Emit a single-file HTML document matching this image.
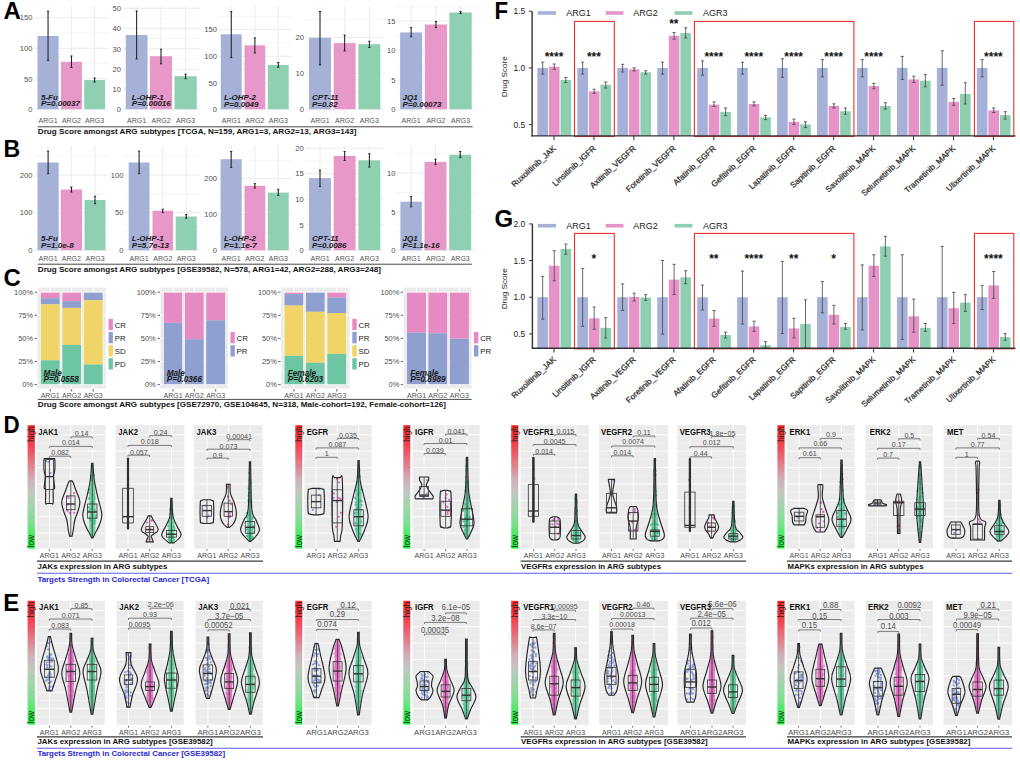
<!DOCTYPE html>
<html><head><meta charset="utf-8"><style>
html,body{margin:0;padding:0;background:#fff;}
svg{display:block;font-family:"Liberation Sans", sans-serif;}
</style></head><body>
<svg width="1020" height="762" viewBox="0 0 1020 762">
<rect width="1020" height="762" fill="#fff"/>
<line x1="34.2" y1="94" x2="108.2" y2="94" stroke="#f3f3f3" stroke-width="0.8" />
<line x1="34.2" y1="63.5" x2="108.2" y2="63.5" stroke="#f3f3f3" stroke-width="0.8" />
<line x1="34.2" y1="33" x2="108.2" y2="33" stroke="#f3f3f3" stroke-width="0.8" />
<line x1="34.2" y1="109.2" x2="108.2" y2="109.2" stroke="#e6e6e6" stroke-width="0.8" />
<text x="32.5" y="111.9" font-size="7.6" fill="#4d4d4d" text-anchor="end" >0</text>
<line x1="34.2" y1="78.8" x2="108.2" y2="78.8" stroke="#e6e6e6" stroke-width="0.8" />
<text x="32.5" y="81.5" font-size="7.6" fill="#4d4d4d" text-anchor="end" >50</text>
<line x1="34.2" y1="48.3" x2="108.2" y2="48.3" stroke="#e6e6e6" stroke-width="0.8" />
<text x="32.5" y="51" font-size="7.6" fill="#4d4d4d" text-anchor="end" >100</text>
<line x1="34.2" y1="17.7" x2="108.2" y2="17.7" stroke="#e6e6e6" stroke-width="0.8" />
<text x="32.5" y="20.4" font-size="7.6" fill="#4d4d4d" text-anchor="end" >150</text>
<line x1="48.05" y1="6.4" x2="48.05" y2="113" stroke="#e6e6e6" stroke-width="0.8" />
<line x1="71.45" y1="6.4" x2="71.45" y2="113" stroke="#e6e6e6" stroke-width="0.8" />
<line x1="94.6" y1="6.4" x2="94.6" y2="113" stroke="#e6e6e6" stroke-width="0.8" />
<rect x="37.5" y="36" width="21.1" height="73.2" fill="#a6b1d7" />
<rect x="61" y="61.8" width="20.9" height="47.4" fill="#e897c9" />
<rect x="84.2" y="80" width="20.8" height="29.2" fill="#8fcfb2" />
<line x1="48.05" y1="11.3" x2="48.05" y2="60.3" stroke="#1a1a1a" stroke-width="1" />
<line x1="46.95" y1="11.3" x2="49.15" y2="11.3" stroke="#1a1a1a" stroke-width="0.9" />
<line x1="46.95" y1="60.3" x2="49.15" y2="60.3" stroke="#1a1a1a" stroke-width="0.9" />
<text x="48.05" y="123.2" font-size="7" fill="#555" text-anchor="middle" >ARG1</text>
<line x1="71.45" y1="56" x2="71.45" y2="67.5" stroke="#1a1a1a" stroke-width="1" />
<line x1="70.35" y1="56" x2="72.55" y2="56" stroke="#1a1a1a" stroke-width="0.9" />
<line x1="70.35" y1="67.5" x2="72.55" y2="67.5" stroke="#1a1a1a" stroke-width="0.9" />
<text x="71.45" y="123.2" font-size="7" fill="#555" text-anchor="middle" >ARG2</text>
<line x1="94.6" y1="78" x2="94.6" y2="82" stroke="#1a1a1a" stroke-width="1" />
<line x1="93.5" y1="78" x2="95.7" y2="78" stroke="#1a1a1a" stroke-width="0.9" />
<line x1="93.5" y1="82" x2="95.7" y2="82" stroke="#1a1a1a" stroke-width="0.9" />
<text x="94.6" y="123.2" font-size="7" fill="#555" text-anchor="middle" >ARG3</text>
<text x="41" y="100" font-size="8" fill="#1a1a1a" font-weight="bold" font-style="italic" >5-Fu</text>
<text x="41" y="106.4" font-size="8" fill="#1a1a1a" font-weight="bold" font-style="italic" >P=0.00037</text>
<line x1="122.5" y1="99.2" x2="200" y2="99.2" stroke="#f3f3f3" stroke-width="0.8" />
<line x1="122.5" y1="79.2" x2="200" y2="79.2" stroke="#f3f3f3" stroke-width="0.8" />
<line x1="122.5" y1="59" x2="200" y2="59" stroke="#f3f3f3" stroke-width="0.8" />
<line x1="122.5" y1="38.5" x2="200" y2="38.5" stroke="#f3f3f3" stroke-width="0.8" />
<line x1="122.5" y1="18.3" x2="200" y2="18.3" stroke="#f3f3f3" stroke-width="0.8" />
<line x1="122.5" y1="109.2" x2="200" y2="109.2" stroke="#e6e6e6" stroke-width="0.8" />
<text x="121" y="111.9" font-size="7.6" fill="#4d4d4d" text-anchor="end" >0</text>
<line x1="122.5" y1="89.2" x2="200" y2="89.2" stroke="#e6e6e6" stroke-width="0.8" />
<text x="121" y="91.9" font-size="7.6" fill="#4d4d4d" text-anchor="end" >10</text>
<line x1="122.5" y1="69.2" x2="200" y2="69.2" stroke="#e6e6e6" stroke-width="0.8" />
<text x="121" y="71.9" font-size="7.6" fill="#4d4d4d" text-anchor="end" >20</text>
<line x1="122.5" y1="48.8" x2="200" y2="48.8" stroke="#e6e6e6" stroke-width="0.8" />
<text x="121" y="51.5" font-size="7.6" fill="#4d4d4d" text-anchor="end" >30</text>
<line x1="122.5" y1="28.3" x2="200" y2="28.3" stroke="#e6e6e6" stroke-width="0.8" />
<text x="121" y="31" font-size="7.6" fill="#4d4d4d" text-anchor="end" >40</text>
<line x1="122.5" y1="8.3" x2="200" y2="8.3" stroke="#e6e6e6" stroke-width="0.8" />
<text x="121" y="11" font-size="7.6" fill="#4d4d4d" text-anchor="end" >50</text>
<line x1="136.65" y1="6.4" x2="136.65" y2="113" stroke="#e6e6e6" stroke-width="0.8" />
<line x1="161" y1="6.4" x2="161" y2="113" stroke="#e6e6e6" stroke-width="0.8" />
<line x1="185.6" y1="6.4" x2="185.6" y2="113" stroke="#e6e6e6" stroke-width="0.8" />
<rect x="125.8" y="35" width="21.7" height="74.2" fill="#a6b1d7" />
<rect x="150" y="56.2" width="22" height="53" fill="#e897c9" />
<rect x="174.5" y="76.2" width="22.2" height="33" fill="#8fcfb2" />
<line x1="136.65" y1="11" x2="136.65" y2="59" stroke="#1a1a1a" stroke-width="1" />
<line x1="135.55" y1="11" x2="137.75" y2="11" stroke="#1a1a1a" stroke-width="0.9" />
<line x1="135.55" y1="59" x2="137.75" y2="59" stroke="#1a1a1a" stroke-width="0.9" />
<text x="136.65" y="123.2" font-size="7" fill="#555" text-anchor="middle" >ARG1</text>
<line x1="161" y1="49.2" x2="161" y2="63.8" stroke="#1a1a1a" stroke-width="1" />
<line x1="159.9" y1="49.2" x2="162.1" y2="49.2" stroke="#1a1a1a" stroke-width="0.9" />
<line x1="159.9" y1="63.8" x2="162.1" y2="63.8" stroke="#1a1a1a" stroke-width="0.9" />
<text x="161" y="123.2" font-size="7" fill="#555" text-anchor="middle" >ARG2</text>
<line x1="185.6" y1="74.2" x2="185.6" y2="78.7" stroke="#1a1a1a" stroke-width="1" />
<line x1="184.5" y1="74.2" x2="186.7" y2="74.2" stroke="#1a1a1a" stroke-width="0.9" />
<line x1="184.5" y1="78.7" x2="186.7" y2="78.7" stroke="#1a1a1a" stroke-width="0.9" />
<text x="185.6" y="123.2" font-size="7" fill="#555" text-anchor="middle" >ARG3</text>
<text x="131.8" y="100" font-size="8" fill="#1a1a1a" font-weight="bold" font-style="italic" >L-OHP-1</text>
<text x="131.8" y="106.4" font-size="8" fill="#1a1a1a" font-weight="bold" font-style="italic" >P=0.00016</text>
<line x1="218.5" y1="96.1" x2="292" y2="96.1" stroke="#f3f3f3" stroke-width="0.8" />
<line x1="218.5" y1="69.6" x2="292" y2="69.6" stroke="#f3f3f3" stroke-width="0.8" />
<line x1="218.5" y1="43" x2="292" y2="43" stroke="#f3f3f3" stroke-width="0.8" />
<line x1="218.5" y1="16.3" x2="292" y2="16.3" stroke="#f3f3f3" stroke-width="0.8" />
<line x1="218.5" y1="109.3" x2="292" y2="109.3" stroke="#e6e6e6" stroke-width="0.8" />
<text x="217" y="112" font-size="7.6" fill="#4d4d4d" text-anchor="end" >0</text>
<line x1="218.5" y1="83" x2="292" y2="83" stroke="#e6e6e6" stroke-width="0.8" />
<text x="217" y="85.7" font-size="7.6" fill="#4d4d4d" text-anchor="end" >50</text>
<line x1="218.5" y1="56.3" x2="292" y2="56.3" stroke="#e6e6e6" stroke-width="0.8" />
<text x="217" y="59" font-size="7.6" fill="#4d4d4d" text-anchor="end" >100</text>
<line x1="218.5" y1="29.6" x2="292" y2="29.6" stroke="#e6e6e6" stroke-width="0.8" />
<text x="217" y="32.3" font-size="7.6" fill="#4d4d4d" text-anchor="end" >150</text>
<line x1="231.25" y1="6.4" x2="231.25" y2="113" stroke="#e6e6e6" stroke-width="0.8" />
<line x1="254.9" y1="6.4" x2="254.9" y2="113" stroke="#e6e6e6" stroke-width="0.8" />
<line x1="278.25" y1="6.4" x2="278.25" y2="113" stroke="#e6e6e6" stroke-width="0.8" />
<rect x="220.8" y="34.3" width="20.9" height="74.9" fill="#a6b1d7" />
<rect x="244.5" y="45.3" width="20.8" height="63.9" fill="#e897c9" />
<rect x="267.8" y="65" width="20.9" height="44.2" fill="#8fcfb2" />
<line x1="231.25" y1="11.5" x2="231.25" y2="57.6" stroke="#1a1a1a" stroke-width="1" />
<line x1="230.15" y1="11.5" x2="232.35" y2="11.5" stroke="#1a1a1a" stroke-width="0.9" />
<line x1="230.15" y1="57.6" x2="232.35" y2="57.6" stroke="#1a1a1a" stroke-width="0.9" />
<text x="231.25" y="123.2" font-size="7" fill="#555" text-anchor="middle" >ARG1</text>
<line x1="254.9" y1="37.9" x2="254.9" y2="53" stroke="#1a1a1a" stroke-width="1" />
<line x1="253.8" y1="37.9" x2="256" y2="37.9" stroke="#1a1a1a" stroke-width="0.9" />
<line x1="253.8" y1="53" x2="256" y2="53" stroke="#1a1a1a" stroke-width="0.9" />
<text x="254.9" y="123.2" font-size="7" fill="#555" text-anchor="middle" >ARG2</text>
<line x1="278.25" y1="62.6" x2="278.25" y2="67.2" stroke="#1a1a1a" stroke-width="1" />
<line x1="277.15" y1="62.6" x2="279.35" y2="62.6" stroke="#1a1a1a" stroke-width="0.9" />
<line x1="277.15" y1="67.2" x2="279.35" y2="67.2" stroke="#1a1a1a" stroke-width="0.9" />
<text x="278.25" y="123.2" font-size="7" fill="#555" text-anchor="middle" >ARG3</text>
<text x="224" y="99.6" font-size="8" fill="#1a1a1a" font-weight="bold" font-style="italic" >L-OHP-2</text>
<text x="224" y="106.5" font-size="8" fill="#1a1a1a" font-weight="bold" font-style="italic" >P=0.0049</text>
<line x1="305.5" y1="91.3" x2="383.5" y2="91.3" stroke="#f3f3f3" stroke-width="0.8" />
<line x1="305.5" y1="55.4" x2="383.5" y2="55.4" stroke="#f3f3f3" stroke-width="0.8" />
<line x1="305.5" y1="19.7" x2="383.5" y2="19.7" stroke="#f3f3f3" stroke-width="0.8" />
<line x1="305.5" y1="109.3" x2="383.5" y2="109.3" stroke="#e6e6e6" stroke-width="0.8" />
<text x="304" y="112" font-size="7.6" fill="#4d4d4d" text-anchor="end" >0</text>
<line x1="305.5" y1="73.3" x2="383.5" y2="73.3" stroke="#e6e6e6" stroke-width="0.8" />
<text x="304" y="76" font-size="7.6" fill="#4d4d4d" text-anchor="end" >10</text>
<line x1="305.5" y1="37.6" x2="383.5" y2="37.6" stroke="#e6e6e6" stroke-width="0.8" />
<text x="304" y="40.3" font-size="7.6" fill="#4d4d4d" text-anchor="end" >20</text>
<line x1="320" y1="6.4" x2="320" y2="113" stroke="#e6e6e6" stroke-width="0.8" />
<line x1="344.65" y1="6.4" x2="344.65" y2="113" stroke="#e6e6e6" stroke-width="0.8" />
<line x1="369.35" y1="6.4" x2="369.35" y2="113" stroke="#e6e6e6" stroke-width="0.8" />
<rect x="309" y="37.9" width="22" height="71.3" fill="#a6b1d7" />
<rect x="333.7" y="43.1" width="21.9" height="66.1" fill="#e897c9" />
<rect x="358.4" y="44.2" width="21.9" height="65" fill="#8fcfb2" />
<line x1="320" y1="11.5" x2="320" y2="64.8" stroke="#1a1a1a" stroke-width="1" />
<line x1="318.9" y1="11.5" x2="321.1" y2="11.5" stroke="#1a1a1a" stroke-width="0.9" />
<line x1="318.9" y1="64.8" x2="321.1" y2="64.8" stroke="#1a1a1a" stroke-width="0.9" />
<text x="320" y="123.2" font-size="7" fill="#555" text-anchor="middle" >ARG1</text>
<line x1="344.65" y1="35.1" x2="344.65" y2="51" stroke="#1a1a1a" stroke-width="1" />
<line x1="343.55" y1="35.1" x2="345.75" y2="35.1" stroke="#1a1a1a" stroke-width="0.9" />
<line x1="343.55" y1="51" x2="345.75" y2="51" stroke="#1a1a1a" stroke-width="0.9" />
<text x="344.65" y="123.2" font-size="7" fill="#555" text-anchor="middle" >ARG2</text>
<line x1="369.35" y1="41.2" x2="369.35" y2="47.5" stroke="#1a1a1a" stroke-width="1" />
<line x1="368.25" y1="41.2" x2="370.45" y2="41.2" stroke="#1a1a1a" stroke-width="0.9" />
<line x1="368.25" y1="47.5" x2="370.45" y2="47.5" stroke="#1a1a1a" stroke-width="0.9" />
<text x="369.35" y="123.2" font-size="7" fill="#555" text-anchor="middle" >ARG3</text>
<text x="312" y="99.6" font-size="8" fill="#1a1a1a" font-weight="bold" font-style="italic" >CPT-11</text>
<text x="312" y="106.5" font-size="8" fill="#1a1a1a" font-weight="bold" font-style="italic" >P=0.82</text>
<line x1="396.7" y1="94.7" x2="475.1" y2="94.7" stroke="#f3f3f3" stroke-width="0.8" />
<line x1="396.7" y1="65.3" x2="475.1" y2="65.3" stroke="#f3f3f3" stroke-width="0.8" />
<line x1="396.7" y1="35.8" x2="475.1" y2="35.8" stroke="#f3f3f3" stroke-width="0.8" />
<line x1="396.7" y1="6.7" x2="475.1" y2="6.7" stroke="#f3f3f3" stroke-width="0.8" />
<line x1="396.7" y1="109.3" x2="475.1" y2="109.3" stroke="#e6e6e6" stroke-width="0.8" />
<text x="395.5" y="112" font-size="7.6" fill="#4d4d4d" text-anchor="end" >0</text>
<line x1="396.7" y1="80.2" x2="475.1" y2="80.2" stroke="#e6e6e6" stroke-width="0.8" />
<text x="395.5" y="82.9" font-size="7.6" fill="#4d4d4d" text-anchor="end" >5</text>
<line x1="396.7" y1="50.5" x2="475.1" y2="50.5" stroke="#e6e6e6" stroke-width="0.8" />
<text x="395.5" y="53.2" font-size="7.6" fill="#4d4d4d" text-anchor="end" >10</text>
<line x1="396.7" y1="21.1" x2="475.1" y2="21.1" stroke="#e6e6e6" stroke-width="0.8" />
<text x="395.5" y="23.8" font-size="7.6" fill="#4d4d4d" text-anchor="end" >15</text>
<line x1="411.15" y1="6.4" x2="411.15" y2="113" stroke="#e6e6e6" stroke-width="0.8" />
<line x1="435.95" y1="6.4" x2="435.95" y2="113" stroke="#e6e6e6" stroke-width="0.8" />
<line x1="460.55" y1="6.4" x2="460.55" y2="113" stroke="#e6e6e6" stroke-width="0.8" />
<rect x="400.1" y="32.4" width="22.1" height="76.8" fill="#a6b1d7" />
<rect x="424.9" y="24.5" width="22.1" height="84.7" fill="#e897c9" />
<rect x="449.4" y="12.5" width="22.3" height="96.7" fill="#8fcfb2" />
<line x1="411.15" y1="27.6" x2="411.15" y2="36.8" stroke="#1a1a1a" stroke-width="1" />
<line x1="410.05" y1="27.6" x2="412.25" y2="27.6" stroke="#1a1a1a" stroke-width="0.9" />
<line x1="410.05" y1="36.8" x2="412.25" y2="36.8" stroke="#1a1a1a" stroke-width="0.9" />
<text x="411.15" y="123.2" font-size="7" fill="#555" text-anchor="middle" >ARG1</text>
<line x1="435.95" y1="21.4" x2="435.95" y2="27.6" stroke="#1a1a1a" stroke-width="1" />
<line x1="434.85" y1="21.4" x2="437.05" y2="21.4" stroke="#1a1a1a" stroke-width="0.9" />
<line x1="434.85" y1="27.6" x2="437.05" y2="27.6" stroke="#1a1a1a" stroke-width="0.9" />
<text x="435.95" y="123.2" font-size="7" fill="#555" text-anchor="middle" >ARG2</text>
<line x1="460.55" y1="11.6" x2="460.55" y2="13.5" stroke="#1a1a1a" stroke-width="1" />
<line x1="459.45" y1="11.6" x2="461.65" y2="11.6" stroke="#1a1a1a" stroke-width="0.9" />
<line x1="459.45" y1="13.5" x2="461.65" y2="13.5" stroke="#1a1a1a" stroke-width="0.9" />
<text x="460.55" y="123.2" font-size="7" fill="#555" text-anchor="middle" >ARG3</text>
<text x="402.5" y="99.6" font-size="8" fill="#1a1a1a" font-weight="bold" font-style="italic" >JQ1</text>
<text x="402.5" y="106.5" font-size="8" fill="#1a1a1a" font-weight="bold" font-style="italic" >P=0.00073</text>
<line x1="37.8" y1="126.8" x2="472.6" y2="126.8" stroke="#333" stroke-width="0.9" />
<text x="37.8" y="134" font-size="8.1" fill="#111" font-weight="bold" textLength="318.7" lengthAdjust="spacingAndGlyphs" >Drug Score amongst ARG subtypes [TCGA, N=159, ARG1=3, ARG2=13, ARG3=143]</text>
<text x="3.4" y="19.4" font-size="24" fill="#000" font-weight="bold" >A</text>
<line x1="34.2" y1="231.4" x2="108.2" y2="231.4" stroke="#f3f3f3" stroke-width="0.8" />
<line x1="34.2" y1="193.8" x2="108.2" y2="193.8" stroke="#f3f3f3" stroke-width="0.8" />
<line x1="34.2" y1="156.2" x2="108.2" y2="156.2" stroke="#f3f3f3" stroke-width="0.8" />
<line x1="34.2" y1="250.2" x2="108.2" y2="250.2" stroke="#e6e6e6" stroke-width="0.8" />
<text x="32.5" y="252.9" font-size="7.6" fill="#4d4d4d" text-anchor="end" >0</text>
<line x1="34.2" y1="212.6" x2="108.2" y2="212.6" stroke="#e6e6e6" stroke-width="0.8" />
<text x="32.5" y="215.3" font-size="7.6" fill="#4d4d4d" text-anchor="end" >100</text>
<line x1="34.2" y1="175" x2="108.2" y2="175" stroke="#e6e6e6" stroke-width="0.8" />
<text x="32.5" y="177.7" font-size="7.6" fill="#4d4d4d" text-anchor="end" >200</text>
<line x1="48.1" y1="146" x2="48.1" y2="254" stroke="#e6e6e6" stroke-width="0.8" />
<line x1="71.4" y1="146" x2="71.4" y2="254" stroke="#e6e6e6" stroke-width="0.8" />
<line x1="95" y1="146" x2="95" y2="254" stroke="#e6e6e6" stroke-width="0.8" />
<rect x="37.5" y="162.5" width="21.2" height="87.7" fill="#a6b1d7" />
<rect x="60.8" y="189.5" width="21.2" height="60.7" fill="#e897c9" />
<rect x="84.5" y="200" width="21" height="50.2" fill="#8fcfb2" />
<line x1="48.1" y1="151.2" x2="48.1" y2="173.7" stroke="#1a1a1a" stroke-width="1" />
<line x1="47" y1="151.2" x2="49.2" y2="151.2" stroke="#1a1a1a" stroke-width="0.9" />
<line x1="47" y1="173.7" x2="49.2" y2="173.7" stroke="#1a1a1a" stroke-width="0.9" />
<text x="48.1" y="261.4" font-size="7" fill="#555" text-anchor="middle" >ARG1</text>
<line x1="71.4" y1="187" x2="71.4" y2="192" stroke="#1a1a1a" stroke-width="1" />
<line x1="70.3" y1="187" x2="72.5" y2="187" stroke="#1a1a1a" stroke-width="0.9" />
<line x1="70.3" y1="192" x2="72.5" y2="192" stroke="#1a1a1a" stroke-width="0.9" />
<text x="71.4" y="261.4" font-size="7" fill="#555" text-anchor="middle" >ARG2</text>
<line x1="95" y1="196.2" x2="95" y2="203.7" stroke="#1a1a1a" stroke-width="1" />
<line x1="93.9" y1="196.2" x2="96.1" y2="196.2" stroke="#1a1a1a" stroke-width="0.9" />
<line x1="93.9" y1="203.7" x2="96.1" y2="203.7" stroke="#1a1a1a" stroke-width="0.9" />
<text x="95" y="261.4" font-size="7" fill="#555" text-anchor="middle" >ARG3</text>
<text x="41" y="241" font-size="8" fill="#1a1a1a" font-weight="bold" font-style="italic" >5-Fu</text>
<text x="41" y="248" font-size="8" fill="#1a1a1a" font-weight="bold" font-style="italic" >P=1.0e-8</text>
<line x1="125" y1="231.4" x2="200" y2="231.4" stroke="#f3f3f3" stroke-width="0.8" />
<line x1="125" y1="193.8" x2="200" y2="193.8" stroke="#f3f3f3" stroke-width="0.8" />
<line x1="125" y1="156.2" x2="200" y2="156.2" stroke="#f3f3f3" stroke-width="0.8" />
<line x1="125" y1="250.2" x2="200" y2="250.2" stroke="#e6e6e6" stroke-width="0.8" />
<text x="123.5" y="252.9" font-size="7.6" fill="#4d4d4d" text-anchor="end" >0</text>
<line x1="125" y1="212.6" x2="200" y2="212.6" stroke="#e6e6e6" stroke-width="0.8" />
<text x="123.5" y="215.3" font-size="7.6" fill="#4d4d4d" text-anchor="end" >50</text>
<line x1="125" y1="175" x2="200" y2="175" stroke="#e6e6e6" stroke-width="0.8" />
<text x="123.5" y="177.7" font-size="7.6" fill="#4d4d4d" text-anchor="end" >100</text>
<line x1="139.1" y1="146" x2="139.1" y2="254" stroke="#e6e6e6" stroke-width="0.8" />
<line x1="162.75" y1="146" x2="162.75" y2="254" stroke="#e6e6e6" stroke-width="0.8" />
<line x1="186.2" y1="146" x2="186.2" y2="254" stroke="#e6e6e6" stroke-width="0.8" />
<rect x="128.7" y="162.5" width="20.8" height="87.7" fill="#a6b1d7" />
<rect x="152.5" y="210.7" width="20.5" height="39.5" fill="#e897c9" />
<rect x="175.7" y="216.5" width="21" height="33.7" fill="#8fcfb2" />
<line x1="139.1" y1="151.2" x2="139.1" y2="173.7" stroke="#1a1a1a" stroke-width="1" />
<line x1="138" y1="151.2" x2="140.2" y2="151.2" stroke="#1a1a1a" stroke-width="0.9" />
<line x1="138" y1="173.7" x2="140.2" y2="173.7" stroke="#1a1a1a" stroke-width="0.9" />
<text x="139.1" y="261.4" font-size="7" fill="#555" text-anchor="middle" >ARG1</text>
<line x1="162.75" y1="209.2" x2="162.75" y2="212.5" stroke="#1a1a1a" stroke-width="1" />
<line x1="161.65" y1="209.2" x2="163.85" y2="209.2" stroke="#1a1a1a" stroke-width="0.9" />
<line x1="161.65" y1="212.5" x2="163.85" y2="212.5" stroke="#1a1a1a" stroke-width="0.9" />
<text x="162.75" y="261.4" font-size="7" fill="#555" text-anchor="middle" >ARG2</text>
<line x1="186.2" y1="214.5" x2="186.2" y2="218.2" stroke="#1a1a1a" stroke-width="1" />
<line x1="185.1" y1="214.5" x2="187.3" y2="214.5" stroke="#1a1a1a" stroke-width="0.9" />
<line x1="185.1" y1="218.2" x2="187.3" y2="218.2" stroke="#1a1a1a" stroke-width="0.9" />
<text x="186.2" y="261.4" font-size="7" fill="#555" text-anchor="middle" >ARG3</text>
<text x="131.8" y="241" font-size="8" fill="#1a1a1a" font-weight="bold" font-style="italic" >L-OHP-1</text>
<text x="131.8" y="248" font-size="8" fill="#1a1a1a" font-weight="bold" font-style="italic" >P=5.7e-13</text>
<line x1="218.5" y1="232.5" x2="292" y2="232.5" stroke="#f3f3f3" stroke-width="0.8" />
<line x1="218.5" y1="196.5" x2="292" y2="196.5" stroke="#f3f3f3" stroke-width="0.8" />
<line x1="218.5" y1="160.3" x2="292" y2="160.3" stroke="#f3f3f3" stroke-width="0.8" />
<line x1="218.5" y1="250.3" x2="292" y2="250.3" stroke="#e6e6e6" stroke-width="0.8" />
<text x="217" y="253" font-size="7.6" fill="#4d4d4d" text-anchor="end" >0</text>
<line x1="218.5" y1="214.6" x2="292" y2="214.6" stroke="#e6e6e6" stroke-width="0.8" />
<text x="217" y="217.3" font-size="7.6" fill="#4d4d4d" text-anchor="end" >100</text>
<line x1="218.5" y1="178.4" x2="292" y2="178.4" stroke="#e6e6e6" stroke-width="0.8" />
<text x="217" y="181.1" font-size="7.6" fill="#4d4d4d" text-anchor="end" >200</text>
<line x1="231.15" y1="146" x2="231.15" y2="254" stroke="#e6e6e6" stroke-width="0.8" />
<line x1="254.9" y1="146" x2="254.9" y2="254" stroke="#e6e6e6" stroke-width="0.8" />
<line x1="278.25" y1="146" x2="278.25" y2="254" stroke="#e6e6e6" stroke-width="0.8" />
<rect x="220.6" y="159.2" width="21.1" height="91" fill="#a6b1d7" />
<rect x="244.5" y="185.8" width="20.8" height="64.4" fill="#e897c9" />
<rect x="267.8" y="192.6" width="20.9" height="57.6" fill="#8fcfb2" />
<line x1="231.15" y1="151.5" x2="231.15" y2="167.4" stroke="#1a1a1a" stroke-width="1" />
<line x1="230.05" y1="151.5" x2="232.25" y2="151.5" stroke="#1a1a1a" stroke-width="0.9" />
<line x1="230.05" y1="167.4" x2="232.25" y2="167.4" stroke="#1a1a1a" stroke-width="0.9" />
<text x="231.15" y="261.4" font-size="7" fill="#555" text-anchor="middle" >ARG1</text>
<line x1="254.9" y1="183.6" x2="254.9" y2="188" stroke="#1a1a1a" stroke-width="1" />
<line x1="253.8" y1="183.6" x2="256" y2="183.6" stroke="#1a1a1a" stroke-width="0.9" />
<line x1="253.8" y1="188" x2="256" y2="188" stroke="#1a1a1a" stroke-width="0.9" />
<text x="254.9" y="261.4" font-size="7" fill="#555" text-anchor="middle" >ARG2</text>
<line x1="278.25" y1="189.3" x2="278.25" y2="195.4" stroke="#1a1a1a" stroke-width="1" />
<line x1="277.15" y1="189.3" x2="279.35" y2="189.3" stroke="#1a1a1a" stroke-width="0.9" />
<line x1="277.15" y1="195.4" x2="279.35" y2="195.4" stroke="#1a1a1a" stroke-width="0.9" />
<text x="278.25" y="261.4" font-size="7" fill="#555" text-anchor="middle" >ARG3</text>
<text x="224" y="241" font-size="8" fill="#1a1a1a" font-weight="bold" font-style="italic" >L-OHP-2</text>
<text x="224" y="248" font-size="8" fill="#1a1a1a" font-weight="bold" font-style="italic" >P=1.1e-7</text>
<line x1="305.5" y1="237.5" x2="383.5" y2="237.5" stroke="#f3f3f3" stroke-width="0.8" />
<line x1="305.5" y1="211.9" x2="383.5" y2="211.9" stroke="#f3f3f3" stroke-width="0.8" />
<line x1="305.5" y1="186.2" x2="383.5" y2="186.2" stroke="#f3f3f3" stroke-width="0.8" />
<line x1="305.5" y1="160.8" x2="383.5" y2="160.8" stroke="#f3f3f3" stroke-width="0.8" />
<line x1="305.5" y1="250.3" x2="383.5" y2="250.3" stroke="#e6e6e6" stroke-width="0.8" />
<text x="303.8" y="253" font-size="7.6" fill="#4d4d4d" text-anchor="end" >0</text>
<line x1="305.5" y1="224.8" x2="383.5" y2="224.8" stroke="#e6e6e6" stroke-width="0.8" />
<text x="303.8" y="227.5" font-size="7.6" fill="#4d4d4d" text-anchor="end" >5</text>
<line x1="305.5" y1="199" x2="383.5" y2="199" stroke="#e6e6e6" stroke-width="0.8" />
<text x="303.8" y="201.7" font-size="7.6" fill="#4d4d4d" text-anchor="end" >10</text>
<line x1="305.5" y1="173.4" x2="383.5" y2="173.4" stroke="#e6e6e6" stroke-width="0.8" />
<text x="303.8" y="176.1" font-size="7.6" fill="#4d4d4d" text-anchor="end" >15</text>
<line x1="305.5" y1="148.2" x2="383.5" y2="148.2" stroke="#e6e6e6" stroke-width="0.8" />
<text x="303.8" y="150.9" font-size="7.6" fill="#4d4d4d" text-anchor="end" >20</text>
<line x1="320" y1="146" x2="320" y2="254" stroke="#e6e6e6" stroke-width="0.8" />
<line x1="344.65" y1="146" x2="344.65" y2="254" stroke="#e6e6e6" stroke-width="0.8" />
<line x1="369.35" y1="146" x2="369.35" y2="254" stroke="#e6e6e6" stroke-width="0.8" />
<rect x="309" y="178.1" width="22" height="72.1" fill="#a6b1d7" />
<rect x="333.7" y="155.9" width="21.9" height="94.3" fill="#e897c9" />
<rect x="358.4" y="160.3" width="21.9" height="89.9" fill="#8fcfb2" />
<line x1="320" y1="170.1" x2="320" y2="186.6" stroke="#1a1a1a" stroke-width="1" />
<line x1="318.9" y1="170.1" x2="321.1" y2="170.1" stroke="#1a1a1a" stroke-width="0.9" />
<line x1="318.9" y1="186.6" x2="321.1" y2="186.6" stroke="#1a1a1a" stroke-width="0.9" />
<text x="320" y="261.4" font-size="7" fill="#555" text-anchor="middle" >ARG1</text>
<line x1="344.65" y1="151.5" x2="344.65" y2="160.5" stroke="#1a1a1a" stroke-width="1" />
<line x1="343.55" y1="151.5" x2="345.75" y2="151.5" stroke="#1a1a1a" stroke-width="0.9" />
<line x1="343.55" y1="160.5" x2="345.75" y2="160.5" stroke="#1a1a1a" stroke-width="0.9" />
<text x="344.65" y="261.4" font-size="7" fill="#555" text-anchor="middle" >ARG2</text>
<line x1="369.35" y1="153.7" x2="369.35" y2="167.1" stroke="#1a1a1a" stroke-width="1" />
<line x1="368.25" y1="153.7" x2="370.45" y2="153.7" stroke="#1a1a1a" stroke-width="0.9" />
<line x1="368.25" y1="167.1" x2="370.45" y2="167.1" stroke="#1a1a1a" stroke-width="0.9" />
<text x="369.35" y="261.4" font-size="7" fill="#555" text-anchor="middle" >ARG3</text>
<text x="312" y="241" font-size="8" fill="#1a1a1a" font-weight="bold" font-style="italic" >CPT-11</text>
<text x="312" y="248" font-size="8" fill="#1a1a1a" font-weight="bold" font-style="italic" >P=0.0086</text>
<line x1="396.7" y1="231.1" x2="475.1" y2="231.1" stroke="#f3f3f3" stroke-width="0.8" />
<line x1="396.7" y1="192.4" x2="475.1" y2="192.4" stroke="#f3f3f3" stroke-width="0.8" />
<line x1="396.7" y1="153.6" x2="475.1" y2="153.6" stroke="#f3f3f3" stroke-width="0.8" />
<line x1="396.7" y1="250.3" x2="475.1" y2="250.3" stroke="#e6e6e6" stroke-width="0.8" />
<text x="395.4" y="253" font-size="7.6" fill="#4d4d4d" text-anchor="end" >0</text>
<line x1="396.7" y1="211.9" x2="475.1" y2="211.9" stroke="#e6e6e6" stroke-width="0.8" />
<text x="395.4" y="214.6" font-size="7.6" fill="#4d4d4d" text-anchor="end" >5</text>
<line x1="396.7" y1="172.9" x2="475.1" y2="172.9" stroke="#e6e6e6" stroke-width="0.8" />
<text x="395.4" y="175.6" font-size="7.6" fill="#4d4d4d" text-anchor="end" >10</text>
<line x1="411.1" y1="146" x2="411.1" y2="254" stroke="#e6e6e6" stroke-width="0.8" />
<line x1="435.5" y1="146" x2="435.5" y2="254" stroke="#e6e6e6" stroke-width="0.8" />
<line x1="460.2" y1="146" x2="460.2" y2="254" stroke="#e6e6e6" stroke-width="0.8" />
<rect x="400.4" y="201.7" width="21.4" height="48.5" fill="#a6b1d7" />
<rect x="424.5" y="161.9" width="22" height="88.3" fill="#e897c9" />
<rect x="449.2" y="154.8" width="22" height="95.4" fill="#8fcfb2" />
<line x1="411.1" y1="196.5" x2="411.1" y2="206.9" stroke="#1a1a1a" stroke-width="1" />
<line x1="410" y1="196.5" x2="412.2" y2="196.5" stroke="#1a1a1a" stroke-width="0.9" />
<line x1="410" y1="206.9" x2="412.2" y2="206.9" stroke="#1a1a1a" stroke-width="0.9" />
<text x="411.1" y="261.4" font-size="7" fill="#555" text-anchor="middle" >ARG1</text>
<line x1="435.5" y1="159.2" x2="435.5" y2="164.6" stroke="#1a1a1a" stroke-width="1" />
<line x1="434.4" y1="159.2" x2="436.6" y2="159.2" stroke="#1a1a1a" stroke-width="0.9" />
<line x1="434.4" y1="164.6" x2="436.6" y2="164.6" stroke="#1a1a1a" stroke-width="0.9" />
<text x="435.5" y="261.4" font-size="7" fill="#555" text-anchor="middle" >ARG2</text>
<line x1="460.2" y1="151.5" x2="460.2" y2="157.5" stroke="#1a1a1a" stroke-width="1" />
<line x1="459.1" y1="151.5" x2="461.3" y2="151.5" stroke="#1a1a1a" stroke-width="0.9" />
<line x1="459.1" y1="157.5" x2="461.3" y2="157.5" stroke="#1a1a1a" stroke-width="0.9" />
<text x="460.2" y="261.4" font-size="7" fill="#555" text-anchor="middle" >ARG3</text>
<text x="402.5" y="241" font-size="8" fill="#1a1a1a" font-weight="bold" font-style="italic" >JQ1</text>
<text x="402.5" y="248" font-size="8" fill="#1a1a1a" font-weight="bold" font-style="italic" >P=1.1e-16</text>
<line x1="37.8" y1="264.2" x2="471.8" y2="264.2" stroke="#333" stroke-width="0.9" />
<text x="37.8" y="271.8" font-size="8.1" fill="#111" font-weight="bold" textLength="343.2" lengthAdjust="spacingAndGlyphs" >Drug Score amongst ARG subtypes [GSE39582, N=578, ARG1=42, ARG2=288, ARG3=248]</text>
<text x="3.6" y="156.9" font-size="24" fill="#000" font-weight="bold" textLength="16.7" lengthAdjust="spacingAndGlyphs" >B</text>
<rect x="37.5" y="287.6" width="68.4" height="100.9" fill="#ebebeb" />
<line x1="37.5" y1="384.6" x2="105.9" y2="384.6" stroke="#fff" stroke-width="0.9" />
<line x1="37.5" y1="361.5" x2="105.9" y2="361.5" stroke="#fff" stroke-width="0.9" />
<line x1="37.5" y1="338.4" x2="105.9" y2="338.4" stroke="#fff" stroke-width="0.9" />
<line x1="37.5" y1="315.3" x2="105.9" y2="315.3" stroke="#fff" stroke-width="0.9" />
<line x1="37.5" y1="292.2" x2="105.9" y2="292.2" stroke="#fff" stroke-width="0.9" />
<line x1="37.5" y1="373.05" x2="105.9" y2="373.05" stroke="#f6f6f6" stroke-width="0.5" />
<line x1="37.5" y1="349.95" x2="105.9" y2="349.95" stroke="#f6f6f6" stroke-width="0.5" />
<line x1="37.5" y1="326.85" x2="105.9" y2="326.85" stroke="#f6f6f6" stroke-width="0.5" />
<line x1="37.5" y1="303.75" x2="105.9" y2="303.75" stroke="#f6f6f6" stroke-width="0.5" />
<line x1="50.2" y1="287.6" x2="50.2" y2="388.5" stroke="#fff" stroke-width="0.9" />
<line x1="71.65" y1="287.6" x2="71.65" y2="388.5" stroke="#fff" stroke-width="0.9" />
<line x1="93.2" y1="287.6" x2="93.2" y2="388.5" stroke="#fff" stroke-width="0.9" />
<rect x="40.4" y="292.2" width="19.6" height="6" fill="#e68ac4" />
<rect x="40.4" y="298.2" width="19.6" height="6.2" fill="#8f9fd0" />
<rect x="40.4" y="304.4" width="19.6" height="55.9" fill="#f1d467" />
<rect x="40.4" y="360.3" width="19.6" height="24.3" fill="#6cc5a3" />
<rect x="40.4" y="292.2" width="19.6" height="92.4" fill="none" stroke="#fff" stroke-width="0.6"/>
<line x1="50.2" y1="389" x2="50.2" y2="391.5" stroke="#444" stroke-width="0.8" />
<text x="50.2" y="397.6" font-size="7" fill="#555" text-anchor="middle" >ARG1</text>
<rect x="62" y="292.2" width="19.3" height="9" fill="#e68ac4" />
<rect x="62" y="301.2" width="19.3" height="6.7" fill="#8f9fd0" />
<rect x="62" y="307.9" width="19.3" height="37" fill="#f1d467" />
<rect x="62" y="344.9" width="19.3" height="39.7" fill="#6cc5a3" />
<rect x="62" y="292.2" width="19.3" height="92.4" fill="none" stroke="#fff" stroke-width="0.6"/>
<line x1="71.65" y1="389" x2="71.65" y2="391.5" stroke="#444" stroke-width="0.8" />
<text x="71.65" y="397.6" font-size="7" fill="#555" text-anchor="middle" >ARG2</text>
<rect x="83.4" y="292.2" width="19.6" height="8" fill="#8f9fd0" />
<rect x="83.4" y="300.2" width="19.6" height="64.3" fill="#f1d467" />
<rect x="83.4" y="364.5" width="19.6" height="20.1" fill="#6cc5a3" />
<rect x="83.4" y="292.2" width="19.6" height="92.4" fill="none" stroke="#fff" stroke-width="0.6"/>
<line x1="93.2" y1="389" x2="93.2" y2="391.5" stroke="#444" stroke-width="0.8" />
<text x="93.2" y="397.6" font-size="7" fill="#555" text-anchor="middle" >ARG3</text>
<line x1="34.5" y1="384.6" x2="37" y2="384.6" stroke="#444" stroke-width="0.8" />
<text x="33" y="387.3" font-size="7.4" fill="#4d4d4d" text-anchor="end" >0%</text>
<line x1="34.5" y1="361.5" x2="37" y2="361.5" stroke="#444" stroke-width="0.8" />
<text x="33" y="364.2" font-size="7.4" fill="#4d4d4d" text-anchor="end" >25%</text>
<line x1="34.5" y1="338.4" x2="37" y2="338.4" stroke="#444" stroke-width="0.8" />
<text x="33" y="341.1" font-size="7.4" fill="#4d4d4d" text-anchor="end" >50%</text>
<line x1="34.5" y1="315.3" x2="37" y2="315.3" stroke="#444" stroke-width="0.8" />
<text x="33" y="318" font-size="7.4" fill="#4d4d4d" text-anchor="end" >75%</text>
<line x1="34.5" y1="292.2" x2="37" y2="292.2" stroke="#444" stroke-width="0.8" />
<text x="33" y="294.9" font-size="7.4" fill="#4d4d4d" text-anchor="end" >100%</text>
<text x="43.6" y="375.5" font-size="8.2" fill="#1a1a1a" font-weight="bold" font-style="italic" >Male</text>
<text x="43.6" y="381.9" font-size="8.2" fill="#1a1a1a" font-weight="bold" font-style="italic" >P=0.0558</text>
<rect x="108.5" y="318.8" width="4.4" height="11.3" fill="#e68ac4" />
<text x="114.7" y="327.5" font-size="7.8" fill="#222" >CR</text>
<rect x="108.5" y="332" width="4.4" height="11.3" fill="#8f9fd0" />
<text x="114.7" y="340.7" font-size="7.8" fill="#222" >PR</text>
<rect x="108.5" y="345.2" width="4.4" height="11.3" fill="#f1d467" />
<text x="114.7" y="353.9" font-size="7.8" fill="#222" >SD</text>
<rect x="108.5" y="358.2" width="4.4" height="11.3" fill="#6cc5a3" />
<text x="114.7" y="366.9" font-size="7.8" fill="#222" >PD</text>
<rect x="160.5" y="287.6" width="67.5" height="100.9" fill="#ebebeb" />
<line x1="160.5" y1="384.6" x2="228" y2="384.6" stroke="#fff" stroke-width="0.9" />
<line x1="160.5" y1="361.5" x2="228" y2="361.5" stroke="#fff" stroke-width="0.9" />
<line x1="160.5" y1="338.4" x2="228" y2="338.4" stroke="#fff" stroke-width="0.9" />
<line x1="160.5" y1="315.3" x2="228" y2="315.3" stroke="#fff" stroke-width="0.9" />
<line x1="160.5" y1="292.2" x2="228" y2="292.2" stroke="#fff" stroke-width="0.9" />
<line x1="160.5" y1="373.05" x2="228" y2="373.05" stroke="#f6f6f6" stroke-width="0.5" />
<line x1="160.5" y1="349.95" x2="228" y2="349.95" stroke="#f6f6f6" stroke-width="0.5" />
<line x1="160.5" y1="326.85" x2="228" y2="326.85" stroke="#f6f6f6" stroke-width="0.5" />
<line x1="160.5" y1="303.75" x2="228" y2="303.75" stroke="#f6f6f6" stroke-width="0.5" />
<line x1="173.05" y1="287.6" x2="173.05" y2="388.5" stroke="#fff" stroke-width="0.9" />
<line x1="194.3" y1="287.6" x2="194.3" y2="388.5" stroke="#fff" stroke-width="0.9" />
<line x1="215.7" y1="287.6" x2="215.7" y2="388.5" stroke="#fff" stroke-width="0.9" />
<rect x="163.5" y="292.2" width="19.1" height="30.6" fill="#e68ac4" />
<rect x="163.5" y="322.8" width="19.1" height="61.8" fill="#8f9fd0" />
<rect x="163.5" y="292.2" width="19.1" height="92.4" fill="none" stroke="#fff" stroke-width="0.6"/>
<line x1="173.05" y1="389" x2="173.05" y2="391.5" stroke="#444" stroke-width="0.8" />
<text x="173.05" y="397.6" font-size="7" fill="#555" text-anchor="middle" >ARG1</text>
<rect x="184.6" y="292.2" width="19.4" height="47" fill="#e68ac4" />
<rect x="184.6" y="339.2" width="19.4" height="45.4" fill="#8f9fd0" />
<rect x="184.6" y="292.2" width="19.4" height="92.4" fill="none" stroke="#fff" stroke-width="0.6"/>
<line x1="194.3" y1="389" x2="194.3" y2="391.5" stroke="#444" stroke-width="0.8" />
<text x="194.3" y="397.6" font-size="7" fill="#555" text-anchor="middle" >ARG2</text>
<rect x="205.9" y="292.2" width="19.6" height="28.1" fill="#e68ac4" />
<rect x="205.9" y="320.3" width="19.6" height="64.3" fill="#8f9fd0" />
<rect x="205.9" y="292.2" width="19.6" height="92.4" fill="none" stroke="#fff" stroke-width="0.6"/>
<line x1="215.7" y1="389" x2="215.7" y2="391.5" stroke="#444" stroke-width="0.8" />
<text x="215.7" y="397.6" font-size="7" fill="#555" text-anchor="middle" >ARG3</text>
<line x1="157.5" y1="384.6" x2="160" y2="384.6" stroke="#444" stroke-width="0.8" />
<text x="155.6" y="387.3" font-size="7.4" fill="#4d4d4d" text-anchor="end" >0%</text>
<line x1="157.5" y1="361.5" x2="160" y2="361.5" stroke="#444" stroke-width="0.8" />
<text x="155.6" y="364.2" font-size="7.4" fill="#4d4d4d" text-anchor="end" >25%</text>
<line x1="157.5" y1="338.4" x2="160" y2="338.4" stroke="#444" stroke-width="0.8" />
<text x="155.6" y="341.1" font-size="7.4" fill="#4d4d4d" text-anchor="end" >50%</text>
<line x1="157.5" y1="315.3" x2="160" y2="315.3" stroke="#444" stroke-width="0.8" />
<text x="155.6" y="318" font-size="7.4" fill="#4d4d4d" text-anchor="end" >75%</text>
<line x1="157.5" y1="292.2" x2="160" y2="292.2" stroke="#444" stroke-width="0.8" />
<text x="155.6" y="294.9" font-size="7.4" fill="#4d4d4d" text-anchor="end" >100%</text>
<text x="166.7" y="375.5" font-size="8.2" fill="#1a1a1a" font-weight="bold" font-style="italic" >Male</text>
<text x="166.7" y="381.9" font-size="8.2" fill="#1a1a1a" font-weight="bold" font-style="italic" >P=0.0366</text>
<rect x="230.4" y="332" width="4.4" height="11.3" fill="#e68ac4" />
<text x="236.6" y="340.7" font-size="7.8" fill="#222" >CR</text>
<rect x="230.4" y="345.2" width="4.4" height="11.3" fill="#8f9fd0" />
<text x="236.6" y="353.9" font-size="7.8" fill="#222" >PR</text>
<rect x="281.2" y="287.6" width="68.4" height="100.9" fill="#ebebeb" />
<line x1="281.2" y1="384.6" x2="349.6" y2="384.6" stroke="#fff" stroke-width="0.9" />
<line x1="281.2" y1="361.5" x2="349.6" y2="361.5" stroke="#fff" stroke-width="0.9" />
<line x1="281.2" y1="338.4" x2="349.6" y2="338.4" stroke="#fff" stroke-width="0.9" />
<line x1="281.2" y1="315.3" x2="349.6" y2="315.3" stroke="#fff" stroke-width="0.9" />
<line x1="281.2" y1="292.2" x2="349.6" y2="292.2" stroke="#fff" stroke-width="0.9" />
<line x1="281.2" y1="373.05" x2="349.6" y2="373.05" stroke="#f6f6f6" stroke-width="0.5" />
<line x1="281.2" y1="349.95" x2="349.6" y2="349.95" stroke="#f6f6f6" stroke-width="0.5" />
<line x1="281.2" y1="326.85" x2="349.6" y2="326.85" stroke="#f6f6f6" stroke-width="0.5" />
<line x1="281.2" y1="303.75" x2="349.6" y2="303.75" stroke="#f6f6f6" stroke-width="0.5" />
<line x1="293.9" y1="287.6" x2="293.9" y2="388.5" stroke="#fff" stroke-width="0.9" />
<line x1="315.35" y1="287.6" x2="315.35" y2="388.5" stroke="#fff" stroke-width="0.9" />
<line x1="336.8" y1="287.6" x2="336.8" y2="388.5" stroke="#fff" stroke-width="0.9" />
<rect x="284.1" y="292.2" width="19.6" height="1.9" fill="#e68ac4" />
<rect x="284.1" y="294.1" width="19.6" height="11.5" fill="#8f9fd0" />
<rect x="284.1" y="305.6" width="19.6" height="50.3" fill="#f1d467" />
<rect x="284.1" y="355.9" width="19.6" height="28.7" fill="#6cc5a3" />
<rect x="284.1" y="292.2" width="19.6" height="92.4" fill="none" stroke="#fff" stroke-width="0.6"/>
<line x1="293.9" y1="389" x2="293.9" y2="391.5" stroke="#444" stroke-width="0.8" />
<text x="293.9" y="397.6" font-size="7" fill="#555" text-anchor="middle" >ARG1</text>
<rect x="305.7" y="292.2" width="19.3" height="19.6" fill="#8f9fd0" />
<rect x="305.7" y="311.8" width="19.3" height="50.9" fill="#f1d467" />
<rect x="305.7" y="362.7" width="19.3" height="21.9" fill="#6cc5a3" />
<rect x="305.7" y="292.2" width="19.3" height="92.4" fill="none" stroke="#fff" stroke-width="0.6"/>
<line x1="315.35" y1="389" x2="315.35" y2="391.5" stroke="#444" stroke-width="0.8" />
<text x="315.35" y="397.6" font-size="7" fill="#555" text-anchor="middle" >ARG2</text>
<rect x="327" y="292.2" width="19.6" height="5.3" fill="#e68ac4" />
<rect x="327" y="297.5" width="19.6" height="15.5" fill="#8f9fd0" />
<rect x="327" y="313" width="19.6" height="40.9" fill="#f1d467" />
<rect x="327" y="353.9" width="19.6" height="30.7" fill="#6cc5a3" />
<rect x="327" y="292.2" width="19.6" height="92.4" fill="none" stroke="#fff" stroke-width="0.6"/>
<line x1="336.8" y1="389" x2="336.8" y2="391.5" stroke="#444" stroke-width="0.8" />
<text x="336.8" y="397.6" font-size="7" fill="#555" text-anchor="middle" >ARG3</text>
<line x1="278.2" y1="384.6" x2="280.7" y2="384.6" stroke="#444" stroke-width="0.8" />
<text x="276.8" y="387.3" font-size="7.4" fill="#4d4d4d" text-anchor="end" >0%</text>
<line x1="278.2" y1="361.5" x2="280.7" y2="361.5" stroke="#444" stroke-width="0.8" />
<text x="276.8" y="364.2" font-size="7.4" fill="#4d4d4d" text-anchor="end" >25%</text>
<line x1="278.2" y1="338.4" x2="280.7" y2="338.4" stroke="#444" stroke-width="0.8" />
<text x="276.8" y="341.1" font-size="7.4" fill="#4d4d4d" text-anchor="end" >50%</text>
<line x1="278.2" y1="315.3" x2="280.7" y2="315.3" stroke="#444" stroke-width="0.8" />
<text x="276.8" y="318" font-size="7.4" fill="#4d4d4d" text-anchor="end" >75%</text>
<line x1="278.2" y1="292.2" x2="280.7" y2="292.2" stroke="#444" stroke-width="0.8" />
<text x="276.8" y="294.9" font-size="7.4" fill="#4d4d4d" text-anchor="end" >100%</text>
<text x="287.8" y="375.5" font-size="8.2" fill="#1a1a1a" font-weight="bold" font-style="italic" >Female</text>
<text x="287.8" y="381.9" font-size="8.2" fill="#1a1a1a" font-weight="bold" font-style="italic" >P=0.6203</text>
<rect x="352.3" y="318.8" width="4.4" height="11.3" fill="#e68ac4" />
<text x="358.5" y="327.5" font-size="7.8" fill="#222" >CR</text>
<rect x="352.3" y="332" width="4.4" height="11.3" fill="#8f9fd0" />
<text x="358.5" y="340.7" font-size="7.8" fill="#222" >PR</text>
<rect x="352.3" y="345.2" width="4.4" height="11.3" fill="#f1d467" />
<text x="358.5" y="353.9" font-size="7.8" fill="#222" >SD</text>
<rect x="352.3" y="358.2" width="4.4" height="11.3" fill="#6cc5a3" />
<text x="358.5" y="366.9" font-size="7.8" fill="#222" >PD</text>
<rect x="403.7" y="287.6" width="67.9" height="100.9" fill="#ebebeb" />
<line x1="403.7" y1="384.6" x2="471.6" y2="384.6" stroke="#fff" stroke-width="0.9" />
<line x1="403.7" y1="361.5" x2="471.6" y2="361.5" stroke="#fff" stroke-width="0.9" />
<line x1="403.7" y1="338.4" x2="471.6" y2="338.4" stroke="#fff" stroke-width="0.9" />
<line x1="403.7" y1="315.3" x2="471.6" y2="315.3" stroke="#fff" stroke-width="0.9" />
<line x1="403.7" y1="292.2" x2="471.6" y2="292.2" stroke="#fff" stroke-width="0.9" />
<line x1="403.7" y1="373.05" x2="471.6" y2="373.05" stroke="#f6f6f6" stroke-width="0.5" />
<line x1="403.7" y1="349.95" x2="471.6" y2="349.95" stroke="#f6f6f6" stroke-width="0.5" />
<line x1="403.7" y1="326.85" x2="471.6" y2="326.85" stroke="#f6f6f6" stroke-width="0.5" />
<line x1="403.7" y1="303.75" x2="471.6" y2="303.75" stroke="#f6f6f6" stroke-width="0.5" />
<line x1="416.5" y1="287.6" x2="416.5" y2="388.5" stroke="#fff" stroke-width="0.9" />
<line x1="437.8" y1="287.6" x2="437.8" y2="388.5" stroke="#fff" stroke-width="0.9" />
<line x1="459.4" y1="287.6" x2="459.4" y2="388.5" stroke="#fff" stroke-width="0.9" />
<rect x="406.7" y="292.2" width="19.6" height="40.4" fill="#e68ac4" />
<rect x="406.7" y="332.6" width="19.6" height="52" fill="#8f9fd0" />
<rect x="406.7" y="292.2" width="19.6" height="92.4" fill="none" stroke="#fff" stroke-width="0.6"/>
<line x1="416.5" y1="389" x2="416.5" y2="391.5" stroke="#444" stroke-width="0.8" />
<text x="416.5" y="397.6" font-size="7" fill="#555" text-anchor="middle" >ARG1</text>
<rect x="428" y="292.2" width="19.6" height="41.1" fill="#e68ac4" />
<rect x="428" y="333.3" width="19.6" height="51.3" fill="#8f9fd0" />
<rect x="428" y="292.2" width="19.6" height="92.4" fill="none" stroke="#fff" stroke-width="0.6"/>
<line x1="437.8" y1="389" x2="437.8" y2="391.5" stroke="#444" stroke-width="0.8" />
<text x="437.8" y="397.6" font-size="7" fill="#555" text-anchor="middle" >ARG2</text>
<rect x="449.6" y="292.2" width="19.6" height="46.5" fill="#e68ac4" />
<rect x="449.6" y="338.7" width="19.6" height="45.9" fill="#8f9fd0" />
<rect x="449.6" y="292.2" width="19.6" height="92.4" fill="none" stroke="#fff" stroke-width="0.6"/>
<line x1="459.4" y1="389" x2="459.4" y2="391.5" stroke="#444" stroke-width="0.8" />
<text x="459.4" y="397.6" font-size="7" fill="#555" text-anchor="middle" >ARG3</text>
<line x1="400.7" y1="384.6" x2="403.2" y2="384.6" stroke="#444" stroke-width="0.8" />
<text x="399.3" y="387.3" font-size="7.4" fill="#4d4d4d" text-anchor="end" >0%</text>
<line x1="400.7" y1="361.5" x2="403.2" y2="361.5" stroke="#444" stroke-width="0.8" />
<text x="399.3" y="364.2" font-size="7.4" fill="#4d4d4d" text-anchor="end" >25%</text>
<line x1="400.7" y1="338.4" x2="403.2" y2="338.4" stroke="#444" stroke-width="0.8" />
<text x="399.3" y="341.1" font-size="7.4" fill="#4d4d4d" text-anchor="end" >50%</text>
<line x1="400.7" y1="315.3" x2="403.2" y2="315.3" stroke="#444" stroke-width="0.8" />
<text x="399.3" y="318" font-size="7.4" fill="#4d4d4d" text-anchor="end" >75%</text>
<line x1="400.7" y1="292.2" x2="403.2" y2="292.2" stroke="#444" stroke-width="0.8" />
<text x="399.3" y="294.9" font-size="7.4" fill="#4d4d4d" text-anchor="end" >100%</text>
<text x="410.3" y="375.5" font-size="8.2" fill="#1a1a1a" font-weight="bold" font-style="italic" >Female</text>
<text x="410.3" y="381.9" font-size="8.2" fill="#1a1a1a" font-weight="bold" font-style="italic" >P=0.8989</text>
<rect x="474" y="332" width="4.4" height="11.3" fill="#e68ac4" />
<text x="480.2" y="340.7" font-size="7.8" fill="#222" >CR</text>
<rect x="474" y="345.2" width="4.4" height="11.3" fill="#8f9fd0" />
<text x="480.2" y="353.9" font-size="7.8" fill="#222" >PR</text>
<line x1="37.8" y1="399.4" x2="471.6" y2="399.4" stroke="#333" stroke-width="0.9" />
<text x="37.8" y="407" font-size="8.1" fill="#111" font-weight="bold" textLength="408.1" lengthAdjust="spacingAndGlyphs" >Drug Score amongst ARG subtypes [GSE72970, GSE104645, N=318, Male-cohort=192, Female-cohort=126]</text>
<text x="3.4" y="285.7" font-size="24" fill="#000" font-weight="bold" >C</text>
<rect x="574.5" y="21.4" width="39.8" height="115.1" fill="none" stroke="#e8322f" stroke-width="1.1"/>
<rect x="694.4" y="21.4" width="159.5" height="115.1" fill="none" stroke="#e8322f" stroke-width="1.1"/>
<rect x="974.4" y="21.4" width="39.4" height="115.1" fill="none" stroke="#e8322f" stroke-width="1.1"/>
<rect x="537.4" y="67.9" width="10.6" height="68" fill="#a5b1d8" />
<rect x="548.95" y="66.7" width="10.6" height="69.2" fill="#e694c8" />
<rect x="560.5" y="80" width="10.6" height="55.9" fill="#8fcfb1" />
<line x1="542.7" y1="62.2" x2="542.7" y2="74.1" stroke="#444" stroke-width="0.8" />
<line x1="541.1" y1="62.2" x2="544.3" y2="62.2" stroke="#444" stroke-width="0.8" />
<line x1="541.1" y1="74.1" x2="544.3" y2="74.1" stroke="#444" stroke-width="0.8" />
<line x1="554.25" y1="64" x2="554.25" y2="69.3" stroke="#444" stroke-width="0.8" />
<line x1="552.65" y1="64" x2="555.85" y2="64" stroke="#444" stroke-width="0.8" />
<line x1="552.65" y1="69.3" x2="555.85" y2="69.3" stroke="#444" stroke-width="0.8" />
<line x1="565.8" y1="77.5" x2="565.8" y2="82.6" stroke="#444" stroke-width="0.8" />
<line x1="564.2" y1="77.5" x2="567.4" y2="77.5" stroke="#444" stroke-width="0.8" />
<line x1="564.2" y1="82.6" x2="567.4" y2="82.6" stroke="#444" stroke-width="0.8" />
<text x="554" y="61.3" font-size="12" fill="#111" font-weight="bold" text-anchor="middle" >****</text>
<line x1="554" y1="135.9" x2="554" y2="140.2" stroke="#333" stroke-width="1" />
<text transform="translate(556.5,149.1) rotate(-42.5)" font-size="8.15" fill="#222" stroke="#222" stroke-width="0.2" text-anchor="end">Ruxolitinib_JAK</text>
<rect x="577.35" y="67.9" width="10.6" height="68" fill="#a5b1d8" />
<rect x="588.9" y="91.3" width="10.6" height="44.6" fill="#e694c8" />
<rect x="600.45" y="84.7" width="10.6" height="51.2" fill="#8fcfb1" />
<line x1="582.65" y1="62.2" x2="582.65" y2="74.1" stroke="#444" stroke-width="0.8" />
<line x1="581.05" y1="62.2" x2="584.25" y2="62.2" stroke="#444" stroke-width="0.8" />
<line x1="581.05" y1="74.1" x2="584.25" y2="74.1" stroke="#444" stroke-width="0.8" />
<line x1="594.2" y1="89.2" x2="594.2" y2="93.4" stroke="#444" stroke-width="0.8" />
<line x1="592.6" y1="89.2" x2="595.8" y2="89.2" stroke="#444" stroke-width="0.8" />
<line x1="592.6" y1="93.4" x2="595.8" y2="93.4" stroke="#444" stroke-width="0.8" />
<line x1="605.75" y1="82" x2="605.75" y2="88.1" stroke="#444" stroke-width="0.8" />
<line x1="604.15" y1="82" x2="607.35" y2="82" stroke="#444" stroke-width="0.8" />
<line x1="604.15" y1="88.1" x2="607.35" y2="88.1" stroke="#444" stroke-width="0.8" />
<text x="593.95" y="61.3" font-size="12" fill="#111" font-weight="bold" text-anchor="middle" >***</text>
<line x1="593.95" y1="135.9" x2="593.95" y2="140.2" stroke="#333" stroke-width="1" />
<text transform="translate(596.45,149.1) rotate(-42.5)" font-size="8.15" fill="#222" stroke="#222" stroke-width="0.2" text-anchor="end">Linsitinib_IGFR</text>
<rect x="617.3" y="67.9" width="10.6" height="68" fill="#a5b1d8" />
<rect x="628.85" y="69.3" width="10.6" height="66.6" fill="#e694c8" />
<rect x="640.4" y="72.3" width="10.6" height="63.6" fill="#8fcfb1" />
<line x1="622.6" y1="64.3" x2="622.6" y2="72" stroke="#444" stroke-width="0.8" />
<line x1="621" y1="64.3" x2="624.2" y2="64.3" stroke="#444" stroke-width="0.8" />
<line x1="621" y1="72" x2="624.2" y2="72" stroke="#444" stroke-width="0.8" />
<line x1="634.15" y1="67.8" x2="634.15" y2="70.9" stroke="#444" stroke-width="0.8" />
<line x1="632.55" y1="67.8" x2="635.75" y2="67.8" stroke="#444" stroke-width="0.8" />
<line x1="632.55" y1="70.9" x2="635.75" y2="70.9" stroke="#444" stroke-width="0.8" />
<line x1="645.7" y1="70.7" x2="645.7" y2="74.1" stroke="#444" stroke-width="0.8" />
<line x1="644.1" y1="70.7" x2="647.3" y2="70.7" stroke="#444" stroke-width="0.8" />
<line x1="644.1" y1="74.1" x2="647.3" y2="74.1" stroke="#444" stroke-width="0.8" />
<line x1="633.9" y1="135.9" x2="633.9" y2="140.2" stroke="#333" stroke-width="1" />
<text transform="translate(636.4,149.1) rotate(-42.5)" font-size="8.15" fill="#222" stroke="#222" stroke-width="0.2" text-anchor="end">Axitinib_VEGFR</text>
<rect x="657.25" y="67.9" width="10.6" height="68" fill="#a5b1d8" />
<rect x="668.8" y="35.7" width="10.6" height="100.2" fill="#e694c8" />
<rect x="680.35" y="33.1" width="10.6" height="102.8" fill="#8fcfb1" />
<line x1="662.55" y1="62.2" x2="662.55" y2="74.1" stroke="#444" stroke-width="0.8" />
<line x1="660.95" y1="62.2" x2="664.15" y2="62.2" stroke="#444" stroke-width="0.8" />
<line x1="660.95" y1="74.1" x2="664.15" y2="74.1" stroke="#444" stroke-width="0.8" />
<line x1="674.1" y1="32.6" x2="674.1" y2="39.2" stroke="#444" stroke-width="0.8" />
<line x1="672.5" y1="32.6" x2="675.7" y2="32.6" stroke="#444" stroke-width="0.8" />
<line x1="672.5" y1="39.2" x2="675.7" y2="39.2" stroke="#444" stroke-width="0.8" />
<line x1="685.65" y1="27.8" x2="685.65" y2="37.9" stroke="#444" stroke-width="0.8" />
<line x1="684.05" y1="27.8" x2="687.25" y2="27.8" stroke="#444" stroke-width="0.8" />
<line x1="684.05" y1="37.9" x2="687.25" y2="37.9" stroke="#444" stroke-width="0.8" />
<text x="673.85" y="27.5" font-size="12" fill="#111" font-weight="bold" text-anchor="middle" >**</text>
<line x1="673.85" y1="135.9" x2="673.85" y2="140.2" stroke="#333" stroke-width="1" />
<text transform="translate(676.35,149.1) rotate(-42.5)" font-size="8.15" fill="#222" stroke="#222" stroke-width="0.2" text-anchor="end">Foretinib_VEGFR</text>
<rect x="697.2" y="67.9" width="10.6" height="68" fill="#a5b1d8" />
<rect x="708.75" y="104.6" width="10.6" height="31.3" fill="#e694c8" />
<rect x="720.3" y="112" width="10.6" height="23.9" fill="#8fcfb1" />
<line x1="702.5" y1="60.9" x2="702.5" y2="75.2" stroke="#444" stroke-width="0.8" />
<line x1="700.9" y1="60.9" x2="704.1" y2="60.9" stroke="#444" stroke-width="0.8" />
<line x1="700.9" y1="75.2" x2="704.1" y2="75.2" stroke="#444" stroke-width="0.8" />
<line x1="714.05" y1="101.9" x2="714.05" y2="106.4" stroke="#444" stroke-width="0.8" />
<line x1="712.45" y1="101.9" x2="715.65" y2="101.9" stroke="#444" stroke-width="0.8" />
<line x1="712.45" y1="106.4" x2="715.65" y2="106.4" stroke="#444" stroke-width="0.8" />
<line x1="725.6" y1="108" x2="725.6" y2="115.7" stroke="#444" stroke-width="0.8" />
<line x1="724" y1="108" x2="727.2" y2="108" stroke="#444" stroke-width="0.8" />
<line x1="724" y1="115.7" x2="727.2" y2="115.7" stroke="#444" stroke-width="0.8" />
<text x="713.8" y="61.3" font-size="12" fill="#111" font-weight="bold" text-anchor="middle" >****</text>
<line x1="713.8" y1="135.9" x2="713.8" y2="140.2" stroke="#333" stroke-width="1" />
<text transform="translate(716.3,149.1) rotate(-42.5)" font-size="8.15" fill="#222" stroke="#222" stroke-width="0.2" text-anchor="end">Afatinib_EGFR</text>
<rect x="737.15" y="67.9" width="10.6" height="68" fill="#a5b1d8" />
<rect x="748.7" y="104" width="10.6" height="31.9" fill="#e694c8" />
<rect x="760.25" y="117.3" width="10.6" height="18.6" fill="#8fcfb1" />
<line x1="742.45" y1="62.2" x2="742.45" y2="74.1" stroke="#444" stroke-width="0.8" />
<line x1="740.85" y1="62.2" x2="744.05" y2="62.2" stroke="#444" stroke-width="0.8" />
<line x1="740.85" y1="74.1" x2="744.05" y2="74.1" stroke="#444" stroke-width="0.8" />
<line x1="754" y1="101.9" x2="754" y2="105.9" stroke="#444" stroke-width="0.8" />
<line x1="752.4" y1="101.9" x2="755.6" y2="101.9" stroke="#444" stroke-width="0.8" />
<line x1="752.4" y1="105.9" x2="755.6" y2="105.9" stroke="#444" stroke-width="0.8" />
<line x1="765.55" y1="115.4" x2="765.55" y2="119.6" stroke="#444" stroke-width="0.8" />
<line x1="763.95" y1="115.4" x2="767.15" y2="115.4" stroke="#444" stroke-width="0.8" />
<line x1="763.95" y1="119.6" x2="767.15" y2="119.6" stroke="#444" stroke-width="0.8" />
<text x="753.75" y="61.3" font-size="12" fill="#111" font-weight="bold" text-anchor="middle" >****</text>
<line x1="753.75" y1="135.9" x2="753.75" y2="140.2" stroke="#333" stroke-width="1" />
<text transform="translate(756.25,149.1) rotate(-42.5)" font-size="8.15" fill="#222" stroke="#222" stroke-width="0.2" text-anchor="end">Gefitinib_EGFR</text>
<rect x="777.1" y="67.9" width="10.6" height="68" fill="#a5b1d8" />
<rect x="788.65" y="121.8" width="10.6" height="14.1" fill="#e694c8" />
<rect x="800.2" y="124.4" width="10.6" height="11.5" fill="#8fcfb1" />
<line x1="782.4" y1="58.8" x2="782.4" y2="77.3" stroke="#444" stroke-width="0.8" />
<line x1="780.8" y1="58.8" x2="784" y2="58.8" stroke="#444" stroke-width="0.8" />
<line x1="780.8" y1="77.3" x2="784" y2="77.3" stroke="#444" stroke-width="0.8" />
<line x1="793.95" y1="119.1" x2="793.95" y2="124.4" stroke="#444" stroke-width="0.8" />
<line x1="792.35" y1="119.1" x2="795.55" y2="119.1" stroke="#444" stroke-width="0.8" />
<line x1="792.35" y1="124.4" x2="795.55" y2="124.4" stroke="#444" stroke-width="0.8" />
<line x1="805.5" y1="121.8" x2="805.5" y2="127.6" stroke="#444" stroke-width="0.8" />
<line x1="803.9" y1="121.8" x2="807.1" y2="121.8" stroke="#444" stroke-width="0.8" />
<line x1="803.9" y1="127.6" x2="807.1" y2="127.6" stroke="#444" stroke-width="0.8" />
<text x="793.7" y="61.3" font-size="12" fill="#111" font-weight="bold" text-anchor="middle" >****</text>
<line x1="793.7" y1="135.9" x2="793.7" y2="140.2" stroke="#333" stroke-width="1" />
<text transform="translate(796.2,149.1) rotate(-42.5)" font-size="8.15" fill="#222" stroke="#222" stroke-width="0.2" text-anchor="end">Lapatinib_EGFR</text>
<rect x="817.05" y="67.9" width="10.6" height="68" fill="#a5b1d8" />
<rect x="828.6" y="105.9" width="10.6" height="30" fill="#e694c8" />
<rect x="840.15" y="111.2" width="10.6" height="24.7" fill="#8fcfb1" />
<line x1="822.35" y1="59.6" x2="822.35" y2="76.8" stroke="#444" stroke-width="0.8" />
<line x1="820.75" y1="59.6" x2="823.95" y2="59.6" stroke="#444" stroke-width="0.8" />
<line x1="820.75" y1="76.8" x2="823.95" y2="76.8" stroke="#444" stroke-width="0.8" />
<line x1="833.9" y1="103.8" x2="833.9" y2="108" stroke="#444" stroke-width="0.8" />
<line x1="832.3" y1="103.8" x2="835.5" y2="103.8" stroke="#444" stroke-width="0.8" />
<line x1="832.3" y1="108" x2="835.5" y2="108" stroke="#444" stroke-width="0.8" />
<line x1="845.45" y1="108" x2="845.45" y2="114.3" stroke="#444" stroke-width="0.8" />
<line x1="843.85" y1="108" x2="847.05" y2="108" stroke="#444" stroke-width="0.8" />
<line x1="843.85" y1="114.3" x2="847.05" y2="114.3" stroke="#444" stroke-width="0.8" />
<text x="833.65" y="61.3" font-size="12" fill="#111" font-weight="bold" text-anchor="middle" >****</text>
<line x1="833.65" y1="135.9" x2="833.65" y2="140.2" stroke="#333" stroke-width="1" />
<text transform="translate(836.15,149.1) rotate(-42.5)" font-size="8.15" fill="#222" stroke="#222" stroke-width="0.2" text-anchor="end">Sapitinib_EGFR</text>
<rect x="857" y="67.9" width="10.6" height="68" fill="#a5b1d8" />
<rect x="868.55" y="86" width="10.6" height="49.9" fill="#e694c8" />
<rect x="880.1" y="105.9" width="10.6" height="30" fill="#8fcfb1" />
<line x1="862.3" y1="59.6" x2="862.3" y2="76.8" stroke="#444" stroke-width="0.8" />
<line x1="860.7" y1="59.6" x2="863.9" y2="59.6" stroke="#444" stroke-width="0.8" />
<line x1="860.7" y1="76.8" x2="863.9" y2="76.8" stroke="#444" stroke-width="0.8" />
<line x1="873.85" y1="83.4" x2="873.85" y2="88.7" stroke="#444" stroke-width="0.8" />
<line x1="872.25" y1="83.4" x2="875.45" y2="83.4" stroke="#444" stroke-width="0.8" />
<line x1="872.25" y1="88.7" x2="875.45" y2="88.7" stroke="#444" stroke-width="0.8" />
<line x1="885.4" y1="102.7" x2="885.4" y2="109.1" stroke="#444" stroke-width="0.8" />
<line x1="883.8" y1="102.7" x2="887" y2="102.7" stroke="#444" stroke-width="0.8" />
<line x1="883.8" y1="109.1" x2="887" y2="109.1" stroke="#444" stroke-width="0.8" />
<text x="873.6" y="61.3" font-size="12" fill="#111" font-weight="bold" text-anchor="middle" >****</text>
<line x1="873.6" y1="135.9" x2="873.6" y2="140.2" stroke="#333" stroke-width="1" />
<text transform="translate(876.1,149.1) rotate(-42.5)" font-size="8.15" fill="#222" stroke="#222" stroke-width="0.2" text-anchor="end">Savolitinib_MAPK</text>
<rect x="896.95" y="67.9" width="10.6" height="68" fill="#a5b1d8" />
<rect x="908.5" y="79.4" width="10.6" height="56.5" fill="#e694c8" />
<rect x="920.05" y="80.7" width="10.6" height="55.2" fill="#8fcfb1" />
<line x1="902.25" y1="56.4" x2="902.25" y2="79.4" stroke="#444" stroke-width="0.8" />
<line x1="900.65" y1="56.4" x2="903.85" y2="56.4" stroke="#444" stroke-width="0.8" />
<line x1="900.65" y1="79.4" x2="903.85" y2="79.4" stroke="#444" stroke-width="0.8" />
<line x1="913.8" y1="76.2" x2="913.8" y2="82.6" stroke="#444" stroke-width="0.8" />
<line x1="912.2" y1="76.2" x2="915.4" y2="76.2" stroke="#444" stroke-width="0.8" />
<line x1="912.2" y1="82.6" x2="915.4" y2="82.6" stroke="#444" stroke-width="0.8" />
<line x1="925.35" y1="74.6" x2="925.35" y2="86.8" stroke="#444" stroke-width="0.8" />
<line x1="923.75" y1="74.6" x2="926.95" y2="74.6" stroke="#444" stroke-width="0.8" />
<line x1="923.75" y1="86.8" x2="926.95" y2="86.8" stroke="#444" stroke-width="0.8" />
<line x1="913.55" y1="135.9" x2="913.55" y2="140.2" stroke="#333" stroke-width="1" />
<text transform="translate(916.05,149.1) rotate(-42.5)" font-size="8.15" fill="#222" stroke="#222" stroke-width="0.2" text-anchor="end">Selumetinib_MAPK</text>
<rect x="936.9" y="67.9" width="10.6" height="68" fill="#a5b1d8" />
<rect x="948.45" y="101.9" width="10.6" height="34" fill="#e694c8" />
<rect x="960" y="94" width="10.6" height="41.9" fill="#8fcfb1" />
<line x1="942.2" y1="50.8" x2="942.2" y2="85.2" stroke="#444" stroke-width="0.8" />
<line x1="940.6" y1="50.8" x2="943.8" y2="50.8" stroke="#444" stroke-width="0.8" />
<line x1="940.6" y1="85.2" x2="943.8" y2="85.2" stroke="#444" stroke-width="0.8" />
<line x1="953.75" y1="98.5" x2="953.75" y2="105.3" stroke="#444" stroke-width="0.8" />
<line x1="952.15" y1="98.5" x2="955.35" y2="98.5" stroke="#444" stroke-width="0.8" />
<line x1="952.15" y1="105.3" x2="955.35" y2="105.3" stroke="#444" stroke-width="0.8" />
<line x1="965.3" y1="82.8" x2="965.3" y2="104" stroke="#444" stroke-width="0.8" />
<line x1="963.7" y1="82.8" x2="966.9" y2="82.8" stroke="#444" stroke-width="0.8" />
<line x1="963.7" y1="104" x2="966.9" y2="104" stroke="#444" stroke-width="0.8" />
<line x1="953.5" y1="135.9" x2="953.5" y2="140.2" stroke="#333" stroke-width="1" />
<text transform="translate(956,149.1) rotate(-42.5)" font-size="8.15" fill="#222" stroke="#222" stroke-width="0.2" text-anchor="end">Trametinib_MAPK</text>
<rect x="976.85" y="67.9" width="10.6" height="68" fill="#a5b1d8" />
<rect x="988.4" y="110.4" width="10.6" height="25.5" fill="#e694c8" />
<rect x="999.95" y="115.1" width="10.6" height="20.8" fill="#8fcfb1" />
<line x1="982.15" y1="59.6" x2="982.15" y2="76.8" stroke="#444" stroke-width="0.8" />
<line x1="980.55" y1="59.6" x2="983.75" y2="59.6" stroke="#444" stroke-width="0.8" />
<line x1="980.55" y1="76.8" x2="983.75" y2="76.8" stroke="#444" stroke-width="0.8" />
<line x1="993.7" y1="108" x2="993.7" y2="112.5" stroke="#444" stroke-width="0.8" />
<line x1="992.1" y1="108" x2="995.3" y2="108" stroke="#444" stroke-width="0.8" />
<line x1="992.1" y1="112.5" x2="995.3" y2="112.5" stroke="#444" stroke-width="0.8" />
<line x1="1005.25" y1="111.7" x2="1005.25" y2="119.1" stroke="#444" stroke-width="0.8" />
<line x1="1003.65" y1="111.7" x2="1006.85" y2="111.7" stroke="#444" stroke-width="0.8" />
<line x1="1003.65" y1="119.1" x2="1006.85" y2="119.1" stroke="#444" stroke-width="0.8" />
<text x="993.45" y="61.3" font-size="12" fill="#111" font-weight="bold" text-anchor="middle" >****</text>
<line x1="993.45" y1="135.9" x2="993.45" y2="140.2" stroke="#333" stroke-width="1" />
<text transform="translate(995.95,149.1) rotate(-42.5)" font-size="8.15" fill="#222" stroke="#222" stroke-width="0.2" text-anchor="end">Ulixertinib_MAPK</text>
<line x1="532.1" y1="11.2" x2="532.1" y2="136.5" stroke="#333" stroke-width="1.4" />
<line x1="531.5" y1="135.9" x2="1015.5" y2="135.9" stroke="#333" stroke-width="1.4" />
<line x1="528.8" y1="124.6" x2="532.1" y2="124.6" stroke="#333" stroke-width="1" />
<text x="525.2" y="127.6" font-size="8.4" fill="#222" text-anchor="end" >0.5</text>
<line x1="528.8" y1="67.9" x2="532.1" y2="67.9" stroke="#333" stroke-width="1" />
<text x="525.2" y="70.9" font-size="8.4" fill="#222" text-anchor="end" >1.0</text>
<line x1="528.8" y1="11.2" x2="532.1" y2="11.2" stroke="#333" stroke-width="1" />
<text x="525.2" y="14.2" font-size="8.4" fill="#222" text-anchor="end" >1.5</text>
<text transform="translate(507.2,76.8) rotate(-90)" font-size="8.1" fill="#222" text-anchor="middle">Drug Score</text>
<rect x="537.8" y="11.2" width="18.2" height="3.6" fill="#a5b1d8" />
<text x="566.2" y="16.2" font-size="9" fill="#222" >ARG1</text>
<rect x="605.7" y="11.2" width="17.8" height="3.6" fill="#e694c8" />
<text x="633.2" y="16.2" font-size="9" fill="#222" >ARG2</text>
<rect x="674.5" y="11.2" width="18" height="3.6" fill="#8fcfb1" />
<text x="703" y="16.2" font-size="9" fill="#222" >AGR3</text>
<text x="494.4" y="19.3" font-size="24" fill="#000" font-weight="bold" textLength="13.6" lengthAdjust="spacingAndGlyphs" >F</text>
<rect x="574.5" y="233.4" width="39.8" height="115.4" fill="none" stroke="#e8322f" stroke-width="1.1"/>
<rect x="694.4" y="233.4" width="159.5" height="115.4" fill="none" stroke="#e8322f" stroke-width="1.1"/>
<rect x="974.4" y="233.4" width="39.4" height="115.4" fill="none" stroke="#e8322f" stroke-width="1.1"/>
<rect x="537.4" y="297.2" width="10.6" height="51" fill="#a5b1d8" />
<rect x="548.95" y="265.7" width="10.6" height="82.5" fill="#e694c8" />
<rect x="560.5" y="249" width="10.6" height="99.2" fill="#8fcfb1" />
<line x1="542.7" y1="276.4" x2="542.7" y2="319.2" stroke="#444" stroke-width="0.8" />
<line x1="541.1" y1="276.4" x2="544.3" y2="276.4" stroke="#444" stroke-width="0.8" />
<line x1="541.1" y1="319.2" x2="544.3" y2="319.2" stroke="#444" stroke-width="0.8" />
<line x1="554.25" y1="250.7" x2="554.25" y2="280.8" stroke="#444" stroke-width="0.8" />
<line x1="552.65" y1="250.7" x2="555.85" y2="250.7" stroke="#444" stroke-width="0.8" />
<line x1="552.65" y1="280.8" x2="555.85" y2="280.8" stroke="#444" stroke-width="0.8" />
<line x1="565.8" y1="244.1" x2="565.8" y2="254.2" stroke="#444" stroke-width="0.8" />
<line x1="564.2" y1="244.1" x2="567.4" y2="244.1" stroke="#444" stroke-width="0.8" />
<line x1="564.2" y1="254.2" x2="567.4" y2="254.2" stroke="#444" stroke-width="0.8" />
<line x1="554" y1="348.2" x2="554" y2="352.5" stroke="#333" stroke-width="1" />
<text transform="translate(556.5,360.2) rotate(-42.5)" font-size="8.15" fill="#222" stroke="#222" stroke-width="0.2" text-anchor="end">Ruxolitinib_JAK</text>
<rect x="577.35" y="297.2" width="10.6" height="51" fill="#a5b1d8" />
<rect x="588.9" y="318.3" width="10.6" height="29.9" fill="#e694c8" />
<rect x="600.45" y="327.8" width="10.6" height="20.4" fill="#8fcfb1" />
<line x1="582.65" y1="268.6" x2="582.65" y2="326.4" stroke="#444" stroke-width="0.8" />
<line x1="581.05" y1="268.6" x2="584.25" y2="268.6" stroke="#444" stroke-width="0.8" />
<line x1="581.05" y1="326.4" x2="584.25" y2="326.4" stroke="#444" stroke-width="0.8" />
<line x1="594.2" y1="307" x2="594.2" y2="329.3" stroke="#444" stroke-width="0.8" />
<line x1="592.6" y1="307" x2="595.8" y2="307" stroke="#444" stroke-width="0.8" />
<line x1="592.6" y1="329.3" x2="595.8" y2="329.3" stroke="#444" stroke-width="0.8" />
<line x1="605.75" y1="317.7" x2="605.75" y2="338" stroke="#444" stroke-width="0.8" />
<line x1="604.15" y1="317.7" x2="607.35" y2="317.7" stroke="#444" stroke-width="0.8" />
<line x1="604.15" y1="338" x2="607.35" y2="338" stroke="#444" stroke-width="0.8" />
<text x="593.95" y="263.2" font-size="12" fill="#111" font-weight="bold" text-anchor="middle" >*</text>
<line x1="593.95" y1="348.2" x2="593.95" y2="352.5" stroke="#333" stroke-width="1" />
<text transform="translate(596.45,360.2) rotate(-42.5)" font-size="8.15" fill="#222" stroke="#222" stroke-width="0.2" text-anchor="end">Linsitinib_IGFR</text>
<rect x="617.3" y="297.2" width="10.6" height="51" fill="#a5b1d8" />
<rect x="628.85" y="296.9" width="10.6" height="51.3" fill="#e694c8" />
<rect x="640.4" y="297.5" width="10.6" height="50.7" fill="#8fcfb1" />
<line x1="622.6" y1="283.9" x2="622.6" y2="310.5" stroke="#444" stroke-width="0.8" />
<line x1="621" y1="283.9" x2="624.2" y2="283.9" stroke="#444" stroke-width="0.8" />
<line x1="621" y1="310.5" x2="624.2" y2="310.5" stroke="#444" stroke-width="0.8" />
<line x1="634.15" y1="293.2" x2="634.15" y2="301" stroke="#444" stroke-width="0.8" />
<line x1="632.55" y1="293.2" x2="635.75" y2="293.2" stroke="#444" stroke-width="0.8" />
<line x1="632.55" y1="301" x2="635.75" y2="301" stroke="#444" stroke-width="0.8" />
<line x1="645.7" y1="294.6" x2="645.7" y2="300.4" stroke="#444" stroke-width="0.8" />
<line x1="644.1" y1="294.6" x2="647.3" y2="294.6" stroke="#444" stroke-width="0.8" />
<line x1="644.1" y1="300.4" x2="647.3" y2="300.4" stroke="#444" stroke-width="0.8" />
<line x1="633.9" y1="348.2" x2="633.9" y2="352.5" stroke="#333" stroke-width="1" />
<text transform="translate(636.4,360.2) rotate(-42.5)" font-size="8.15" fill="#222" stroke="#222" stroke-width="0.2" text-anchor="end">Axitinib_VEGFR</text>
<rect x="657.25" y="297.2" width="10.6" height="51" fill="#a5b1d8" />
<rect x="668.8" y="279.6" width="10.6" height="68.6" fill="#e694c8" />
<rect x="680.35" y="277.3" width="10.6" height="70.9" fill="#8fcfb1" />
<line x1="662.55" y1="260.5" x2="662.55" y2="334.2" stroke="#444" stroke-width="0.8" />
<line x1="660.95" y1="260.5" x2="664.15" y2="260.5" stroke="#444" stroke-width="0.8" />
<line x1="660.95" y1="334.2" x2="664.15" y2="334.2" stroke="#444" stroke-width="0.8" />
<line x1="674.1" y1="264.3" x2="674.1" y2="294.6" stroke="#444" stroke-width="0.8" />
<line x1="672.5" y1="264.3" x2="675.7" y2="264.3" stroke="#444" stroke-width="0.8" />
<line x1="672.5" y1="294.6" x2="675.7" y2="294.6" stroke="#444" stroke-width="0.8" />
<line x1="685.65" y1="270.7" x2="685.65" y2="283.7" stroke="#444" stroke-width="0.8" />
<line x1="684.05" y1="270.7" x2="687.25" y2="270.7" stroke="#444" stroke-width="0.8" />
<line x1="684.05" y1="283.7" x2="687.25" y2="283.7" stroke="#444" stroke-width="0.8" />
<line x1="673.85" y1="348.2" x2="673.85" y2="352.5" stroke="#333" stroke-width="1" />
<text transform="translate(676.35,360.2) rotate(-42.5)" font-size="8.15" fill="#222" stroke="#222" stroke-width="0.2" text-anchor="end">Foretinib_VEGFR</text>
<rect x="697.2" y="297.2" width="10.6" height="51" fill="#a5b1d8" />
<rect x="708.75" y="318.6" width="10.6" height="29.6" fill="#e694c8" />
<rect x="720.3" y="335" width="10.6" height="13.2" fill="#8fcfb1" />
<line x1="702.5" y1="285.1" x2="702.5" y2="309.9" stroke="#444" stroke-width="0.8" />
<line x1="700.9" y1="285.1" x2="704.1" y2="285.1" stroke="#444" stroke-width="0.8" />
<line x1="700.9" y1="309.9" x2="704.1" y2="309.9" stroke="#444" stroke-width="0.8" />
<line x1="714.05" y1="310.5" x2="714.05" y2="326.4" stroke="#444" stroke-width="0.8" />
<line x1="712.45" y1="310.5" x2="715.65" y2="310.5" stroke="#444" stroke-width="0.8" />
<line x1="712.45" y1="326.4" x2="715.65" y2="326.4" stroke="#444" stroke-width="0.8" />
<line x1="725.6" y1="332.2" x2="725.6" y2="338" stroke="#444" stroke-width="0.8" />
<line x1="724" y1="332.2" x2="727.2" y2="332.2" stroke="#444" stroke-width="0.8" />
<line x1="724" y1="338" x2="727.2" y2="338" stroke="#444" stroke-width="0.8" />
<text x="713.8" y="263.2" font-size="12" fill="#111" font-weight="bold" text-anchor="middle" >**</text>
<line x1="713.8" y1="348.2" x2="713.8" y2="352.5" stroke="#333" stroke-width="1" />
<text transform="translate(716.3,360.2) rotate(-42.5)" font-size="8.15" fill="#222" stroke="#222" stroke-width="0.2" text-anchor="end">Afatinib_EGFR</text>
<rect x="737.15" y="297.2" width="10.6" height="51" fill="#a5b1d8" />
<rect x="748.7" y="326.4" width="10.6" height="21.8" fill="#e694c8" />
<rect x="760.25" y="345.2" width="10.6" height="3" fill="#8fcfb1" />
<line x1="742.45" y1="271" x2="742.45" y2="324.1" stroke="#444" stroke-width="0.8" />
<line x1="740.85" y1="271" x2="744.05" y2="271" stroke="#444" stroke-width="0.8" />
<line x1="740.85" y1="324.1" x2="744.05" y2="324.1" stroke="#444" stroke-width="0.8" />
<line x1="754" y1="321.2" x2="754" y2="331.3" stroke="#444" stroke-width="0.8" />
<line x1="752.4" y1="321.2" x2="755.6" y2="321.2" stroke="#444" stroke-width="0.8" />
<line x1="752.4" y1="331.3" x2="755.6" y2="331.3" stroke="#444" stroke-width="0.8" />
<line x1="765.55" y1="341.7" x2="765.55" y2="348" stroke="#444" stroke-width="0.8" />
<line x1="763.95" y1="341.7" x2="767.15" y2="341.7" stroke="#444" stroke-width="0.8" />
<line x1="763.95" y1="348" x2="767.15" y2="348" stroke="#444" stroke-width="0.8" />
<text x="753.75" y="263.2" font-size="12" fill="#111" font-weight="bold" text-anchor="middle" >****</text>
<line x1="753.75" y1="348.2" x2="753.75" y2="352.5" stroke="#333" stroke-width="1" />
<text transform="translate(756.25,360.2) rotate(-42.5)" font-size="8.15" fill="#222" stroke="#222" stroke-width="0.2" text-anchor="end">Gefitinib_EGFR</text>
<rect x="777.1" y="297.2" width="10.6" height="51" fill="#a5b1d8" />
<rect x="788.65" y="328.4" width="10.6" height="19.8" fill="#e694c8" />
<rect x="800.2" y="324.1" width="10.6" height="24.1" fill="#8fcfb1" />
<line x1="782.4" y1="261.4" x2="782.4" y2="333.6" stroke="#444" stroke-width="0.8" />
<line x1="780.8" y1="261.4" x2="784" y2="261.4" stroke="#444" stroke-width="0.8" />
<line x1="780.8" y1="333.6" x2="784" y2="333.6" stroke="#444" stroke-width="0.8" />
<line x1="793.95" y1="318.3" x2="793.95" y2="338" stroke="#444" stroke-width="0.8" />
<line x1="792.35" y1="318.3" x2="795.55" y2="318.3" stroke="#444" stroke-width="0.8" />
<line x1="792.35" y1="338" x2="795.55" y2="338" stroke="#444" stroke-width="0.8" />
<line x1="805.5" y1="299.8" x2="805.5" y2="348" stroke="#444" stroke-width="0.8" />
<line x1="803.9" y1="299.8" x2="807.1" y2="299.8" stroke="#444" stroke-width="0.8" />
<line x1="803.9" y1="348" x2="807.1" y2="348" stroke="#444" stroke-width="0.8" />
<text x="793.7" y="263.2" font-size="12" fill="#111" font-weight="bold" text-anchor="middle" >**</text>
<line x1="793.7" y1="348.2" x2="793.7" y2="352.5" stroke="#333" stroke-width="1" />
<text transform="translate(796.2,360.2) rotate(-42.5)" font-size="8.15" fill="#222" stroke="#222" stroke-width="0.2" text-anchor="end">Lapatinib_EGFR</text>
<rect x="817.05" y="297.2" width="10.6" height="51" fill="#a5b1d8" />
<rect x="828.6" y="314.8" width="10.6" height="33.4" fill="#e694c8" />
<rect x="840.15" y="327" width="10.6" height="21.2" fill="#8fcfb1" />
<line x1="822.35" y1="281.6" x2="822.35" y2="312.8" stroke="#444" stroke-width="0.8" />
<line x1="820.75" y1="281.6" x2="823.95" y2="281.6" stroke="#444" stroke-width="0.8" />
<line x1="820.75" y1="312.8" x2="823.95" y2="312.8" stroke="#444" stroke-width="0.8" />
<line x1="833.9" y1="305.3" x2="833.9" y2="324.1" stroke="#444" stroke-width="0.8" />
<line x1="832.3" y1="305.3" x2="835.5" y2="305.3" stroke="#444" stroke-width="0.8" />
<line x1="832.3" y1="324.1" x2="835.5" y2="324.1" stroke="#444" stroke-width="0.8" />
<line x1="845.45" y1="323.5" x2="845.45" y2="329.3" stroke="#444" stroke-width="0.8" />
<line x1="843.85" y1="323.5" x2="847.05" y2="323.5" stroke="#444" stroke-width="0.8" />
<line x1="843.85" y1="329.3" x2="847.05" y2="329.3" stroke="#444" stroke-width="0.8" />
<text x="833.65" y="263.2" font-size="12" fill="#111" font-weight="bold" text-anchor="middle" >*</text>
<line x1="833.65" y1="348.2" x2="833.65" y2="352.5" stroke="#333" stroke-width="1" />
<text transform="translate(836.15,360.2) rotate(-42.5)" font-size="8.15" fill="#222" stroke="#222" stroke-width="0.2" text-anchor="end">Sapitinib_EGFR</text>
<rect x="857" y="297.2" width="10.6" height="51" fill="#a5b1d8" />
<rect x="868.55" y="265.7" width="10.6" height="82.5" fill="#e694c8" />
<rect x="880.1" y="246.4" width="10.6" height="101.8" fill="#8fcfb1" />
<line x1="862.3" y1="264.9" x2="862.3" y2="329.9" stroke="#444" stroke-width="0.8" />
<line x1="860.7" y1="264.9" x2="863.9" y2="264.9" stroke="#444" stroke-width="0.8" />
<line x1="860.7" y1="329.9" x2="863.9" y2="329.9" stroke="#444" stroke-width="0.8" />
<line x1="873.85" y1="254.8" x2="873.85" y2="276.4" stroke="#444" stroke-width="0.8" />
<line x1="872.25" y1="254.8" x2="875.45" y2="254.8" stroke="#444" stroke-width="0.8" />
<line x1="872.25" y1="276.4" x2="875.45" y2="276.4" stroke="#444" stroke-width="0.8" />
<line x1="885.4" y1="236.3" x2="885.4" y2="256.2" stroke="#444" stroke-width="0.8" />
<line x1="883.8" y1="236.3" x2="887" y2="236.3" stroke="#444" stroke-width="0.8" />
<line x1="883.8" y1="256.2" x2="887" y2="256.2" stroke="#444" stroke-width="0.8" />
<line x1="873.6" y1="348.2" x2="873.6" y2="352.5" stroke="#333" stroke-width="1" />
<text transform="translate(876.1,360.2) rotate(-42.5)" font-size="8.15" fill="#222" stroke="#222" stroke-width="0.2" text-anchor="end">Savolitinib_MAPK</text>
<rect x="896.95" y="297.2" width="10.6" height="51" fill="#a5b1d8" />
<rect x="908.5" y="316.3" width="10.6" height="31.9" fill="#e694c8" />
<rect x="920.05" y="327.8" width="10.6" height="20.4" fill="#8fcfb1" />
<line x1="902.25" y1="254.8" x2="902.25" y2="339.4" stroke="#444" stroke-width="0.8" />
<line x1="900.65" y1="254.8" x2="903.85" y2="254.8" stroke="#444" stroke-width="0.8" />
<line x1="900.65" y1="339.4" x2="903.85" y2="339.4" stroke="#444" stroke-width="0.8" />
<line x1="913.8" y1="299" x2="913.8" y2="332.2" stroke="#444" stroke-width="0.8" />
<line x1="912.2" y1="299" x2="915.4" y2="299" stroke="#444" stroke-width="0.8" />
<line x1="912.2" y1="332.2" x2="915.4" y2="332.2" stroke="#444" stroke-width="0.8" />
<line x1="925.35" y1="323.5" x2="925.35" y2="331.3" stroke="#444" stroke-width="0.8" />
<line x1="923.75" y1="323.5" x2="926.95" y2="323.5" stroke="#444" stroke-width="0.8" />
<line x1="923.75" y1="331.3" x2="926.95" y2="331.3" stroke="#444" stroke-width="0.8" />
<line x1="913.55" y1="348.2" x2="913.55" y2="352.5" stroke="#333" stroke-width="1" />
<text transform="translate(916.05,360.2) rotate(-42.5)" font-size="8.15" fill="#222" stroke="#222" stroke-width="0.2" text-anchor="end">Selumetinib_MAPK</text>
<rect x="936.9" y="297.2" width="10.6" height="51" fill="#a5b1d8" />
<rect x="948.45" y="308.2" width="10.6" height="40" fill="#e694c8" />
<rect x="960" y="302.7" width="10.6" height="45.5" fill="#8fcfb1" />
<line x1="942.2" y1="246.4" x2="942.2" y2="348" stroke="#444" stroke-width="0.8" />
<line x1="940.6" y1="246.4" x2="943.8" y2="246.4" stroke="#444" stroke-width="0.8" />
<line x1="940.6" y1="348" x2="943.8" y2="348" stroke="#444" stroke-width="0.8" />
<line x1="953.75" y1="292.3" x2="953.75" y2="323.5" stroke="#444" stroke-width="0.8" />
<line x1="952.15" y1="292.3" x2="955.35" y2="292.3" stroke="#444" stroke-width="0.8" />
<line x1="952.15" y1="323.5" x2="955.35" y2="323.5" stroke="#444" stroke-width="0.8" />
<line x1="965.3" y1="294.6" x2="965.3" y2="311.4" stroke="#444" stroke-width="0.8" />
<line x1="963.7" y1="294.6" x2="966.9" y2="294.6" stroke="#444" stroke-width="0.8" />
<line x1="963.7" y1="311.4" x2="966.9" y2="311.4" stroke="#444" stroke-width="0.8" />
<line x1="953.5" y1="348.2" x2="953.5" y2="352.5" stroke="#333" stroke-width="1" />
<text transform="translate(956,360.2) rotate(-42.5)" font-size="8.15" fill="#222" stroke="#222" stroke-width="0.2" text-anchor="end">Trametinib_MAPK</text>
<rect x="976.85" y="297.2" width="10.6" height="51" fill="#a5b1d8" />
<rect x="988.4" y="285.4" width="10.6" height="62.8" fill="#e694c8" />
<rect x="999.95" y="337.1" width="10.6" height="11.1" fill="#8fcfb1" />
<line x1="982.15" y1="285.4" x2="982.15" y2="309.6" stroke="#444" stroke-width="0.8" />
<line x1="980.55" y1="285.4" x2="983.75" y2="285.4" stroke="#444" stroke-width="0.8" />
<line x1="980.55" y1="309.6" x2="983.75" y2="309.6" stroke="#444" stroke-width="0.8" />
<line x1="993.7" y1="271.5" x2="993.7" y2="298.4" stroke="#444" stroke-width="0.8" />
<line x1="992.1" y1="271.5" x2="995.3" y2="271.5" stroke="#444" stroke-width="0.8" />
<line x1="992.1" y1="298.4" x2="995.3" y2="298.4" stroke="#444" stroke-width="0.8" />
<line x1="1005.25" y1="333.6" x2="1005.25" y2="340.3" stroke="#444" stroke-width="0.8" />
<line x1="1003.65" y1="333.6" x2="1006.85" y2="333.6" stroke="#444" stroke-width="0.8" />
<line x1="1003.65" y1="340.3" x2="1006.85" y2="340.3" stroke="#444" stroke-width="0.8" />
<text x="993.45" y="263.2" font-size="12" fill="#111" font-weight="bold" text-anchor="middle" >****</text>
<line x1="993.45" y1="348.2" x2="993.45" y2="352.5" stroke="#333" stroke-width="1" />
<text transform="translate(995.95,360.2) rotate(-42.5)" font-size="8.15" fill="#222" stroke="#222" stroke-width="0.2" text-anchor="end">Ulixertinib_MAPK</text>
<line x1="532.4" y1="223.9" x2="532.4" y2="348.8" stroke="#333" stroke-width="1.4" />
<line x1="531.8" y1="348.2" x2="1015.5" y2="348.2" stroke="#333" stroke-width="1.4" />
<line x1="529.1" y1="333.9" x2="532.4" y2="333.9" stroke="#333" stroke-width="1" />
<text x="525.2" y="336.9" font-size="8.4" fill="#222" text-anchor="end" >0.5</text>
<line x1="529.1" y1="297.2" x2="532.4" y2="297.2" stroke="#333" stroke-width="1" />
<text x="525.2" y="300.2" font-size="8.4" fill="#222" text-anchor="end" >1.0</text>
<line x1="529.1" y1="260.5" x2="532.4" y2="260.5" stroke="#333" stroke-width="1" />
<text x="525.2" y="263.5" font-size="8.4" fill="#222" text-anchor="end" >1.5</text>
<line x1="529.1" y1="223.9" x2="532.4" y2="223.9" stroke="#333" stroke-width="1" />
<text x="525.2" y="226.9" font-size="8.4" fill="#222" text-anchor="end" >2.0</text>
<text transform="translate(507.2,288.8) rotate(-90)" font-size="8.1" fill="#222" text-anchor="middle">Drug Score</text>
<rect x="537.8" y="223.9" width="18.2" height="3.6" fill="#a5b1d8" />
<text x="566.2" y="228.9" font-size="9" fill="#222" >ARG1</text>
<rect x="605.7" y="223.9" width="17.8" height="3.6" fill="#e694c8" />
<text x="633.2" y="228.9" font-size="9" fill="#222" >ARG2</text>
<rect x="674.5" y="223.9" width="18" height="3.6" fill="#8fcfb1" />
<text x="703" y="228.9" font-size="9" fill="#222" >AGR3</text>
<text x="494.4" y="227.4" font-size="24" fill="#000" font-weight="bold" >G</text>
<rect x="36.8" y="425.2" width="68.6" height="123.4" fill="#ebebeb" />
<line x1="36.8" y1="434.7" x2="105.4" y2="434.7" stroke="#fff" stroke-width="0.9" />
<line x1="36.8" y1="442.9" x2="105.4" y2="442.9" stroke="#f7f7f7" stroke-width="0.5" />
<line x1="36.8" y1="451.1" x2="105.4" y2="451.1" stroke="#fff" stroke-width="0.9" />
<line x1="36.8" y1="459.3" x2="105.4" y2="459.3" stroke="#f7f7f7" stroke-width="0.5" />
<line x1="36.8" y1="467.5" x2="105.4" y2="467.5" stroke="#fff" stroke-width="0.9" />
<line x1="36.8" y1="475.7" x2="105.4" y2="475.7" stroke="#f7f7f7" stroke-width="0.5" />
<line x1="36.8" y1="483.9" x2="105.4" y2="483.9" stroke="#fff" stroke-width="0.9" />
<line x1="36.8" y1="492.1" x2="105.4" y2="492.1" stroke="#f7f7f7" stroke-width="0.5" />
<line x1="36.8" y1="500.3" x2="105.4" y2="500.3" stroke="#fff" stroke-width="0.9" />
<line x1="36.8" y1="508.5" x2="105.4" y2="508.5" stroke="#f7f7f7" stroke-width="0.5" />
<line x1="36.8" y1="516.7" x2="105.4" y2="516.7" stroke="#fff" stroke-width="0.9" />
<line x1="36.8" y1="524.9" x2="105.4" y2="524.9" stroke="#f7f7f7" stroke-width="0.5" />
<line x1="36.8" y1="533.1" x2="105.4" y2="533.1" stroke="#fff" stroke-width="0.9" />
<line x1="36.8" y1="541.3" x2="105.4" y2="541.3" stroke="#f7f7f7" stroke-width="0.5" />
<line x1="49.4" y1="425.2" x2="49.4" y2="548.6" stroke="#fff" stroke-width="0.9" />
<line x1="49.4" y1="549" x2="49.4" y2="550.8" stroke="#444" stroke-width="0.8" />
<line x1="70.8" y1="425.2" x2="70.8" y2="548.6" stroke="#fff" stroke-width="0.9" />
<line x1="70.8" y1="549" x2="70.8" y2="550.8" stroke="#444" stroke-width="0.8" />
<line x1="92.3" y1="425.2" x2="92.3" y2="548.6" stroke="#fff" stroke-width="0.9" />
<line x1="92.3" y1="549" x2="92.3" y2="550.8" stroke="#444" stroke-width="0.8" />
<path d="M50.5 473.1h0M48.4 461.9h0M46.1 461.2h0" stroke="#7b90d8" stroke-width="2.3" stroke-linecap="round" stroke-opacity="0.85"/>
<path d="M53.9,458.6 C54.05,458.77 54.65,457.7 54.8,459.6 C54.95,461.5 55,467.17 54.8,470 C54.6,472.83 53.63,473.6 53.6,476.6 C53.57,479.6 54.67,485.85 54.6,488 C54.53,490.15 53.43,487 53.2,489.5 C52.97,492 53.42,500.67 53.2,503 C52.98,505.33 52.12,503.42 51.9,503.5 L46.9,503.5 C46.68,503.42 45.82,505.33 45.6,503 C45.38,500.67 45.83,492 45.6,489.5 C45.37,487 44.27,490.15 44.2,488 C44.13,485.85 45.23,479.6 45.2,476.6 C45.17,473.6 44.2,472.83 44,470 C43.8,467.17 43.85,461.5 44,459.6 C44.15,457.7 44.75,458.77 44.9,458.6 Z" fill="none" stroke="#262626" stroke-width="1.15"/>
<line x1="49.4" y1="458.6" x2="49.4" y2="503.5" stroke="#333" stroke-width="0.8" />
<rect x="45.4" y="459.6" width="8" height="29.9" fill="none" stroke="#333" stroke-width="0.8"/>
<line x1="45.4" y1="476.6" x2="53.4" y2="476.6" stroke="#333" stroke-width="1.4" />
<path d="M67.9 504.8h0M68.1 504.3h0M74.0 493.2h0M74.2 512.8h0M68.0 496.8h0M68.5 497.9h0M69.9 513.0h0M67.6 511.1h0" stroke="#e056bd" stroke-width="2.3" stroke-linecap="round" stroke-opacity="0.85"/>
<path d="M72,480.8 C72.22,481.17 72.67,481.47 73.3,483 C73.93,484.53 74.72,486.97 75.8,490 C76.88,493.03 79.38,497.87 79.8,501.2 C80.22,504.53 79.13,506.87 78.3,510 C77.47,513.13 75.63,516.67 74.8,520 C73.97,523.33 73.77,527.3 73.3,530 C72.83,532.7 72.22,535.17 72,536.2 L69.6,536.2 C69.38,535.17 68.77,532.7 68.3,530 C67.83,527.3 67.63,523.33 66.8,520 C65.97,516.67 64.13,513.13 63.3,510 C62.47,506.87 61.38,504.53 61.8,501.2 C62.22,497.87 64.72,493.03 65.8,490 C66.88,486.97 67.67,484.53 68.3,483 C68.93,481.47 69.38,481.17 69.6,480.8 Z" fill="none" stroke="#262626" stroke-width="1.15"/>
<line x1="70.8" y1="480.8" x2="70.8" y2="536.2" stroke="#333" stroke-width="0.8" />
<rect x="66.55" y="495.9" width="8.5" height="13.8" fill="none" stroke="#333" stroke-width="0.8"/>
<line x1="66.55" y1="504" x2="75.05" y2="504" stroke="#333" stroke-width="1.4" />
<path d="M92.9,463.4 C92.9,463.92 92.87,465.47 92.9,466.51 C92.93,467.54 93.03,468.58 93.09,469.62 C93.15,470.65 93.21,471.69 93.27,472.72 C93.33,473.76 93.39,474.8 93.45,475.83 C93.52,476.87 93.55,477.91 93.64,478.94 C93.73,479.98 93.86,481.01 93.99,482.05 C94.12,483.09 94.28,484.12 94.42,485.16 C94.57,486.19 94.71,487.23 94.86,488.27 C95,489.3 95.22,490.34 95.29,491.38 C95.37,492.41 95.3,493.45 95.3,494.48 C95.3,495.52 95.3,496.56 95.3,497.59 C95.3,498.63 95.3,499.66 95.3,500.7 C95.3,501.74 95.3,502.77 95.3,503.81 C95.3,504.84 95.3,505.88 95.3,506.92 C95.3,507.95 95.3,508.99 95.3,510.02 C95.3,511.06 95.3,512.1 95.3,513.13 C95.3,514.17 95.3,515.21 95.3,516.24 C95.3,517.28 95.3,518.31 95.3,519.35 C95.3,520.39 95.3,521.42 95.3,522.46 C95.3,523.49 95.3,524.53 95.3,525.57 C95.3,526.6 95.38,527.64 95.3,528.67 C95.22,529.71 95.08,530.75 94.83,531.78 C94.57,532.82 94.09,533.86 93.76,534.89 C93.44,535.93 93.04,537.48 92.9,538 L91.7,538 C91.56,537.48 91.16,535.93 90.84,534.89 C90.51,533.86 90.03,532.82 89.77,531.78 C89.52,530.75 89.38,529.71 89.3,528.67 C89.22,527.64 89.3,526.6 89.3,525.57 C89.3,524.53 89.3,523.49 89.3,522.46 C89.3,521.42 89.3,520.39 89.3,519.35 C89.3,518.31 89.3,517.28 89.3,516.24 C89.3,515.21 89.3,514.17 89.3,513.13 C89.3,512.1 89.3,511.06 89.3,510.02 C89.3,508.99 89.3,507.95 89.3,506.92 C89.3,505.88 89.3,504.84 89.3,503.81 C89.3,502.77 89.3,501.74 89.3,500.7 C89.3,499.66 89.3,498.63 89.3,497.59 C89.3,496.56 89.3,495.52 89.3,494.48 C89.3,493.45 89.23,492.41 89.31,491.38 C89.38,490.34 89.6,489.3 89.74,488.27 C89.89,487.23 90.03,486.19 90.18,485.16 C90.32,484.12 90.48,483.09 90.61,482.05 C90.74,481.01 90.87,479.98 90.96,478.94 C91.05,477.91 91.08,476.87 91.15,475.83 C91.21,474.8 91.27,473.76 91.33,472.72 C91.39,471.69 91.45,470.65 91.51,469.62 C91.57,468.58 91.67,467.54 91.7,466.51 C91.73,465.47 91.7,463.92 91.7,463.4 Z" fill="#5cc79a" fill-opacity="0.8"/>
<path d="M92.9 495.3h0M94.4 497.2h0M92.8 515.5h0M95.8 517.8h0M92.2 519.9h0M95.0 520.4h0M92.0 507.7h0M89.1 498.8h0M95.9 515.7h0M91.5 524.7h0M92.0 513.3h0M90.8 475.9h0M90.5 520.7h0M94.6 504.4h0M91.7 527.9h0M90.9 534.8h0M92.2 480.7h0M88.7 507.3h0M92.8 494.7h0M93.6 501.9h0M94.4 521.6h0M89.4 492.7h0M89.2 510.7h0M91.7 479.0h0M91.7 467.3h0M90.5 509.2h0M89.6 489.3h0M89.3 498.2h0M93.8 475.4h0M92.6 502.8h0M91.3 515.3h0M91.1 503.1h0M94.0 523.5h0M88.9 489.9h0M93.4 484.2h0M91.1 534.6h0M91.1 480.3h0M94.8 510.0h0M94.5 499.2h0M90.0 519.4h0M94.5 522.3h0M89.6 517.5h0M94.7 523.6h0M89.6 489.5h0M95.4 511.9h0" stroke="#3fc08c" stroke-width="2.3" stroke-linecap="round" stroke-opacity="0.85"/>
<path d="M92.9,463.4 C93.13,466.17 93.57,474.73 94.3,480 C95.03,485.27 96.05,489.27 97.3,495 C98.55,500.73 101.47,509.4 101.8,514.4 C102.13,519.4 100.38,521.9 99.3,525 C98.22,528.1 96.37,530.83 95.3,533 C94.23,535.17 93.3,537.17 92.9,538 L91.7,538 C91.3,537.17 90.37,535.17 89.3,533 C88.23,530.83 86.38,528.1 85.3,525 C84.22,521.9 82.47,519.4 82.8,514.4 C83.13,509.4 86.05,500.73 87.3,495 C88.55,489.27 89.57,485.27 90.3,480 C91.03,474.73 91.47,466.17 91.7,463.4 Z" fill="none" stroke="#262626" stroke-width="1.15"/>
<line x1="92.3" y1="463.4" x2="92.3" y2="538" stroke="#333" stroke-width="0.8" />
<rect x="87.6" y="504" width="9.4" height="14.2" fill="none" stroke="#333" stroke-width="0.8"/>
<line x1="87.6" y1="512" x2="97" y2="512" stroke="#333" stroke-width="1.4" />
<path d="M49.4,458 V456.2 H70.8 V458" fill="none" stroke="#555" stroke-width="0.75"/>
<text transform="translate(60.1,455.2) scale(1,1.1)" font-size="7.1" fill="#4d4d4d" text-anchor="middle" >0.082</text>
<path d="M49.4,448.2 V446.4 H92.3 V448.2" fill="none" stroke="#555" stroke-width="0.75"/>
<text transform="translate(70.85,445.4) scale(1,1.1)" font-size="7.1" fill="#4d4d4d" text-anchor="middle" >0.014</text>
<path d="M70.8,438.7 V436.9 H92.3 V438.7" fill="none" stroke="#555" stroke-width="0.75"/>
<text transform="translate(81.55,436.3) scale(1,1.1)" font-size="7.1" fill="#4d4d4d" text-anchor="middle" >0.14</text>
<text transform="translate(38.3,434.7) scale(1,1.12)" font-size="7.75" fill="#111" font-weight="bold" >JAK1</text>
<text x="49.4" y="557.7" font-size="7" fill="#4a4a4a" text-anchor="middle" >ARG1</text>
<text x="70.8" y="557.7" font-size="7" fill="#4a4a4a" text-anchor="middle" >ARG2</text>
<text x="92.3" y="557.7" font-size="7" fill="#4a4a4a" text-anchor="middle" >ARG3</text>
<rect x="115.5" y="425.2" width="68.9" height="123.4" fill="#ebebeb" />
<line x1="115.5" y1="434.7" x2="184.4" y2="434.7" stroke="#fff" stroke-width="0.9" />
<line x1="115.5" y1="442.9" x2="184.4" y2="442.9" stroke="#f7f7f7" stroke-width="0.5" />
<line x1="115.5" y1="451.1" x2="184.4" y2="451.1" stroke="#fff" stroke-width="0.9" />
<line x1="115.5" y1="459.3" x2="184.4" y2="459.3" stroke="#f7f7f7" stroke-width="0.5" />
<line x1="115.5" y1="467.5" x2="184.4" y2="467.5" stroke="#fff" stroke-width="0.9" />
<line x1="115.5" y1="475.7" x2="184.4" y2="475.7" stroke="#f7f7f7" stroke-width="0.5" />
<line x1="115.5" y1="483.9" x2="184.4" y2="483.9" stroke="#fff" stroke-width="0.9" />
<line x1="115.5" y1="492.1" x2="184.4" y2="492.1" stroke="#f7f7f7" stroke-width="0.5" />
<line x1="115.5" y1="500.3" x2="184.4" y2="500.3" stroke="#fff" stroke-width="0.9" />
<line x1="115.5" y1="508.5" x2="184.4" y2="508.5" stroke="#f7f7f7" stroke-width="0.5" />
<line x1="115.5" y1="516.7" x2="184.4" y2="516.7" stroke="#fff" stroke-width="0.9" />
<line x1="115.5" y1="524.9" x2="184.4" y2="524.9" stroke="#f7f7f7" stroke-width="0.5" />
<line x1="115.5" y1="533.1" x2="184.4" y2="533.1" stroke="#fff" stroke-width="0.9" />
<line x1="115.5" y1="541.3" x2="184.4" y2="541.3" stroke="#f7f7f7" stroke-width="0.5" />
<line x1="128" y1="425.2" x2="128" y2="548.6" stroke="#fff" stroke-width="0.9" />
<line x1="128" y1="549" x2="128" y2="550.8" stroke="#444" stroke-width="0.8" />
<line x1="149.7" y1="425.2" x2="149.7" y2="548.6" stroke="#fff" stroke-width="0.9" />
<line x1="149.7" y1="549" x2="149.7" y2="550.8" stroke="#444" stroke-width="0.8" />
<line x1="171.4" y1="425.2" x2="171.4" y2="548.6" stroke="#fff" stroke-width="0.9" />
<line x1="171.4" y1="549" x2="171.4" y2="550.8" stroke="#444" stroke-width="0.8" />
<path d="M127.4 516.4h0M128.2 479.1h0" stroke="#7b90d8" stroke-width="2.3" stroke-linecap="round" stroke-opacity="0.85"/>
<line x1="128" y1="458.6" x2="128" y2="528.6" stroke="#2f2f2f" stroke-width="2.16" stroke-linecap="round"/>
<rect x="122.65" y="488.3" width="10.7" height="34.7" fill="none" stroke="#333" stroke-width="0.8"/>
<line x1="122.65" y1="516.7" x2="133.35" y2="516.7" stroke="#333" stroke-width="1.4" />
<path d="M147.0 522.6h0M149.5 539.5h0M149.9 528.9h0M151.9 520.6h0M151.3 520.4h0M149.8 530.3h0" stroke="#e056bd" stroke-width="2.3" stroke-linecap="round" stroke-opacity="0.85"/>
<path d="M151.2,515.9 C151.45,516.42 151.53,516.72 152.7,519 C153.87,521.28 158.03,527.1 158.2,529.6 C158.37,532.1 154.87,532.9 153.7,534 C152.53,535.1 151.45,535.37 151.2,536.2 C150.95,537.03 151.87,538.07 152.2,539 C152.53,539.93 153.03,541.33 153.2,541.8 L146.2,541.8 C146.37,541.33 146.87,539.93 147.2,539 C147.53,538.07 148.45,537.03 148.2,536.2 C147.95,535.37 146.87,535.1 145.7,534 C144.53,532.9 141.03,532.1 141.2,529.6 C141.37,527.1 145.53,521.28 146.7,519 C147.87,516.72 147.95,516.42 148.2,515.9 Z" fill="none" stroke="#262626" stroke-width="1.15"/>
<line x1="149.7" y1="515.9" x2="149.7" y2="541.8" stroke="#333" stroke-width="0.8" />
<rect x="145.7" y="526.7" width="8" height="5.7" fill="none" stroke="#333" stroke-width="0.8"/>
<line x1="145.7" y1="529.6" x2="153.7" y2="529.6" stroke="#333" stroke-width="1.4" />
<path d="M172,498.4 C172,498.71 172,499.63 172,500.25 C172,500.87 172,501.48 172,502.1 C172,502.72 172,503.33 172.02,503.95 C172.03,504.57 172.06,505.18 172.08,505.8 C172.11,506.42 172.13,507.03 172.15,507.65 C172.17,508.27 172.2,508.88 172.22,509.5 C172.24,510.12 172.26,510.73 172.28,511.35 C172.31,511.97 172.33,512.58 172.35,513.2 C172.37,513.82 172.36,514.43 172.42,515.05 C172.47,515.67 172.56,516.28 172.69,516.9 C172.83,517.52 173.03,518.13 173.2,518.75 C173.37,519.37 173.53,519.98 173.7,520.6 C173.87,521.22 174.09,521.83 174.21,522.45 C174.32,523.07 174.37,523.68 174.4,524.3 C174.43,524.92 174.4,525.53 174.4,526.15 C174.4,526.77 174.4,527.38 174.4,528 C174.4,528.62 174.4,529.23 174.4,529.85 C174.4,530.47 174.4,531.08 174.4,531.7 C174.4,532.32 174.4,532.93 174.4,533.55 C174.4,534.17 174.4,534.78 174.4,535.4 C174.4,536.02 174.4,536.63 174.4,537.25 C174.4,537.87 174.4,538.48 174.4,539.1 C174.4,539.72 174.61,540.33 174.4,540.95 C174.19,541.57 173.36,542.49 173.15,542.8 L169.65,542.8 C169.44,542.49 168.61,541.57 168.4,540.95 C168.19,540.33 168.4,539.72 168.4,539.1 C168.4,538.48 168.4,537.87 168.4,537.25 C168.4,536.63 168.4,536.02 168.4,535.4 C168.4,534.78 168.4,534.17 168.4,533.55 C168.4,532.93 168.4,532.32 168.4,531.7 C168.4,531.08 168.4,530.47 168.4,529.85 C168.4,529.23 168.4,528.62 168.4,528 C168.4,527.38 168.4,526.77 168.4,526.15 C168.4,525.53 168.37,524.92 168.4,524.3 C168.43,523.68 168.48,523.07 168.59,522.45 C168.71,521.83 168.93,521.22 169.1,520.6 C169.27,519.98 169.43,519.37 169.6,518.75 C169.77,518.13 169.97,517.52 170.11,516.9 C170.24,516.28 170.33,515.67 170.38,515.05 C170.44,514.43 170.43,513.82 170.45,513.2 C170.47,512.58 170.49,511.97 170.52,511.35 C170.54,510.73 170.56,510.12 170.58,509.5 C170.6,508.88 170.63,508.27 170.65,507.65 C170.67,507.03 170.69,506.42 170.72,505.8 C170.74,505.18 170.77,504.57 170.78,503.95 C170.8,503.33 170.8,502.72 170.8,502.1 C170.8,501.48 170.8,500.87 170.8,500.25 C170.8,499.63 170.8,498.71 170.8,498.4 Z" fill="#5cc79a" fill-opacity="0.8"/>
<path d="M172.0 509.4h0M171.0 532.1h0M171.5 525.6h0M171.6 529.2h0M174.6 529.4h0M171.3 504.5h0M168.9 533.2h0M168.8 530.2h0M169.4 537.6h0M171.3 540.7h0M169.2 521.3h0M170.6 518.0h0M168.3 526.1h0M169.7 541.5h0M171.2 510.4h0M169.7 538.9h0M171.7 502.4h0M173.2 517.3h0M171.7 518.5h0M168.7 539.5h0M168.6 521.8h0M170.8 505.6h0M171.4 532.1h0M171.2 522.9h0M173.7 539.9h0M171.4 535.5h0M170.7 529.8h0M170.4 513.8h0M170.4 509.7h0M172.6 535.8h0M170.9 510.9h0M171.1 518.8h0M169.6 541.6h0M170.4 541.3h0M171.1 500.3h0M174.1 527.6h0M172.9 542.1h0M173.8 527.0h0M173.1 538.0h0M171.6 534.5h0M172.0 534.1h0M172.8 538.0h0M170.6 508.6h0M172.4 514.4h0M171.3 526.2h0" stroke="#3fc08c" stroke-width="2.3" stroke-linecap="round" stroke-opacity="0.85"/>
<path d="M172,498.4 C172.15,501.33 172.17,511.57 172.9,516 C173.63,520.43 175.03,521.95 176.4,525 C177.77,528.05 180.77,531.97 181.1,534.3 C181.43,536.63 179.6,537.58 178.4,539 C177.2,540.42 174.65,542.17 173.9,542.8 L168.9,542.8 C168.15,542.17 165.6,540.42 164.4,539 C163.2,537.58 161.37,536.63 161.7,534.3 C162.03,531.97 165.03,528.05 166.4,525 C167.77,521.95 169.17,520.43 169.9,516 C170.63,511.57 170.65,501.33 170.8,498.4 Z" fill="none" stroke="#262626" stroke-width="1.15"/>
<line x1="171.4" y1="498.4" x2="171.4" y2="542.8" stroke="#333" stroke-width="0.8" />
<rect x="166.4" y="530.5" width="10" height="6.6" fill="none" stroke="#333" stroke-width="0.8"/>
<line x1="166.4" y1="534.3" x2="176.4" y2="534.3" stroke="#333" stroke-width="1.4" />
<path d="M128,457 V455.2 H149.7 V457" fill="none" stroke="#555" stroke-width="0.75"/>
<text transform="translate(138.85,454.5) scale(1,1.1)" font-size="7.1" fill="#4d4d4d" text-anchor="middle" >0.057</text>
<path d="M128,447.2 V445.4 H171.4 V447.2" fill="none" stroke="#555" stroke-width="0.75"/>
<text transform="translate(149.7,444.4) scale(1,1.1)" font-size="7.1" fill="#4d4d4d" text-anchor="middle" >0.018</text>
<path d="M149.7,437.4 V435.6 H171.4 V437.4" fill="none" stroke="#555" stroke-width="0.75"/>
<text transform="translate(160.55,434.6) scale(1,1.1)" font-size="7.1" fill="#4d4d4d" text-anchor="middle" >0.24</text>
<text transform="translate(118.3,434.7) scale(1,1.12)" font-size="7.75" fill="#111" font-weight="bold" >JAK2</text>
<text x="128" y="557.7" font-size="7" fill="#4a4a4a" text-anchor="middle" >ARG1</text>
<text x="149.7" y="557.7" font-size="7" fill="#4a4a4a" text-anchor="middle" >ARG2</text>
<text x="171.4" y="557.7" font-size="7" fill="#4a4a4a" text-anchor="middle" >ARG3</text>
<rect x="194" y="425.2" width="68.7" height="123.4" fill="#ebebeb" />
<line x1="194" y1="434.7" x2="262.7" y2="434.7" stroke="#fff" stroke-width="0.9" />
<line x1="194" y1="442.9" x2="262.7" y2="442.9" stroke="#f7f7f7" stroke-width="0.5" />
<line x1="194" y1="451.1" x2="262.7" y2="451.1" stroke="#fff" stroke-width="0.9" />
<line x1="194" y1="459.3" x2="262.7" y2="459.3" stroke="#f7f7f7" stroke-width="0.5" />
<line x1="194" y1="467.5" x2="262.7" y2="467.5" stroke="#fff" stroke-width="0.9" />
<line x1="194" y1="475.7" x2="262.7" y2="475.7" stroke="#f7f7f7" stroke-width="0.5" />
<line x1="194" y1="483.9" x2="262.7" y2="483.9" stroke="#fff" stroke-width="0.9" />
<line x1="194" y1="492.1" x2="262.7" y2="492.1" stroke="#f7f7f7" stroke-width="0.5" />
<line x1="194" y1="500.3" x2="262.7" y2="500.3" stroke="#fff" stroke-width="0.9" />
<line x1="194" y1="508.5" x2="262.7" y2="508.5" stroke="#f7f7f7" stroke-width="0.5" />
<line x1="194" y1="516.7" x2="262.7" y2="516.7" stroke="#fff" stroke-width="0.9" />
<line x1="194" y1="524.9" x2="262.7" y2="524.9" stroke="#f7f7f7" stroke-width="0.5" />
<line x1="194" y1="533.1" x2="262.7" y2="533.1" stroke="#fff" stroke-width="0.9" />
<line x1="194" y1="541.3" x2="262.7" y2="541.3" stroke="#f7f7f7" stroke-width="0.5" />
<line x1="206.9" y1="425.2" x2="206.9" y2="548.6" stroke="#fff" stroke-width="0.9" />
<line x1="206.9" y1="549" x2="206.9" y2="550.8" stroke="#444" stroke-width="0.8" />
<line x1="228.3" y1="425.2" x2="228.3" y2="548.6" stroke="#fff" stroke-width="0.9" />
<line x1="228.3" y1="549" x2="228.3" y2="550.8" stroke="#444" stroke-width="0.8" />
<line x1="250" y1="425.2" x2="250" y2="548.6" stroke="#fff" stroke-width="0.9" />
<line x1="250" y1="549" x2="250" y2="550.8" stroke="#444" stroke-width="0.8" />
<path d="M207.2 517.5h0M208.6 515.4h0M205.2 505.7h0" stroke="#7b90d8" stroke-width="2.3" stroke-linecap="round" stroke-opacity="0.85"/>
<path d="M209.9,499.7 C210.32,499.85 211.8,500.13 212.4,500.6 C213,501.07 213.32,499.1 213.5,502.5 C213.68,505.9 213.68,517.62 213.5,521 C213.32,524.38 213,522.38 212.4,522.8 C211.8,523.22 210.32,523.38 209.9,523.5 L203.9,523.5 C203.48,523.38 202,523.22 201.4,522.8 C200.8,522.38 200.48,524.38 200.3,521 C200.12,517.62 200.12,505.9 200.3,502.5 C200.48,499.1 200.8,501.07 201.4,500.6 C202,500.13 203.48,499.85 203.9,499.7 Z" fill="none" stroke="#262626" stroke-width="1.15"/>
<line x1="206.9" y1="499.7" x2="206.9" y2="523.5" stroke="#333" stroke-width="0.8" />
<rect x="202.2" y="505.4" width="9.4" height="10.9" fill="none" stroke="#333" stroke-width="0.8"/>
<line x1="202.2" y1="510.6" x2="211.6" y2="510.6" stroke="#333" stroke-width="1.4" />
<path d="M230.0 515.6h0M229.6 500.7h0M229.3 517.3h0M227.3 487.5h0M228.8 516.2h0M227.5 484.7h0M229.6 513.2h0M228.1 496.7h0M231.1 504.3h0M228.0 524.6h0" stroke="#e056bd" stroke-width="2.3" stroke-linecap="round" stroke-opacity="0.85"/>
<path d="M230.1,484.2 C230.17,485.77 229.8,490.47 230.5,493.6 C231.2,496.73 233.33,499.85 234.3,503 C235.27,506.15 236.13,509.67 236.3,512.5 C236.47,515.33 235.97,517.92 235.3,520 C234.63,522.08 233.3,523.78 232.3,525 C231.3,526.22 229.8,526.92 229.3,527.3 L227.3,527.3 C226.8,526.92 225.3,526.22 224.3,525 C223.3,523.78 221.97,522.08 221.3,520 C220.63,517.92 220.13,515.33 220.3,512.5 C220.47,509.67 221.33,506.15 222.3,503 C223.27,499.85 225.4,496.73 226.1,493.6 C226.8,490.47 226.43,485.77 226.5,484.2 Z" fill="none" stroke="#262626" stroke-width="1.15"/>
<line x1="228.3" y1="484.2" x2="228.3" y2="527.3" stroke="#333" stroke-width="0.8" />
<rect x="224.05" y="503.1" width="8.5" height="13.2" fill="none" stroke="#333" stroke-width="0.8"/>
<line x1="224.05" y1="511.6" x2="232.55" y2="511.6" stroke="#333" stroke-width="1.4" />
<path d="M250.6,461.9 C250.6,462.45 250.6,464.11 250.6,465.21 C250.6,466.31 250.6,467.41 250.6,468.52 C250.6,469.62 250.59,470.72 250.6,471.82 C250.61,472.93 250.64,474.03 250.66,475.13 C250.68,476.24 250.7,477.34 250.72,478.44 C250.74,479.54 250.76,480.65 250.78,481.75 C250.8,482.85 250.82,483.96 250.83,485.06 C250.85,486.16 250.87,487.26 250.89,488.37 C250.91,489.47 250.93,490.57 250.95,491.67 C250.97,492.78 250.99,493.88 251.01,494.98 C251.03,496.09 251.05,497.19 251.07,498.29 C251.09,499.39 251.11,500.5 251.13,501.6 C251.15,502.7 251.17,503.81 251.19,504.91 C251.21,506.01 251.12,507.11 251.25,508.22 C251.38,509.32 251.71,510.42 251.98,511.52 C252.24,512.63 252.67,513.73 252.84,514.83 C253.01,515.94 252.97,517.04 253,518.14 C253.03,519.24 253,520.35 253,521.45 C253,522.55 253,523.66 253,524.76 C253,525.86 253,526.96 253,528.07 C253,529.17 253,530.27 253,531.38 C253,532.48 253.03,533.58 253,534.68 C252.97,535.79 253.23,536.89 252.83,537.99 C252.43,539.09 250.97,540.75 250.6,541.3 L249.4,541.3 C249.03,540.75 247.57,539.09 247.17,537.99 C246.77,536.89 247.03,535.79 247,534.68 C246.97,533.58 247,532.48 247,531.38 C247,530.27 247,529.17 247,528.07 C247,526.96 247,525.86 247,524.76 C247,523.66 247,522.55 247,521.45 C247,520.35 246.97,519.24 247,518.14 C247.03,517.04 246.99,515.94 247.16,514.83 C247.33,513.73 247.76,512.63 248.02,511.52 C248.29,510.42 248.62,509.32 248.75,508.22 C248.88,507.11 248.79,506.01 248.81,504.91 C248.83,503.81 248.85,502.7 248.87,501.6 C248.89,500.5 248.91,499.39 248.93,498.29 C248.95,497.19 248.97,496.09 248.99,494.98 C249.01,493.88 249.03,492.78 249.05,491.67 C249.07,490.57 249.09,489.47 249.11,488.37 C249.13,487.26 249.15,486.16 249.17,485.06 C249.18,483.96 249.2,482.85 249.22,481.75 C249.24,480.65 249.26,479.54 249.28,478.44 C249.3,477.34 249.32,476.24 249.34,475.13 C249.36,474.03 249.39,472.93 249.4,471.82 C249.41,470.72 249.4,469.62 249.4,468.52 C249.4,467.41 249.4,466.31 249.4,465.21 C249.4,464.11 249.4,462.45 249.4,461.9 Z" fill="#5cc79a" fill-opacity="0.8"/>
<path d="M249.6 527.0h0M251.0 483.2h0M252.3 537.5h0M252.9 517.7h0M248.4 500.5h0M249.6 485.9h0M253.1 528.5h0M248.7 495.9h0M250.0 481.7h0M253.0 526.4h0M251.6 536.6h0M246.9 513.1h0M249.8 535.5h0M249.1 493.2h0M251.3 501.4h0M249.3 473.0h0M249.3 489.1h0M249.4 532.3h0M250.0 538.7h0M246.6 529.3h0M250.6 533.0h0M248.2 529.8h0M250.0 470.6h0M251.9 519.2h0M247.4 513.2h0M246.9 517.4h0M250.3 492.7h0M249.2 499.6h0M250.0 486.3h0M248.3 515.5h0M249.7 479.9h0M247.9 520.6h0M252.0 538.9h0M250.6 480.2h0M249.1 501.3h0M249.2 537.2h0M249.2 473.2h0M253.6 532.1h0M247.7 535.9h0M246.6 536.2h0M249.1 514.7h0M248.7 488.2h0M253.3 537.8h0M249.5 527.1h0M249.4 533.1h0" stroke="#3fc08c" stroke-width="2.3" stroke-linecap="round" stroke-opacity="0.85"/>
<path d="M250.6,461.9 C250.8,469.72 250.9,499.12 251.8,508.8 C252.7,518.48 254.72,516.53 256,520 C257.28,523.47 259.5,526.93 259.5,529.6 C259.5,532.27 257.45,534.05 256,536 C254.55,537.95 251.67,540.42 250.8,541.3 L249.2,541.3 C248.33,540.42 245.45,537.95 244,536 C242.55,534.05 240.5,532.27 240.5,529.6 C240.5,526.93 242.72,523.47 244,520 C245.28,516.53 247.3,518.48 248.2,508.8 C249.1,499.12 249.2,469.72 249.4,461.9 Z" fill="none" stroke="#262626" stroke-width="1.15"/>
<line x1="250" y1="461.9" x2="250" y2="541.3" stroke="#333" stroke-width="0.8" />
<rect x="245.3" y="521.6" width="9.4" height="11.7" fill="none" stroke="#333" stroke-width="0.8"/>
<line x1="245.3" y1="527.3" x2="254.7" y2="527.3" stroke="#333" stroke-width="1.4" />
<path d="M206.9,459.9 V458.1 H228.3 V459.9" fill="none" stroke="#555" stroke-width="0.75"/>
<text transform="translate(217.6,457.7) scale(1,1.1)" font-size="7.1" fill="#4d4d4d" text-anchor="middle" >0.9</text>
<path d="M206.9,451 V449.2 H250 V451" fill="none" stroke="#555" stroke-width="0.75"/>
<text transform="translate(228.45,448.8) scale(1,1.1)" font-size="7.1" fill="#4d4d4d" text-anchor="middle" >0.073</text>
<path d="M228.3,441.5 V439.7 H250 V441.5" fill="none" stroke="#555" stroke-width="0.75"/>
<text transform="translate(239.15,439.3) scale(1,1.1)" font-size="7.1" fill="#4d4d4d" text-anchor="middle" >0.00041</text>
<text transform="translate(196.5,434.7) scale(1,1.12)" font-size="7.75" fill="#111" font-weight="bold" >JAK3</text>
<text x="206.9" y="557.7" font-size="7" fill="#4a4a4a" text-anchor="middle" >ARG1</text>
<text x="228.3" y="557.7" font-size="7" fill="#4a4a4a" text-anchor="middle" >ARG2</text>
<text x="250" y="557.7" font-size="7" fill="#4a4a4a" text-anchor="middle" >ARG3</text>
<rect x="304.2" y="425.2" width="67.5" height="123.4" fill="#ebebeb" />
<line x1="304.2" y1="434.7" x2="371.7" y2="434.7" stroke="#fff" stroke-width="0.9" />
<line x1="304.2" y1="442.9" x2="371.7" y2="442.9" stroke="#f7f7f7" stroke-width="0.5" />
<line x1="304.2" y1="451.1" x2="371.7" y2="451.1" stroke="#fff" stroke-width="0.9" />
<line x1="304.2" y1="459.3" x2="371.7" y2="459.3" stroke="#f7f7f7" stroke-width="0.5" />
<line x1="304.2" y1="467.5" x2="371.7" y2="467.5" stroke="#fff" stroke-width="0.9" />
<line x1="304.2" y1="475.7" x2="371.7" y2="475.7" stroke="#f7f7f7" stroke-width="0.5" />
<line x1="304.2" y1="483.9" x2="371.7" y2="483.9" stroke="#fff" stroke-width="0.9" />
<line x1="304.2" y1="492.1" x2="371.7" y2="492.1" stroke="#f7f7f7" stroke-width="0.5" />
<line x1="304.2" y1="500.3" x2="371.7" y2="500.3" stroke="#fff" stroke-width="0.9" />
<line x1="304.2" y1="508.5" x2="371.7" y2="508.5" stroke="#f7f7f7" stroke-width="0.5" />
<line x1="304.2" y1="516.7" x2="371.7" y2="516.7" stroke="#fff" stroke-width="0.9" />
<line x1="304.2" y1="524.9" x2="371.7" y2="524.9" stroke="#f7f7f7" stroke-width="0.5" />
<line x1="304.2" y1="533.1" x2="371.7" y2="533.1" stroke="#fff" stroke-width="0.9" />
<line x1="304.2" y1="541.3" x2="371.7" y2="541.3" stroke="#f7f7f7" stroke-width="0.5" />
<line x1="316.1" y1="425.2" x2="316.1" y2="548.6" stroke="#fff" stroke-width="0.9" />
<line x1="316.1" y1="549" x2="316.1" y2="550.8" stroke="#444" stroke-width="0.8" />
<line x1="337.3" y1="425.2" x2="337.3" y2="548.6" stroke="#fff" stroke-width="0.9" />
<line x1="337.3" y1="549" x2="337.3" y2="550.8" stroke="#444" stroke-width="0.8" />
<line x1="358.6" y1="425.2" x2="358.6" y2="548.6" stroke="#fff" stroke-width="0.9" />
<line x1="358.6" y1="549" x2="358.6" y2="550.8" stroke="#444" stroke-width="0.8" />
<path d="M312.8 509.8h0M319.1 489.2h0M319.0 495.1h0" stroke="#7b90d8" stroke-width="2.3" stroke-linecap="round" stroke-opacity="0.85"/>
<path d="M319.1,488.3 C319.68,488.45 321.77,488.67 322.6,489.2 C323.43,489.73 323.85,487.78 324.1,491.5 C324.35,495.22 324.35,507.77 324.1,511.5 C323.85,515.23 323.43,513.35 322.6,513.9 C321.77,514.45 319.68,514.65 319.1,514.8 L313.1,514.8 C312.52,514.65 310.43,514.45 309.6,513.9 C308.77,513.35 308.35,515.23 308.1,511.5 C307.85,507.77 307.85,495.22 308.1,491.5 C308.35,487.78 308.77,489.73 309.6,489.2 C310.43,488.67 312.52,488.45 313.1,488.3 Z" fill="none" stroke="#262626" stroke-width="1.15"/>
<line x1="316.1" y1="488.3" x2="316.1" y2="514.8" stroke="#333" stroke-width="0.8" />
<rect x="311.35" y="495.1" width="9.5" height="12.7" fill="none" stroke="#333" stroke-width="0.8"/>
<line x1="311.35" y1="501.6" x2="320.85" y2="501.6" stroke="#333" stroke-width="1.4" />
<path d="M340.6 499.2h0M338.9 516.9h0M333.7 497.8h0M337.1 479.1h0M336.8 502.2h0M336.1 526.8h0M339.3 498.0h0M339.1 482.6h0M333.9 493.4h0M340.8 512.8h0" stroke="#e056bd" stroke-width="2.3" stroke-linecap="round" stroke-opacity="0.85"/>
<path d="M340.3,477.6 C340.63,477.92 341.97,471.6 342.3,479.5 C342.63,487.4 342.55,515.75 342.3,525 C342.05,534.25 341.17,532.28 340.8,535 C340.43,537.72 340.22,540.25 340.1,541.3 L334.5,541.3 C334.38,540.25 334.17,537.72 333.8,535 C333.43,532.28 332.55,534.25 332.3,525 C332.05,515.75 331.97,487.4 332.3,479.5 C332.63,471.6 333.97,477.92 334.3,477.6 Z" fill="none" stroke="#262626" stroke-width="1.15"/>
<line x1="337.3" y1="477.6" x2="337.3" y2="541.3" stroke="#333" stroke-width="0.8" />
<rect x="332.3" y="489.8" width="10" height="33.1" fill="none" stroke="#333" stroke-width="0.8"/>
<line x1="332.3" y1="500.6" x2="342.3" y2="500.6" stroke="#333" stroke-width="1.4" />
<path d="M359.2,460.5 C359.2,461.06 359.19,462.74 359.2,463.87 C359.21,464.99 359.21,466.11 359.23,467.23 C359.26,468.36 359.3,469.48 359.34,470.6 C359.38,471.72 359.41,472.84 359.45,473.97 C359.48,475.09 359.51,476.21 359.55,477.33 C359.6,478.46 359.58,479.58 359.7,480.7 C359.82,481.82 360.08,482.94 360.27,484.07 C360.45,485.19 360.64,486.31 360.83,487.43 C361.02,488.56 361.27,489.68 361.4,490.8 C361.52,491.92 361.57,493.04 361.6,494.17 C361.63,495.29 361.6,496.41 361.6,497.53 C361.6,498.66 361.6,499.78 361.6,500.9 C361.6,502.02 361.6,503.14 361.6,504.27 C361.6,505.39 361.6,506.51 361.6,507.63 C361.6,508.76 361.6,509.88 361.6,511 C361.6,512.12 361.6,513.24 361.6,514.37 C361.6,515.49 361.6,516.61 361.6,517.73 C361.6,518.86 361.6,519.98 361.6,521.1 C361.6,522.22 361.6,523.34 361.6,524.47 C361.6,525.59 361.6,526.71 361.6,527.83 C361.6,528.96 361.65,530.08 361.6,531.2 C361.55,532.32 361.55,533.44 361.33,534.57 C361.1,535.69 360.6,536.81 360.24,537.93 C359.89,539.06 359.37,540.74 359.2,541.3 L358,541.3 C357.83,540.74 357.31,539.06 356.96,537.93 C356.6,536.81 356.1,535.69 355.87,534.57 C355.65,533.44 355.65,532.32 355.6,531.2 C355.55,530.08 355.6,528.96 355.6,527.83 C355.6,526.71 355.6,525.59 355.6,524.47 C355.6,523.34 355.6,522.22 355.6,521.1 C355.6,519.98 355.6,518.86 355.6,517.73 C355.6,516.61 355.6,515.49 355.6,514.37 C355.6,513.24 355.6,512.12 355.6,511 C355.6,509.88 355.6,508.76 355.6,507.63 C355.6,506.51 355.6,505.39 355.6,504.27 C355.6,503.14 355.6,502.02 355.6,500.9 C355.6,499.78 355.6,498.66 355.6,497.53 C355.6,496.41 355.57,495.29 355.6,494.17 C355.63,493.04 355.68,491.92 355.8,490.8 C355.93,489.68 356.18,488.56 356.37,487.43 C356.56,486.31 356.75,485.19 356.93,484.07 C357.12,482.94 357.38,481.82 357.5,480.7 C357.62,479.58 357.6,478.46 357.65,477.33 C357.69,476.21 357.72,475.09 357.75,473.97 C357.79,472.84 357.82,471.72 357.86,470.6 C357.9,469.48 357.94,468.36 357.97,467.23 C357.99,466.11 357.99,464.99 358,463.87 C358.01,462.74 358,461.06 358,460.5 Z" fill="#5cc79a" fill-opacity="0.8"/>
<path d="M357.1 481.9h0M358.2 500.8h0M360.4 510.6h0M355.9 528.9h0M359.1 528.4h0M357.9 476.6h0M357.9 507.2h0M355.7 513.3h0M359.6 470.1h0M357.7 507.6h0M356.9 530.5h0M355.8 523.3h0M356.6 508.7h0M356.5 490.3h0M355.1 513.2h0M355.7 504.8h0M359.6 492.4h0M359.0 467.9h0M357.2 493.6h0M358.9 537.5h0M361.2 489.4h0M359.7 477.0h0M355.1 497.7h0M361.6 505.1h0M356.1 490.5h0M358.5 535.3h0M359.8 476.4h0M356.2 510.6h0M357.9 524.0h0M358.3 475.3h0M355.9 502.3h0M359.0 533.0h0M361.0 521.7h0M357.2 504.9h0M358.1 494.4h0M358.2 513.7h0M360.5 500.1h0M356.3 523.5h0M355.9 498.7h0M358.2 495.3h0M359.6 501.7h0M355.4 523.3h0M361.8 501.2h0M362.1 526.4h0M360.7 534.5h0" stroke="#3fc08c" stroke-width="2.3" stroke-linecap="round" stroke-opacity="0.85"/>
<path d="M359.2,460.5 C359.35,463.82 359.37,474.65 360.1,480.4 C360.83,486.15 362.27,489.02 363.6,495 C364.93,500.98 367.93,510.47 368.1,516.3 C368.27,522.13 366.05,525.83 364.6,530 C363.15,534.17 360.27,539.42 359.4,541.3 L357.8,541.3 C356.93,539.42 354.05,534.17 352.6,530 C351.15,525.83 348.93,522.13 349.1,516.3 C349.27,510.47 352.27,500.98 353.6,495 C354.93,489.02 356.37,486.15 357.1,480.4 C357.83,474.65 357.85,463.82 358,460.5 Z" fill="none" stroke="#262626" stroke-width="1.15"/>
<line x1="358.6" y1="460.5" x2="358.6" y2="541.3" stroke="#333" stroke-width="0.8" />
<rect x="353.85" y="509.7" width="9.5" height="16.1" fill="none" stroke="#333" stroke-width="0.8"/>
<line x1="353.85" y1="516.7" x2="363.35" y2="516.7" stroke="#333" stroke-width="1.4" />
<path d="M316.1,459.1 V457.3 H337.3 V459.1" fill="none" stroke="#555" stroke-width="0.75"/>
<text transform="translate(326.7,456.3) scale(1,1.1)" font-size="7.1" fill="#4d4d4d" text-anchor="middle" >1</text>
<path d="M316.1,449.7 V447.9 H358.6 V449.7" fill="none" stroke="#555" stroke-width="0.75"/>
<text transform="translate(337.35,446.9) scale(1,1.1)" font-size="7.1" fill="#4d4d4d" text-anchor="middle" >0.087</text>
<path d="M337.3,440.2 V438.4 H358.6 V440.2" fill="none" stroke="#555" stroke-width="0.75"/>
<text transform="translate(347.95,437.8) scale(1,1.1)" font-size="7.1" fill="#4d4d4d" text-anchor="middle" >0.035</text>
<text transform="translate(306.7,434.7) scale(1,1.12)" font-size="7.75" fill="#111" font-weight="bold" >EGFR</text>
<text x="316.1" y="557.7" font-size="7" fill="#4a4a4a" text-anchor="middle" >ARG1</text>
<text x="337.3" y="557.7" font-size="7" fill="#4a4a4a" text-anchor="middle" >ARG2</text>
<text x="358.6" y="557.7" font-size="7" fill="#4a4a4a" text-anchor="middle" >ARG3</text>
<rect x="412.5" y="425.2" width="67.2" height="123.4" fill="#ebebeb" />
<line x1="412.5" y1="434.7" x2="479.7" y2="434.7" stroke="#fff" stroke-width="0.9" />
<line x1="412.5" y1="442.9" x2="479.7" y2="442.9" stroke="#f7f7f7" stroke-width="0.5" />
<line x1="412.5" y1="451.1" x2="479.7" y2="451.1" stroke="#fff" stroke-width="0.9" />
<line x1="412.5" y1="459.3" x2="479.7" y2="459.3" stroke="#f7f7f7" stroke-width="0.5" />
<line x1="412.5" y1="467.5" x2="479.7" y2="467.5" stroke="#fff" stroke-width="0.9" />
<line x1="412.5" y1="475.7" x2="479.7" y2="475.7" stroke="#f7f7f7" stroke-width="0.5" />
<line x1="412.5" y1="483.9" x2="479.7" y2="483.9" stroke="#fff" stroke-width="0.9" />
<line x1="412.5" y1="492.1" x2="479.7" y2="492.1" stroke="#f7f7f7" stroke-width="0.5" />
<line x1="412.5" y1="500.3" x2="479.7" y2="500.3" stroke="#fff" stroke-width="0.9" />
<line x1="412.5" y1="508.5" x2="479.7" y2="508.5" stroke="#f7f7f7" stroke-width="0.5" />
<line x1="412.5" y1="516.7" x2="479.7" y2="516.7" stroke="#fff" stroke-width="0.9" />
<line x1="412.5" y1="524.9" x2="479.7" y2="524.9" stroke="#f7f7f7" stroke-width="0.5" />
<line x1="412.5" y1="533.1" x2="479.7" y2="533.1" stroke="#fff" stroke-width="0.9" />
<line x1="412.5" y1="541.3" x2="479.7" y2="541.3" stroke="#f7f7f7" stroke-width="0.5" />
<line x1="424.1" y1="425.2" x2="424.1" y2="548.6" stroke="#fff" stroke-width="0.9" />
<line x1="424.1" y1="549" x2="424.1" y2="550.8" stroke="#444" stroke-width="0.8" />
<line x1="445.6" y1="425.2" x2="445.6" y2="548.6" stroke="#fff" stroke-width="0.9" />
<line x1="445.6" y1="549" x2="445.6" y2="550.8" stroke="#444" stroke-width="0.8" />
<line x1="467" y1="425.2" x2="467" y2="548.6" stroke="#fff" stroke-width="0.9" />
<line x1="467" y1="549" x2="467" y2="550.8" stroke="#444" stroke-width="0.8" />
<path d="M423.0 497.4h0M427.0 493.6h0M427.1 480.1h0" stroke="#7b90d8" stroke-width="2.3" stroke-linecap="round" stroke-opacity="0.85"/>
<path d="M428.6,477 C428.6,477.5 428.98,478.65 428.6,480 C428.22,481.35 426.3,483.43 426.3,485.1 C426.3,486.77 427.47,488.18 428.6,490 C429.73,491.82 432.43,494.52 433.1,496 C433.77,497.48 432.68,498.42 432.6,498.9 L415.6,498.9 C415.52,498.42 414.43,497.48 415.1,496 C415.77,494.52 418.47,491.82 419.6,490 C420.73,488.18 421.9,486.77 421.9,485.1 C421.9,483.43 419.98,481.35 419.6,480 C419.22,478.65 419.6,477.5 419.6,477 Z" fill="none" stroke="#262626" stroke-width="1.15"/>
<line x1="424.1" y1="477" x2="424.1" y2="498.9" stroke="#333" stroke-width="0.8" />
<rect x="419.65" y="486.4" width="8.9" height="10.1" fill="none" stroke="#333" stroke-width="0.8"/>
<line x1="419.65" y1="495.1" x2="428.55" y2="495.1" stroke="#333" stroke-width="1.4" />
<path d="M445.6 498.1h0M443.3 502.3h0M446.6 494.5h0M448.4 511.2h0M447.7 514.0h0M447.5 512.0h0M447.4 506.9h0M449.1 499.8h0" stroke="#e056bd" stroke-width="2.3" stroke-linecap="round" stroke-opacity="0.85"/>
<path d="M447.1,490.2 C447.48,490.37 448.75,490.57 449.4,491.2 C450.05,491.83 450.73,488.53 451,494 C451.27,499.47 451.27,518.5 451,524 C450.73,529.5 450.05,526.33 449.4,527 C448.75,527.67 447.48,527.83 447.1,528 L444.1,528 C443.72,527.83 442.45,527.67 441.8,527 C441.15,526.33 440.47,529.5 440.2,524 C439.93,518.5 439.93,499.47 440.2,494 C440.47,488.53 441.15,491.83 441.8,491.2 C442.45,490.57 443.72,490.37 444.1,490.2 Z" fill="none" stroke="#262626" stroke-width="1.15"/>
<line x1="445.6" y1="490.2" x2="445.6" y2="528" stroke="#333" stroke-width="0.8" />
<rect x="440.85" y="501.2" width="9.5" height="15.1" fill="none" stroke="#333" stroke-width="0.8"/>
<line x1="440.85" y1="510.1" x2="450.35" y2="510.1" stroke="#333" stroke-width="1.4" />
<path d="M467.6,457.3 C467.6,457.87 467.6,459.57 467.6,460.7 C467.6,461.84 467.6,462.97 467.6,464.11 C467.6,465.24 467.6,466.38 467.62,467.51 C467.63,468.65 467.66,469.78 467.68,470.92 C467.71,472.05 467.73,473.19 467.75,474.32 C467.77,475.46 467.79,476.59 467.82,477.73 C467.84,478.86 467.86,479.99 467.88,481.13 C467.9,482.26 467.93,483.4 467.95,484.53 C467.97,485.67 467.97,486.8 468.01,487.94 C468.06,489.07 468.13,490.21 468.23,491.34 C468.33,492.48 468.49,493.61 468.62,494.75 C468.75,495.88 468.88,497.02 469.01,498.15 C469.14,499.28 469.27,500.42 469.4,501.55 C469.53,502.69 469.7,503.82 469.8,504.96 C469.89,506.09 469.97,507.23 470,508.36 C470.03,509.5 470,510.63 470,511.77 C470,512.9 470,514.04 470,515.17 C470,516.31 470,517.44 470,518.58 C470,519.71 470,520.84 470,521.98 C470,523.11 470,524.25 470,525.38 C470,526.52 470.04,527.65 470,528.79 C469.96,529.92 469.97,531.06 469.73,532.19 C469.5,533.33 468.93,534.46 468.58,535.6 C468.22,536.73 467.76,538.43 467.6,539 L466.4,539 C466.24,538.43 465.78,536.73 465.42,535.6 C465.07,534.46 464.5,533.33 464.27,532.19 C464.03,531.06 464.04,529.92 464,528.79 C463.96,527.65 464,526.52 464,525.38 C464,524.25 464,523.11 464,521.98 C464,520.84 464,519.71 464,518.58 C464,517.44 464,516.31 464,515.17 C464,514.04 464,512.9 464,511.77 C464,510.63 463.97,509.5 464,508.36 C464.03,507.23 464.11,506.09 464.2,504.96 C464.3,503.82 464.47,502.69 464.6,501.55 C464.73,500.42 464.86,499.28 464.99,498.15 C465.12,497.02 465.25,495.88 465.38,494.75 C465.51,493.61 465.67,492.48 465.77,491.34 C465.87,490.21 465.94,489.07 465.99,487.94 C466.03,486.8 466.03,485.67 466.05,484.53 C466.07,483.4 466.1,482.26 466.12,481.13 C466.14,479.99 466.16,478.86 466.18,477.73 C466.21,476.59 466.23,475.46 466.25,474.32 C466.27,473.19 466.29,472.05 466.32,470.92 C466.34,469.78 466.37,468.65 466.38,467.51 C466.4,466.38 466.4,465.24 466.4,464.11 C466.4,462.97 466.4,461.84 466.4,460.7 C466.4,459.57 466.4,457.87 466.4,457.3 Z" fill="#5cc79a" fill-opacity="0.8"/>
<path d="M465.8 482.8h0M465.0 530.5h0M463.4 510.7h0M466.6 486.3h0M467.9 505.4h0M469.2 496.1h0M466.1 477.2h0M465.3 521.2h0M468.0 503.2h0M469.9 517.2h0M465.6 490.5h0M467.4 520.9h0M465.2 534.2h0M468.0 507.0h0M465.6 523.8h0M468.0 481.8h0M463.4 521.3h0M466.7 526.3h0M465.0 517.9h0M466.2 465.9h0M467.4 515.4h0M467.9 500.0h0M468.5 536.2h0M468.1 484.1h0M464.9 503.9h0M470.0 508.2h0M466.3 469.1h0M464.6 533.2h0M467.3 459.6h0M467.7 517.5h0M466.3 466.1h0M469.3 523.6h0M464.1 508.9h0M466.1 491.9h0M463.6 526.9h0M468.5 520.5h0M469.5 501.2h0M466.4 471.2h0M467.5 480.5h0M467.8 498.0h0M466.3 508.6h0M466.7 459.4h0M466.1 530.9h0M466.7 529.5h0M465.9 518.8h0" stroke="#3fc08c" stroke-width="2.3" stroke-linecap="round" stroke-opacity="0.85"/>
<path d="M467.6,457.3 C467.75,462.72 467.93,481.85 468.5,489.8 C469.07,497.75 470.08,499.48 471,505 C471.92,510.52 474,518.4 474,522.9 C474,527.4 472.07,529.32 471,532 C469.93,534.68 468.17,537.83 467.6,539 L466.4,539 C465.83,537.83 464.07,534.68 463,532 C461.93,529.32 460,527.4 460,522.9 C460,518.4 462.08,510.52 463,505 C463.92,499.48 464.93,497.75 465.5,489.8 C466.07,481.85 466.25,462.72 466.4,457.3 Z" fill="none" stroke="#262626" stroke-width="1.15"/>
<line x1="467" y1="457.3" x2="467" y2="539" stroke="#333" stroke-width="0.8" />
<rect x="461.3" y="508.8" width="11.4" height="17" fill="none" stroke="#333" stroke-width="0.8"/>
<line x1="461.3" y1="519.2" x2="472.7" y2="519.2" stroke="#333" stroke-width="1.4" />
<path d="M424.1,455.3 V453.5 H445.6 V455.3" fill="none" stroke="#555" stroke-width="0.75"/>
<text transform="translate(434.85,452.6) scale(1,1.1)" font-size="7.1" fill="#4d4d4d" text-anchor="middle" >0.039</text>
<path d="M424.1,445.3 V443.5 H467 V445.3" fill="none" stroke="#555" stroke-width="0.75"/>
<text transform="translate(445.55,443.1) scale(1,1.1)" font-size="7.1" fill="#4d4d4d" text-anchor="middle" >0.01</text>
<path d="M445.6,435.9 V434.1 H467 V435.9" fill="none" stroke="#555" stroke-width="0.75"/>
<text transform="translate(456.3,433.5) scale(1,1.1)" font-size="7.1" fill="#4d4d4d" text-anchor="middle" >0.041</text>
<text transform="translate(415,434.7) scale(1,1.12)" font-size="7.75" fill="#111" font-weight="bold" >IGFR</text>
<text x="424.1" y="557.7" font-size="7" fill="#4a4a4a" text-anchor="middle" >ARG1</text>
<text x="445.6" y="557.7" font-size="7" fill="#4a4a4a" text-anchor="middle" >ARG2</text>
<text x="467" y="557.7" font-size="7" fill="#4a4a4a" text-anchor="middle" >ARG3</text>
<rect x="520.6" y="425.2" width="68.2" height="123.4" fill="#ebebeb" />
<line x1="520.6" y1="434.7" x2="588.8" y2="434.7" stroke="#fff" stroke-width="0.9" />
<line x1="520.6" y1="442.9" x2="588.8" y2="442.9" stroke="#f7f7f7" stroke-width="0.5" />
<line x1="520.6" y1="451.1" x2="588.8" y2="451.1" stroke="#fff" stroke-width="0.9" />
<line x1="520.6" y1="459.3" x2="588.8" y2="459.3" stroke="#f7f7f7" stroke-width="0.5" />
<line x1="520.6" y1="467.5" x2="588.8" y2="467.5" stroke="#fff" stroke-width="0.9" />
<line x1="520.6" y1="475.7" x2="588.8" y2="475.7" stroke="#f7f7f7" stroke-width="0.5" />
<line x1="520.6" y1="483.9" x2="588.8" y2="483.9" stroke="#fff" stroke-width="0.9" />
<line x1="520.6" y1="492.1" x2="588.8" y2="492.1" stroke="#f7f7f7" stroke-width="0.5" />
<line x1="520.6" y1="500.3" x2="588.8" y2="500.3" stroke="#fff" stroke-width="0.9" />
<line x1="520.6" y1="508.5" x2="588.8" y2="508.5" stroke="#f7f7f7" stroke-width="0.5" />
<line x1="520.6" y1="516.7" x2="588.8" y2="516.7" stroke="#fff" stroke-width="0.9" />
<line x1="520.6" y1="524.9" x2="588.8" y2="524.9" stroke="#f7f7f7" stroke-width="0.5" />
<line x1="520.6" y1="533.1" x2="588.8" y2="533.1" stroke="#fff" stroke-width="0.9" />
<line x1="520.6" y1="541.3" x2="588.8" y2="541.3" stroke="#f7f7f7" stroke-width="0.5" />
<line x1="533.4" y1="425.2" x2="533.4" y2="548.6" stroke="#fff" stroke-width="0.9" />
<line x1="533.4" y1="549" x2="533.4" y2="550.8" stroke="#444" stroke-width="0.8" />
<line x1="554.8" y1="425.2" x2="554.8" y2="548.6" stroke="#fff" stroke-width="0.9" />
<line x1="554.8" y1="549" x2="554.8" y2="550.8" stroke="#444" stroke-width="0.8" />
<line x1="576" y1="425.2" x2="576" y2="548.6" stroke="#fff" stroke-width="0.9" />
<line x1="576" y1="549" x2="576" y2="550.8" stroke="#444" stroke-width="0.8" />
<path d="M534.4 478.8h0M532.5 514.3h0" stroke="#7b90d8" stroke-width="2.3" stroke-linecap="round" stroke-opacity="0.85"/>
<line x1="533.4" y1="458.1" x2="533.4" y2="521.6" stroke="#2f2f2f" stroke-width="2.55" stroke-linecap="round"/>
<rect x="528.3" y="484.6" width="10.2" height="31.7" fill="none" stroke="#333" stroke-width="0.8"/>
<line x1="528.3" y1="511" x2="538.5" y2="511" stroke="#333" stroke-width="1.4" />
<path d="M557.3 523.7h0M553.0 520.3h0M552.4 524.3h0M558.2 524.3h0M558.1 533.7h0M558.3 519.1h0M555.8 526.8h0M554.0 519.2h0" stroke="#e056bd" stroke-width="2.3" stroke-linecap="round" stroke-opacity="0.85"/>
<path d="M556.3,516.7 C556.68,516.87 557.95,517.07 558.6,517.7 C559.25,518.33 559.93,517.45 560.2,520.5 C560.47,523.55 560.47,532.92 560.2,536 C559.93,539.08 559.25,538.33 558.6,539 C557.95,539.67 556.68,539.83 556.3,540 L553.3,540 C552.92,539.83 551.65,539.67 551,539 C550.35,538.33 549.67,539.08 549.4,536 C549.13,532.92 549.13,523.55 549.4,520.5 C549.67,517.45 550.35,518.33 551,517.7 C551.65,517.07 552.92,516.87 553.3,516.7 Z" fill="none" stroke="#262626" stroke-width="1.15"/>
<line x1="554.8" y1="516.7" x2="554.8" y2="540" stroke="#333" stroke-width="0.8" />
<rect x="549.9" y="521" width="9.8" height="12.7" fill="none" stroke="#333" stroke-width="0.8"/>
<line x1="549.9" y1="527.3" x2="559.7" y2="527.3" stroke="#333" stroke-width="1.4" />
<path d="M576.6,494 C576.6,494.34 576.6,495.37 576.6,496.05 C576.6,496.73 576.6,497.42 576.6,498.1 C576.6,498.78 576.6,499.47 576.6,500.15 C576.6,500.83 576.6,501.52 576.6,502.2 C576.61,502.88 576.64,503.57 576.65,504.25 C576.67,504.93 576.68,505.62 576.7,506.3 C576.71,506.98 576.73,507.67 576.74,508.35 C576.76,509.03 576.77,509.72 576.79,510.4 C576.8,511.08 576.82,511.77 576.84,512.45 C576.85,513.13 576.87,513.82 576.88,514.5 C576.9,515.18 576.91,515.87 576.93,516.55 C576.94,517.23 576.96,517.92 576.97,518.6 C576.99,519.28 576.97,519.97 577.02,520.65 C577.07,521.33 577.12,522.02 577.26,522.7 C577.41,523.38 577.68,524.07 577.89,524.75 C578.1,525.43 578.34,526.12 578.52,526.8 C578.7,527.48 578.92,528.17 579,528.85 C579.08,529.53 579,530.22 579,530.9 C579,531.58 579,532.27 579,532.95 C579,533.63 579,534.32 579,535 C579,535.68 579,536.37 579,537.05 C579,537.73 579,538.42 579,539.1 C579,539.78 579.15,540.47 579,541.15 C578.85,541.83 578.25,542.86 578.1,543.2 L573.9,543.2 C573.75,542.86 573.15,541.83 573,541.15 C572.85,540.47 573,539.78 573,539.1 C573,538.42 573,537.73 573,537.05 C573,536.37 573,535.68 573,535 C573,534.32 573,533.63 573,532.95 C573,532.27 573,531.58 573,530.9 C573,530.22 572.92,529.53 573,528.85 C573.08,528.17 573.3,527.48 573.48,526.8 C573.66,526.12 573.9,525.43 574.11,524.75 C574.32,524.07 574.59,523.38 574.74,522.7 C574.88,522.02 574.93,521.33 574.98,520.65 C575.03,519.97 575.01,519.28 575.03,518.6 C575.04,517.92 575.06,517.23 575.07,516.55 C575.09,515.87 575.1,515.18 575.12,514.5 C575.13,513.82 575.15,513.13 575.16,512.45 C575.18,511.77 575.2,511.08 575.21,510.4 C575.23,509.72 575.24,509.03 575.26,508.35 C575.27,507.67 575.29,506.98 575.3,506.3 C575.32,505.62 575.33,504.93 575.35,504.25 C575.36,503.57 575.39,502.88 575.4,502.2 C575.4,501.52 575.4,500.83 575.4,500.15 C575.4,499.47 575.4,498.78 575.4,498.1 C575.4,497.42 575.4,496.73 575.4,496.05 C575.4,495.37 575.4,494.34 575.4,494 Z" fill="#5cc79a" fill-opacity="0.8"/>
<path d="M576.0 532.9h0M576.5 538.7h0M574.0 530.9h0M578.5 532.1h0M575.6 524.9h0M576.9 532.5h0M577.1 539.8h0M575.9 532.3h0M576.3 542.0h0M573.1 540.3h0M577.0 529.3h0M575.4 534.8h0M577.3 540.6h0M575.5 511.5h0M575.8 513.7h0M575.4 511.3h0M576.9 519.9h0M575.1 513.3h0M577.0 532.2h0M575.8 534.3h0M576.4 503.1h0M575.6 507.8h0M578.4 536.0h0M573.4 538.6h0M572.5 534.9h0M573.3 526.3h0M576.5 501.0h0M576.9 511.0h0M578.8 533.0h0M573.8 532.8h0M577.7 528.1h0M575.2 521.3h0M578.5 536.5h0M577.0 541.3h0M576.6 525.3h0M577.6 538.2h0M578.0 524.8h0M578.4 534.7h0M578.1 542.0h0M572.8 537.6h0M575.3 508.8h0M577.1 539.3h0M575.3 499.0h0M578.2 526.3h0M574.3 532.7h0" stroke="#3fc08c" stroke-width="2.3" stroke-linecap="round" stroke-opacity="0.85"/>
<path d="M576.6,494 C576.75,498.67 576.77,516 577.5,522 C578.23,528 579.75,527.63 581,530 C582.25,532.37 584.5,534.53 585,536.2 C585.5,537.87 585,538.83 584,540 C583,541.17 579.83,542.67 579,543.2 L573,543.2 C572.17,542.67 569,541.17 568,540 C567,538.83 566.5,537.87 567,536.2 C567.5,534.53 569.75,532.37 571,530 C572.25,527.63 573.77,528 574.5,522 C575.23,516 575.25,498.67 575.4,494 Z" fill="none" stroke="#262626" stroke-width="1.15"/>
<line x1="576" y1="494" x2="576" y2="543.2" stroke="#333" stroke-width="0.8" />
<rect x="571.25" y="530.5" width="9.5" height="8.5" fill="none" stroke="#333" stroke-width="0.8"/>
<line x1="571.25" y1="535.6" x2="580.75" y2="535.6" stroke="#333" stroke-width="1.4" />
<path d="M533.4,456.1 V454.3 H554.8 V456.1" fill="none" stroke="#555" stroke-width="0.75"/>
<text transform="translate(544.1,453.9) scale(1,1.1)" font-size="7.1" fill="#4d4d4d" text-anchor="middle" >0.014</text>
<path d="M533.4,446.3 V444.5 H576 V446.3" fill="none" stroke="#555" stroke-width="0.75"/>
<text transform="translate(554.7,443.9) scale(1,1.1)" font-size="7.1" fill="#4d4d4d" text-anchor="middle" >0.0045</text>
<path d="M554.8,436.4 V434.6 H576 V436.4" fill="none" stroke="#555" stroke-width="0.75"/>
<text transform="translate(565.4,433.7) scale(1,1.1)" font-size="7.1" fill="#4d4d4d" text-anchor="middle" >0.015</text>
<text transform="translate(522.9,434.7) scale(1,1.12)" font-size="7.75" fill="#111" font-weight="bold" >VEGFR1</text>
<text x="533.4" y="557.7" font-size="7" fill="#4a4a4a" text-anchor="middle" >ARG1</text>
<text x="554.8" y="557.7" font-size="7" fill="#4a4a4a" text-anchor="middle" >ARG2</text>
<text x="576" y="557.7" font-size="7" fill="#4a4a4a" text-anchor="middle" >ARG3</text>
<rect x="599.1" y="425.2" width="68.9" height="123.4" fill="#ebebeb" />
<line x1="599.1" y1="434.7" x2="668" y2="434.7" stroke="#fff" stroke-width="0.9" />
<line x1="599.1" y1="442.9" x2="668" y2="442.9" stroke="#f7f7f7" stroke-width="0.5" />
<line x1="599.1" y1="451.1" x2="668" y2="451.1" stroke="#fff" stroke-width="0.9" />
<line x1="599.1" y1="459.3" x2="668" y2="459.3" stroke="#f7f7f7" stroke-width="0.5" />
<line x1="599.1" y1="467.5" x2="668" y2="467.5" stroke="#fff" stroke-width="0.9" />
<line x1="599.1" y1="475.7" x2="668" y2="475.7" stroke="#f7f7f7" stroke-width="0.5" />
<line x1="599.1" y1="483.9" x2="668" y2="483.9" stroke="#fff" stroke-width="0.9" />
<line x1="599.1" y1="492.1" x2="668" y2="492.1" stroke="#f7f7f7" stroke-width="0.5" />
<line x1="599.1" y1="500.3" x2="668" y2="500.3" stroke="#fff" stroke-width="0.9" />
<line x1="599.1" y1="508.5" x2="668" y2="508.5" stroke="#f7f7f7" stroke-width="0.5" />
<line x1="599.1" y1="516.7" x2="668" y2="516.7" stroke="#fff" stroke-width="0.9" />
<line x1="599.1" y1="524.9" x2="668" y2="524.9" stroke="#f7f7f7" stroke-width="0.5" />
<line x1="599.1" y1="533.1" x2="668" y2="533.1" stroke="#fff" stroke-width="0.9" />
<line x1="599.1" y1="541.3" x2="668" y2="541.3" stroke="#f7f7f7" stroke-width="0.5" />
<line x1="611.5" y1="425.2" x2="611.5" y2="548.6" stroke="#fff" stroke-width="0.9" />
<line x1="611.5" y1="549" x2="611.5" y2="550.8" stroke="#444" stroke-width="0.8" />
<line x1="633.2" y1="425.2" x2="633.2" y2="548.6" stroke="#fff" stroke-width="0.9" />
<line x1="633.2" y1="549" x2="633.2" y2="550.8" stroke="#444" stroke-width="0.8" />
<line x1="654.8" y1="425.2" x2="654.8" y2="548.6" stroke="#fff" stroke-width="0.9" />
<line x1="654.8" y1="549" x2="654.8" y2="550.8" stroke="#444" stroke-width="0.8" />
<path d="M613.4 480.7h0M611.2 494.4h0M610.9 512.3h0" stroke="#7b90d8" stroke-width="2.3" stroke-linecap="round" stroke-opacity="0.85"/>
<path d="M614.5,479.4 C614.5,479.67 614.8,478.63 614.5,481 C614.2,483.37 612.37,489.28 612.7,493.6 C613.03,497.92 615.87,503.68 616.5,506.9 C617.13,510.12 616.5,511.9 616.5,512.9 L606.5,512.9 C606.5,511.9 605.87,510.12 606.5,506.9 C607.13,503.68 609.97,497.92 610.3,493.6 C610.63,489.28 608.8,483.37 608.5,481 C608.2,478.63 608.5,479.67 608.5,479.4 Z" fill="none" stroke="#262626" stroke-width="1.15"/>
<line x1="611.5" y1="479.4" x2="611.5" y2="512.9" stroke="#333" stroke-width="0.8" />
<rect x="606.5" y="493.3" width="10" height="18.9" fill="none" stroke="#333" stroke-width="0.8"/>
<line x1="606.5" y1="507.8" x2="616.5" y2="507.8" stroke="#333" stroke-width="1.4" />
<path d="M629.7 513.4h0M634.8 510.7h0M635.2 512.6h0M634.0 530.2h0M635.8 529.6h0M630.3 529.8h0M634.9 509.1h0M632.2 522.3h0" stroke="#e056bd" stroke-width="2.3" stroke-linecap="round" stroke-opacity="0.85"/>
<path d="M636.2,506.5 C636.45,507.08 637.33,508.05 637.7,510 C638.07,511.95 638.65,515.25 638.4,518.2 C638.15,521.15 636.57,524.23 636.2,527.7 C635.83,531.17 636.2,537.12 636.2,539 L630.2,539 C630.2,537.12 630.57,531.17 630.2,527.7 C629.83,524.23 628.25,521.15 628,518.2 C627.75,515.25 628.33,511.95 628.7,510 C629.07,508.05 629.95,507.08 630.2,506.5 Z" fill="none" stroke="#262626" stroke-width="1.15"/>
<line x1="633.2" y1="506.5" x2="633.2" y2="539" stroke="#333" stroke-width="0.8" />
<rect x="628.45" y="512.5" width="9.5" height="18.5" fill="none" stroke="#333" stroke-width="0.8"/>
<line x1="628.45" y1="521" x2="637.95" y2="521" stroke="#333" stroke-width="1.4" />
<path d="M655.4,458.6 C655.4,459.17 655.4,460.89 655.4,462.03 C655.4,463.17 655.4,464.32 655.4,465.46 C655.4,466.6 655.4,467.74 655.4,468.89 C655.4,470.03 655.4,471.17 655.41,472.32 C655.42,473.46 655.45,474.6 655.46,475.75 C655.48,476.89 655.5,478.03 655.51,479.18 C655.53,480.32 655.54,481.46 655.56,482.6 C655.58,483.75 655.59,484.89 655.61,486.03 C655.62,487.18 655.64,488.32 655.66,489.46 C655.67,490.61 655.69,491.75 655.71,492.89 C655.72,494.03 655.74,495.18 655.75,496.32 C655.77,497.46 655.78,498.61 655.8,499.75 C655.82,500.89 655.77,502.04 655.86,503.18 C655.95,504.32 656.19,505.47 656.36,506.61 C656.52,507.75 656.69,508.89 656.86,510.04 C657.02,511.18 657.2,512.32 657.35,513.47 C657.51,514.61 657.73,515.75 657.8,516.9 C657.87,518.04 657.8,519.18 657.8,520.33 C657.8,521.47 657.8,522.61 657.8,523.75 C657.8,524.9 657.8,526.04 657.8,527.18 C657.8,528.33 657.8,529.47 657.8,530.61 C657.8,531.76 657.8,532.9 657.8,534.04 C657.8,535.18 657.83,536.33 657.8,537.47 C657.77,538.61 657.63,540.33 657.6,540.9 L652,540.9 C651.97,540.33 651.83,538.61 651.8,537.47 C651.77,536.33 651.8,535.18 651.8,534.04 C651.8,532.9 651.8,531.76 651.8,530.61 C651.8,529.47 651.8,528.33 651.8,527.18 C651.8,526.04 651.8,524.9 651.8,523.75 C651.8,522.61 651.8,521.47 651.8,520.33 C651.8,519.18 651.73,518.04 651.8,516.9 C651.87,515.75 652.09,514.61 652.25,513.47 C652.4,512.32 652.58,511.18 652.74,510.04 C652.91,508.89 653.08,507.75 653.24,506.61 C653.41,505.47 653.65,504.32 653.74,503.18 C653.83,502.04 653.78,500.89 653.8,499.75 C653.82,498.61 653.83,497.46 653.85,496.32 C653.86,495.18 653.88,494.03 653.89,492.89 C653.91,491.75 653.93,490.61 653.94,489.46 C653.96,488.32 653.98,487.18 653.99,486.03 C654.01,484.89 654.02,483.75 654.04,482.6 C654.06,481.46 654.07,480.32 654.09,479.18 C654.1,478.03 654.12,476.89 654.14,475.75 C654.15,474.6 654.18,473.46 654.19,472.32 C654.2,471.17 654.2,470.03 654.2,468.89 C654.2,467.74 654.2,466.6 654.2,465.46 C654.2,464.32 654.2,463.17 654.2,462.03 C654.2,460.89 654.2,459.17 654.2,458.6 Z" fill="#5cc79a" fill-opacity="0.8"/>
<path d="M656.9 514.3h0M654.1 510.4h0M653.3 523.2h0M655.5 539.0h0M656.1 531.7h0M651.2 525.1h0M657.2 531.6h0M656.2 505.7h0M657.8 525.0h0M654.9 487.1h0M656.6 524.2h0M655.6 535.3h0M652.7 514.4h0M651.8 523.8h0M652.9 525.0h0M654.6 531.4h0M653.4 507.1h0M655.6 470.9h0M655.1 489.4h0M655.5 523.4h0M655.4 460.3h0M655.3 529.9h0M651.5 537.9h0M654.0 475.1h0M658.0 530.3h0M655.5 533.5h0M656.0 491.3h0M654.4 513.7h0M651.5 540.2h0M657.2 532.9h0M652.2 539.7h0M655.5 514.3h0M653.5 521.0h0M654.8 479.8h0M654.2 472.5h0M656.4 514.4h0M655.6 474.7h0M652.2 529.9h0M656.0 495.4h0M654.5 527.9h0M654.1 470.3h0M652.2 517.3h0M654.2 530.3h0M652.4 527.7h0M658.2 532.9h0" stroke="#3fc08c" stroke-width="2.3" stroke-linecap="round" stroke-opacity="0.85"/>
<path d="M655.4,458.6 C655.55,466.02 655.57,492.87 656.3,503.1 C657.03,513.33 658.47,514.8 659.8,520 C661.13,525.2 663.8,531.13 664.3,534.3 C664.8,537.47 663.72,537.9 662.8,539 C661.88,540.1 659.47,540.58 658.8,540.9 L650.8,540.9 C650.13,540.58 647.72,540.1 646.8,539 C645.88,537.9 644.8,537.47 645.3,534.3 C645.8,531.13 648.47,525.2 649.8,520 C651.13,514.8 652.57,513.33 653.3,503.1 C654.03,492.87 654.05,466.02 654.2,458.6 Z" fill="none" stroke="#262626" stroke-width="1.15"/>
<line x1="654.8" y1="458.6" x2="654.8" y2="540.9" stroke="#333" stroke-width="0.8" />
<rect x="650.25" y="530" width="9.1" height="6.2" fill="none" stroke="#333" stroke-width="0.8"/>
<line x1="650.25" y1="531.4" x2="659.35" y2="531.4" stroke="#333" stroke-width="1.4" />
<path d="M611.5,457.6 V455.8 H633.2 V457.6" fill="none" stroke="#555" stroke-width="0.75"/>
<text transform="translate(622.35,454.5) scale(1,1.1)" font-size="7.1" fill="#4d4d4d" text-anchor="middle" >0.014</text>
<path d="M611.5,447.8 V446 H654.8 V447.8" fill="none" stroke="#555" stroke-width="0.75"/>
<text transform="translate(633.15,444.4) scale(1,1.1)" font-size="7.1" fill="#4d4d4d" text-anchor="middle" >0.0074</text>
<path d="M633.2,437.8 V436 H654.8 V437.8" fill="none" stroke="#555" stroke-width="0.75"/>
<text transform="translate(644,435) scale(1,1.1)" font-size="7.1" fill="#4d4d4d" text-anchor="middle" >0.11</text>
<text transform="translate(601,434.7) scale(1,1.12)" font-size="7.75" fill="#111" font-weight="bold" >VEGFR2</text>
<text x="611.5" y="557.7" font-size="7" fill="#4a4a4a" text-anchor="middle" >ARG1</text>
<text x="633.2" y="557.7" font-size="7" fill="#4a4a4a" text-anchor="middle" >ARG2</text>
<text x="654.8" y="557.7" font-size="7" fill="#4a4a4a" text-anchor="middle" >ARG3</text>
<rect x="677.4" y="425.2" width="68.6" height="123.4" fill="#ebebeb" />
<line x1="677.4" y1="434.7" x2="746" y2="434.7" stroke="#fff" stroke-width="0.9" />
<line x1="677.4" y1="442.9" x2="746" y2="442.9" stroke="#f7f7f7" stroke-width="0.5" />
<line x1="677.4" y1="451.1" x2="746" y2="451.1" stroke="#fff" stroke-width="0.9" />
<line x1="677.4" y1="459.3" x2="746" y2="459.3" stroke="#f7f7f7" stroke-width="0.5" />
<line x1="677.4" y1="467.5" x2="746" y2="467.5" stroke="#fff" stroke-width="0.9" />
<line x1="677.4" y1="475.7" x2="746" y2="475.7" stroke="#f7f7f7" stroke-width="0.5" />
<line x1="677.4" y1="483.9" x2="746" y2="483.9" stroke="#fff" stroke-width="0.9" />
<line x1="677.4" y1="492.1" x2="746" y2="492.1" stroke="#f7f7f7" stroke-width="0.5" />
<line x1="677.4" y1="500.3" x2="746" y2="500.3" stroke="#fff" stroke-width="0.9" />
<line x1="677.4" y1="508.5" x2="746" y2="508.5" stroke="#f7f7f7" stroke-width="0.5" />
<line x1="677.4" y1="516.7" x2="746" y2="516.7" stroke="#fff" stroke-width="0.9" />
<line x1="677.4" y1="524.9" x2="746" y2="524.9" stroke="#f7f7f7" stroke-width="0.5" />
<line x1="677.4" y1="533.1" x2="746" y2="533.1" stroke="#fff" stroke-width="0.9" />
<line x1="677.4" y1="541.3" x2="746" y2="541.3" stroke="#f7f7f7" stroke-width="0.5" />
<line x1="689.9" y1="425.2" x2="689.9" y2="548.6" stroke="#fff" stroke-width="0.9" />
<line x1="689.9" y1="549" x2="689.9" y2="550.8" stroke="#444" stroke-width="0.8" />
<line x1="711.6" y1="425.2" x2="711.6" y2="548.6" stroke="#fff" stroke-width="0.9" />
<line x1="711.6" y1="549" x2="711.6" y2="550.8" stroke="#444" stroke-width="0.8" />
<line x1="733.3" y1="425.2" x2="733.3" y2="548.6" stroke="#fff" stroke-width="0.9" />
<line x1="733.3" y1="549" x2="733.3" y2="550.8" stroke="#444" stroke-width="0.8" />
<path d="M689.8 507.2h0M689.1 479.8h0" stroke="#7b90d8" stroke-width="2.3" stroke-linecap="round" stroke-opacity="0.85"/>
<line x1="689.9" y1="459.2" x2="689.9" y2="531.1" stroke="#2f2f2f" stroke-width="2.29" stroke-linecap="round"/>
<rect x="684.75" y="492.1" width="10.3" height="35.2" fill="none" stroke="#333" stroke-width="0.8"/>
<line x1="684.75" y1="525.4" x2="695.05" y2="525.4" stroke="#333" stroke-width="1.4" />
<path d="M713.9 517.1h0M708.0 522.7h0M714.5 519.1h0M713.2 518.0h0M708.6 531.4h0M709.5 526.3h0" stroke="#e056bd" stroke-width="2.3" stroke-linecap="round" stroke-opacity="0.85"/>
<path d="M714.1,514.8 C714.18,515.33 713.85,515.92 714.6,518 C715.35,520.08 718.6,524.63 718.6,527.3 C718.6,529.97 715.6,532.2 714.6,534 C713.6,535.8 712.93,537.42 712.6,538.1 L710.6,538.1 C710.27,537.42 709.6,535.8 708.6,534 C707.6,532.2 704.6,529.97 704.6,527.3 C704.6,524.63 707.85,520.08 708.6,518 C709.35,515.92 709.02,515.33 709.1,514.8 Z" fill="none" stroke="#262626" stroke-width="1.15"/>
<line x1="711.6" y1="514.8" x2="711.6" y2="538.1" stroke="#333" stroke-width="0.8" />
<rect x="707.6" y="523" width="8" height="8.1" fill="none" stroke="#333" stroke-width="0.8"/>
<line x1="707.6" y1="527.3" x2="715.6" y2="527.3" stroke="#333" stroke-width="1.4" />
<path d="M733.9,501.2 C733.9,501.48 733.9,502.33 733.9,502.89 C733.9,503.46 733.9,504.02 733.9,504.58 C733.9,505.15 733.89,505.71 733.9,506.27 C733.91,506.84 733.93,507.4 733.95,507.97 C733.97,508.53 733.99,509.09 734.01,509.66 C734.03,510.22 734.05,510.79 734.07,511.35 C734.09,511.91 734.11,512.48 734.12,513.04 C734.14,513.61 734.16,514.17 734.18,514.73 C734.2,515.3 734.22,515.86 734.24,516.42 C734.26,516.99 734.28,517.55 734.3,518.12 C734.32,518.68 734.34,519.24 734.36,519.81 C734.37,520.37 734.39,520.94 734.41,521.5 C734.43,522.06 734.45,522.63 734.47,523.19 C734.49,523.76 734.45,524.32 734.53,524.88 C734.6,525.45 734.73,526.01 734.93,526.57 C735.13,527.14 735.5,527.7 735.73,528.27 C735.96,528.83 736.2,529.39 736.3,529.96 C736.4,530.52 736.3,531.09 736.3,531.65 C736.3,532.21 736.3,532.78 736.3,533.34 C736.3,533.91 736.3,534.47 736.3,535.03 C736.3,535.6 736.3,536.16 736.3,536.72 C736.3,537.29 736.3,537.85 736.3,538.42 C736.3,538.98 736.45,539.54 736.3,540.11 C736.15,540.67 735.55,541.52 735.4,541.8 L731.2,541.8 C731.05,541.52 730.45,540.67 730.3,540.11 C730.15,539.54 730.3,538.98 730.3,538.42 C730.3,537.85 730.3,537.29 730.3,536.72 C730.3,536.16 730.3,535.6 730.3,535.03 C730.3,534.47 730.3,533.91 730.3,533.34 C730.3,532.78 730.3,532.21 730.3,531.65 C730.3,531.09 730.2,530.52 730.3,529.96 C730.4,529.39 730.64,528.83 730.87,528.27 C731.1,527.7 731.47,527.14 731.67,526.57 C731.87,526.01 732,525.45 732.07,524.88 C732.15,524.32 732.11,523.76 732.13,523.19 C732.15,522.63 732.17,522.06 732.19,521.5 C732.21,520.94 732.23,520.37 732.24,519.81 C732.26,519.24 732.28,518.68 732.3,518.12 C732.32,517.55 732.34,516.99 732.36,516.42 C732.38,515.86 732.4,515.3 732.42,514.73 C732.44,514.17 732.46,513.61 732.48,513.04 C732.49,512.48 732.51,511.91 732.53,511.35 C732.55,510.79 732.57,510.22 732.59,509.66 C732.61,509.09 732.63,508.53 732.65,507.97 C732.67,507.4 732.69,506.84 732.7,506.27 C732.71,505.71 732.7,505.15 732.7,504.58 C732.7,504.02 732.7,503.46 732.7,502.89 C732.7,502.33 732.7,501.48 732.7,501.2 Z" fill="#5cc79a" fill-opacity="0.8"/>
<path d="M731.2 534.2h0M729.8 536.3h0M736.0 538.2h0M734.0 512.0h0M733.0 516.1h0M733.4 525.4h0M732.0 534.4h0M735.1 530.1h0M733.4 539.9h0M732.5 510.3h0M733.6 502.4h0M733.5 509.1h0M736.0 529.7h0M730.6 530.3h0M733.1 512.6h0M733.8 536.2h0M735.6 531.5h0M732.7 539.3h0M732.5 535.3h0M732.1 539.4h0M735.6 533.9h0M733.4 535.6h0M733.5 526.9h0M732.1 521.7h0M735.5 539.2h0M729.9 537.1h0M734.3 527.2h0M731.5 538.7h0M731.9 539.8h0M733.9 527.5h0M731.6 540.0h0M732.6 507.2h0M732.3 512.9h0M734.6 527.6h0M732.6 513.8h0M732.8 525.0h0M733.7 536.2h0M734.8 521.2h0M734.0 507.6h0M733.0 519.1h0M734.0 505.6h0M732.1 531.2h0M735.0 534.5h0M732.7 540.3h0M732.5 530.6h0" stroke="#3fc08c" stroke-width="2.3" stroke-linecap="round" stroke-opacity="0.85"/>
<path d="M733.9,501.2 C734.1,505.3 734.2,520.67 735.1,525.8 C736,530.93 738.02,530.12 739.3,532 C740.58,533.88 742.63,535.77 742.8,537.1 C742.97,538.43 741.38,539.22 740.3,540 C739.22,540.78 736.97,541.5 736.3,541.8 L730.3,541.8 C729.63,541.5 727.38,540.78 726.3,540 C725.22,539.22 723.63,538.43 723.8,537.1 C723.97,535.77 726.02,533.88 727.3,532 C728.58,530.12 730.6,530.93 731.5,525.8 C732.4,520.67 732.5,505.3 732.7,501.2 Z" fill="none" stroke="#262626" stroke-width="1.15"/>
<line x1="733.3" y1="501.2" x2="733.3" y2="541.8" stroke="#333" stroke-width="0.8" />
<rect x="728.75" y="533.7" width="9.1" height="5.3" fill="none" stroke="#333" stroke-width="0.8"/>
<line x1="728.75" y1="536.2" x2="737.85" y2="536.2" stroke="#333" stroke-width="1.4" />
<path d="M689.9,458.6 V456.8 H711.6 V458.6" fill="none" stroke="#555" stroke-width="0.75"/>
<text transform="translate(700.75,455.8) scale(1,1.1)" font-size="7.1" fill="#4d4d4d" text-anchor="middle" >0.44</text>
<path d="M689.9,448.5 V446.7 H733.3 V448.5" fill="none" stroke="#555" stroke-width="0.75"/>
<text transform="translate(711.6,445.4) scale(1,1.1)" font-size="7.1" fill="#4d4d4d" text-anchor="middle" >0.012</text>
<path d="M711.6,438.3 V436.5 H733.3 V438.3" fill="none" stroke="#555" stroke-width="0.75"/>
<text transform="translate(722.45,435.5) scale(1,1.1)" font-size="7.1" fill="#4d4d4d" text-anchor="middle" >1.8e−05</text>
<text transform="translate(679.7,434.7) scale(1,1.12)" font-size="7.75" fill="#111" font-weight="bold" >VEGFR3</text>
<text x="689.9" y="557.7" font-size="7" fill="#4a4a4a" text-anchor="middle" >ARG1</text>
<text x="711.6" y="557.7" font-size="7" fill="#4a4a4a" text-anchor="middle" >ARG2</text>
<text x="733.3" y="557.7" font-size="7" fill="#4a4a4a" text-anchor="middle" >ARG3</text>
<rect x="787" y="425.2" width="67.6" height="123.4" fill="#ebebeb" />
<line x1="787" y1="434.7" x2="854.6" y2="434.7" stroke="#fff" stroke-width="0.9" />
<line x1="787" y1="442.9" x2="854.6" y2="442.9" stroke="#f7f7f7" stroke-width="0.5" />
<line x1="787" y1="451.1" x2="854.6" y2="451.1" stroke="#fff" stroke-width="0.9" />
<line x1="787" y1="459.3" x2="854.6" y2="459.3" stroke="#f7f7f7" stroke-width="0.5" />
<line x1="787" y1="467.5" x2="854.6" y2="467.5" stroke="#fff" stroke-width="0.9" />
<line x1="787" y1="475.7" x2="854.6" y2="475.7" stroke="#f7f7f7" stroke-width="0.5" />
<line x1="787" y1="483.9" x2="854.6" y2="483.9" stroke="#fff" stroke-width="0.9" />
<line x1="787" y1="492.1" x2="854.6" y2="492.1" stroke="#f7f7f7" stroke-width="0.5" />
<line x1="787" y1="500.3" x2="854.6" y2="500.3" stroke="#fff" stroke-width="0.9" />
<line x1="787" y1="508.5" x2="854.6" y2="508.5" stroke="#f7f7f7" stroke-width="0.5" />
<line x1="787" y1="516.7" x2="854.6" y2="516.7" stroke="#fff" stroke-width="0.9" />
<line x1="787" y1="524.9" x2="854.6" y2="524.9" stroke="#f7f7f7" stroke-width="0.5" />
<line x1="787" y1="533.1" x2="854.6" y2="533.1" stroke="#fff" stroke-width="0.9" />
<line x1="787" y1="541.3" x2="854.6" y2="541.3" stroke="#f7f7f7" stroke-width="0.5" />
<line x1="799.1" y1="425.2" x2="799.1" y2="548.6" stroke="#fff" stroke-width="0.9" />
<line x1="799.1" y1="549" x2="799.1" y2="550.8" stroke="#444" stroke-width="0.8" />
<line x1="820.3" y1="425.2" x2="820.3" y2="548.6" stroke="#fff" stroke-width="0.9" />
<line x1="820.3" y1="549" x2="820.3" y2="550.8" stroke="#444" stroke-width="0.8" />
<line x1="841.5" y1="425.2" x2="841.5" y2="548.6" stroke="#fff" stroke-width="0.9" />
<line x1="841.5" y1="549" x2="841.5" y2="550.8" stroke="#444" stroke-width="0.8" />
<path d="M797.8 517.5h0M796.8 516.6h0M799.6 513.4h0" stroke="#7b90d8" stroke-width="2.3" stroke-linecap="round" stroke-opacity="0.85"/>
<path d="M804.1,508.4 C804.68,508.77 807.27,509.33 807.6,510.6 C807.93,511.87 806.43,514.1 806.1,516 C805.77,517.9 805.93,520.53 805.6,522 C805.27,523.47 804.35,524.33 804.1,524.8 L794.1,524.8 C793.85,524.33 792.93,523.47 792.6,522 C792.27,520.53 792.43,517.9 792.1,516 C791.77,514.1 790.27,511.87 790.6,510.6 C790.93,509.33 793.52,508.77 794.1,508.4 Z" fill="none" stroke="#262626" stroke-width="1.15"/>
<line x1="799.1" y1="508.4" x2="799.1" y2="524.8" stroke="#333" stroke-width="0.8" />
<rect x="794.35" y="512.2" width="9.5" height="8.8" fill="none" stroke="#333" stroke-width="0.8"/>
<line x1="794.35" y1="516.3" x2="803.85" y2="516.3" stroke="#333" stroke-width="1.4" />
<path d="M823.3 512.2h0M817.0 527.8h0M823.3 511.4h0M823.9 521.3h0M821.6 509.1h0M821.0 503.1h0M817.4 516.7h0M820.7 502.3h0M819.9 530.3h0M819.0 523.3h0" stroke="#e056bd" stroke-width="2.3" stroke-linecap="round" stroke-opacity="0.85"/>
<path d="M821.8,484.6 C821.97,484.83 822.72,483.87 822.8,486 C822.88,488.13 821.88,493.73 822.3,497.4 C822.72,501.07 824.22,504.37 825.3,508 C826.38,511.63 828.47,516.03 828.8,519.2 C829.13,522.37 828.05,524.87 827.3,527 C826.55,529.13 824.8,531.17 824.3,532 L816.3,532 C815.8,531.17 814.05,529.13 813.3,527 C812.55,524.87 811.47,522.37 811.8,519.2 C812.13,516.03 814.22,511.63 815.3,508 C816.38,504.37 817.88,501.07 818.3,497.4 C818.72,493.73 817.72,488.13 817.8,486 C817.88,483.87 818.63,484.83 818.8,484.6 Z" fill="none" stroke="#262626" stroke-width="1.15"/>
<line x1="820.3" y1="484.6" x2="820.3" y2="532" stroke="#333" stroke-width="0.8" />
<rect x="815.95" y="514.8" width="8.7" height="12.5" fill="none" stroke="#333" stroke-width="0.8"/>
<line x1="815.95" y1="516.7" x2="824.65" y2="516.7" stroke="#333" stroke-width="1.4" />
<path d="M842.1,460 C842.1,460.54 842.1,462.15 842.1,463.23 C842.1,464.31 842.09,465.38 842.1,466.46 C842.11,467.53 842.12,468.61 842.14,469.69 C842.16,470.76 842.19,471.84 842.21,472.92 C842.23,473.99 842.26,475.07 842.28,476.15 C842.31,477.22 842.33,478.3 842.36,479.38 C842.38,480.45 842.4,481.53 842.43,482.6 C842.45,483.68 842.48,484.76 842.5,485.83 C842.52,486.91 842.55,487.99 842.57,489.06 C842.6,490.14 842.62,491.22 842.65,492.29 C842.67,493.37 842.65,494.44 842.72,495.52 C842.78,496.6 842.88,497.67 843.05,498.75 C843.21,499.83 843.5,500.9 843.73,501.98 C843.96,503.06 844.28,504.13 844.41,505.21 C844.54,506.28 844.49,507.36 844.5,508.44 C844.51,509.51 844.5,510.59 844.5,511.67 C844.5,512.74 844.5,513.82 844.5,514.9 C844.5,515.97 844.5,517.05 844.5,518.12 C844.5,519.2 844.5,520.28 844.5,521.35 C844.5,522.43 844.5,523.51 844.5,524.58 C844.5,525.66 844.5,526.74 844.5,527.81 C844.5,528.89 844.7,529.97 844.5,531.04 C844.3,532.12 843.73,533.19 843.33,534.27 C842.93,535.35 842.3,536.96 842.1,537.5 L840.9,537.5 C840.7,536.96 840.07,535.35 839.67,534.27 C839.27,533.19 838.7,532.12 838.5,531.04 C838.3,529.97 838.5,528.89 838.5,527.81 C838.5,526.74 838.5,525.66 838.5,524.58 C838.5,523.51 838.5,522.43 838.5,521.35 C838.5,520.28 838.5,519.2 838.5,518.12 C838.5,517.05 838.5,515.97 838.5,514.9 C838.5,513.82 838.5,512.74 838.5,511.67 C838.5,510.59 838.49,509.51 838.5,508.44 C838.51,507.36 838.46,506.28 838.59,505.21 C838.72,504.13 839.04,503.06 839.27,501.98 C839.5,500.9 839.79,499.83 839.95,498.75 C840.12,497.67 840.22,496.6 840.28,495.52 C840.35,494.44 840.33,493.37 840.35,492.29 C840.38,491.22 840.4,490.14 840.43,489.06 C840.45,487.99 840.48,486.91 840.5,485.83 C840.52,484.76 840.55,483.68 840.57,482.6 C840.6,481.53 840.62,480.45 840.64,479.38 C840.67,478.3 840.69,477.22 840.72,476.15 C840.74,475.07 840.77,473.99 840.79,472.92 C840.81,471.84 840.84,470.76 840.86,469.69 C840.88,468.61 840.89,467.53 840.9,466.46 C840.91,465.38 840.9,464.31 840.9,463.23 C840.9,462.15 840.9,460.54 840.9,460 Z" fill="#5cc79a" fill-opacity="0.8"/>
<path d="M843.5 499.7h0M845.0 513.5h0M839.0 528.8h0M840.0 499.1h0M840.4 508.8h0M842.9 521.0h0M842.7 525.3h0M842.5 502.9h0M838.8 504.5h0M840.9 468.3h0M841.9 464.8h0M840.8 487.4h0M841.1 505.1h0M842.7 489.9h0M842.6 479.3h0M844.4 526.2h0M842.2 523.2h0M840.8 533.6h0M840.1 515.7h0M843.6 527.8h0M841.2 478.9h0M842.0 465.1h0M840.6 487.2h0M840.3 482.0h0M839.0 511.5h0M839.8 514.7h0M841.1 524.7h0M839.0 524.8h0M841.3 499.1h0M839.7 505.5h0M844.2 507.1h0M843.2 502.1h0M840.7 504.0h0M842.1 466.7h0M841.0 483.0h0M842.0 477.5h0M840.9 511.4h0M839.7 511.1h0M842.4 525.6h0M842.4 474.1h0M838.2 516.9h0M841.1 463.1h0M843.9 509.5h0M837.9 513.0h0M840.0 524.7h0" stroke="#3fc08c" stroke-width="2.3" stroke-linecap="round" stroke-opacity="0.85"/>
<path d="M842.1,460 C842.3,466.23 842.57,489.4 843.3,497.4 C844.03,505.4 845.22,504.37 846.5,508 C847.78,511.63 851,515.53 851,519.2 C851,522.87 847.95,526.95 846.5,530 C845.05,533.05 843,536.25 842.3,537.5 L840.7,537.5 C840,536.25 837.95,533.05 836.5,530 C835.05,526.95 832,522.87 832,519.2 C832,515.53 835.22,511.63 836.5,508 C837.78,504.37 838.97,505.4 839.7,497.4 C840.43,489.4 840.7,466.23 840.9,460 Z" fill="none" stroke="#262626" stroke-width="1.15"/>
<line x1="841.5" y1="460" x2="841.5" y2="537.5" stroke="#333" stroke-width="0.8" />
<rect x="836.75" y="510.6" width="9.5" height="16.1" fill="none" stroke="#333" stroke-width="0.8"/>
<line x1="836.75" y1="519.2" x2="846.25" y2="519.2" stroke="#333" stroke-width="1.4" />
<path d="M799.1,459.5 V457.7 H820.3 V459.5" fill="none" stroke="#555" stroke-width="0.75"/>
<text transform="translate(809.7,456.3) scale(1,1.1)" font-size="7.1" fill="#4d4d4d" text-anchor="middle" >0.61</text>
<path d="M799.1,449.7 V447.9 H841.5 V449.7" fill="none" stroke="#555" stroke-width="0.75"/>
<text transform="translate(820.3,446.3) scale(1,1.1)" font-size="7.1" fill="#4d4d4d" text-anchor="middle" >0.66</text>
<path d="M820.3,440.2 V438.4 H841.5 V440.2" fill="none" stroke="#555" stroke-width="0.75"/>
<text transform="translate(830.9,437.4) scale(1,1.1)" font-size="7.1" fill="#4d4d4d" text-anchor="middle" >0.9</text>
<text transform="translate(789.6,434.7) scale(1,1.12)" font-size="7.75" fill="#111" font-weight="bold" >ERK1</text>
<text x="799.1" y="557.7" font-size="7" fill="#4a4a4a" text-anchor="middle" >ARG1</text>
<text x="820.3" y="557.7" font-size="7" fill="#4a4a4a" text-anchor="middle" >ARG2</text>
<text x="841.5" y="557.7" font-size="7" fill="#4a4a4a" text-anchor="middle" >ARG3</text>
<rect x="865.4" y="425.2" width="67.7" height="123.4" fill="#ebebeb" />
<line x1="865.4" y1="434.7" x2="933.1" y2="434.7" stroke="#fff" stroke-width="0.9" />
<line x1="865.4" y1="442.9" x2="933.1" y2="442.9" stroke="#f7f7f7" stroke-width="0.5" />
<line x1="865.4" y1="451.1" x2="933.1" y2="451.1" stroke="#fff" stroke-width="0.9" />
<line x1="865.4" y1="459.3" x2="933.1" y2="459.3" stroke="#f7f7f7" stroke-width="0.5" />
<line x1="865.4" y1="467.5" x2="933.1" y2="467.5" stroke="#fff" stroke-width="0.9" />
<line x1="865.4" y1="475.7" x2="933.1" y2="475.7" stroke="#f7f7f7" stroke-width="0.5" />
<line x1="865.4" y1="483.9" x2="933.1" y2="483.9" stroke="#fff" stroke-width="0.9" />
<line x1="865.4" y1="492.1" x2="933.1" y2="492.1" stroke="#f7f7f7" stroke-width="0.5" />
<line x1="865.4" y1="500.3" x2="933.1" y2="500.3" stroke="#fff" stroke-width="0.9" />
<line x1="865.4" y1="508.5" x2="933.1" y2="508.5" stroke="#f7f7f7" stroke-width="0.5" />
<line x1="865.4" y1="516.7" x2="933.1" y2="516.7" stroke="#fff" stroke-width="0.9" />
<line x1="865.4" y1="524.9" x2="933.1" y2="524.9" stroke="#f7f7f7" stroke-width="0.5" />
<line x1="865.4" y1="533.1" x2="933.1" y2="533.1" stroke="#fff" stroke-width="0.9" />
<line x1="865.4" y1="541.3" x2="933.1" y2="541.3" stroke="#f7f7f7" stroke-width="0.5" />
<line x1="877.5" y1="425.2" x2="877.5" y2="548.6" stroke="#fff" stroke-width="0.9" />
<line x1="877.5" y1="549" x2="877.5" y2="550.8" stroke="#444" stroke-width="0.8" />
<line x1="898.7" y1="425.2" x2="898.7" y2="548.6" stroke="#fff" stroke-width="0.9" />
<line x1="898.7" y1="549" x2="898.7" y2="550.8" stroke="#444" stroke-width="0.8" />
<line x1="920" y1="425.2" x2="920" y2="548.6" stroke="#fff" stroke-width="0.9" />
<line x1="920" y1="549" x2="920" y2="550.8" stroke="#444" stroke-width="0.8" />
<path d="M875.7 503.5h0M878.9 504.3h0" stroke="#7b90d8" stroke-width="2.3" stroke-linecap="round" stroke-opacity="0.85"/>
<path d="M880.5,499.7 C880.67,499.92 881.17,500.45 881.5,501 C881.83,501.55 881.67,502.33 882.5,503 C883.33,503.67 886,504.52 886.5,505 C887,505.48 885.67,505.75 885.5,505.9 L869.5,505.9 C869.33,505.75 868,505.48 868.5,505 C869,504.52 871.67,503.67 872.5,503 C873.33,502.33 873.17,501.55 873.5,501 C873.83,500.45 874.33,499.92 874.5,499.7 Z" fill="none" stroke="#262626" stroke-width="1.15"/>
<line x1="877.5" y1="499.7" x2="877.5" y2="505.9" stroke="#333" stroke-width="0.8" />
<rect x="874" y="501" width="7" height="4" fill="none" stroke="#333" stroke-width="0.8"/>
<line x1="874" y1="503" x2="881" y2="503" stroke="#333" stroke-width="1.4" />
<path d="M897.6 526.6h0M899.3 530.5h0M898.8 525.7h0M897.4 515.4h0M896.5 501.9h0M898.8 503.3h0" stroke="#e056bd" stroke-width="2.3" stroke-linecap="round" stroke-opacity="0.85"/>
<path d="M900.2,494 C900.37,494.5 900.95,495.67 901.2,497 C901.45,498.33 901.87,499.83 901.7,502 C901.53,504.17 900.5,504.78 900.2,510 C899.9,515.22 899.95,529.42 899.9,533.3 L897.5,533.3 C897.45,529.42 897.5,515.22 897.2,510 C896.9,504.78 895.87,504.17 895.7,502 C895.53,499.83 895.95,498.33 896.2,497 C896.45,495.67 897.03,494.5 897.2,494 Z" fill="none" stroke="#262626" stroke-width="1.15"/>
<line x1="898.7" y1="494" x2="898.7" y2="533.3" stroke="#333" stroke-width="0.8" />
<rect x="893.5" y="501.2" width="10.4" height="14.2" fill="none" stroke="#333" stroke-width="0.8"/>
<line x1="893.5" y1="502.7" x2="903.9" y2="502.7" stroke="#333" stroke-width="1.4" />
<path d="M920.6,461.9 C920.6,462.46 920.58,464.14 920.6,465.25 C920.62,466.37 920.69,467.49 920.74,468.61 C920.79,469.73 920.84,470.84 920.9,471.96 C920.95,473.08 921,474.2 921.06,475.32 C921.11,476.43 921.16,477.55 921.21,478.67 C921.27,479.79 921.32,480.91 921.37,482.02 C921.43,483.14 921.48,484.26 921.53,485.38 C921.58,486.5 921.64,487.62 921.69,488.73 C921.74,489.85 921.78,490.97 921.83,492.09 C921.87,493.21 921.91,494.32 921.95,495.44 C921.99,496.56 922.03,497.68 922.07,498.8 C922.12,499.91 922.16,501.03 922.2,502.15 C922.24,503.27 922.28,504.39 922.32,505.5 C922.36,506.62 922.45,507.74 922.44,508.86 C922.44,509.98 922.36,511.09 922.31,512.21 C922.26,513.33 922.21,514.45 922.16,515.57 C922.11,516.68 922.06,517.8 922.02,518.92 C921.97,520.04 921.92,521.16 921.87,522.27 C921.82,523.39 921.77,524.51 921.7,525.63 C921.63,526.75 921.53,527.87 921.45,528.98 C921.36,530.1 921.27,531.22 921.19,532.34 C921.1,533.46 921.02,534.57 920.93,535.69 C920.85,536.81 920.73,537.93 920.68,539.05 C920.62,540.16 920.61,541.84 920.6,542.4 L919.4,542.4 C919.39,541.84 919.38,540.16 919.32,539.05 C919.27,537.93 919.15,536.81 919.07,535.69 C918.98,534.57 918.9,533.46 918.81,532.34 C918.73,531.22 918.64,530.1 918.55,528.98 C918.47,527.87 918.37,526.75 918.3,525.63 C918.23,524.51 918.18,523.39 918.13,522.27 C918.08,521.16 918.03,520.04 917.98,518.92 C917.94,517.8 917.89,516.68 917.84,515.57 C917.79,514.45 917.74,513.33 917.69,512.21 C917.64,511.09 917.56,509.98 917.56,508.86 C917.55,507.74 917.64,506.62 917.68,505.5 C917.72,504.39 917.76,503.27 917.8,502.15 C917.84,501.03 917.88,499.91 917.93,498.8 C917.97,497.68 918.01,496.56 918.05,495.44 C918.09,494.32 918.13,493.21 918.17,492.09 C918.22,490.97 918.26,489.85 918.31,488.73 C918.36,487.62 918.42,486.5 918.47,485.38 C918.52,484.26 918.57,483.14 918.63,482.02 C918.68,480.91 918.73,479.79 918.79,478.67 C918.84,477.55 918.89,476.43 918.94,475.32 C919,474.2 919.05,473.08 919.1,471.96 C919.16,470.84 919.21,469.73 919.26,468.61 C919.31,467.49 919.38,466.37 919.4,465.25 C919.42,464.14 919.4,462.46 919.4,461.9 Z" fill="#5cc79a" fill-opacity="0.8"/>
<path d="M921.9 490.2h0M921.8 510.1h0M919.1 528.8h0M917.8 490.9h0M920.9 484.5h0M919.0 498.0h0M918.0 499.6h0M921.0 467.7h0M921.2 522.3h0M920.2 496.9h0M918.6 482.1h0M918.7 529.5h0M920.7 536.5h0M921.5 488.2h0M920.2 487.7h0M920.3 481.2h0M918.7 502.1h0M921.3 508.7h0M919.2 540.0h0M921.3 497.3h0M920.9 496.1h0M919.0 503.3h0M919.8 475.1h0M917.9 507.3h0M920.5 510.9h0M919.0 514.0h0M919.0 533.2h0M917.5 516.5h0M920.5 515.1h0M917.4 507.4h0M922.4 506.0h0M920.1 482.3h0M920.5 506.5h0M919.4 509.3h0M921.9 520.0h0M922.5 493.5h0M919.8 466.5h0M920.7 479.1h0M920.9 532.0h0M920.6 520.0h0M922.0 526.5h0M918.1 516.3h0M916.7 508.7h0M922.0 492.6h0M920.5 464.8h0M919.9 516.6h0M918.8 511.1h0M917.7 509.3h0M919.0 508.4h0M919.8 488.8h0" stroke="#3fc08c" stroke-width="2.3" stroke-linecap="round" stroke-opacity="0.85"/>
<path d="M920.6,461.9 C920.92,466.58 922.02,482.15 922.5,490 C922.98,497.85 923.5,503.17 923.5,509 C923.5,514.83 922.98,519.43 922.5,525 C922.02,530.57 920.92,539.5 920.6,542.4 L919.4,542.4 C919.08,539.5 917.98,530.57 917.5,525 C917.02,519.43 916.5,514.83 916.5,509 C916.5,503.17 917.02,497.85 917.5,490 C917.98,482.15 919.08,466.58 919.4,461.9 Z" fill="none" stroke="#262626" stroke-width="1.15"/>
<line x1="920" y1="461.9" x2="920" y2="542.4" stroke="#333" stroke-width="0.8" />
<rect x="914.8" y="502.7" width="10.4" height="12.7" fill="none" stroke="#333" stroke-width="0.8"/>
<line x1="914.8" y1="509.1" x2="925.2" y2="509.1" stroke="#333" stroke-width="1.4" />
<path d="M877.5,459.9 V458.1 H898.7 V459.9" fill="none" stroke="#555" stroke-width="0.75"/>
<text transform="translate(888.1,456.7) scale(1,1.1)" font-size="7.1" fill="#4d4d4d" text-anchor="middle" >0.7</text>
<path d="M877.5,450.1 V448.3 H920 V450.1" fill="none" stroke="#555" stroke-width="0.75"/>
<text transform="translate(898.75,447.3) scale(1,1.1)" font-size="7.1" fill="#4d4d4d" text-anchor="middle" >0.17</text>
<path d="M898.7,440.6 V438.8 H920 V440.6" fill="none" stroke="#555" stroke-width="0.75"/>
<text transform="translate(909.35,437.8) scale(1,1.1)" font-size="7.1" fill="#4d4d4d" text-anchor="middle" >0.5</text>
<text transform="translate(869.8,434.7) scale(1,1.12)" font-size="7.75" fill="#111" font-weight="bold" >ERK2</text>
<text x="877.5" y="557.7" font-size="7" fill="#4a4a4a" text-anchor="middle" >ARG1</text>
<text x="898.7" y="557.7" font-size="7" fill="#4a4a4a" text-anchor="middle" >ARG2</text>
<text x="920" y="557.7" font-size="7" fill="#4a4a4a" text-anchor="middle" >ARG3</text>
<rect x="943.5" y="425.2" width="68.5" height="123.4" fill="#ebebeb" />
<line x1="943.5" y1="434.7" x2="1012" y2="434.7" stroke="#fff" stroke-width="0.9" />
<line x1="943.5" y1="442.9" x2="1012" y2="442.9" stroke="#f7f7f7" stroke-width="0.5" />
<line x1="943.5" y1="451.1" x2="1012" y2="451.1" stroke="#fff" stroke-width="0.9" />
<line x1="943.5" y1="459.3" x2="1012" y2="459.3" stroke="#f7f7f7" stroke-width="0.5" />
<line x1="943.5" y1="467.5" x2="1012" y2="467.5" stroke="#fff" stroke-width="0.9" />
<line x1="943.5" y1="475.7" x2="1012" y2="475.7" stroke="#f7f7f7" stroke-width="0.5" />
<line x1="943.5" y1="483.9" x2="1012" y2="483.9" stroke="#fff" stroke-width="0.9" />
<line x1="943.5" y1="492.1" x2="1012" y2="492.1" stroke="#f7f7f7" stroke-width="0.5" />
<line x1="943.5" y1="500.3" x2="1012" y2="500.3" stroke="#fff" stroke-width="0.9" />
<line x1="943.5" y1="508.5" x2="1012" y2="508.5" stroke="#f7f7f7" stroke-width="0.5" />
<line x1="943.5" y1="516.7" x2="1012" y2="516.7" stroke="#fff" stroke-width="0.9" />
<line x1="943.5" y1="524.9" x2="1012" y2="524.9" stroke="#f7f7f7" stroke-width="0.5" />
<line x1="943.5" y1="533.1" x2="1012" y2="533.1" stroke="#fff" stroke-width="0.9" />
<line x1="943.5" y1="541.3" x2="1012" y2="541.3" stroke="#f7f7f7" stroke-width="0.5" />
<line x1="955.9" y1="425.2" x2="955.9" y2="548.6" stroke="#fff" stroke-width="0.9" />
<line x1="955.9" y1="549" x2="955.9" y2="550.8" stroke="#444" stroke-width="0.8" />
<line x1="977.6" y1="425.2" x2="977.6" y2="548.6" stroke="#fff" stroke-width="0.9" />
<line x1="977.6" y1="549" x2="977.6" y2="550.8" stroke="#444" stroke-width="0.8" />
<line x1="999.4" y1="425.2" x2="999.4" y2="548.6" stroke="#fff" stroke-width="0.9" />
<line x1="999.4" y1="549" x2="999.4" y2="550.8" stroke="#444" stroke-width="0.8" />
<path d="M953.3 537.9h0M954.3 532.8h0M956.4 530.1h0" stroke="#7b90d8" stroke-width="2.3" stroke-linecap="round" stroke-opacity="0.85"/>
<path d="M960.9,522 C961.07,522.33 961.27,522.67 961.9,524 C962.53,525.33 964.37,528 964.7,530 C965.03,532 964.53,534.65 963.9,536 C963.27,537.35 961.4,537.75 960.9,538.1 L950.9,538.1 C950.4,537.75 948.53,537.35 947.9,536 C947.27,534.65 946.77,532 947.1,530 C947.43,528 949.27,525.33 949.9,524 C950.53,522.67 950.73,522.33 950.9,522 Z" fill="none" stroke="#262626" stroke-width="1.15"/>
<line x1="955.9" y1="522" x2="955.9" y2="538.1" stroke="#333" stroke-width="0.8" />
<rect x="951.55" y="524.9" width="8.7" height="9.4" fill="none" stroke="#333" stroke-width="0.8"/>
<line x1="951.55" y1="529.6" x2="960.25" y2="529.6" stroke="#333" stroke-width="1.4" />
<path d="M978.0 539.4h0M979.6 521.9h0M978.5 489.7h0M978.6 514.9h0M978.6 519.4h0M977.1 493.1h0" stroke="#e056bd" stroke-width="2.3" stroke-linecap="round" stroke-opacity="0.85"/>
<path d="M979.1,461.1 C979.22,461.42 979.8,461.52 979.8,463 C979.8,464.48 979.22,461.42 979.1,470 C978.98,478.58 978.02,505.83 979.1,514.5 C980.18,523.17 984.68,519.75 985.6,522 C986.52,524.25 984.77,525 984.6,528 C984.43,531 984.6,538 984.6,540 L970.6,540 C970.6,538 970.77,531 970.6,528 C970.43,525 968.68,524.25 969.6,522 C970.52,519.75 975.02,523.17 976.1,514.5 C977.18,505.83 976.22,478.58 976.1,470 C975.98,461.42 975.4,464.48 975.4,463 C975.4,461.52 975.98,461.42 976.1,461.1 Z" fill="none" stroke="#262626" stroke-width="1.15"/>
<line x1="977.6" y1="461.1" x2="977.6" y2="540" stroke="#333" stroke-width="0.8" />
<rect x="972.9" y="524" width="9.4" height="15.1" fill="none" stroke="#333" stroke-width="0.8"/>
<line x1="972.9" y1="524.3" x2="982.3" y2="524.3" stroke="#333" stroke-width="1.4" />
<path d="M1000,500.3 C1000,500.58 1000,501.43 1000,502 C1000,502.56 1000,503.13 1000,503.69 C1000,504.26 1000,504.82 1000.02,505.39 C1000.03,505.95 1000.06,506.52 1000.09,507.08 C1000.11,507.65 1000.13,508.21 1000.15,508.78 C1000.17,509.34 1000.2,509.91 1000.22,510.48 C1000.24,511.04 1000.26,511.61 1000.28,512.17 C1000.31,512.74 1000.33,513.3 1000.35,513.87 C1000.37,514.43 1000.35,515 1000.42,515.56 C1000.48,516.13 1000.58,516.69 1000.73,517.26 C1000.87,517.82 1001.09,518.39 1001.27,518.95 C1001.46,519.52 1001.64,520.08 1001.82,520.65 C1002,521.22 1002.27,521.78 1002.37,522.35 C1002.46,522.91 1002.39,523.48 1002.4,524.04 C1002.41,524.61 1002.4,525.17 1002.4,525.74 C1002.4,526.3 1002.4,526.87 1002.4,527.43 C1002.4,528 1002.4,528.56 1002.4,529.13 C1002.4,529.69 1002.4,530.26 1002.4,530.83 C1002.4,531.39 1002.4,531.96 1002.4,532.52 C1002.4,533.09 1002.4,533.65 1002.4,534.22 C1002.4,534.78 1002.4,535.35 1002.4,535.91 C1002.4,536.48 1002.5,537.04 1002.4,537.61 C1002.3,538.17 1002.11,538.74 1001.79,539.3 C1001.46,539.87 1000.67,540.72 1000.45,541 L998.35,541 C998.13,540.72 997.34,539.87 997.01,539.3 C996.69,538.74 996.5,538.17 996.4,537.61 C996.3,537.04 996.4,536.48 996.4,535.91 C996.4,535.35 996.4,534.78 996.4,534.22 C996.4,533.65 996.4,533.09 996.4,532.52 C996.4,531.96 996.4,531.39 996.4,530.83 C996.4,530.26 996.4,529.69 996.4,529.13 C996.4,528.56 996.4,528 996.4,527.43 C996.4,526.87 996.4,526.3 996.4,525.74 C996.4,525.17 996.39,524.61 996.4,524.04 C996.41,523.48 996.34,522.91 996.43,522.35 C996.53,521.78 996.8,521.22 996.98,520.65 C997.16,520.08 997.34,519.52 997.53,518.95 C997.71,518.39 997.93,517.82 998.07,517.26 C998.22,516.69 998.32,516.13 998.38,515.56 C998.45,515 998.43,514.43 998.45,513.87 C998.47,513.3 998.49,512.74 998.52,512.17 C998.54,511.61 998.56,511.04 998.58,510.48 C998.6,509.91 998.63,509.34 998.65,508.78 C998.67,508.21 998.69,507.65 998.71,507.08 C998.74,506.52 998.77,505.95 998.78,505.39 C998.8,504.82 998.8,504.26 998.8,503.69 C998.8,503.13 998.8,502.56 998.8,502 C998.8,501.43 998.8,500.58 998.8,500.3 Z" fill="#5cc79a" fill-opacity="0.8"/>
<path d="M997.8 519.9h0M1000.1 505.8h0M997.0 523.4h0M997.1 524.0h0M997.7 536.9h0M999.1 501.2h0M998.7 529.0h0M997.2 535.5h0M1000.1 530.2h0M996.8 535.9h0M1002.4 535.9h0M998.7 530.8h0M996.2 527.9h0M999.9 517.2h0M999.1 524.6h0M996.5 529.8h0M999.9 506.7h0M1000.5 524.3h0M1001.1 524.8h0M998.0 531.4h0M999.1 531.7h0M995.9 538.6h0M1002.9 531.8h0M998.8 504.0h0M1002.6 522.9h0M998.5 515.2h0M997.0 530.3h0M1001.6 519.0h0M998.9 509.4h0M998.1 518.0h0M997.9 531.2h0M999.6 540.8h0M1001.2 535.7h0M998.2 533.8h0M1000.0 524.6h0M1002.2 536.2h0M1002.0 535.4h0M997.7 540.8h0M999.7 504.3h0M996.1 532.5h0M998.9 520.8h0M1000.2 504.6h0M998.4 520.7h0M1000.7 514.5h0M997.8 536.2h0" stroke="#3fc08c" stroke-width="2.3" stroke-linecap="round" stroke-opacity="0.85"/>
<path d="M1000,500.3 C1000.15,502.98 1000.17,512.45 1000.9,516.4 C1001.63,520.35 1003.07,521.48 1004.4,524 C1005.73,526.52 1008.73,529.33 1008.9,531.5 C1009.07,533.67 1006.73,535.42 1005.4,537 C1004.07,538.58 1001.65,540.33 1000.9,541 L997.9,541 C997.15,540.33 994.73,538.58 993.4,537 C992.07,535.42 989.73,533.67 989.9,531.5 C990.07,529.33 993.07,526.52 994.4,524 C995.73,521.48 997.17,520.35 997.9,516.4 C998.63,512.45 998.65,502.98 998.8,500.3 Z" fill="none" stroke="#262626" stroke-width="1.15"/>
<line x1="999.4" y1="500.3" x2="999.4" y2="541" stroke="#333" stroke-width="0.8" />
<rect x="994.7" y="525.8" width="9.4" height="8.5" fill="none" stroke="#333" stroke-width="0.8"/>
<line x1="994.7" y1="531.5" x2="1004.1" y2="531.5" stroke="#333" stroke-width="1.4" />
<path d="M955.9,459.1 V457.3 H977.6 V459.1" fill="none" stroke="#555" stroke-width="0.75"/>
<text transform="translate(966.75,456.7) scale(1,1.1)" font-size="7.1" fill="#4d4d4d" text-anchor="middle" >1</text>
<path d="M955.9,449.7 V447.9 H999.4 V449.7" fill="none" stroke="#555" stroke-width="0.75"/>
<text transform="translate(977.65,446.9) scale(1,1.1)" font-size="7.1" fill="#4d4d4d" text-anchor="middle" >0.77</text>
<path d="M977.6,440.2 V438.4 H999.4 V440.2" fill="none" stroke="#555" stroke-width="0.75"/>
<text transform="translate(988.5,437.8) scale(1,1.1)" font-size="7.1" fill="#4d4d4d" text-anchor="middle" >0.54</text>
<text transform="translate(947.1,434.7) scale(1,1.12)" font-size="7.75" fill="#111" font-weight="bold" >MET</text>
<text x="955.9" y="557.7" font-size="7" fill="#4a4a4a" text-anchor="middle" >ARG1</text>
<text x="977.6" y="557.7" font-size="7" fill="#4a4a4a" text-anchor="middle" >ARG2</text>
<text x="999.4" y="557.7" font-size="7" fill="#4a4a4a" text-anchor="middle" >ARG3</text>
<rect x="37.1" y="600.8" width="67.7" height="124.6" fill="#ebebeb" />
<line x1="37.1" y1="610.3" x2="104.8" y2="610.3" stroke="#fff" stroke-width="0.9" />
<line x1="37.1" y1="618.5" x2="104.8" y2="618.5" stroke="#f7f7f7" stroke-width="0.5" />
<line x1="37.1" y1="626.7" x2="104.8" y2="626.7" stroke="#fff" stroke-width="0.9" />
<line x1="37.1" y1="634.9" x2="104.8" y2="634.9" stroke="#f7f7f7" stroke-width="0.5" />
<line x1="37.1" y1="643.1" x2="104.8" y2="643.1" stroke="#fff" stroke-width="0.9" />
<line x1="37.1" y1="651.3" x2="104.8" y2="651.3" stroke="#f7f7f7" stroke-width="0.5" />
<line x1="37.1" y1="659.5" x2="104.8" y2="659.5" stroke="#fff" stroke-width="0.9" />
<line x1="37.1" y1="667.7" x2="104.8" y2="667.7" stroke="#f7f7f7" stroke-width="0.5" />
<line x1="37.1" y1="675.9" x2="104.8" y2="675.9" stroke="#fff" stroke-width="0.9" />
<line x1="37.1" y1="684.1" x2="104.8" y2="684.1" stroke="#f7f7f7" stroke-width="0.5" />
<line x1="37.1" y1="692.3" x2="104.8" y2="692.3" stroke="#fff" stroke-width="0.9" />
<line x1="37.1" y1="700.5" x2="104.8" y2="700.5" stroke="#f7f7f7" stroke-width="0.5" />
<line x1="37.1" y1="708.7" x2="104.8" y2="708.7" stroke="#fff" stroke-width="0.9" />
<line x1="37.1" y1="716.9" x2="104.8" y2="716.9" stroke="#f7f7f7" stroke-width="0.5" />
<line x1="37.1" y1="725.1" x2="104.8" y2="725.1" stroke="#fff" stroke-width="0.9" />
<line x1="49.4" y1="600.8" x2="49.4" y2="725.4" stroke="#fff" stroke-width="0.9" />
<line x1="49.4" y1="725.8" x2="49.4" y2="727.6" stroke="#444" stroke-width="0.8" />
<line x1="70.8" y1="600.8" x2="70.8" y2="725.4" stroke="#fff" stroke-width="0.9" />
<line x1="70.8" y1="725.8" x2="70.8" y2="727.6" stroke="#444" stroke-width="0.8" />
<line x1="92" y1="600.8" x2="92" y2="725.4" stroke="#fff" stroke-width="0.9" />
<line x1="92" y1="725.8" x2="92" y2="727.6" stroke="#444" stroke-width="0.8" />
<path d="M46.6 646.1h0M48.4 658.7h0M49.8 672.0h0M48.8 658.2h0M48.7 689.3h0M53.0 658.8h0M50.2 686.8h0M47.2 657.0h0M49.8 654.1h0M50.1 682.8h0M50.1 690.5h0M50.9 676.9h0M50.2 657.9h0M50.3 673.3h0M50.2 666.0h0M49.6 662.2h0M46.8 662.4h0M49.6 686.9h0M47.5 665.1h0M51.8 661.5h0M48.1 643.2h0M50.8 642.1h0M46.4 664.8h0M49.2 674.2h0M46.9 679.8h0M49.5 673.4h0M48.2 649.4h0M47.2 657.2h0M47.1 667.5h0M48.1 675.5h0M48.8 683.1h0M48.5 679.5h0M47.9 656.4h0M51.6 658.7h0M50.0 655.6h0M52.8 686.7h0M50.6 675.2h0M51.2 654.4h0M49.4 657.1h0M51.8 661.6h0M52.2 659.0h0M49.5 660.4h0M51.1 681.3h0M50.7 658.3h0M51.3 666.6h0M47.3 642.9h0M46.4 680.9h0M46.2 677.4h0M49.3 673.5h0M53.0 659.2h0" stroke="#7b90d8" stroke-width="2.3" stroke-linecap="round" stroke-opacity="0.85"/>
<path d="M50.4,636.5 C50.73,637.92 51.07,639.8 52.4,645 C53.73,650.2 57.9,661.87 58.4,667.7 C58.9,673.53 56.48,676.15 55.4,680 C54.32,683.85 52.48,689 51.9,690.8 L46.9,690.8 C46.32,689 44.48,683.85 43.4,680 C42.32,676.15 39.9,673.53 40.4,667.7 C40.9,661.87 45.07,650.2 46.4,645 C47.73,639.8 48.07,637.92 48.4,636.5 Z" fill="none" stroke="#262626" stroke-width="1.15"/>
<line x1="49.4" y1="636.5" x2="49.4" y2="690.8" stroke="#333" stroke-width="0.8" />
<rect x="44.5" y="660.2" width="9.8" height="17" fill="none" stroke="#333" stroke-width="0.8"/>
<line x1="44.5" y1="669.3" x2="54.3" y2="669.3" stroke="#333" stroke-width="1.4" />
<path d="M71.4,633.3 C71.41,633.85 71.43,635.49 71.46,636.59 C71.48,637.68 71.52,638.78 71.56,639.88 C71.59,640.97 71.58,642.07 71.66,643.16 C71.73,644.26 71.83,645.35 71.99,646.45 C72.15,647.55 72.41,648.64 72.63,649.74 C72.84,650.83 73.08,651.93 73.26,653.02 C73.44,654.12 73.63,655.22 73.7,656.31 C73.77,657.41 73.7,658.5 73.7,659.6 C73.7,660.7 73.7,661.79 73.7,662.89 C73.7,663.98 73.7,665.08 73.7,666.17 C73.7,667.27 73.7,668.37 73.7,669.46 C73.7,670.56 73.7,671.65 73.7,672.75 C73.7,673.85 73.7,674.94 73.7,676.04 C73.7,677.13 73.7,678.23 73.7,679.33 C73.7,680.42 73.7,681.52 73.7,682.61 C73.7,683.71 73.7,684.8 73.7,685.9 C73.7,687 73.7,688.09 73.7,689.19 C73.7,690.28 73.73,691.38 73.7,692.48 C73.67,693.57 73.64,694.67 73.54,695.76 C73.44,696.86 73.25,697.95 73.1,699.05 C72.96,700.15 72.81,701.24 72.67,702.34 C72.52,703.43 72.38,704.53 72.23,705.62 C72.09,706.72 71.93,707.82 71.8,708.91 C71.66,710.01 71.47,711.65 71.4,712.2 L70.2,712.2 C70.13,711.65 69.94,710.01 69.8,708.91 C69.67,707.82 69.51,706.72 69.37,705.62 C69.22,704.53 69.08,703.43 68.93,702.34 C68.79,701.24 68.64,700.15 68.5,699.05 C68.35,697.95 68.16,696.86 68.06,695.76 C67.96,694.67 67.93,693.57 67.9,692.48 C67.87,691.38 67.9,690.28 67.9,689.19 C67.9,688.09 67.9,687 67.9,685.9 C67.9,684.8 67.9,683.71 67.9,682.61 C67.9,681.52 67.9,680.42 67.9,679.33 C67.9,678.23 67.9,677.13 67.9,676.04 C67.9,674.94 67.9,673.85 67.9,672.75 C67.9,671.65 67.9,670.56 67.9,669.46 C67.9,668.37 67.9,667.27 67.9,666.17 C67.9,665.08 67.9,663.98 67.9,662.89 C67.9,661.79 67.9,660.7 67.9,659.6 C67.9,658.5 67.83,657.41 67.9,656.31 C67.97,655.22 68.16,654.12 68.34,653.02 C68.52,651.93 68.76,650.83 68.97,649.74 C69.19,648.64 69.45,647.55 69.61,646.45 C69.77,645.35 69.87,644.26 69.94,643.16 C70.02,642.07 70.01,640.97 70.04,639.88 C70.08,638.78 70.12,637.68 70.14,636.59 C70.17,635.49 70.19,633.85 70.2,633.3 Z" fill="#e86dc6" fill-opacity="0.9"/>
<path d="M74.3 674.2h0M69.5 655.0h0M70.2 677.1h0M69.0 700.9h0M70.7 662.8h0M73.0 679.4h0M69.5 677.2h0M71.3 675.4h0M72.9 658.8h0M70.4 669.2h0M70.5 702.6h0M73.4 683.7h0M70.8 677.6h0M69.3 686.5h0M68.7 649.6h0M69.1 666.0h0M71.4 645.5h0M71.4 656.5h0M68.3 658.4h0M72.2 705.2h0M71.1 683.9h0M72.1 690.8h0M69.7 674.8h0M73.9 692.5h0M68.2 676.0h0M73.4 700.0h0M72.5 668.8h0M71.2 656.8h0M70.9 669.7h0M72.0 661.1h0M72.2 646.2h0M71.8 645.1h0M70.6 675.6h0M68.6 673.3h0M68.1 665.2h0M67.3 672.9h0M72.2 695.7h0M69.5 645.4h0M69.3 664.3h0M71.2 703.6h0M71.0 638.2h0M71.0 710.9h0M67.3 669.7h0M69.0 665.4h0M70.1 644.4h0M72.8 671.2h0M71.7 683.5h0M74.2 660.9h0M68.2 686.4h0M73.1 679.9h0M68.0 675.2h0M70.5 651.6h0M73.4 652.0h0M70.0 687.4h0M68.0 698.5h0M73.2 660.1h0M70.7 695.9h0M71.3 634.6h0M70.5 666.3h0M69.7 659.8h0" stroke="#e056bd" stroke-width="2.3" stroke-linecap="round" stroke-opacity="0.45"/>
<path d="M71.6,633.3 C71.68,635.25 71.36,640.68 72.1,645 C72.84,649.32 74.74,654.47 76.02,659.2 C77.3,663.93 79.84,668.27 79.8,673.4 C79.76,678.53 77.17,683.53 75.8,690 C74.43,696.47 72.3,708.5 71.6,712.2 L70,712.2 C69.3,708.5 67.17,696.47 65.8,690 C64.43,683.53 61.84,678.53 61.8,673.4 C61.76,668.27 64.3,663.93 65.58,659.2 C66.86,654.47 68.76,649.32 69.5,645 C70.24,640.68 69.92,635.25 70,633.3 Z" fill="none" stroke="#262626" stroke-width="1.15"/>
<line x1="70.8" y1="633.3" x2="70.8" y2="712.2" stroke="#333" stroke-width="0.8" />
<rect x="66.1" y="664.3" width="9.4" height="17.1" fill="none" stroke="#333" stroke-width="0.8"/>
<line x1="66.1" y1="671.5" x2="75.5" y2="671.5" stroke="#333" stroke-width="1.4" />
<path d="M92.6,638.4 C92.61,638.93 92.63,640.5 92.66,641.55 C92.68,642.61 92.72,643.66 92.75,644.71 C92.78,645.76 92.78,646.81 92.85,647.86 C92.92,648.91 92.98,649.97 93.17,651.02 C93.36,652.07 93.71,653.12 93.97,654.17 C94.24,655.22 94.63,656.27 94.78,657.33 C94.93,658.38 94.88,659.43 94.9,660.48 C94.92,661.53 94.9,662.58 94.9,663.63 C94.9,664.68 94.9,665.74 94.9,666.79 C94.9,667.84 94.9,668.89 94.9,669.94 C94.9,670.99 94.9,672.04 94.9,673.1 C94.9,674.15 94.9,675.2 94.9,676.25 C94.9,677.3 94.9,678.35 94.9,679.4 C94.9,680.46 94.9,681.51 94.9,682.56 C94.9,683.61 94.9,684.66 94.9,685.71 C94.9,686.76 94.9,687.82 94.9,688.87 C94.9,689.92 94.91,690.97 94.9,692.02 C94.89,693.07 94.94,694.12 94.87,695.17 C94.8,696.23 94.61,697.28 94.48,698.33 C94.36,699.38 94.23,700.43 94.1,701.48 C93.97,702.53 93.84,703.59 93.71,704.64 C93.59,705.69 93.46,706.74 93.33,707.79 C93.2,708.84 93.07,709.89 92.94,710.95 C92.82,712 92.66,713.57 92.6,714.1 L91.4,714.1 C91.34,713.57 91.18,712 91.06,710.95 C90.93,709.89 90.8,708.84 90.67,707.79 C90.54,706.74 90.41,705.69 90.29,704.64 C90.16,703.59 90.03,702.53 89.9,701.48 C89.77,700.43 89.64,699.38 89.52,698.33 C89.39,697.28 89.2,696.23 89.13,695.17 C89.06,694.12 89.11,693.07 89.1,692.02 C89.09,690.97 89.1,689.92 89.1,688.87 C89.1,687.82 89.1,686.76 89.1,685.71 C89.1,684.66 89.1,683.61 89.1,682.56 C89.1,681.51 89.1,680.46 89.1,679.4 C89.1,678.35 89.1,677.3 89.1,676.25 C89.1,675.2 89.1,674.15 89.1,673.1 C89.1,672.04 89.1,670.99 89.1,669.94 C89.1,668.89 89.1,667.84 89.1,666.79 C89.1,665.74 89.1,664.68 89.1,663.63 C89.1,662.58 89.08,661.53 89.1,660.48 C89.12,659.43 89.07,658.38 89.22,657.33 C89.37,656.27 89.76,655.22 90.03,654.17 C90.29,653.12 90.64,652.07 90.83,651.02 C91.02,649.97 91.08,648.91 91.15,647.86 C91.22,646.81 91.22,645.76 91.25,644.71 C91.28,643.66 91.32,642.61 91.34,641.55 C91.37,640.5 91.39,638.93 91.4,638.4 Z" fill="#5cc79a" fill-opacity="0.9"/>
<path d="M90.4 660.5h0M93.2 691.5h0M93.2 699.5h0M94.0 652.3h0M94.8 665.8h0M95.3 668.3h0M92.7 638.4h0M90.2 672.8h0M92.4 665.1h0M94.8 666.9h0M92.9 688.8h0M91.0 672.0h0M91.1 688.5h0M94.9 677.9h0M95.4 676.1h0M91.6 690.1h0M92.4 705.9h0M91.2 682.1h0M91.4 660.4h0M92.5 659.4h0M92.1 664.7h0M93.2 704.8h0M90.4 651.3h0M95.4 660.9h0M91.5 711.2h0M91.4 709.8h0M90.3 671.6h0M95.3 668.2h0M94.9 658.6h0M93.0 672.5h0M89.5 697.3h0M92.4 695.7h0M95.0 659.2h0M92.9 678.5h0M95.2 681.3h0M88.9 658.5h0M93.3 679.9h0M89.2 669.6h0M95.4 661.6h0M94.0 686.4h0M93.7 668.3h0M94.2 664.3h0M94.7 664.9h0M93.2 678.7h0M91.3 706.6h0M93.2 676.4h0M92.5 682.1h0M94.9 695.5h0M93.0 704.9h0M90.4 691.7h0" stroke="#3fc08c" stroke-width="2.3" stroke-linecap="round" stroke-opacity="0.45"/>
<path d="M92.8,638.4 C92.88,640.33 92.56,646.27 93.3,650 C94.04,653.73 95.94,657.17 97.22,660.75 C98.5,664.33 101.04,666.62 101,671.5 C100.96,676.38 98.37,682.9 97,690 C95.63,697.1 93.5,710.08 92.8,714.1 L91.2,714.1 C90.5,710.08 88.37,697.1 87,690 C85.63,682.9 83.04,676.38 83,671.5 C82.96,666.62 85.5,664.33 86.78,660.75 C88.06,657.17 89.96,653.73 90.7,650 C91.44,646.27 91.12,640.33 91.2,638.4 Z" fill="none" stroke="#262626" stroke-width="1.15"/>
<line x1="92" y1="638.4" x2="92" y2="714.1" stroke="#333" stroke-width="0.8" />
<rect x="87.25" y="664.3" width="9.5" height="15.7" fill="none" stroke="#333" stroke-width="0.8"/>
<line x1="87.25" y1="671.5" x2="96.75" y2="671.5" stroke="#333" stroke-width="1.4" />
<path d="M49.4,630.8 V629 H70.8 V630.8" fill="none" stroke="#555" stroke-width="0.75"/>
<text transform="translate(60.1,628) scale(1,1.1)" font-size="7.1" fill="#4d4d4d" text-anchor="middle" >0.083</text>
<path d="M49.4,620.8 V619 H92 V620.8" fill="none" stroke="#555" stroke-width="0.75"/>
<text transform="translate(70.7,618) scale(1,1.1)" font-size="7.1" fill="#4d4d4d" text-anchor="middle" >0.071</text>
<path d="M70.8,610.5 V608.7 H92 V610.5" fill="none" stroke="#555" stroke-width="0.75"/>
<text transform="translate(81.4,607.8) scale(1,1.1)" font-size="7.1" fill="#4d4d4d" text-anchor="middle" >0.85</text>
<text transform="translate(39,610) scale(1,1.12)" font-size="7.75" fill="#111" font-weight="bold" >JAK1</text>
<text x="49.4" y="734.5" font-size="7" fill="#4a4a4a" text-anchor="middle" >ARG1</text>
<text x="70.8" y="734.5" font-size="7" fill="#4a4a4a" text-anchor="middle" >ARG2</text>
<text x="92" y="734.5" font-size="7" fill="#4a4a4a" text-anchor="middle" >ARG3</text>
<rect x="116.6" y="600.8" width="67.1" height="124.6" fill="#ebebeb" />
<line x1="116.6" y1="610.3" x2="183.7" y2="610.3" stroke="#fff" stroke-width="0.9" />
<line x1="116.6" y1="618.5" x2="183.7" y2="618.5" stroke="#f7f7f7" stroke-width="0.5" />
<line x1="116.6" y1="626.7" x2="183.7" y2="626.7" stroke="#fff" stroke-width="0.9" />
<line x1="116.6" y1="634.9" x2="183.7" y2="634.9" stroke="#f7f7f7" stroke-width="0.5" />
<line x1="116.6" y1="643.1" x2="183.7" y2="643.1" stroke="#fff" stroke-width="0.9" />
<line x1="116.6" y1="651.3" x2="183.7" y2="651.3" stroke="#f7f7f7" stroke-width="0.5" />
<line x1="116.6" y1="659.5" x2="183.7" y2="659.5" stroke="#fff" stroke-width="0.9" />
<line x1="116.6" y1="667.7" x2="183.7" y2="667.7" stroke="#f7f7f7" stroke-width="0.5" />
<line x1="116.6" y1="675.9" x2="183.7" y2="675.9" stroke="#fff" stroke-width="0.9" />
<line x1="116.6" y1="684.1" x2="183.7" y2="684.1" stroke="#f7f7f7" stroke-width="0.5" />
<line x1="116.6" y1="692.3" x2="183.7" y2="692.3" stroke="#fff" stroke-width="0.9" />
<line x1="116.6" y1="700.5" x2="183.7" y2="700.5" stroke="#f7f7f7" stroke-width="0.5" />
<line x1="116.6" y1="708.7" x2="183.7" y2="708.7" stroke="#fff" stroke-width="0.9" />
<line x1="116.6" y1="716.9" x2="183.7" y2="716.9" stroke="#f7f7f7" stroke-width="0.5" />
<line x1="116.6" y1="725.1" x2="183.7" y2="725.1" stroke="#fff" stroke-width="0.9" />
<line x1="128.5" y1="600.8" x2="128.5" y2="725.4" stroke="#fff" stroke-width="0.9" />
<line x1="128.5" y1="725.8" x2="128.5" y2="727.6" stroke="#444" stroke-width="0.8" />
<line x1="150.1" y1="600.8" x2="150.1" y2="725.4" stroke="#fff" stroke-width="0.9" />
<line x1="150.1" y1="725.8" x2="150.1" y2="727.6" stroke="#444" stroke-width="0.8" />
<line x1="171.4" y1="600.8" x2="171.4" y2="725.4" stroke="#fff" stroke-width="0.9" />
<line x1="171.4" y1="725.8" x2="171.4" y2="727.6" stroke="#444" stroke-width="0.8" />
<path d="M126.5 697.5h0M129.5 664.8h0M125.4 672.2h0M125.2 698.3h0M126.9 686.9h0M125.2 682.8h0M126.6 697.7h0M127.3 686.9h0M130.6 683.6h0M125.1 696.7h0M128.5 695.0h0M129.4 675.7h0M127.8 692.1h0M126.5 680.5h0M128.2 689.8h0M127.8 671.2h0M130.2 668.0h0M126.3 680.7h0M126.8 691.0h0M131.9 683.1h0M126.4 691.8h0M126.8 691.9h0M129.5 672.0h0M127.0 706.6h0M130.5 662.1h0M125.6 696.4h0M129.9 658.4h0M131.5 678.3h0M130.8 695.9h0M128.8 659.6h0M126.7 680.3h0M130.7 692.5h0M125.3 698.5h0M130.9 673.3h0M125.2 695.4h0M129.1 656.5h0M126.7 687.5h0M126.5 702.0h0M126.3 684.8h0M129.5 677.5h0M125.4 691.1h0M128.3 692.1h0M130.0 674.4h0M125.9 690.3h0M130.9 656.0h0M130.2 665.1h0M125.6 693.0h0M127.2 654.7h0M129.3 703.3h0M126.8 702.7h0" stroke="#7b90d8" stroke-width="2.3" stroke-linecap="round" stroke-opacity="0.85"/>
<path d="M131,652.6 C131,654.5 129.92,659.58 131,664 C132.08,668.42 137.25,673.93 137.5,679.1 C137.75,684.27 133.75,690.33 132.5,695 C131.25,699.67 130.42,705.08 130,707.1 L127,707.1 C126.58,705.08 125.75,699.67 124.5,695 C123.25,690.33 119.25,684.27 119.5,679.1 C119.75,673.93 124.92,668.42 126,664 C127.08,659.58 126,654.5 126,652.6 Z" fill="none" stroke="#262626" stroke-width="1.15"/>
<line x1="128.5" y1="652.6" x2="128.5" y2="707.1" stroke="#333" stroke-width="0.8" />
<rect x="124.3" y="674.9" width="8.4" height="9.5" fill="none" stroke="#333" stroke-width="0.8"/>
<line x1="124.3" y1="680" x2="132.7" y2="680" stroke="#333" stroke-width="1.4" />
<path d="M150.7,644.1 C150.7,644.54 150.71,645.86 150.72,646.74 C150.73,647.62 150.76,648.5 150.78,649.38 C150.8,650.25 150.81,651.13 150.83,652.01 C150.85,652.89 150.87,653.77 150.89,654.65 C150.91,655.53 150.93,656.41 150.95,657.29 C150.97,658.17 150.9,659.05 151.01,659.92 C151.11,660.8 151.38,661.68 151.58,662.56 C151.77,663.44 151.97,664.32 152.16,665.2 C152.36,666.08 152.6,666.96 152.74,667.84 C152.88,668.72 152.96,669.6 153,670.48 C153.04,671.35 153,672.23 153,673.11 C153,673.99 153,674.87 153,675.75 C153,676.63 153,677.51 153,678.39 C153,679.27 153,680.15 153,681.02 C153,681.9 153,682.78 153,683.66 C153,684.54 153,685.42 153,686.3 C153,687.18 153,688.06 153,688.94 C153,689.82 153,690.7 153,691.58 C153,692.45 153,693.33 153,694.21 C153,695.09 153,695.97 153,696.85 C153,697.73 153.12,698.61 153,699.49 C152.88,700.37 152.51,701.25 152.26,702.12 C152,703 151.72,703.88 151.46,704.76 C151.2,705.64 150.83,706.96 150.7,707.4 L149.5,707.4 C149.37,706.96 149,705.64 148.74,704.76 C148.48,703.88 148.2,703 147.94,702.12 C147.69,701.25 147.32,700.37 147.2,699.49 C147.08,698.61 147.2,697.73 147.2,696.85 C147.2,695.97 147.2,695.09 147.2,694.21 C147.2,693.33 147.2,692.45 147.2,691.58 C147.2,690.7 147.2,689.82 147.2,688.94 C147.2,688.06 147.2,687.18 147.2,686.3 C147.2,685.42 147.2,684.54 147.2,683.66 C147.2,682.78 147.2,681.9 147.2,681.02 C147.2,680.15 147.2,679.27 147.2,678.39 C147.2,677.51 147.2,676.63 147.2,675.75 C147.2,674.87 147.2,673.99 147.2,673.11 C147.2,672.23 147.16,671.35 147.2,670.48 C147.24,669.6 147.32,668.72 147.46,667.84 C147.6,666.96 147.84,666.08 148.04,665.2 C148.23,664.32 148.43,663.44 148.62,662.56 C148.82,661.68 149.09,660.8 149.19,659.92 C149.3,659.05 149.23,658.17 149.25,657.29 C149.27,656.41 149.29,655.53 149.31,654.65 C149.33,653.77 149.35,652.89 149.37,652.01 C149.39,651.13 149.4,650.25 149.42,649.38 C149.44,648.5 149.47,647.62 149.48,646.74 C149.49,645.86 149.5,644.54 149.5,644.1 Z" fill="#e86dc6" fill-opacity="0.9"/>
<path d="M152.3 689.0h0M150.1 679.3h0M152.3 683.3h0M150.2 649.0h0M147.4 695.5h0M149.6 685.2h0M147.2 678.7h0M152.6 690.3h0M149.5 644.5h0M150.2 687.9h0M150.9 672.9h0M151.8 685.2h0M152.8 697.9h0M147.5 666.2h0M152.0 685.5h0M148.3 691.7h0M148.2 670.2h0M147.3 694.4h0M151.0 696.4h0M153.5 667.3h0M153.3 685.2h0M147.1 687.8h0M148.5 701.5h0M151.9 687.6h0M148.4 691.8h0M151.2 657.3h0M151.2 684.8h0M148.7 681.9h0M149.2 648.1h0M147.4 667.0h0M152.0 687.6h0M149.6 655.4h0M148.5 694.9h0M150.8 644.7h0M147.8 681.3h0M151.1 653.2h0M147.0 680.2h0M148.3 677.2h0M149.2 694.5h0M147.9 692.5h0M146.7 697.0h0M149.8 671.8h0M147.3 689.1h0M148.2 674.5h0M147.0 672.0h0M153.2 667.0h0M148.1 679.2h0M152.8 691.2h0M147.7 677.3h0M147.1 698.8h0M147.0 673.3h0M148.0 672.8h0M147.4 686.1h0M150.5 655.5h0M149.9 676.7h0M148.2 691.0h0M151.2 675.7h0M153.0 698.4h0M150.3 655.6h0M148.1 701.2h0" stroke="#e056bd" stroke-width="2.3" stroke-linecap="round" stroke-opacity="0.45"/>
<path d="M150.9,644.1 C150.98,646.75 150.66,655.28 151.4,660 C152.14,664.72 154.04,668.27 155.32,672.4 C156.6,676.53 159.3,680.2 159.1,684.8 C158.9,689.4 155.47,696.23 154.1,700 C152.73,703.77 151.43,706.17 150.9,707.4 L149.3,707.4 C148.77,706.17 147.47,703.77 146.1,700 C144.73,696.23 141.3,689.4 141.1,684.8 C140.9,680.2 143.6,676.53 144.88,672.4 C146.16,668.27 148.06,664.72 148.8,660 C149.54,655.28 149.22,646.75 149.3,644.1 Z" fill="none" stroke="#262626" stroke-width="1.15"/>
<line x1="150.1" y1="644.1" x2="150.1" y2="707.4" stroke="#333" stroke-width="0.8" />
<rect x="145.65" y="681.9" width="8.9" height="8.5" fill="none" stroke="#333" stroke-width="0.8"/>
<line x1="145.65" y1="686.6" x2="154.55" y2="686.6" stroke="#333" stroke-width="1.4" />
<path d="M172,631.4 C172,631.95 172.01,633.62 172.02,634.73 C172.04,635.83 172.06,636.94 172.09,638.05 C172.11,639.16 172.13,640.27 172.15,641.38 C172.17,642.48 172.19,643.59 172.21,644.7 C172.23,645.81 172.23,646.92 172.27,648.02 C172.32,649.13 172.38,650.24 172.49,651.35 C172.6,652.46 172.78,653.57 172.93,654.67 C173.08,655.78 173.23,656.89 173.37,658 C173.52,659.11 173.67,660.22 173.81,661.33 C173.96,662.43 174.18,663.54 174.26,664.65 C174.34,665.76 174.29,666.87 174.3,667.98 C174.31,669.08 174.3,670.19 174.3,671.3 C174.3,672.41 174.3,673.52 174.3,674.62 C174.3,675.73 174.3,676.84 174.3,677.95 C174.3,679.06 174.3,680.17 174.3,681.27 C174.3,682.38 174.3,683.49 174.3,684.6 C174.3,685.71 174.3,686.82 174.3,687.93 C174.3,689.03 174.31,690.14 174.3,691.25 C174.29,692.36 174.31,693.47 174.23,694.58 C174.14,695.68 173.93,696.79 173.78,697.9 C173.63,699.01 173.48,700.12 173.33,701.23 C173.18,702.33 173.03,703.44 172.87,704.55 C172.72,705.66 172.56,706.77 172.42,707.88 C172.27,708.98 172.07,710.65 172,711.2 L170.8,711.2 C170.73,710.65 170.53,708.98 170.38,707.88 C170.24,706.77 170.08,705.66 169.93,704.55 C169.77,703.44 169.62,702.33 169.47,701.23 C169.32,700.12 169.17,699.01 169.02,697.9 C168.87,696.79 168.66,695.68 168.57,694.58 C168.49,693.47 168.51,692.36 168.5,691.25 C168.49,690.14 168.5,689.03 168.5,687.93 C168.5,686.82 168.5,685.71 168.5,684.6 C168.5,683.49 168.5,682.38 168.5,681.27 C168.5,680.17 168.5,679.06 168.5,677.95 C168.5,676.84 168.5,675.73 168.5,674.62 C168.5,673.52 168.5,672.41 168.5,671.3 C168.5,670.19 168.49,669.08 168.5,667.98 C168.51,666.87 168.46,665.76 168.54,664.65 C168.62,663.54 168.84,662.43 168.99,661.33 C169.13,660.22 169.28,659.11 169.43,658 C169.57,656.89 169.72,655.78 169.87,654.67 C170.02,653.57 170.2,652.46 170.31,651.35 C170.42,650.24 170.48,649.13 170.53,648.02 C170.57,646.92 170.57,645.81 170.59,644.7 C170.61,643.59 170.63,642.48 170.65,641.38 C170.67,640.27 170.69,639.16 170.71,638.05 C170.74,636.94 170.76,635.83 170.78,634.73 C170.79,633.62 170.8,631.95 170.8,631.4 Z" fill="#5cc79a" fill-opacity="0.9"/>
<path d="M171.9 642.6h0M173.8 681.0h0M174.7 667.8h0M170.6 657.1h0M170.5 684.8h0M168.8 676.2h0M172.7 650.6h0M171.4 643.3h0M170.8 635.9h0M170.7 678.1h0M174.4 663.9h0M171.0 639.7h0M171.6 700.9h0M168.6 683.5h0M174.3 678.2h0M170.2 708.2h0M171.0 651.8h0M168.3 673.2h0M171.2 690.6h0M172.5 685.5h0M170.9 694.1h0M171.1 707.8h0M169.4 692.6h0M170.2 648.6h0M172.0 665.0h0M171.3 666.3h0M174.8 682.0h0M172.9 655.4h0M174.1 679.4h0M167.9 678.4h0M169.8 674.1h0M170.8 637.0h0M169.5 686.9h0M170.6 710.2h0M170.8 673.1h0M168.2 669.6h0M170.6 638.1h0M169.7 681.2h0M168.9 676.1h0M173.0 686.7h0M172.0 695.4h0M171.8 649.9h0M169.2 676.5h0M172.4 677.9h0M171.2 650.6h0M168.0 673.9h0M169.9 689.2h0M172.2 682.5h0M170.5 703.4h0M168.9 684.3h0" stroke="#3fc08c" stroke-width="2.3" stroke-linecap="round" stroke-opacity="0.45"/>
<path d="M172.2,631.4 C172.28,634.5 172.16,644.48 172.7,650 C173.24,655.52 174.51,659.7 175.46,664.55 C176.41,669.4 178.58,673.19 178.4,679.1 C178.22,685.01 175.43,694.65 174.4,700 C173.37,705.35 172.57,709.33 172.2,711.2 L170.6,711.2 C170.23,709.33 169.43,705.35 168.4,700 C167.37,694.65 164.58,685.01 164.4,679.1 C164.22,673.19 166.39,669.4 167.34,664.55 C168.29,659.7 169.56,655.52 170.1,650 C170.64,644.48 170.52,634.5 170.6,631.4 Z" fill="none" stroke="#262626" stroke-width="1.15"/>
<line x1="171.4" y1="631.4" x2="171.4" y2="711.2" stroke="#333" stroke-width="0.8" />
<rect x="166.45" y="673" width="9.9" height="15.2" fill="none" stroke="#333" stroke-width="0.8"/>
<line x1="166.45" y1="680" x2="176.35" y2="680" stroke="#333" stroke-width="1.4" />
<path d="M128.5,629.8 V628 H150.1 V629.8" fill="none" stroke="#555" stroke-width="0.75"/>
<text transform="translate(139.3,627.1) scale(1,1.1)" font-size="7.1" fill="#4d4d4d" text-anchor="middle" >0.0095</text>
<path d="M128.5,620 V618.2 H171.4 V620" fill="none" stroke="#555" stroke-width="0.75"/>
<text transform="translate(149.95,616.7) scale(1,1.1)" font-size="7.1" fill="#4d4d4d" text-anchor="middle" >0.93</text>
<path d="M150.1,610 V608.2 H171.4 V610" fill="none" stroke="#555" stroke-width="0.75"/>
<text transform="translate(160.75,607.2) scale(1,1.1)" font-size="7.1" fill="#4d4d4d" text-anchor="middle" >2.2e−06</text>
<text transform="translate(119.2,610) scale(1,1.12)" font-size="7.75" fill="#111" font-weight="bold" >JAK2</text>
<text x="128.5" y="734.5" font-size="7" fill="#4a4a4a" text-anchor="middle" >ARG1</text>
<text x="150.1" y="734.5" font-size="7" fill="#4a4a4a" text-anchor="middle" >ARG2</text>
<text x="171.4" y="734.5" font-size="7" fill="#4a4a4a" text-anchor="middle" >ARG3</text>
<rect x="195.6" y="600.8" width="67.1" height="124.6" fill="#ebebeb" />
<line x1="195.6" y1="610.3" x2="262.7" y2="610.3" stroke="#fff" stroke-width="0.9" />
<line x1="195.6" y1="618.5" x2="262.7" y2="618.5" stroke="#f7f7f7" stroke-width="0.5" />
<line x1="195.6" y1="626.7" x2="262.7" y2="626.7" stroke="#fff" stroke-width="0.9" />
<line x1="195.6" y1="634.9" x2="262.7" y2="634.9" stroke="#f7f7f7" stroke-width="0.5" />
<line x1="195.6" y1="643.1" x2="262.7" y2="643.1" stroke="#fff" stroke-width="0.9" />
<line x1="195.6" y1="651.3" x2="262.7" y2="651.3" stroke="#f7f7f7" stroke-width="0.5" />
<line x1="195.6" y1="659.5" x2="262.7" y2="659.5" stroke="#fff" stroke-width="0.9" />
<line x1="195.6" y1="667.7" x2="262.7" y2="667.7" stroke="#f7f7f7" stroke-width="0.5" />
<line x1="195.6" y1="675.9" x2="262.7" y2="675.9" stroke="#fff" stroke-width="0.9" />
<line x1="195.6" y1="684.1" x2="262.7" y2="684.1" stroke="#f7f7f7" stroke-width="0.5" />
<line x1="195.6" y1="692.3" x2="262.7" y2="692.3" stroke="#fff" stroke-width="0.9" />
<line x1="195.6" y1="700.5" x2="262.7" y2="700.5" stroke="#f7f7f7" stroke-width="0.5" />
<line x1="195.6" y1="708.7" x2="262.7" y2="708.7" stroke="#fff" stroke-width="0.9" />
<line x1="195.6" y1="716.9" x2="262.7" y2="716.9" stroke="#f7f7f7" stroke-width="0.5" />
<line x1="195.6" y1="725.1" x2="262.7" y2="725.1" stroke="#fff" stroke-width="0.9" />
<line x1="207.9" y1="600.8" x2="207.9" y2="725.4" stroke="#fff" stroke-width="0.9" />
<line x1="207.9" y1="725.8" x2="207.9" y2="727.6" stroke="#444" stroke-width="0.8" />
<line x1="229.2" y1="600.8" x2="229.2" y2="725.4" stroke="#fff" stroke-width="0.9" />
<line x1="229.2" y1="725.8" x2="229.2" y2="727.6" stroke="#444" stroke-width="0.8" />
<line x1="250.4" y1="600.8" x2="250.4" y2="725.4" stroke="#fff" stroke-width="0.9" />
<line x1="250.4" y1="725.8" x2="250.4" y2="727.6" stroke="#444" stroke-width="0.8" />
<path d="M209.5 656.1h0M207.9 642.6h0M205.7 690.9h0M209.5 669.1h0M205.1 669.5h0M209.1 666.7h0M207.8 650.7h0M207.0 680.8h0M204.6 676.1h0M204.8 675.1h0M207.1 663.9h0M205.1 684.2h0M208.0 641.4h0M205.6 688.2h0M206.7 684.0h0M209.0 644.7h0M208.4 644.3h0M207.6 674.1h0M205.2 681.0h0M206.1 657.9h0M209.7 656.8h0M207.3 658.0h0M209.8 672.3h0M211.2 674.3h0M206.9 687.3h0M207.0 660.1h0M208.8 643.9h0M210.7 662.3h0M210.9 683.4h0M210.2 681.7h0M209.0 682.7h0M206.7 670.7h0M206.8 690.4h0M207.1 652.4h0M206.2 651.0h0M207.6 682.5h0M208.5 695.6h0M210.6 691.9h0M210.6 682.1h0M208.5 672.2h0M207.8 687.9h0M206.9 677.9h0M210.9 679.8h0M207.4 663.6h0M209.7 659.0h0M210.7 686.2h0M206.8 694.1h0M205.3 667.8h0M205.6 671.5h0M207.9 649.8h0" stroke="#7b90d8" stroke-width="2.3" stroke-linecap="round" stroke-opacity="0.85"/>
<path d="M208.7,637.1 C208.78,639.08 208.51,645.22 209.2,649 C209.89,652.78 211.63,656.2 212.83,659.8 C214.03,663.4 216.56,665.57 216.4,670.6 C216.25,675.63 213.07,685.37 211.9,690 C210.73,694.63 209.82,697 209.4,698.4 L206.4,698.4 C205.98,697 205.07,694.63 203.9,690 C202.73,685.37 199.56,675.63 199.4,670.6 C199.25,665.57 201.77,663.4 202.97,659.8 C204.17,656.2 205.91,652.78 206.6,649 C207.29,645.22 207.02,639.08 207.1,637.1 Z" fill="none" stroke="#262626" stroke-width="1.15"/>
<line x1="207.9" y1="637.1" x2="207.9" y2="698.4" stroke="#333" stroke-width="0.8" />
<rect x="203.15" y="664.9" width="9.5" height="15.1" fill="none" stroke="#333" stroke-width="0.8"/>
<line x1="203.15" y1="673.4" x2="212.65" y2="673.4" stroke="#333" stroke-width="1.4" />
<path d="M229.8,633.7 C229.8,634.23 229.8,635.8 229.81,636.85 C229.83,637.9 229.85,638.95 229.87,640 C229.89,641.05 229.9,642.1 229.92,643.15 C229.94,644.2 229.96,645.25 229.98,646.3 C230,647.35 230.01,648.4 230.03,649.45 C230.05,650.5 230.02,651.55 230.09,652.6 C230.15,653.65 230.28,654.7 230.44,655.75 C230.6,656.8 230.83,657.85 231.03,658.9 C231.23,659.95 231.45,661 231.63,662.05 C231.8,663.1 232.02,664.15 232.1,665.2 C232.18,666.25 232.1,667.3 232.1,668.35 C232.1,669.4 232.1,670.45 232.1,671.5 C232.1,672.55 232.1,673.6 232.1,674.65 C232.1,675.7 232.1,676.75 232.1,677.8 C232.1,678.85 232.1,679.9 232.1,680.95 C232.1,682 232.1,683.05 232.1,684.1 C232.1,685.15 232.1,686.2 232.1,687.25 C232.1,688.3 232.1,689.35 232.1,690.4 C232.1,691.45 232.1,692.5 232.1,693.55 C232.1,694.6 232.17,695.65 232.1,696.7 C232.03,697.75 231.85,698.8 231.68,699.85 C231.5,700.9 231.25,701.95 231.04,703 C230.83,704.05 230.61,705.1 230.4,706.15 C230.19,707.2 229.9,708.77 229.8,709.3 L228.6,709.3 C228.5,708.77 228.21,707.2 228,706.15 C227.79,705.1 227.57,704.05 227.36,703 C227.15,701.95 226.9,700.9 226.72,699.85 C226.55,698.8 226.37,697.75 226.3,696.7 C226.23,695.65 226.3,694.6 226.3,693.55 C226.3,692.5 226.3,691.45 226.3,690.4 C226.3,689.35 226.3,688.3 226.3,687.25 C226.3,686.2 226.3,685.15 226.3,684.1 C226.3,683.05 226.3,682 226.3,680.95 C226.3,679.9 226.3,678.85 226.3,677.8 C226.3,676.75 226.3,675.7 226.3,674.65 C226.3,673.6 226.3,672.55 226.3,671.5 C226.3,670.45 226.3,669.4 226.3,668.35 C226.3,667.3 226.22,666.25 226.3,665.2 C226.38,664.15 226.6,663.1 226.77,662.05 C226.95,661 227.17,659.95 227.37,658.9 C227.57,657.85 227.8,656.8 227.96,655.75 C228.12,654.7 228.25,653.65 228.31,652.6 C228.38,651.55 228.35,650.5 228.37,649.45 C228.39,648.4 228.4,647.35 228.42,646.3 C228.44,645.25 228.46,644.2 228.48,643.15 C228.5,642.1 228.51,641.05 228.53,640 C228.55,638.95 228.57,637.9 228.59,636.85 C228.6,635.8 228.6,634.23 228.6,633.7 Z" fill="#e86dc6" fill-opacity="0.9"/>
<path d="M229.9 694.4h0M229.0 653.3h0M226.3 672.5h0M227.3 687.9h0M229.7 702.1h0M230.7 688.2h0M231.6 687.4h0M231.4 703.6h0M226.1 667.2h0M226.6 693.9h0M232.8 668.5h0M228.3 652.2h0M228.1 656.6h0M228.8 640.1h0M229.1 671.8h0M229.9 669.3h0M228.3 644.6h0M228.7 664.2h0M231.8 663.3h0M231.7 677.0h0M230.1 688.8h0M228.9 703.3h0M232.4 683.8h0M228.0 678.3h0M226.4 664.1h0M228.2 670.0h0M229.4 701.4h0M228.4 669.8h0M227.5 679.8h0M228.3 661.7h0M230.6 695.8h0M228.5 635.3h0M227.2 694.6h0M232.2 689.1h0M231.3 703.4h0M231.0 666.5h0M226.3 698.6h0M225.9 678.8h0M228.3 637.9h0M226.4 687.2h0M229.4 645.9h0M227.4 666.5h0M228.4 646.9h0M228.8 685.2h0M228.9 693.5h0M231.6 659.2h0M226.9 676.1h0M225.6 693.1h0M230.4 694.0h0M228.5 676.8h0M228.1 657.6h0M232.2 670.6h0M231.1 690.9h0M229.8 677.0h0M229.2 682.7h0M230.3 688.3h0M231.1 676.9h0M231.0 669.4h0M226.5 674.6h0M227.4 681.8h0" stroke="#e056bd" stroke-width="2.3" stroke-linecap="round" stroke-opacity="0.45"/>
<path d="M230,633.7 C230.08,637.08 229.81,648.37 230.5,654 C231.19,659.63 232.93,663 234.13,667.5 C235.33,672 237.94,675.58 237.7,681 C237.46,686.42 233.98,695.28 232.7,700 C231.42,704.72 230.45,707.75 230,709.3 L228.4,709.3 C227.95,707.75 226.98,704.72 225.7,700 C224.42,695.28 220.94,686.42 220.7,681 C220.46,675.58 223.07,672 224.27,667.5 C225.47,663 227.21,659.63 227.9,654 C228.59,648.37 228.32,637.08 228.4,633.7 Z" fill="none" stroke="#262626" stroke-width="1.15"/>
<line x1="229.2" y1="633.7" x2="229.2" y2="709.3" stroke="#333" stroke-width="0.8" />
<rect x="224.75" y="673.4" width="8.9" height="15.1" fill="none" stroke="#333" stroke-width="0.8"/>
<line x1="224.75" y1="681.9" x2="233.65" y2="681.9" stroke="#333" stroke-width="1.4" />
<path d="M251,632.8 C251,633.36 251,635.06 251.01,636.19 C251.02,637.32 251.05,638.45 251.07,639.57 C251.08,640.7 251.1,641.83 251.12,642.96 C251.14,644.09 251.16,645.22 251.17,646.35 C251.19,647.48 251.21,648.61 251.23,649.74 C251.24,650.87 251.22,652 251.28,653.12 C251.34,654.25 251.44,655.38 251.61,656.51 C251.77,657.64 252.05,658.77 252.27,659.9 C252.5,661.03 252.77,662.16 252.94,663.29 C253.11,664.42 253.24,665.55 253.3,666.67 C253.36,667.8 253.3,668.93 253.3,670.06 C253.3,671.19 253.3,672.32 253.3,673.45 C253.3,674.58 253.3,675.71 253.3,676.84 C253.3,677.97 253.3,679.1 253.3,680.23 C253.3,681.35 253.3,682.48 253.3,683.61 C253.3,684.74 253.3,685.87 253.3,687 C253.3,688.13 253.3,689.26 253.3,690.39 C253.3,691.52 253.3,692.65 253.3,693.77 C253.3,694.9 253.33,696.03 253.3,697.16 C253.27,698.29 253.27,699.42 253.14,700.55 C253.02,701.68 252.73,702.81 252.55,703.94 C252.36,705.07 252.19,706.2 252.02,707.33 C251.84,708.45 251.66,709.58 251.49,710.71 C251.32,711.84 251.08,713.54 251,714.1 L249.8,714.1 C249.72,713.54 249.48,711.84 249.31,710.71 C249.14,709.58 248.96,708.45 248.78,707.33 C248.61,706.2 248.44,705.07 248.25,703.94 C248.07,702.81 247.78,701.68 247.66,700.55 C247.53,699.42 247.53,698.29 247.5,697.16 C247.47,696.03 247.5,694.9 247.5,693.77 C247.5,692.65 247.5,691.52 247.5,690.39 C247.5,689.26 247.5,688.13 247.5,687 C247.5,685.87 247.5,684.74 247.5,683.61 C247.5,682.48 247.5,681.35 247.5,680.23 C247.5,679.1 247.5,677.97 247.5,676.84 C247.5,675.71 247.5,674.58 247.5,673.45 C247.5,672.32 247.5,671.19 247.5,670.06 C247.5,668.93 247.44,667.8 247.5,666.67 C247.56,665.55 247.69,664.42 247.86,663.29 C248.03,662.16 248.3,661.03 248.53,659.9 C248.75,658.77 249.03,657.64 249.19,656.51 C249.36,655.38 249.46,654.25 249.52,653.12 C249.58,652 249.56,650.87 249.57,649.74 C249.59,648.61 249.61,647.48 249.63,646.35 C249.64,645.22 249.66,644.09 249.68,642.96 C249.7,641.83 249.72,640.7 249.73,639.57 C249.75,638.45 249.78,637.32 249.79,636.19 C249.8,635.06 249.8,633.36 249.8,632.8 Z" fill="#5cc79a" fill-opacity="0.9"/>
<path d="M250.2 699.1h0M250.2 705.4h0M252.0 670.9h0M251.1 647.9h0M250.4 642.6h0M252.8 660.1h0M252.4 682.6h0M253.0 684.1h0M253.4 668.9h0M250.1 693.3h0M251.2 707.9h0M248.0 677.8h0M249.4 672.9h0M251.0 677.8h0M250.6 712.6h0M247.0 677.3h0M249.9 649.4h0M253.6 684.0h0M253.6 688.5h0M253.0 684.3h0M251.2 687.3h0M250.5 638.0h0M253.5 687.2h0M247.2 690.8h0M248.3 699.8h0M253.8 674.7h0M251.0 712.6h0M250.0 654.8h0M254.0 686.6h0M252.0 685.9h0M253.3 677.6h0M249.5 653.5h0M250.4 697.9h0M249.8 679.5h0M247.2 677.0h0M252.2 667.2h0M250.3 652.4h0M252.3 664.3h0M250.4 700.7h0M249.5 647.5h0M251.2 659.8h0M250.5 667.2h0M249.1 708.9h0M252.1 657.6h0M248.0 690.2h0M251.0 636.5h0M251.3 685.5h0M251.7 660.1h0M248.0 691.1h0M251.6 687.2h0" stroke="#3fc08c" stroke-width="2.3" stroke-linecap="round" stroke-opacity="0.45"/>
<path d="M251.2,632.8 C251.28,636.5 250.96,648.98 251.7,655 C252.44,661.02 254.34,664.3 255.62,668.95 C256.9,673.6 259.69,677.39 259.4,682.9 C259.11,688.41 255.27,696.8 253.9,702 C252.53,707.2 251.65,712.08 251.2,714.1 L249.6,714.1 C249.15,712.08 248.27,707.2 246.9,702 C245.53,696.8 241.69,688.41 241.4,682.9 C241.11,677.39 243.9,673.6 245.18,668.95 C246.46,664.3 248.36,661.02 249.1,655 C249.84,648.98 249.52,636.5 249.6,632.8 Z" fill="none" stroke="#262626" stroke-width="1.15"/>
<line x1="250.4" y1="632.8" x2="250.4" y2="714.1" stroke="#333" stroke-width="0.8" />
<rect x="245.7" y="676.2" width="9.4" height="16.1" fill="none" stroke="#333" stroke-width="0.8"/>
<line x1="245.7" y1="684.4" x2="255.1" y2="684.4" stroke="#333" stroke-width="1.4" />
<path d="M207.9,631.7 V629.9 H229.2 V631.7" fill="none" stroke="#555" stroke-width="0.75"/>
<text transform="translate(218.55,628) scale(1,1.1)" font-size="7.8" fill="#4d4d4d" text-anchor="middle" >0.00052</text>
<path d="M207.9,621.3 V619.5 H250.4 V621.3" fill="none" stroke="#555" stroke-width="0.75"/>
<text transform="translate(229.15,618.5) scale(1,1.1)" font-size="7.8" fill="#4d4d4d" text-anchor="middle" >3.7e−05</text>
<path d="M229.2,611.3 V609.5 H250.4 V611.3" fill="none" stroke="#555" stroke-width="0.75"/>
<text transform="translate(239.8,608.5) scale(1,1.1)" font-size="7.8" fill="#4d4d4d" text-anchor="middle" >0.021</text>
<text transform="translate(198.2,610) scale(1,1.12)" font-size="7.75" fill="#111" font-weight="bold" >JAK3</text>
<text x="207.9" y="734.5" font-size="7.7" fill="#4a4a4a" text-anchor="middle" >ARG1</text>
<text x="229.2" y="734.5" font-size="7.7" fill="#4a4a4a" text-anchor="middle" >ARG2</text>
<text x="250.4" y="734.5" font-size="7.7" fill="#4a4a4a" text-anchor="middle" >ARG3</text>
<rect x="304.2" y="600.8" width="67.5" height="124.6" fill="#ebebeb" />
<line x1="304.2" y1="610.3" x2="371.7" y2="610.3" stroke="#fff" stroke-width="0.9" />
<line x1="304.2" y1="618.5" x2="371.7" y2="618.5" stroke="#f7f7f7" stroke-width="0.5" />
<line x1="304.2" y1="626.7" x2="371.7" y2="626.7" stroke="#fff" stroke-width="0.9" />
<line x1="304.2" y1="634.9" x2="371.7" y2="634.9" stroke="#f7f7f7" stroke-width="0.5" />
<line x1="304.2" y1="643.1" x2="371.7" y2="643.1" stroke="#fff" stroke-width="0.9" />
<line x1="304.2" y1="651.3" x2="371.7" y2="651.3" stroke="#f7f7f7" stroke-width="0.5" />
<line x1="304.2" y1="659.5" x2="371.7" y2="659.5" stroke="#fff" stroke-width="0.9" />
<line x1="304.2" y1="667.7" x2="371.7" y2="667.7" stroke="#f7f7f7" stroke-width="0.5" />
<line x1="304.2" y1="675.9" x2="371.7" y2="675.9" stroke="#fff" stroke-width="0.9" />
<line x1="304.2" y1="684.1" x2="371.7" y2="684.1" stroke="#f7f7f7" stroke-width="0.5" />
<line x1="304.2" y1="692.3" x2="371.7" y2="692.3" stroke="#fff" stroke-width="0.9" />
<line x1="304.2" y1="700.5" x2="371.7" y2="700.5" stroke="#f7f7f7" stroke-width="0.5" />
<line x1="304.2" y1="708.7" x2="371.7" y2="708.7" stroke="#fff" stroke-width="0.9" />
<line x1="304.2" y1="716.9" x2="371.7" y2="716.9" stroke="#f7f7f7" stroke-width="0.5" />
<line x1="304.2" y1="725.1" x2="371.7" y2="725.1" stroke="#fff" stroke-width="0.9" />
<line x1="316.5" y1="600.8" x2="316.5" y2="725.4" stroke="#fff" stroke-width="0.9" />
<line x1="316.5" y1="725.8" x2="316.5" y2="727.6" stroke="#444" stroke-width="0.8" />
<line x1="337.6" y1="600.8" x2="337.6" y2="725.4" stroke="#fff" stroke-width="0.9" />
<line x1="337.6" y1="725.8" x2="337.6" y2="727.6" stroke="#444" stroke-width="0.8" />
<line x1="358.4" y1="600.8" x2="358.4" y2="725.4" stroke="#fff" stroke-width="0.9" />
<line x1="358.4" y1="725.8" x2="358.4" y2="727.6" stroke="#444" stroke-width="0.8" />
<path d="M316.2 643.7h0M317.8 654.2h0M315.3 697.3h0M315.8 679.8h0M314.0 680.7h0M317.7 669.9h0M315.0 670.3h0M316.4 669.1h0M319.9 681.2h0M315.2 686.8h0M317.9 682.6h0M314.9 663.3h0M313.6 696.4h0M314.0 690.3h0M317.5 649.7h0M316.0 643.7h0M317.5 675.3h0M316.4 654.1h0M316.6 661.8h0M314.9 675.3h0M315.9 670.7h0M316.7 679.4h0M316.6 681.6h0M315.0 671.1h0M318.8 665.2h0M314.4 669.6h0M315.1 668.0h0M314.6 683.2h0M317.8 685.9h0M314.9 677.9h0M314.4 646.8h0M318.7 679.8h0M313.7 655.9h0M316.4 686.5h0M316.4 663.5h0M319.0 682.0h0M315.9 690.4h0M314.9 653.4h0M314.3 691.7h0M313.8 685.3h0M315.8 692.3h0M313.0 675.7h0M313.0 664.6h0M315.3 663.6h0M314.3 680.3h0M314.3 676.6h0M317.0 656.1h0M315.2 660.9h0M316.6 678.4h0M315.4 650.1h0" stroke="#7b90d8" stroke-width="2.3" stroke-linecap="round" stroke-opacity="0.85"/>
<path d="M318,643.5 C318.42,645.42 319.33,649.38 320.5,655 C321.67,660.62 324.83,671.37 325,677.2 C325.17,683.03 322.5,686.6 321.5,690 C320.5,693.4 319.42,696.33 319,697.6 L314,697.6 C313.58,696.33 312.5,693.4 311.5,690 C310.5,686.6 307.83,683.03 308,677.2 C308.17,671.37 311.33,660.62 312.5,655 C313.67,649.38 314.58,645.42 315,643.5 Z" fill="none" stroke="#262626" stroke-width="1.15"/>
<line x1="316.5" y1="643.5" x2="316.5" y2="697.6" stroke="#333" stroke-width="0.8" />
<rect x="312.05" y="668.7" width="8.9" height="14.2" fill="none" stroke="#333" stroke-width="0.8"/>
<line x1="312.05" y1="676.2" x2="320.95" y2="676.2" stroke="#333" stroke-width="1.4" />
<path d="M338.65,639.4 C338.76,639.86 339.08,641.25 339.29,642.17 C339.51,643.1 339.73,644.02 339.93,644.95 C340.13,645.88 340.41,646.8 340.5,647.73 C340.59,648.65 340.5,649.58 340.5,650.5 C340.5,651.42 340.5,652.35 340.5,653.27 C340.5,654.2 340.5,655.12 340.5,656.05 C340.5,656.97 340.5,657.9 340.5,658.82 C340.5,659.75 340.5,660.67 340.5,661.6 C340.5,662.53 340.5,663.45 340.5,664.38 C340.5,665.3 340.5,666.23 340.5,667.15 C340.5,668.07 340.5,669 340.5,669.92 C340.5,670.85 340.5,671.78 340.5,672.7 C340.5,673.62 340.5,674.55 340.5,675.48 C340.5,676.4 340.5,677.33 340.5,678.25 C340.5,679.17 340.5,680.1 340.5,681.02 C340.5,681.95 340.5,682.88 340.5,683.8 C340.5,684.72 340.5,685.65 340.5,686.58 C340.5,687.5 340.56,688.43 340.5,689.35 C340.43,690.27 340.23,691.2 340.1,692.12 C339.97,693.05 339.84,693.98 339.71,694.9 C339.58,695.82 339.46,696.75 339.33,697.67 C339.2,698.6 339.07,699.53 338.94,700.45 C338.81,701.38 338.67,702.3 338.55,703.23 C338.43,704.15 338.26,705.54 338.2,706 L337,706 C336.94,705.54 336.77,704.15 336.65,703.23 C336.53,702.3 336.39,701.38 336.26,700.45 C336.13,699.53 336,698.6 335.87,697.67 C335.75,696.75 335.62,695.82 335.49,694.9 C335.36,693.98 335.23,693.05 335.1,692.12 C334.97,691.2 334.77,690.27 334.7,689.35 C334.64,688.43 334.7,687.5 334.7,686.58 C334.7,685.65 334.7,684.72 334.7,683.8 C334.7,682.88 334.7,681.95 334.7,681.02 C334.7,680.1 334.7,679.17 334.7,678.25 C334.7,677.33 334.7,676.4 334.7,675.48 C334.7,674.55 334.7,673.62 334.7,672.7 C334.7,671.78 334.7,670.85 334.7,669.92 C334.7,669 334.7,668.07 334.7,667.15 C334.7,666.23 334.7,665.3 334.7,664.38 C334.7,663.45 334.7,662.53 334.7,661.6 C334.7,660.67 334.7,659.75 334.7,658.82 C334.7,657.9 334.7,656.97 334.7,656.05 C334.7,655.12 334.7,654.2 334.7,653.27 C334.7,652.35 334.7,651.42 334.7,650.5 C334.7,649.58 334.61,648.65 334.7,647.73 C334.79,646.8 335.07,645.88 335.27,644.95 C335.47,644.02 335.69,643.1 335.91,642.17 C336.12,641.25 336.44,639.86 336.55,639.4 Z" fill="#e86dc6" fill-opacity="0.9"/>
<path d="M340.5 667.1h0M336.7 655.6h0M339.4 693.4h0M334.4 671.3h0M338.5 664.7h0M339.8 675.9h0M339.4 646.4h0M334.7 668.7h0M334.0 670.2h0M336.7 645.6h0M336.1 668.2h0M341.1 686.2h0M337.6 650.7h0M335.5 664.2h0M336.8 697.8h0M336.0 680.3h0M338.7 664.0h0M336.4 674.8h0M337.1 695.7h0M338.8 666.2h0M336.9 683.7h0M336.7 669.9h0M335.6 688.3h0M337.4 684.4h0M338.6 652.6h0M338.6 685.6h0M335.2 648.5h0M338.0 673.3h0M338.4 648.3h0M338.9 648.4h0M339.6 675.8h0M337.2 677.5h0M337.2 689.6h0M338.4 682.9h0M340.4 674.1h0M339.0 668.7h0M335.5 674.9h0M335.6 699.2h0M334.5 661.8h0M335.1 681.0h0M340.6 658.9h0M340.6 692.4h0M340.7 654.6h0M340.2 676.2h0M337.3 670.3h0M340.0 658.1h0M336.9 655.9h0M340.9 654.3h0M337.6 663.9h0M336.5 663.2h0M335.1 666.4h0M335.4 673.2h0M339.8 687.5h0M338.6 645.7h0M338.2 671.5h0M334.0 653.9h0M339.9 692.6h0M338.5 676.2h0M338.7 693.7h0M336.5 702.9h0" stroke="#e056bd" stroke-width="2.3" stroke-linecap="round" stroke-opacity="0.45"/>
<path d="M339.1,639.4 C339.68,641.17 341.43,645.12 342.6,650 C343.77,654.88 346.27,662.03 346.1,668.7 C345.93,675.37 342.88,683.78 341.6,690 C340.32,696.22 338.93,703.33 338.4,706 L336.8,706 C336.27,703.33 334.88,696.22 333.6,690 C332.32,683.78 329.27,675.37 329.1,668.7 C328.93,662.03 331.43,654.88 332.6,650 C333.77,645.12 335.52,641.17 336.1,639.4 Z" fill="none" stroke="#262626" stroke-width="1.15"/>
<line x1="337.6" y1="639.4" x2="337.6" y2="706" stroke="#333" stroke-width="0.8" />
<rect x="333.15" y="661.7" width="8.9" height="19.3" fill="none" stroke="#333" stroke-width="0.8"/>
<line x1="333.15" y1="671.1" x2="342.05" y2="671.1" stroke="#333" stroke-width="1.4" />
<path d="M359,632.2 C359.01,632.78 359.03,634.5 359.05,635.65 C359.08,636.8 359.12,637.95 359.15,639.1 C359.18,640.25 359.18,641.4 359.24,642.55 C359.3,643.7 359.35,644.85 359.52,646 C359.68,647.15 359.99,648.3 360.23,649.45 C360.47,650.6 360.77,651.75 360.95,652.9 C361.13,654.05 361.24,655.2 361.3,656.35 C361.36,657.5 361.3,658.65 361.3,659.8 C361.3,660.95 361.3,662.1 361.3,663.25 C361.3,664.4 361.3,665.55 361.3,666.7 C361.3,667.85 361.3,669 361.3,670.15 C361.3,671.3 361.3,672.45 361.3,673.6 C361.3,674.75 361.3,675.9 361.3,677.05 C361.3,678.2 361.3,679.35 361.3,680.5 C361.3,681.65 361.3,682.8 361.3,683.95 C361.3,685.1 361.3,686.25 361.3,687.4 C361.3,688.55 361.3,689.7 361.3,690.85 C361.3,692 361.37,693.15 361.3,694.3 C361.23,695.45 361.02,696.6 360.89,697.75 C360.76,698.9 360.63,700.05 360.51,701.2 C360.38,702.35 360.25,703.5 360.12,704.65 C359.99,705.8 359.86,706.95 359.73,708.1 C359.6,709.25 359.47,710.4 359.35,711.55 C359.22,712.7 359.06,714.42 359,715 L357.8,715 C357.74,714.42 357.58,712.7 357.45,711.55 C357.33,710.4 357.2,709.25 357.07,708.1 C356.94,706.95 356.81,705.8 356.68,704.65 C356.55,703.5 356.42,702.35 356.29,701.2 C356.17,700.05 356.04,698.9 355.91,697.75 C355.78,696.6 355.57,695.45 355.5,694.3 C355.43,693.15 355.5,692 355.5,690.85 C355.5,689.7 355.5,688.55 355.5,687.4 C355.5,686.25 355.5,685.1 355.5,683.95 C355.5,682.8 355.5,681.65 355.5,680.5 C355.5,679.35 355.5,678.2 355.5,677.05 C355.5,675.9 355.5,674.75 355.5,673.6 C355.5,672.45 355.5,671.3 355.5,670.15 C355.5,669 355.5,667.85 355.5,666.7 C355.5,665.55 355.5,664.4 355.5,663.25 C355.5,662.1 355.5,660.95 355.5,659.8 C355.5,658.65 355.44,657.5 355.5,656.35 C355.56,655.2 355.67,654.05 355.85,652.9 C356.03,651.75 356.33,650.6 356.57,649.45 C356.81,648.3 357.12,647.15 357.28,646 C357.45,644.85 357.5,643.7 357.56,642.55 C357.62,641.4 357.62,640.25 357.65,639.1 C357.68,637.95 357.72,636.8 357.75,635.65 C357.77,634.5 357.79,632.78 357.8,632.2 Z" fill="#5cc79a" fill-opacity="0.9"/>
<path d="M355.9 666.3h0M356.1 664.3h0M358.2 680.0h0M358.4 676.7h0M360.9 701.5h0M359.7 648.7h0M356.4 679.4h0M360.0 696.9h0M358.3 685.9h0M358.8 689.4h0M360.8 692.9h0M357.1 704.3h0M357.5 639.2h0M357.0 672.7h0M360.5 670.4h0M356.4 692.0h0M359.8 649.5h0M357.6 666.3h0M361.6 658.1h0M357.9 674.6h0M357.7 671.6h0M358.1 686.9h0M358.8 679.8h0M357.7 703.8h0M358.2 684.5h0M355.0 686.6h0M359.1 668.8h0M359.6 660.1h0M360.6 657.5h0M357.6 662.7h0M355.7 673.7h0M361.8 675.5h0M356.4 663.9h0M356.8 664.8h0M358.3 641.3h0M358.1 704.6h0M355.9 695.4h0M361.6 675.2h0M358.7 706.5h0M358.0 666.7h0M358.7 708.0h0M361.5 691.0h0M357.5 691.5h0M357.9 633.5h0M357.8 638.9h0M360.7 675.1h0M356.5 666.7h0M359.8 701.7h0M361.0 666.0h0M358.8 640.5h0" stroke="#3fc08c" stroke-width="2.3" stroke-linecap="round" stroke-opacity="0.45"/>
<path d="M359.2,632.2 C359.28,634.33 358.91,640.5 359.7,645 C360.49,649.5 362.54,654.47 363.91,659.2 C365.28,663.93 368.15,667.43 367.9,673.4 C367.65,679.37 363.85,688.07 362.4,695 C360.95,701.93 359.73,711.67 359.2,715 L357.6,715 C357.07,711.67 355.85,701.93 354.4,695 C352.95,688.07 349.15,679.37 348.9,673.4 C348.65,667.43 351.52,663.93 352.89,659.2 C354.26,654.47 356.31,649.5 357.1,645 C357.88,640.5 357.52,634.33 357.6,632.2 Z" fill="none" stroke="#262626" stroke-width="1.15"/>
<line x1="358.4" y1="632.2" x2="358.4" y2="715" stroke="#333" stroke-width="0.8" />
<rect x="353.65" y="665.5" width="9.5" height="16.4" fill="none" stroke="#333" stroke-width="0.8"/>
<line x1="353.65" y1="673.8" x2="363.15" y2="673.8" stroke="#333" stroke-width="1.4" />
<path d="M316.5,631.3 V629.5 H337.6 V631.3" fill="none" stroke="#555" stroke-width="0.75"/>
<text transform="translate(327.05,627.1) scale(1,1.1)" font-size="7.8" fill="#4d4d4d" text-anchor="middle" >0.074</text>
<path d="M316.5,621.3 V619.5 H358.4 V621.3" fill="none" stroke="#555" stroke-width="0.75"/>
<text transform="translate(337.45,617.2) scale(1,1.1)" font-size="7.8" fill="#4d4d4d" text-anchor="middle" >0.29</text>
<path d="M337.6,610.9 V609.1 H358.4 V610.9" fill="none" stroke="#555" stroke-width="0.75"/>
<text transform="translate(348,607.8) scale(1,1.1)" font-size="7.8" fill="#4d4d4d" text-anchor="middle" >0.12</text>
<text transform="translate(306.8,610) scale(1,1.12)" font-size="7.75" fill="#111" font-weight="bold" >EGFR</text>
<text x="316.5" y="734.5" font-size="7.7" fill="#4a4a4a" text-anchor="middle" >ARG1</text>
<text x="337.6" y="734.5" font-size="7.7" fill="#4a4a4a" text-anchor="middle" >ARG2</text>
<text x="358.4" y="734.5" font-size="7.7" fill="#4a4a4a" text-anchor="middle" >ARG3</text>
<rect x="412.5" y="600.8" width="67.2" height="124.6" fill="#ebebeb" />
<line x1="412.5" y1="610.3" x2="479.7" y2="610.3" stroke="#fff" stroke-width="0.9" />
<line x1="412.5" y1="618.5" x2="479.7" y2="618.5" stroke="#f7f7f7" stroke-width="0.5" />
<line x1="412.5" y1="626.7" x2="479.7" y2="626.7" stroke="#fff" stroke-width="0.9" />
<line x1="412.5" y1="634.9" x2="479.7" y2="634.9" stroke="#f7f7f7" stroke-width="0.5" />
<line x1="412.5" y1="643.1" x2="479.7" y2="643.1" stroke="#fff" stroke-width="0.9" />
<line x1="412.5" y1="651.3" x2="479.7" y2="651.3" stroke="#f7f7f7" stroke-width="0.5" />
<line x1="412.5" y1="659.5" x2="479.7" y2="659.5" stroke="#fff" stroke-width="0.9" />
<line x1="412.5" y1="667.7" x2="479.7" y2="667.7" stroke="#f7f7f7" stroke-width="0.5" />
<line x1="412.5" y1="675.9" x2="479.7" y2="675.9" stroke="#fff" stroke-width="0.9" />
<line x1="412.5" y1="684.1" x2="479.7" y2="684.1" stroke="#f7f7f7" stroke-width="0.5" />
<line x1="412.5" y1="692.3" x2="479.7" y2="692.3" stroke="#fff" stroke-width="0.9" />
<line x1="412.5" y1="700.5" x2="479.7" y2="700.5" stroke="#f7f7f7" stroke-width="0.5" />
<line x1="412.5" y1="708.7" x2="479.7" y2="708.7" stroke="#fff" stroke-width="0.9" />
<line x1="412.5" y1="716.9" x2="479.7" y2="716.9" stroke="#f7f7f7" stroke-width="0.5" />
<line x1="412.5" y1="725.1" x2="479.7" y2="725.1" stroke="#fff" stroke-width="0.9" />
<line x1="424.5" y1="600.8" x2="424.5" y2="725.4" stroke="#fff" stroke-width="0.9" />
<line x1="424.5" y1="725.8" x2="424.5" y2="727.6" stroke="#444" stroke-width="0.8" />
<line x1="445.6" y1="600.8" x2="445.6" y2="725.4" stroke="#fff" stroke-width="0.9" />
<line x1="445.6" y1="725.8" x2="445.6" y2="727.6" stroke="#444" stroke-width="0.8" />
<line x1="466.4" y1="600.8" x2="466.4" y2="725.4" stroke="#fff" stroke-width="0.9" />
<line x1="466.4" y1="725.8" x2="466.4" y2="727.6" stroke="#444" stroke-width="0.8" />
<path d="M422.9 688.2h0M424.0 685.6h0M423.1 679.5h0M421.5 679.3h0M422.5 694.3h0M424.5 674.8h0M423.9 691.9h0M428.0 696.8h0M426.8 698.3h0M428.1 688.9h0M424.9 689.9h0M425.3 676.5h0M426.0 677.0h0M421.7 674.2h0M425.8 685.0h0M427.8 672.7h0M423.6 682.6h0M425.6 691.3h0M424.6 682.9h0M427.8 676.8h0M422.6 684.7h0M427.7 692.6h0M424.3 679.1h0M426.7 680.4h0M425.7 695.4h0M425.0 676.3h0M421.6 677.5h0M422.5 675.9h0M427.0 695.6h0M423.7 680.1h0M423.6 671.8h0M427.8 682.2h0M421.1 678.0h0M425.1 674.3h0M423.0 685.8h0M428.0 699.1h0M427.0 696.7h0M424.9 694.5h0M424.8 694.6h0M422.3 679.1h0M426.5 691.6h0M427.5 689.3h0M423.2 694.6h0M421.6 697.9h0M427.6 681.0h0M427.6 689.8h0M424.2 693.6h0M421.7 693.1h0M422.7 689.1h0M421.8 690.9h0" stroke="#7b90d8" stroke-width="2.3" stroke-linecap="round" stroke-opacity="0.85"/>
<path d="M428.5,671.5 C429.25,672.25 432.42,674.42 433,676 C433.58,677.58 432.25,679.33 432,681 C431.75,682.67 431.33,684.37 431.5,686 C431.67,687.63 433.17,688.97 433,690.8 C432.83,692.63 431.42,695.48 430.5,697 C429.58,698.52 428,699.42 427.5,699.9 L421.5,699.9 C421,699.42 419.42,698.52 418.5,697 C417.58,695.48 416.17,692.63 416,690.8 C415.83,688.97 417.33,687.63 417.5,686 C417.67,684.37 417.25,682.67 417,681 C416.75,679.33 415.42,677.58 416,676 C416.58,674.42 419.75,672.25 420.5,671.5 Z" fill="none" stroke="#262626" stroke-width="1.15"/>
<line x1="424.5" y1="671.5" x2="424.5" y2="699.9" stroke="#333" stroke-width="0.8" />
<rect x="420.05" y="681" width="8.9" height="9.4" fill="none" stroke="#333" stroke-width="0.8"/>
<line x1="420.05" y1="686.6" x2="428.95" y2="686.6" stroke="#333" stroke-width="1.4" />
<path d="M446.2,659.2 C446.21,659.61 446.22,660.83 446.24,661.64 C446.26,662.46 446.29,663.27 446.32,664.08 C446.34,664.9 446.37,665.71 446.4,666.53 C446.42,667.34 446.4,668.15 446.48,668.97 C446.55,669.78 446.69,670.59 446.85,671.41 C447.02,672.22 447.25,673.04 447.45,673.85 C447.65,674.66 447.87,675.48 448.05,676.29 C448.22,677.11 448.42,677.92 448.5,678.73 C448.58,679.55 448.5,680.36 448.5,681.17 C448.5,681.99 448.5,682.8 448.5,683.62 C448.5,684.43 448.5,685.24 448.5,686.06 C448.5,686.87 448.5,687.69 448.5,688.5 C448.5,689.31 448.5,690.13 448.5,690.94 C448.5,691.76 448.5,692.57 448.5,693.38 C448.5,694.2 448.5,695.01 448.5,695.83 C448.5,696.64 448.5,697.45 448.5,698.27 C448.5,699.08 448.55,699.89 448.5,700.71 C448.45,701.52 448.35,702.34 448.2,703.15 C448.06,703.96 447.77,704.78 447.63,705.59 C447.48,706.41 447.43,707.22 447.34,708.03 C447.24,708.85 447.14,709.66 447.04,710.47 C446.94,711.29 446.85,712.1 446.75,712.92 C446.65,713.73 446.55,714.54 446.45,715.36 C446.36,716.17 446.24,717.39 446.2,717.8 L445,717.8 C444.96,717.39 444.84,716.17 444.75,715.36 C444.65,714.54 444.55,713.73 444.45,712.92 C444.35,712.1 444.26,711.29 444.16,710.47 C444.06,709.66 443.96,708.85 443.86,708.03 C443.77,707.22 443.72,706.41 443.57,705.59 C443.43,704.78 443.14,703.96 443,703.15 C442.85,702.34 442.75,701.52 442.7,700.71 C442.65,699.89 442.7,699.08 442.7,698.27 C442.7,697.45 442.7,696.64 442.7,695.83 C442.7,695.01 442.7,694.2 442.7,693.38 C442.7,692.57 442.7,691.76 442.7,690.94 C442.7,690.13 442.7,689.31 442.7,688.5 C442.7,687.69 442.7,686.87 442.7,686.06 C442.7,685.24 442.7,684.43 442.7,683.62 C442.7,682.8 442.7,681.99 442.7,681.17 C442.7,680.36 442.62,679.55 442.7,678.73 C442.78,677.92 442.98,677.11 443.15,676.29 C443.33,675.48 443.55,674.66 443.75,673.85 C443.95,673.04 444.18,672.22 444.35,671.41 C444.51,670.59 444.65,669.78 444.72,668.97 C444.8,668.15 444.78,667.34 444.8,666.53 C444.83,665.71 444.86,664.9 444.88,664.08 C444.91,663.27 444.94,662.46 444.96,661.64 C444.98,660.83 444.99,659.61 445,659.2 Z" fill="#e86dc6" fill-opacity="0.9"/>
<path d="M445.5 669.4h0M445.6 673.1h0M445.6 682.4h0M445.3 717.6h0M444.9 659.9h0M444.8 693.2h0M444.9 681.2h0M448.3 703.6h0M448.6 698.2h0M447.5 681.4h0M445.9 695.3h0M445.5 717.3h0M449.0 691.6h0M446.6 695.7h0M448.8 690.5h0M446.8 710.6h0M444.9 706.1h0M444.3 690.2h0M447.8 681.8h0M443.2 688.1h0M445.8 708.5h0M445.1 713.6h0M445.1 668.3h0M442.9 700.3h0M447.9 707.3h0M442.9 706.7h0M446.2 713.2h0M443.8 692.4h0M448.2 691.0h0M446.4 711.3h0M447.6 698.6h0M442.9 704.1h0M443.1 686.5h0M443.9 710.8h0M446.8 703.3h0M445.9 664.1h0M444.5 685.5h0M442.9 690.4h0M444.0 681.8h0M444.3 702.5h0M444.7 696.6h0M448.2 685.5h0M443.4 674.2h0M443.1 688.6h0M448.0 687.4h0M445.7 697.9h0M445.4 676.1h0M446.6 715.7h0M447.3 707.2h0M443.4 686.7h0M448.4 683.5h0M442.5 680.6h0M445.2 689.6h0M443.2 679.8h0M443.8 691.0h0M445.2 677.7h0M444.4 671.3h0M446.7 711.3h0M445.8 685.1h0M445.9 661.7h0" stroke="#e056bd" stroke-width="2.3" stroke-linecap="round" stroke-opacity="0.45"/>
<path d="M446.4,659.2 C446.48,661 446.21,666.47 446.9,670 C447.59,673.53 449.33,676.93 450.53,680.4 C451.73,683.87 454.42,686.7 454.1,690.8 C453.78,694.9 449.88,700.5 448.6,705 C447.32,709.5 446.77,715.67 446.4,717.8 L444.8,717.8 C444.43,715.67 443.88,709.5 442.6,705 C441.32,700.5 437.42,694.9 437.1,690.8 C436.78,686.7 439.47,683.87 440.67,680.4 C441.87,676.93 443.61,673.53 444.3,670 C444.99,666.47 444.72,661 444.8,659.2 Z" fill="none" stroke="#262626" stroke-width="1.15"/>
<line x1="445.6" y1="659.2" x2="445.6" y2="717.8" stroke="#333" stroke-width="0.8" />
<rect x="441.15" y="684.8" width="8.9" height="12.2" fill="none" stroke="#333" stroke-width="0.8"/>
<line x1="441.15" y1="691.4" x2="450.05" y2="691.4" stroke="#333" stroke-width="1.4" />
<path d="M467,639 C467,639.55 467,641.22 467,642.33 C467,643.43 467.01,644.54 467.02,645.65 C467.03,646.76 467.04,647.87 467.05,648.98 C467.06,650.08 467.07,651.19 467.08,652.3 C467.09,653.41 467.1,654.52 467.11,655.62 C467.12,656.73 467.13,657.84 467.14,658.95 C467.15,660.06 467.16,661.17 467.17,662.27 C467.18,663.38 467.19,664.49 467.2,665.6 C467.22,666.71 467.23,667.82 467.24,668.92 C467.25,670.03 467.26,671.14 467.27,672.25 C467.28,673.36 467.2,674.47 467.3,675.57 C467.4,676.68 467.61,677.79 467.87,678.9 C468.13,680.01 468.61,681.12 468.85,682.23 C469.09,683.33 469.22,684.44 469.3,685.55 C469.38,686.66 469.3,687.77 469.3,688.88 C469.3,689.98 469.3,691.09 469.3,692.2 C469.3,693.31 469.3,694.42 469.3,695.52 C469.3,696.63 469.3,697.74 469.3,698.85 C469.3,699.96 469.3,701.07 469.3,702.17 C469.3,703.28 469.3,704.39 469.3,705.5 C469.3,706.61 469.41,707.72 469.3,708.82 C469.19,709.93 468.9,711.04 468.65,712.15 C468.4,713.26 468.08,714.37 467.81,715.47 C467.53,716.58 467.13,718.25 467,718.8 L465.8,718.8 C465.67,718.25 465.27,716.58 464.99,715.47 C464.72,714.37 464.4,713.26 464.15,712.15 C463.9,711.04 463.61,709.93 463.5,708.82 C463.39,707.72 463.5,706.61 463.5,705.5 C463.5,704.39 463.5,703.28 463.5,702.17 C463.5,701.07 463.5,699.96 463.5,698.85 C463.5,697.74 463.5,696.63 463.5,695.52 C463.5,694.42 463.5,693.31 463.5,692.2 C463.5,691.09 463.5,689.98 463.5,688.88 C463.5,687.77 463.42,686.66 463.5,685.55 C463.58,684.44 463.71,683.33 463.95,682.23 C464.19,681.12 464.67,680.01 464.93,678.9 C465.19,677.79 465.4,676.68 465.5,675.57 C465.6,674.47 465.52,673.36 465.53,672.25 C465.54,671.14 465.55,670.03 465.56,668.92 C465.57,667.82 465.58,666.71 465.59,665.6 C465.61,664.49 465.62,663.38 465.63,662.27 C465.64,661.17 465.65,660.06 465.66,658.95 C465.67,657.84 465.68,656.73 465.69,655.62 C465.7,654.52 465.71,653.41 465.72,652.3 C465.73,651.19 465.74,650.08 465.75,648.98 C465.76,647.87 465.77,646.76 465.78,645.65 C465.79,644.54 465.8,643.43 465.8,642.33 C465.8,641.22 465.8,639.55 465.8,639 Z" fill="#5cc79a" fill-opacity="0.9"/>
<path d="M469.4 694.0h0M463.3 704.4h0M466.4 656.9h0M466.0 688.9h0M465.7 657.6h0M468.0 704.1h0M465.6 686.5h0M469.8 683.8h0M467.4 692.6h0M464.5 696.4h0M468.0 695.2h0M467.3 717.7h0M467.0 664.1h0M467.3 678.0h0M467.4 692.1h0M466.7 692.4h0M466.0 666.4h0M464.0 697.2h0M468.2 697.4h0M465.9 650.8h0M468.4 680.1h0M467.7 713.9h0M464.6 694.5h0M466.2 664.6h0M468.8 710.7h0M467.3 663.7h0M465.6 660.7h0M465.6 668.3h0M469.4 696.8h0M466.2 702.1h0M467.3 665.3h0M469.5 687.5h0M467.8 709.8h0M466.4 705.6h0M467.3 692.1h0M466.5 648.4h0M464.4 707.7h0M469.5 700.0h0M468.3 715.4h0M466.7 710.1h0M468.1 714.1h0M467.1 700.8h0M467.7 696.7h0M469.8 693.0h0M462.9 697.1h0M467.0 712.7h0M463.0 704.0h0M463.6 712.7h0M463.9 698.0h0M465.8 685.5h0" stroke="#3fc08c" stroke-width="2.3" stroke-linecap="round" stroke-opacity="0.45"/>
<path d="M467.2,639 C467.28,645.33 466.91,669 467.7,677 C468.49,685 470.54,683.67 471.91,687 C473.28,690.33 476.15,693.17 475.9,697 C475.65,700.83 471.85,706.37 470.4,710 C468.95,713.63 467.73,717.33 467.2,718.8 L465.6,718.8 C465.07,717.33 463.85,713.63 462.4,710 C460.95,706.37 457.15,700.83 456.9,697 C456.65,693.17 459.52,690.33 460.89,687 C462.26,683.67 464.31,685 465.1,677 C465.88,669 465.52,645.33 465.6,639 Z" fill="none" stroke="#262626" stroke-width="1.15"/>
<line x1="466.4" y1="639" x2="466.4" y2="718.8" stroke="#333" stroke-width="0.8" />
<rect x="461.95" y="688.5" width="8.9" height="12.3" fill="none" stroke="#333" stroke-width="0.8"/>
<line x1="461.95" y1="695.2" x2="470.85" y2="695.2" stroke="#333" stroke-width="1.4" />
<path d="M424.5,635.9 V634.1 H445.6 V635.9" fill="none" stroke="#555" stroke-width="0.75"/>
<text transform="translate(435.05,633.1) scale(1,1.1)" font-size="7.8" fill="#4d4d4d" text-anchor="middle" >0.00035</text>
<path d="M424.5,624.2 V622.4 H466.4 V624.2" fill="none" stroke="#555" stroke-width="0.75"/>
<text transform="translate(445.45,621.4) scale(1,1.1)" font-size="7.8" fill="#4d4d4d" text-anchor="middle" >3.2e−08</text>
<path d="M445.6,614.7 V612.9 H466.4 V614.7" fill="none" stroke="#555" stroke-width="0.75"/>
<text transform="translate(456,610.4) scale(1,1.1)" font-size="7.8" fill="#4d4d4d" text-anchor="middle" >6.1e−05</text>
<text transform="translate(415.1,610) scale(1,1.12)" font-size="7.75" fill="#111" font-weight="bold" >IGFR</text>
<text x="424.5" y="734.5" font-size="7.7" fill="#4a4a4a" text-anchor="middle" >ARG1</text>
<text x="445.6" y="734.5" font-size="7.7" fill="#4a4a4a" text-anchor="middle" >ARG2</text>
<text x="466.4" y="734.5" font-size="7.7" fill="#4a4a4a" text-anchor="middle" >ARG3</text>
<rect x="520.6" y="600.8" width="68.2" height="124.6" fill="#ebebeb" />
<line x1="520.6" y1="610.3" x2="588.8" y2="610.3" stroke="#fff" stroke-width="0.9" />
<line x1="520.6" y1="618.5" x2="588.8" y2="618.5" stroke="#f7f7f7" stroke-width="0.5" />
<line x1="520.6" y1="626.7" x2="588.8" y2="626.7" stroke="#fff" stroke-width="0.9" />
<line x1="520.6" y1="634.9" x2="588.8" y2="634.9" stroke="#f7f7f7" stroke-width="0.5" />
<line x1="520.6" y1="643.1" x2="588.8" y2="643.1" stroke="#fff" stroke-width="0.9" />
<line x1="520.6" y1="651.3" x2="588.8" y2="651.3" stroke="#f7f7f7" stroke-width="0.5" />
<line x1="520.6" y1="659.5" x2="588.8" y2="659.5" stroke="#fff" stroke-width="0.9" />
<line x1="520.6" y1="667.7" x2="588.8" y2="667.7" stroke="#f7f7f7" stroke-width="0.5" />
<line x1="520.6" y1="675.9" x2="588.8" y2="675.9" stroke="#fff" stroke-width="0.9" />
<line x1="520.6" y1="684.1" x2="588.8" y2="684.1" stroke="#f7f7f7" stroke-width="0.5" />
<line x1="520.6" y1="692.3" x2="588.8" y2="692.3" stroke="#fff" stroke-width="0.9" />
<line x1="520.6" y1="700.5" x2="588.8" y2="700.5" stroke="#f7f7f7" stroke-width="0.5" />
<line x1="520.6" y1="708.7" x2="588.8" y2="708.7" stroke="#fff" stroke-width="0.9" />
<line x1="520.6" y1="716.9" x2="588.8" y2="716.9" stroke="#f7f7f7" stroke-width="0.5" />
<line x1="520.6" y1="725.1" x2="588.8" y2="725.1" stroke="#fff" stroke-width="0.9" />
<line x1="533" y1="600.8" x2="533" y2="725.4" stroke="#fff" stroke-width="0.9" />
<line x1="533" y1="725.8" x2="533" y2="727.6" stroke="#444" stroke-width="0.8" />
<line x1="554.2" y1="600.8" x2="554.2" y2="725.4" stroke="#fff" stroke-width="0.9" />
<line x1="554.2" y1="725.8" x2="554.2" y2="727.6" stroke="#444" stroke-width="0.8" />
<line x1="575.6" y1="600.8" x2="575.6" y2="725.4" stroke="#fff" stroke-width="0.9" />
<line x1="575.6" y1="725.8" x2="575.6" y2="727.6" stroke="#444" stroke-width="0.8" />
<path d="M532.5 694.8h0M530.4 667.3h0M530.3 668.5h0M531.3 690.5h0M534.1 652.0h0M533.1 672.0h0M531.8 650.5h0M532.4 656.4h0M534.4 666.8h0M530.9 655.7h0M535.0 671.1h0M535.3 647.6h0M530.2 644.7h0M534.1 681.3h0M533.4 684.7h0M533.0 677.2h0M530.3 683.3h0M532.5 663.3h0M532.2 671.4h0M536.4 663.3h0M534.6 643.0h0M533.7 661.4h0M529.5 659.7h0M531.7 654.8h0M531.2 688.1h0M531.1 665.9h0M533.7 689.4h0M529.8 665.3h0M535.2 681.8h0M535.8 677.8h0M532.4 643.5h0M531.0 681.7h0M531.7 658.2h0M530.7 664.1h0M536.2 681.1h0M533.6 695.1h0M533.9 644.2h0M529.6 676.1h0M530.6 645.0h0M535.9 656.0h0M533.6 668.7h0M532.6 646.9h0M530.8 692.4h0M531.8 645.5h0M532.3 661.4h0M535.0 666.2h0M536.0 692.1h0M532.1 669.3h0M535.8 653.9h0M532.7 659.3h0" stroke="#7b90d8" stroke-width="2.3" stroke-linecap="round" stroke-opacity="0.85"/>
<path d="M535.5,637.5 C535.75,637.92 536.17,634.33 537,640 C537.83,645.67 540.5,663.17 540.5,671.5 C540.5,679.83 537.83,685.58 537,690 C536.17,694.42 535.75,696.67 535.5,698 L530.5,698 C530.25,696.67 529.83,694.42 529,690 C528.17,685.58 525.5,679.83 525.5,671.5 C525.5,663.17 528.17,645.67 529,640 C529.83,634.33 530.25,637.92 530.5,637.5 Z" fill="none" stroke="#262626" stroke-width="1.15"/>
<line x1="533" y1="637.5" x2="533" y2="698" stroke="#333" stroke-width="0.8" />
<rect x="528.45" y="661.7" width="9.1" height="18.3" fill="none" stroke="#333" stroke-width="0.8"/>
<line x1="528.45" y1="671.5" x2="537.55" y2="671.5" stroke="#333" stroke-width="1.4" />
<path d="M554.8,633.3 C554.8,633.87 554.81,635.57 554.82,636.7 C554.84,637.84 554.87,638.97 554.89,640.11 C554.91,641.24 554.93,642.38 554.95,643.51 C554.97,644.65 554.99,645.78 555.01,646.92 C555.04,648.05 555.01,649.19 555.08,650.32 C555.15,651.46 555.26,652.59 555.42,653.72 C555.57,654.86 555.82,655.99 556.02,657.13 C556.22,658.26 556.45,659.4 556.63,660.53 C556.81,661.67 557.02,662.8 557.1,663.94 C557.18,665.07 557.1,666.21 557.1,667.34 C557.1,668.48 557.1,669.61 557.1,670.75 C557.1,671.88 557.1,673.02 557.1,674.15 C557.1,675.28 557.1,676.42 557.1,677.55 C557.1,678.69 557.1,679.82 557.1,680.96 C557.1,682.09 557.1,683.23 557.1,684.36 C557.1,685.5 557.1,686.63 557.1,687.77 C557.1,688.9 557.1,690.04 557.1,691.17 C557.1,692.31 557.1,693.44 557.1,694.58 C557.1,695.71 557.15,696.84 557.1,697.98 C557.05,699.11 556.93,700.25 556.79,701.38 C556.66,702.52 556.45,703.65 556.29,704.79 C556.12,705.92 555.95,707.06 555.78,708.19 C555.61,709.33 555.43,710.46 555.27,711.6 C555.11,712.73 554.88,714.43 554.8,715 L553.6,715 C553.52,714.43 553.29,712.73 553.13,711.6 C552.97,710.46 552.79,709.33 552.62,708.19 C552.45,707.06 552.28,705.92 552.11,704.79 C551.95,703.65 551.74,702.52 551.61,701.38 C551.47,700.25 551.35,699.11 551.3,697.98 C551.25,696.84 551.3,695.71 551.3,694.58 C551.3,693.44 551.3,692.31 551.3,691.17 C551.3,690.04 551.3,688.9 551.3,687.77 C551.3,686.63 551.3,685.5 551.3,684.36 C551.3,683.23 551.3,682.09 551.3,680.96 C551.3,679.82 551.3,678.69 551.3,677.55 C551.3,676.42 551.3,675.28 551.3,674.15 C551.3,673.02 551.3,671.88 551.3,670.75 C551.3,669.61 551.3,668.48 551.3,667.34 C551.3,666.21 551.22,665.07 551.3,663.94 C551.38,662.8 551.59,661.67 551.77,660.53 C551.95,659.4 552.18,658.26 552.38,657.13 C552.58,655.99 552.83,654.86 552.98,653.72 C553.14,652.59 553.25,651.46 553.32,650.32 C553.39,649.19 553.36,648.05 553.39,646.92 C553.41,645.78 553.43,644.65 553.45,643.51 C553.47,642.38 553.49,641.24 553.51,640.11 C553.53,638.97 553.56,637.84 553.58,636.7 C553.59,635.57 553.6,633.87 553.6,633.3 Z" fill="#e86dc6" fill-opacity="0.9"/>
<path d="M551.9 676.3h0M555.7 677.7h0M552.5 668.7h0M552.4 678.2h0M553.4 657.1h0M550.9 686.7h0M554.3 646.7h0M557.7 668.4h0M550.9 694.8h0M555.0 713.5h0M552.6 657.6h0M552.6 685.8h0M556.3 655.6h0M553.7 661.9h0M552.9 709.3h0M554.3 684.7h0M553.7 642.4h0M554.6 675.3h0M556.6 671.6h0M552.7 697.2h0M551.7 698.2h0M551.6 687.1h0M553.5 678.4h0M553.0 698.7h0M554.7 677.1h0M553.3 642.9h0M553.6 704.8h0M555.7 677.3h0M552.2 705.3h0M553.3 695.5h0M556.6 661.3h0M554.3 661.1h0M553.2 695.4h0M551.2 698.7h0M554.5 676.5h0M551.2 666.8h0M552.6 708.5h0M556.4 688.2h0M553.7 637.5h0M554.4 696.9h0M554.4 696.2h0M552.6 665.8h0M555.9 688.9h0M553.2 673.1h0M556.4 670.1h0M556.7 691.6h0M553.3 691.6h0M553.4 637.0h0M552.5 679.9h0M557.1 669.9h0M554.9 669.6h0M551.5 700.8h0M553.6 661.5h0M553.4 711.6h0M552.8 679.1h0M555.7 693.3h0M552.7 671.8h0M556.8 683.6h0M551.9 700.0h0M553.1 713.7h0" stroke="#e056bd" stroke-width="2.3" stroke-linecap="round" stroke-opacity="0.45"/>
<path d="M555,633.3 C555.08,636.42 554.76,646.31 555.5,652 C556.24,657.69 558.14,662.3 559.42,667.45 C560.7,672.6 563.4,677.48 563.2,682.9 C563,688.32 559.57,694.65 558.2,700 C556.83,705.35 555.53,712.5 555,715 L553.4,715 C552.87,712.5 551.57,705.35 550.2,700 C548.83,694.65 545.4,688.32 545.2,682.9 C545,677.48 547.7,672.6 548.98,667.45 C550.26,662.3 552.16,657.69 552.9,652 C553.64,646.31 553.32,636.42 553.4,633.3 Z" fill="none" stroke="#262626" stroke-width="1.15"/>
<line x1="554.2" y1="633.3" x2="554.2" y2="715" stroke="#333" stroke-width="0.8" />
<rect x="549.7" y="676.2" width="9" height="19" fill="none" stroke="#333" stroke-width="0.8"/>
<line x1="549.7" y1="683.8" x2="558.7" y2="683.8" stroke="#333" stroke-width="1.4" />
<path d="M576.2,647.9 C576.21,648.39 576.22,649.87 576.25,650.85 C576.27,651.84 576.3,652.82 576.33,653.81 C576.36,654.79 576.39,655.78 576.42,656.76 C576.44,657.75 576.39,658.73 576.5,659.72 C576.62,660.7 576.89,661.69 577.1,662.67 C577.31,663.66 577.54,664.64 577.76,665.62 C577.97,666.61 578.29,667.59 578.41,668.58 C578.53,669.56 578.49,670.55 578.5,671.53 C578.51,672.52 578.5,673.5 578.5,674.49 C578.5,675.47 578.5,676.46 578.5,677.44 C578.5,678.43 578.5,679.41 578.5,680.4 C578.5,681.38 578.5,682.37 578.5,683.35 C578.5,684.33 578.5,685.32 578.5,686.3 C578.5,687.29 578.5,688.27 578.5,689.26 C578.5,690.24 578.5,691.23 578.5,692.21 C578.5,693.2 578.5,694.18 578.5,695.17 C578.5,696.15 578.5,697.14 578.5,698.12 C578.5,699.11 578.5,700.09 578.5,701.07 C578.5,702.06 578.57,703.04 578.5,704.03 C578.43,705.01 578.23,706 578.08,706.98 C577.93,707.97 577.76,708.95 577.6,709.94 C577.44,710.92 577.28,711.91 577.12,712.89 C576.96,713.88 576.79,714.86 576.64,715.85 C576.49,716.83 576.27,718.31 576.2,718.8 L575,718.8 C574.93,718.31 574.71,716.83 574.56,715.85 C574.41,714.86 574.24,713.88 574.08,712.89 C573.92,711.91 573.76,710.92 573.6,709.94 C573.44,708.95 573.27,707.97 573.12,706.98 C572.97,706 572.77,705.01 572.7,704.03 C572.63,703.04 572.7,702.06 572.7,701.07 C572.7,700.09 572.7,699.11 572.7,698.12 C572.7,697.14 572.7,696.15 572.7,695.17 C572.7,694.18 572.7,693.2 572.7,692.21 C572.7,691.23 572.7,690.24 572.7,689.26 C572.7,688.27 572.7,687.29 572.7,686.3 C572.7,685.32 572.7,684.33 572.7,683.35 C572.7,682.37 572.7,681.38 572.7,680.4 C572.7,679.41 572.7,678.43 572.7,677.44 C572.7,676.46 572.7,675.47 572.7,674.49 C572.7,673.5 572.69,672.52 572.7,671.53 C572.71,670.55 572.67,669.56 572.79,668.58 C572.91,667.59 573.23,666.61 573.44,665.62 C573.66,664.64 573.89,663.66 574.1,662.67 C574.31,661.69 574.58,660.7 574.7,659.72 C574.81,658.73 574.76,657.75 574.78,656.76 C574.81,655.78 574.84,654.79 574.87,653.81 C574.9,652.82 574.93,651.84 574.95,650.85 C574.98,649.87 574.99,648.39 575,647.9 Z" fill="#5cc79a" fill-opacity="0.9"/>
<path d="M576.3 672.9h0M573.3 671.2h0M575.9 706.4h0M575.1 714.3h0M574.2 715.7h0M575.8 715.0h0M578.7 673.5h0M575.1 714.8h0M577.1 689.1h0M578.6 694.2h0M572.6 672.6h0M579.0 680.4h0M579.1 667.4h0M578.1 699.7h0M578.1 676.9h0M578.6 688.7h0M575.0 679.1h0M572.0 689.8h0M576.3 657.2h0M576.3 660.3h0M572.1 690.4h0M576.2 678.5h0M574.6 717.4h0M573.6 697.1h0M575.4 670.9h0M577.7 697.6h0M576.0 661.0h0M572.8 680.0h0M574.7 700.8h0M575.4 701.7h0M575.0 696.5h0M579.2 686.9h0M573.6 687.4h0M573.8 692.6h0M578.2 678.9h0M577.6 662.3h0M576.5 681.7h0M574.9 648.0h0M575.8 678.5h0M578.2 692.8h0M575.9 673.3h0M574.2 683.4h0M572.8 691.1h0M575.8 703.2h0M579.1 677.8h0M573.0 700.1h0M574.3 695.6h0M574.5 685.6h0M579.0 672.6h0M572.1 704.0h0" stroke="#3fc08c" stroke-width="2.3" stroke-linecap="round" stroke-opacity="0.45"/>
<path d="M576.4,647.9 C576.48,649.92 576.12,655.77 576.9,660 C577.68,664.23 579.74,668.87 581.11,673.3 C582.48,677.73 585.35,681.32 585.1,686.6 C584.85,691.88 581.05,699.63 579.6,705 C578.15,710.37 576.93,716.5 576.4,718.8 L574.8,718.8 C574.27,716.5 573.05,710.37 571.6,705 C570.15,699.63 566.35,691.88 566.1,686.6 C565.85,681.32 568.72,677.73 570.09,673.3 C571.46,668.87 573.52,664.23 574.3,660 C575.09,655.77 574.72,649.92 574.8,647.9 Z" fill="none" stroke="#262626" stroke-width="1.15"/>
<line x1="575.6" y1="647.9" x2="575.6" y2="718.8" stroke="#333" stroke-width="0.8" />
<rect x="571.15" y="680" width="8.9" height="16.1" fill="none" stroke="#333" stroke-width="0.8"/>
<line x1="571.15" y1="687.6" x2="580.05" y2="687.6" stroke="#333" stroke-width="1.4" />
<path d="M533,631.7 V629.9 H554.2 V631.7" fill="none" stroke="#555" stroke-width="0.75"/>
<text transform="translate(543.6,628.9) scale(1,1.1)" font-size="7.1" fill="#4d4d4d" text-anchor="middle" >8.6e−07</text>
<path d="M533,621.3 V619.5 H575.6 V621.3" fill="none" stroke="#555" stroke-width="0.75"/>
<text transform="translate(554.3,618.5) scale(1,1.1)" font-size="7.1" fill="#4d4d4d" text-anchor="middle" >3.3e−10</text>
<path d="M554.2,611.9 V610.1 H575.6 V611.9" fill="none" stroke="#555" stroke-width="0.75"/>
<text transform="translate(564.9,608.5) scale(1,1.1)" font-size="7.1" fill="#4d4d4d" text-anchor="middle" >0.00095</text>
<text transform="translate(523.2,610) scale(1,1.12)" font-size="7.75" fill="#111" font-weight="bold" >VEGFR1</text>
<text x="533" y="734.5" font-size="7" fill="#4a4a4a" text-anchor="middle" >ARG1</text>
<text x="554.2" y="734.5" font-size="7" fill="#4a4a4a" text-anchor="middle" >ARG2</text>
<text x="575.6" y="734.5" font-size="7" fill="#4a4a4a" text-anchor="middle" >ARG3</text>
<rect x="599.1" y="600.8" width="68.9" height="124.6" fill="#ebebeb" />
<line x1="599.1" y1="610.3" x2="668" y2="610.3" stroke="#fff" stroke-width="0.9" />
<line x1="599.1" y1="618.5" x2="668" y2="618.5" stroke="#f7f7f7" stroke-width="0.5" />
<line x1="599.1" y1="626.7" x2="668" y2="626.7" stroke="#fff" stroke-width="0.9" />
<line x1="599.1" y1="634.9" x2="668" y2="634.9" stroke="#f7f7f7" stroke-width="0.5" />
<line x1="599.1" y1="643.1" x2="668" y2="643.1" stroke="#fff" stroke-width="0.9" />
<line x1="599.1" y1="651.3" x2="668" y2="651.3" stroke="#f7f7f7" stroke-width="0.5" />
<line x1="599.1" y1="659.5" x2="668" y2="659.5" stroke="#fff" stroke-width="0.9" />
<line x1="599.1" y1="667.7" x2="668" y2="667.7" stroke="#f7f7f7" stroke-width="0.5" />
<line x1="599.1" y1="675.9" x2="668" y2="675.9" stroke="#fff" stroke-width="0.9" />
<line x1="599.1" y1="684.1" x2="668" y2="684.1" stroke="#f7f7f7" stroke-width="0.5" />
<line x1="599.1" y1="692.3" x2="668" y2="692.3" stroke="#fff" stroke-width="0.9" />
<line x1="599.1" y1="700.5" x2="668" y2="700.5" stroke="#f7f7f7" stroke-width="0.5" />
<line x1="599.1" y1="708.7" x2="668" y2="708.7" stroke="#fff" stroke-width="0.9" />
<line x1="599.1" y1="716.9" x2="668" y2="716.9" stroke="#f7f7f7" stroke-width="0.5" />
<line x1="599.1" y1="725.1" x2="668" y2="725.1" stroke="#fff" stroke-width="0.9" />
<line x1="611.5" y1="600.8" x2="611.5" y2="725.4" stroke="#fff" stroke-width="0.9" />
<line x1="611.5" y1="725.8" x2="611.5" y2="727.6" stroke="#444" stroke-width="0.8" />
<line x1="632.7" y1="600.8" x2="632.7" y2="725.4" stroke="#fff" stroke-width="0.9" />
<line x1="632.7" y1="725.8" x2="632.7" y2="727.6" stroke="#444" stroke-width="0.8" />
<line x1="654" y1="600.8" x2="654" y2="725.4" stroke="#fff" stroke-width="0.9" />
<line x1="654" y1="725.8" x2="654" y2="727.6" stroke="#444" stroke-width="0.8" />
<path d="M609.6 684.4h0M610.2 686.1h0M615.0 682.6h0M613.3 692.9h0M612.8 653.1h0M610.8 678.5h0M608.6 667.7h0M609.3 651.5h0M612.3 677.2h0M609.5 684.2h0M609.8 667.6h0M611.5 642.7h0M614.4 666.0h0M612.1 668.4h0M607.9 681.6h0M610.9 639.8h0M608.0 673.5h0M609.8 663.1h0M608.3 656.0h0M610.8 648.3h0M610.3 658.1h0M607.9 678.6h0M613.8 660.8h0M611.5 688.3h0M610.2 667.4h0M612.4 671.0h0M608.4 671.1h0M610.6 674.5h0M610.9 643.5h0M611.7 672.4h0M609.4 685.9h0M609.6 665.7h0M611.2 641.1h0M608.5 688.0h0M608.6 665.4h0M608.5 667.7h0M612.1 680.8h0M614.7 665.4h0M611.8 656.9h0M613.1 680.6h0M613.5 659.7h0M613.0 662.8h0M608.1 660.1h0M610.1 661.6h0M611.4 636.3h0M608.9 665.4h0M610.4 693.3h0M611.0 632.1h0M610.8 655.2h0M612.0 693.0h0" stroke="#7b90d8" stroke-width="2.3" stroke-linecap="round" stroke-opacity="0.85"/>
<path d="M612.3,631.8 C612.38,634 612.26,640.12 612.8,645 C613.34,649.88 614.61,655.73 615.56,661.1 C616.51,666.47 618.26,672.38 618.5,677.2 C618.74,682.02 617.75,687 617,690 C616.25,693 614.5,694.33 614,695.2 L609,695.2 C608.5,694.33 606.75,693 606,690 C605.25,687 604.26,682.02 604.5,677.2 C604.74,672.38 606.49,666.47 607.44,661.1 C608.39,655.73 609.66,649.88 610.2,645 C610.74,640.12 610.62,634 610.7,631.8 Z" fill="none" stroke="#262626" stroke-width="1.15"/>
<line x1="611.5" y1="631.8" x2="611.5" y2="695.2" stroke="#333" stroke-width="0.8" />
<rect x="606.95" y="667.4" width="9.1" height="17" fill="none" stroke="#333" stroke-width="0.8"/>
<line x1="606.95" y1="676.2" x2="616.05" y2="676.2" stroke="#333" stroke-width="1.4" />
<path d="M633.3,635.2 C633.31,635.74 633.32,637.35 633.34,638.43 C633.36,639.51 633.39,640.58 633.41,641.66 C633.44,642.73 633.46,643.81 633.49,644.89 C633.51,645.96 633.51,647.04 633.57,648.12 C633.62,649.19 633.7,650.27 633.84,651.35 C633.98,652.42 634.21,653.5 634.4,654.58 C634.58,655.65 634.77,656.73 634.95,657.8 C635.14,658.88 635.4,659.96 635.51,661.03 C635.62,662.11 635.58,663.19 635.6,664.26 C635.62,665.34 635.6,666.42 635.6,667.49 C635.6,668.57 635.6,669.64 635.6,670.72 C635.6,671.8 635.6,672.87 635.6,673.95 C635.6,675.03 635.6,676.1 635.6,677.18 C635.6,678.26 635.6,679.33 635.6,680.41 C635.6,681.48 635.6,682.56 635.6,683.64 C635.6,684.71 635.6,685.79 635.6,686.87 C635.6,687.94 635.6,689.02 635.6,690.1 C635.6,691.17 635.6,692.25 635.6,693.33 C635.6,694.4 635.61,695.48 635.6,696.55 C635.59,697.63 635.65,698.71 635.54,699.78 C635.44,700.86 635.16,701.94 634.97,703.01 C634.78,704.09 634.59,705.17 634.4,706.24 C634.21,707.32 634.01,708.39 633.83,709.47 C633.65,710.55 633.39,712.16 633.3,712.7 L632.1,712.7 C632.01,712.16 631.75,710.55 631.57,709.47 C631.39,708.39 631.19,707.32 631,706.24 C630.81,705.17 630.62,704.09 630.43,703.01 C630.24,701.94 629.96,700.86 629.86,699.78 C629.75,698.71 629.81,697.63 629.8,696.55 C629.79,695.48 629.8,694.4 629.8,693.33 C629.8,692.25 629.8,691.17 629.8,690.1 C629.8,689.02 629.8,687.94 629.8,686.87 C629.8,685.79 629.8,684.71 629.8,683.64 C629.8,682.56 629.8,681.48 629.8,680.41 C629.8,679.33 629.8,678.26 629.8,677.18 C629.8,676.1 629.8,675.03 629.8,673.95 C629.8,672.87 629.8,671.8 629.8,670.72 C629.8,669.64 629.8,668.57 629.8,667.49 C629.8,666.42 629.78,665.34 629.8,664.26 C629.82,663.19 629.78,662.11 629.89,661.03 C630,659.96 630.26,658.88 630.45,657.8 C630.63,656.73 630.82,655.65 631,654.58 C631.19,653.5 631.42,652.42 631.56,651.35 C631.7,650.27 631.78,649.19 631.83,648.12 C631.89,647.04 631.89,645.96 631.91,644.89 C631.94,643.81 631.96,642.73 631.99,641.66 C632.01,640.58 632.04,639.51 632.06,638.43 C632.08,637.35 632.09,635.74 632.1,635.2 Z" fill="#e86dc6" fill-opacity="0.9"/>
<path d="M631.5 681.3h0M629.6 676.6h0M633.7 692.9h0M635.5 663.8h0M632.7 652.5h0M632.0 711.2h0M632.1 696.9h0M635.5 696.7h0M630.2 672.2h0M630.3 673.7h0M632.6 702.1h0M631.0 671.5h0M635.3 674.6h0M631.8 648.0h0M632.4 674.9h0M634.3 671.6h0M635.1 676.9h0M632.5 711.5h0M634.5 670.1h0M632.7 705.3h0M632.4 670.1h0M630.4 675.3h0M631.0 652.8h0M632.8 690.7h0M633.3 677.0h0M635.1 669.8h0M629.9 688.8h0M636.1 684.5h0M634.7 702.2h0M636.3 694.3h0M630.7 681.6h0M629.2 683.6h0M634.6 655.5h0M633.5 682.4h0M632.8 682.8h0M633.0 644.0h0M632.2 641.4h0M631.7 696.9h0M632.2 701.5h0M633.7 679.9h0M634.2 660.1h0M633.6 698.8h0M632.8 657.6h0M634.6 676.5h0M630.9 673.9h0M631.0 707.9h0M635.3 684.1h0M632.3 687.8h0M631.7 688.1h0M633.3 696.2h0M632.2 643.2h0M633.1 679.6h0M632.4 675.3h0M635.8 674.7h0M629.3 694.3h0M633.8 689.5h0M632.4 674.0h0M633.4 638.6h0M634.2 677.4h0M629.7 685.2h0" stroke="#e056bd" stroke-width="2.3" stroke-linecap="round" stroke-opacity="0.45"/>
<path d="M633.5,635.2 C633.58,637.67 633.26,644.88 634,650 C634.74,655.12 636.64,660.63 637.92,665.95 C639.2,671.27 641.9,676.23 641.7,681.9 C641.5,687.57 638.07,694.87 636.7,700 C635.33,705.13 634.03,710.58 633.5,712.7 L631.9,712.7 C631.37,710.58 630.07,705.13 628.7,700 C627.33,694.87 623.9,687.57 623.7,681.9 C623.5,676.23 626.2,671.27 627.48,665.95 C628.76,660.63 630.66,655.12 631.4,650 C632.14,644.88 631.82,637.67 631.9,635.2 Z" fill="none" stroke="#262626" stroke-width="1.15"/>
<line x1="632.7" y1="635.2" x2="632.7" y2="712.7" stroke="#333" stroke-width="0.8" />
<rect x="628.15" y="675.3" width="9.1" height="15.1" fill="none" stroke="#333" stroke-width="0.8"/>
<line x1="628.15" y1="682.9" x2="637.25" y2="682.9" stroke="#333" stroke-width="1.4" />
<path d="M654.6,643.5 C654.61,644.01 654.63,645.54 654.65,646.56 C654.68,647.58 654.72,648.6 654.75,649.62 C654.78,650.64 654.79,651.66 654.84,652.67 C654.89,653.69 654.92,654.71 655.04,655.73 C655.15,656.75 655.38,657.77 655.56,658.79 C655.73,659.81 655.9,660.83 656.08,661.85 C656.25,662.87 656.46,663.89 656.6,664.91 C656.74,665.93 656.85,666.95 656.9,667.97 C656.95,668.99 656.9,670.01 656.9,671.02 C656.9,672.04 656.9,673.06 656.9,674.08 C656.9,675.1 656.9,676.12 656.9,677.14 C656.9,678.16 656.9,679.18 656.9,680.2 C656.9,681.22 656.9,682.24 656.9,683.26 C656.9,684.28 656.9,685.3 656.9,686.32 C656.9,687.34 656.9,688.36 656.9,689.38 C656.9,690.39 656.9,691.41 656.9,692.43 C656.9,693.45 656.9,694.47 656.9,695.49 C656.9,696.51 656.9,697.53 656.9,698.55 C656.9,699.57 656.96,700.59 656.87,701.61 C656.79,702.63 656.55,703.65 656.4,704.67 C656.24,705.69 656.09,706.71 655.94,707.73 C655.79,708.74 655.63,709.76 655.48,710.78 C655.33,711.8 655.17,712.82 655.02,713.84 C654.87,714.86 654.67,716.39 654.6,716.9 L653.4,716.9 C653.33,716.39 653.13,714.86 652.98,713.84 C652.83,712.82 652.67,711.8 652.52,710.78 C652.37,709.76 652.21,708.74 652.06,707.73 C651.91,706.71 651.76,705.69 651.6,704.67 C651.45,703.65 651.21,702.63 651.13,701.61 C651.04,700.59 651.1,699.57 651.1,698.55 C651.1,697.53 651.1,696.51 651.1,695.49 C651.1,694.47 651.1,693.45 651.1,692.43 C651.1,691.41 651.1,690.39 651.1,689.38 C651.1,688.36 651.1,687.34 651.1,686.32 C651.1,685.3 651.1,684.28 651.1,683.26 C651.1,682.24 651.1,681.22 651.1,680.2 C651.1,679.18 651.1,678.16 651.1,677.14 C651.1,676.12 651.1,675.1 651.1,674.08 C651.1,673.06 651.1,672.04 651.1,671.02 C651.1,670.01 651.05,668.99 651.1,667.97 C651.15,666.95 651.26,665.93 651.4,664.91 C651.54,663.89 651.75,662.87 651.92,661.85 C652.1,660.83 652.27,659.81 652.44,658.79 C652.62,657.77 652.85,656.75 652.96,655.73 C653.08,654.71 653.11,653.69 653.16,652.67 C653.21,651.66 653.22,650.64 653.25,649.62 C653.28,648.6 653.32,647.58 653.35,646.56 C653.37,645.54 653.39,644.01 653.4,643.5 Z" fill="#5cc79a" fill-opacity="0.9"/>
<path d="M652.9 677.5h0M650.9 695.2h0M654.8 684.4h0M654.4 707.8h0M652.8 656.8h0M655.1 677.5h0M656.7 699.9h0M653.9 683.4h0M653.9 683.1h0M652.4 695.6h0M652.0 674.4h0M652.4 691.8h0M654.7 714.8h0M653.9 665.9h0M655.2 689.1h0M655.4 681.8h0M653.9 681.0h0M650.6 671.7h0M657.6 669.3h0M655.7 691.3h0M656.4 683.3h0M653.2 662.2h0M654.3 693.8h0M653.2 708.1h0M654.0 693.9h0M655.1 662.5h0M651.3 663.8h0M654.0 669.9h0M657.1 670.2h0M656.8 706.3h0M653.5 690.9h0M656.6 688.2h0M651.6 709.2h0M650.9 691.6h0M653.9 709.5h0M654.3 714.9h0M655.9 697.7h0M656.3 696.1h0M652.8 692.6h0M657.6 700.9h0M653.7 647.8h0M656.6 669.8h0M653.6 682.6h0M651.5 678.6h0M653.5 680.7h0M653.8 654.2h0M653.4 698.9h0M652.4 673.0h0M652.9 713.5h0M655.6 683.8h0" stroke="#3fc08c" stroke-width="2.3" stroke-linecap="round" stroke-opacity="0.45"/>
<path d="M654.8,643.5 C654.88,645.42 654.61,650.6 655.3,655 C655.99,659.4 657.73,664.93 658.93,669.9 C660.13,674.87 662.65,679.45 662.5,684.8 C662.35,690.15 659.28,696.65 658,702 C656.72,707.35 655.33,714.42 654.8,716.9 L653.2,716.9 C652.67,714.42 651.28,707.35 650,702 C648.72,696.65 645.65,690.15 645.5,684.8 C645.35,679.45 647.87,674.87 649.07,669.9 C650.27,664.93 652.01,659.4 652.7,655 C653.39,650.6 653.12,645.42 653.2,643.5 Z" fill="none" stroke="#262626" stroke-width="1.15"/>
<line x1="654" y1="643.5" x2="654" y2="716.9" stroke="#333" stroke-width="0.8" />
<rect x="649.55" y="677.2" width="8.9" height="14.2" fill="none" stroke="#333" stroke-width="0.8"/>
<line x1="649.55" y1="684.4" x2="658.45" y2="684.4" stroke="#333" stroke-width="1.4" />
<path d="M611.5,630.8 V629 H632.7 V630.8" fill="none" stroke="#555" stroke-width="0.75"/>
<text transform="translate(622.1,627.1) scale(1,1.1)" font-size="7.1" fill="#4d4d4d" text-anchor="middle" >0.00018</text>
<path d="M611.5,620.4 V618.6 H654 V620.4" fill="none" stroke="#555" stroke-width="0.75"/>
<text transform="translate(632.75,617.2) scale(1,1.1)" font-size="7.1" fill="#4d4d4d" text-anchor="middle" >0.00013</text>
<path d="M632.7,610 V608.2 H654 V610" fill="none" stroke="#555" stroke-width="0.75"/>
<text transform="translate(643.35,607.2) scale(1,1.1)" font-size="7.1" fill="#4d4d4d" text-anchor="middle" >0.46</text>
<text transform="translate(601.7,610) scale(1,1.12)" font-size="7.75" fill="#111" font-weight="bold" >VEGFR2</text>
<text x="611.5" y="734.5" font-size="7" fill="#4a4a4a" text-anchor="middle" >ARG1</text>
<text x="632.7" y="734.5" font-size="7" fill="#4a4a4a" text-anchor="middle" >ARG2</text>
<text x="654" y="734.5" font-size="7" fill="#4a4a4a" text-anchor="middle" >ARG3</text>
<rect x="677.4" y="600.8" width="68.6" height="124.6" fill="#ebebeb" />
<line x1="677.4" y1="610.3" x2="746" y2="610.3" stroke="#fff" stroke-width="0.9" />
<line x1="677.4" y1="618.5" x2="746" y2="618.5" stroke="#f7f7f7" stroke-width="0.5" />
<line x1="677.4" y1="626.7" x2="746" y2="626.7" stroke="#fff" stroke-width="0.9" />
<line x1="677.4" y1="634.9" x2="746" y2="634.9" stroke="#f7f7f7" stroke-width="0.5" />
<line x1="677.4" y1="643.1" x2="746" y2="643.1" stroke="#fff" stroke-width="0.9" />
<line x1="677.4" y1="651.3" x2="746" y2="651.3" stroke="#f7f7f7" stroke-width="0.5" />
<line x1="677.4" y1="659.5" x2="746" y2="659.5" stroke="#fff" stroke-width="0.9" />
<line x1="677.4" y1="667.7" x2="746" y2="667.7" stroke="#f7f7f7" stroke-width="0.5" />
<line x1="677.4" y1="675.9" x2="746" y2="675.9" stroke="#fff" stroke-width="0.9" />
<line x1="677.4" y1="684.1" x2="746" y2="684.1" stroke="#f7f7f7" stroke-width="0.5" />
<line x1="677.4" y1="692.3" x2="746" y2="692.3" stroke="#fff" stroke-width="0.9" />
<line x1="677.4" y1="700.5" x2="746" y2="700.5" stroke="#f7f7f7" stroke-width="0.5" />
<line x1="677.4" y1="708.7" x2="746" y2="708.7" stroke="#fff" stroke-width="0.9" />
<line x1="677.4" y1="716.9" x2="746" y2="716.9" stroke="#f7f7f7" stroke-width="0.5" />
<line x1="677.4" y1="725.1" x2="746" y2="725.1" stroke="#fff" stroke-width="0.9" />
<line x1="690.4" y1="600.8" x2="690.4" y2="725.4" stroke="#fff" stroke-width="0.9" />
<line x1="690.4" y1="725.8" x2="690.4" y2="727.6" stroke="#444" stroke-width="0.8" />
<line x1="712" y1="600.8" x2="712" y2="725.4" stroke="#fff" stroke-width="0.9" />
<line x1="712" y1="725.8" x2="712" y2="727.6" stroke="#444" stroke-width="0.8" />
<line x1="733" y1="600.8" x2="733" y2="725.4" stroke="#fff" stroke-width="0.9" />
<line x1="733" y1="725.8" x2="733" y2="727.6" stroke="#444" stroke-width="0.8" />
<path d="M691.5 672.0h0M687.6 663.3h0M689.7 644.1h0M693.3 679.1h0M689.6 650.0h0M692.6 673.4h0M691.2 680.0h0M687.5 678.7h0M689.5 692.9h0M688.3 669.0h0M691.2 635.8h0M691.3 693.5h0M687.8 663.8h0M687.7 671.4h0M693.1 693.3h0M687.4 671.8h0M692.7 667.2h0M689.9 647.9h0M691.4 688.7h0M690.8 636.3h0M690.2 667.9h0M690.8 698.1h0M687.1 662.7h0M689.3 694.1h0M692.1 653.4h0M691.1 691.3h0M687.0 671.7h0M690.9 684.1h0M689.8 635.3h0M693.9 678.5h0M686.9 679.0h0M693.0 699.2h0M689.7 666.5h0M693.6 676.1h0M693.3 674.9h0M689.6 688.6h0M690.7 688.2h0M686.9 693.5h0M692.9 665.7h0M691.1 649.4h0M691.1 680.2h0M690.1 668.6h0M687.5 671.0h0M693.0 689.0h0M693.0 664.6h0M688.6 660.7h0M693.7 667.6h0M687.3 699.3h0M691.3 648.1h0M688.8 669.3h0" stroke="#7b90d8" stroke-width="2.3" stroke-linecap="round" stroke-opacity="0.85"/>
<path d="M691.2,634.1 C691.28,636.75 691.25,645.4 691.7,650 C692.15,654.6 693.1,657.8 693.88,661.7 C694.66,665.6 696.06,667.85 696.4,673.4 C696.74,678.95 696.32,690.22 695.9,695 C695.48,699.78 694.23,700.92 693.9,702.1 L686.9,702.1 C686.57,700.92 685.32,699.78 684.9,695 C684.48,690.22 684.06,678.95 684.4,673.4 C684.74,667.85 686.14,665.6 686.92,661.7 C687.7,657.8 688.65,654.6 689.1,650 C689.55,645.4 689.52,636.75 689.6,634.1 Z" fill="none" stroke="#262626" stroke-width="1.15"/>
<line x1="690.4" y1="634.1" x2="690.4" y2="702.1" stroke="#333" stroke-width="0.8" />
<rect x="685.4" y="669.3" width="10" height="18.3" fill="none" stroke="#333" stroke-width="0.8"/>
<line x1="685.4" y1="681.9" x2="695.4" y2="681.9" stroke="#333" stroke-width="1.4" />
<path d="M712.6,630.9 C712.6,631.47 712.6,633.18 712.61,634.32 C712.62,635.47 712.64,636.61 712.66,637.75 C712.68,638.89 712.69,640.03 712.71,641.17 C712.73,642.32 712.74,643.46 712.76,644.6 C712.78,645.74 712.79,646.88 712.81,648.02 C712.83,649.17 712.84,650.31 712.86,651.45 C712.88,652.59 712.8,653.73 712.91,654.88 C713.01,656.02 713.29,657.16 713.48,658.3 C713.68,659.44 713.88,660.58 714.08,661.73 C714.28,662.87 714.54,664.01 714.67,665.15 C714.81,666.29 714.86,667.43 714.9,668.58 C714.94,669.72 714.9,670.86 714.9,672 C714.9,673.14 714.9,674.28 714.9,675.42 C714.9,676.57 714.9,677.71 714.9,678.85 C714.9,679.99 714.9,681.13 714.9,682.27 C714.9,683.42 714.9,684.56 714.9,685.7 C714.9,686.84 714.9,687.98 714.9,689.12 C714.9,690.27 714.9,691.41 714.9,692.55 C714.9,693.69 714.9,694.83 714.9,695.98 C714.9,697.12 714.94,698.26 714.9,699.4 C714.86,700.54 714.79,701.68 714.63,702.83 C714.47,703.97 714.17,705.11 713.94,706.25 C713.71,707.39 713.47,708.53 713.25,709.68 C713.03,710.82 712.71,712.53 712.6,713.1 L711.4,713.1 C711.29,712.53 710.97,710.82 710.75,709.68 C710.53,708.53 710.29,707.39 710.06,706.25 C709.83,705.11 709.53,703.97 709.37,702.83 C709.21,701.68 709.14,700.54 709.1,699.4 C709.06,698.26 709.1,697.12 709.1,695.98 C709.1,694.83 709.1,693.69 709.1,692.55 C709.1,691.41 709.1,690.27 709.1,689.12 C709.1,687.98 709.1,686.84 709.1,685.7 C709.1,684.56 709.1,683.42 709.1,682.27 C709.1,681.13 709.1,679.99 709.1,678.85 C709.1,677.71 709.1,676.57 709.1,675.42 C709.1,674.28 709.1,673.14 709.1,672 C709.1,670.86 709.06,669.72 709.1,668.58 C709.14,667.43 709.19,666.29 709.33,665.15 C709.46,664.01 709.72,662.87 709.92,661.73 C710.12,660.58 710.32,659.44 710.52,658.3 C710.71,657.16 710.99,656.02 711.09,654.88 C711.2,653.73 711.12,652.59 711.14,651.45 C711.16,650.31 711.17,649.17 711.19,648.02 C711.21,646.88 711.22,645.74 711.24,644.6 C711.26,643.46 711.27,642.32 711.29,641.17 C711.31,640.03 711.32,638.89 711.34,637.75 C711.36,636.61 711.38,635.47 711.39,634.32 C711.4,633.18 711.4,631.47 711.4,630.9 Z" fill="#e86dc6" fill-opacity="0.9"/>
<path d="M710.6 672.9h0M710.4 705.3h0M712.1 680.0h0M712.3 684.2h0M712.8 681.5h0M712.5 645.9h0M711.4 697.5h0M713.8 702.6h0M712.9 693.8h0M709.6 674.5h0M710.7 699.8h0M712.6 647.4h0M711.8 631.5h0M715.0 700.2h0M710.7 674.2h0M712.3 649.0h0M709.0 678.0h0M713.0 700.5h0M710.6 678.9h0M712.9 692.7h0M710.8 675.7h0M713.8 670.1h0M711.3 652.2h0M714.5 704.5h0M712.4 691.3h0M712.1 682.8h0M710.5 671.6h0M713.5 703.6h0M714.9 687.3h0M711.3 691.3h0M710.0 671.9h0M712.5 687.5h0M711.6 685.7h0M711.9 710.6h0M712.6 637.3h0M714.6 661.5h0M709.2 675.7h0M713.5 686.7h0M713.4 695.6h0M711.2 658.8h0M709.4 691.7h0M711.9 632.1h0M712.3 696.2h0M714.5 690.3h0M713.2 695.5h0M712.3 663.5h0M710.4 679.3h0M711.0 653.5h0M711.2 655.9h0M710.2 672.2h0M711.6 643.6h0M711.2 638.4h0M712.9 637.6h0M709.1 692.9h0M713.2 684.0h0M711.8 686.2h0M712.9 682.7h0M712.7 695.0h0M712.1 674.7h0M712.0 648.5h0" stroke="#e056bd" stroke-width="2.3" stroke-linecap="round" stroke-opacity="0.45"/>
<path d="M712.8,630.9 C712.88,634.92 712.56,648.35 713.3,655 C714.04,661.65 715.94,665.53 717.22,670.8 C718.5,676.07 721.2,681.4 721,686.6 C720.8,691.8 717.37,697.58 716,702 C714.63,706.42 713.33,711.25 712.8,713.1 L711.2,713.1 C710.67,711.25 709.37,706.42 708,702 C706.63,697.58 703.2,691.8 703,686.6 C702.8,681.4 705.5,676.07 706.78,670.8 C708.06,665.53 709.96,661.65 710.7,655 C711.44,648.35 711.12,634.92 711.2,630.9 Z" fill="none" stroke="#262626" stroke-width="1.15"/>
<line x1="712" y1="630.9" x2="712" y2="713.1" stroke="#333" stroke-width="0.8" />
<rect x="707.55" y="680" width="8.9" height="13.3" fill="none" stroke="#333" stroke-width="0.8"/>
<line x1="707.55" y1="687" x2="716.45" y2="687" stroke="#333" stroke-width="1.4" />
<path d="M733.6,655.4 C733.6,655.8 733.61,657.01 733.63,657.82 C733.64,658.63 733.67,659.43 733.69,660.24 C733.72,661.05 733.74,661.86 733.76,662.66 C733.78,663.47 733.81,664.28 733.83,665.08 C733.85,665.89 733.8,666.7 733.9,667.5 C733.99,668.31 734.22,669.12 734.42,669.92 C734.61,670.73 734.84,671.54 735.05,672.35 C735.27,673.15 735.55,673.96 735.69,674.77 C735.83,675.57 735.87,676.38 735.9,677.19 C735.93,677.99 735.9,678.8 735.9,679.61 C735.9,680.42 735.9,681.22 735.9,682.03 C735.9,682.84 735.9,683.64 735.9,684.45 C735.9,685.26 735.9,686.06 735.9,686.87 C735.9,687.68 735.9,688.48 735.9,689.29 C735.9,690.1 735.9,690.91 735.9,691.71 C735.9,692.52 735.9,693.33 735.9,694.13 C735.9,694.94 735.9,695.75 735.9,696.55 C735.9,697.36 735.9,698.17 735.9,698.98 C735.9,699.78 735.9,700.59 735.9,701.4 C735.9,702.2 735.97,703.01 735.9,703.82 C735.83,704.62 735.65,705.43 735.47,706.24 C735.3,707.04 735.05,707.85 734.84,708.66 C734.62,709.47 734.4,710.27 734.2,711.08 C733.99,711.89 733.7,713.1 733.6,713.5 L732.4,713.5 C732.3,713.1 732.01,711.89 731.8,711.08 C731.6,710.27 731.38,709.47 731.16,708.66 C730.95,707.85 730.7,707.04 730.53,706.24 C730.35,705.43 730.17,704.62 730.1,703.82 C730.03,703.01 730.1,702.2 730.1,701.4 C730.1,700.59 730.1,699.78 730.1,698.98 C730.1,698.17 730.1,697.36 730.1,696.55 C730.1,695.75 730.1,694.94 730.1,694.13 C730.1,693.33 730.1,692.52 730.1,691.71 C730.1,690.91 730.1,690.1 730.1,689.29 C730.1,688.48 730.1,687.68 730.1,686.87 C730.1,686.06 730.1,685.26 730.1,684.45 C730.1,683.64 730.1,682.84 730.1,682.03 C730.1,681.22 730.1,680.42 730.1,679.61 C730.1,678.8 730.07,677.99 730.1,677.19 C730.13,676.38 730.17,675.57 730.31,674.77 C730.45,673.96 730.73,673.15 730.95,672.35 C731.16,671.54 731.39,670.73 731.58,669.92 C731.78,669.12 732.01,668.31 732.1,667.5 C732.2,666.7 732.15,665.89 732.17,665.08 C732.19,664.28 732.22,663.47 732.24,662.66 C732.26,661.86 732.28,661.05 732.31,660.24 C732.33,659.43 732.36,658.63 732.37,657.82 C732.39,657.01 732.4,655.8 732.4,655.4 Z" fill="#5cc79a" fill-opacity="0.9"/>
<path d="M732.7 689.3h0M735.7 685.0h0M734.3 685.4h0M732.6 662.3h0M731.5 676.0h0M733.6 709.1h0M735.2 674.0h0M732.7 679.5h0M732.7 655.8h0M734.3 679.3h0M735.4 674.5h0M734.2 672.5h0M729.8 693.4h0M735.6 671.9h0M734.8 698.8h0M731.9 665.8h0M730.8 687.4h0M736.4 701.3h0M732.7 664.7h0M735.1 702.2h0M731.8 687.0h0M733.4 657.8h0M730.8 684.9h0M734.9 671.6h0M734.6 696.3h0M730.8 697.2h0M735.4 695.8h0M733.1 707.5h0M734.1 693.2h0M732.9 685.4h0M732.2 679.4h0M732.2 698.7h0M731.9 690.8h0M733.5 693.9h0M736.6 699.1h0M730.8 689.1h0M731.2 697.6h0M734.0 683.7h0M734.5 708.2h0M732.4 686.4h0M730.0 694.2h0M730.2 685.0h0M730.4 675.3h0M732.5 687.8h0M732.4 693.6h0M733.5 656.7h0M729.6 686.0h0M732.8 678.9h0M732.2 658.2h0M735.0 687.4h0" stroke="#3fc08c" stroke-width="2.3" stroke-linecap="round" stroke-opacity="0.45"/>
<path d="M733.8,655.4 C733.88,657.5 733.51,664.03 734.3,668 C735.08,671.97 737.14,675.47 738.51,679.2 C739.88,682.93 742.75,686.1 742.5,690.4 C742.25,694.7 738.45,701.15 737,705 C735.55,708.85 734.33,712.08 733.8,713.5 L732.2,713.5 C731.67,712.08 730.45,708.85 729,705 C727.55,701.15 723.75,694.7 723.5,690.4 C723.25,686.1 726.12,682.93 727.49,679.2 C728.86,675.47 730.92,671.97 731.7,668 C732.49,664.03 732.12,657.5 732.2,655.4 Z" fill="none" stroke="#262626" stroke-width="1.15"/>
<line x1="733" y1="655.4" x2="733" y2="713.5" stroke="#333" stroke-width="0.8" />
<rect x="728.55" y="684.8" width="8.9" height="12.8" fill="none" stroke="#333" stroke-width="0.8"/>
<line x1="728.55" y1="691.9" x2="737.45" y2="691.9" stroke="#333" stroke-width="1.4" />
<path d="M690.4,629.8 V628 H712 V629.8" fill="none" stroke="#555" stroke-width="0.75"/>
<text transform="translate(701.2,626.1) scale(1,1.1)" font-size="7.8" fill="#4d4d4d" text-anchor="middle" >0.012</text>
<path d="M690.4,620 V618.2 H733 V620" fill="none" stroke="#555" stroke-width="0.75"/>
<text transform="translate(711.7,616.7) scale(1,1.1)" font-size="7.8" fill="#4d4d4d" text-anchor="middle" >2.4e−05</text>
<path d="M712,610.5 V608.7 H733 V610.5" fill="none" stroke="#555" stroke-width="0.75"/>
<text transform="translate(722.5,607.2) scale(1,1.1)" font-size="7.8" fill="#4d4d4d" text-anchor="middle" >5.6e−06</text>
<text transform="translate(680,610) scale(1,1.12)" font-size="7.75" fill="#111" font-weight="bold" >VEGFR3</text>
<text x="690.4" y="734.5" font-size="7.7" fill="#4a4a4a" text-anchor="middle" >ARG1</text>
<text x="712" y="734.5" font-size="7.7" fill="#4a4a4a" text-anchor="middle" >ARG2</text>
<text x="733" y="734.5" font-size="7.7" fill="#4a4a4a" text-anchor="middle" >ARG3</text>
<rect x="787" y="600.8" width="67.6" height="124.6" fill="#ebebeb" />
<line x1="787" y1="610.3" x2="854.6" y2="610.3" stroke="#fff" stroke-width="0.9" />
<line x1="787" y1="618.5" x2="854.6" y2="618.5" stroke="#f7f7f7" stroke-width="0.5" />
<line x1="787" y1="626.7" x2="854.6" y2="626.7" stroke="#fff" stroke-width="0.9" />
<line x1="787" y1="634.9" x2="854.6" y2="634.9" stroke="#f7f7f7" stroke-width="0.5" />
<line x1="787" y1="643.1" x2="854.6" y2="643.1" stroke="#fff" stroke-width="0.9" />
<line x1="787" y1="651.3" x2="854.6" y2="651.3" stroke="#f7f7f7" stroke-width="0.5" />
<line x1="787" y1="659.5" x2="854.6" y2="659.5" stroke="#fff" stroke-width="0.9" />
<line x1="787" y1="667.7" x2="854.6" y2="667.7" stroke="#f7f7f7" stroke-width="0.5" />
<line x1="787" y1="675.9" x2="854.6" y2="675.9" stroke="#fff" stroke-width="0.9" />
<line x1="787" y1="684.1" x2="854.6" y2="684.1" stroke="#f7f7f7" stroke-width="0.5" />
<line x1="787" y1="692.3" x2="854.6" y2="692.3" stroke="#fff" stroke-width="0.9" />
<line x1="787" y1="700.5" x2="854.6" y2="700.5" stroke="#f7f7f7" stroke-width="0.5" />
<line x1="787" y1="708.7" x2="854.6" y2="708.7" stroke="#fff" stroke-width="0.9" />
<line x1="787" y1="716.9" x2="854.6" y2="716.9" stroke="#f7f7f7" stroke-width="0.5" />
<line x1="787" y1="725.1" x2="854.6" y2="725.1" stroke="#fff" stroke-width="0.9" />
<line x1="798.6" y1="600.8" x2="798.6" y2="725.4" stroke="#fff" stroke-width="0.9" />
<line x1="798.6" y1="725.8" x2="798.6" y2="727.6" stroke="#444" stroke-width="0.8" />
<line x1="820.3" y1="600.8" x2="820.3" y2="725.4" stroke="#fff" stroke-width="0.9" />
<line x1="820.3" y1="725.8" x2="820.3" y2="727.6" stroke="#444" stroke-width="0.8" />
<line x1="841.1" y1="600.8" x2="841.1" y2="725.4" stroke="#fff" stroke-width="0.9" />
<line x1="841.1" y1="725.8" x2="841.1" y2="727.6" stroke="#444" stroke-width="0.8" />
<path d="M796.8 688.7h0M797.7 671.4h0M798.0 679.6h0M800.8 675.8h0M800.1 690.6h0M798.0 644.5h0M796.1 684.9h0M796.3 682.2h0M796.8 679.8h0M798.0 686.5h0M795.5 673.4h0M801.3 661.4h0M801.5 679.5h0M796.8 688.9h0M801.0 679.6h0M798.9 665.2h0M800.7 679.5h0M801.6 674.5h0M799.0 683.3h0M799.6 647.5h0M798.1 667.8h0M799.3 658.1h0M799.6 702.6h0M798.0 680.7h0M802.2 676.9h0M801.1 674.9h0M797.5 651.0h0M801.9 674.9h0M800.4 675.2h0M801.3 676.7h0M798.6 646.2h0M798.2 707.2h0M801.7 694.1h0M798.3 644.7h0M799.9 697.7h0M798.5 695.0h0M797.4 657.4h0M795.9 690.5h0M801.6 661.8h0M801.9 691.7h0M798.0 706.0h0M800.6 681.5h0M799.8 677.3h0M798.6 704.2h0M802.0 680.5h0M795.7 694.8h0M800.6 702.4h0M796.6 691.2h0M799.0 672.3h0M801.0 660.4h0" stroke="#7b90d8" stroke-width="2.3" stroke-linecap="round" stroke-opacity="0.85"/>
<path d="M799.4,643.5 C799.48,645.25 799.21,650.16 799.9,654 C800.59,657.84 802.33,662.37 803.53,666.55 C804.73,670.73 807.25,674.02 807.1,679.1 C806.95,684.18 803.88,692.28 802.6,697 C801.32,701.72 799.93,705.67 799.4,707.4 L797.8,707.4 C797.27,705.67 795.88,701.72 794.6,697 C793.32,692.28 790.25,684.18 790.1,679.1 C789.95,674.02 792.47,670.73 793.67,666.55 C794.87,662.37 796.61,657.84 797.3,654 C797.99,650.16 797.72,645.25 797.8,643.5 Z" fill="none" stroke="#262626" stroke-width="1.15"/>
<line x1="798.6" y1="643.5" x2="798.6" y2="707.4" stroke="#333" stroke-width="0.8" />
<rect x="794.15" y="671.9" width="8.9" height="16.6" fill="none" stroke="#333" stroke-width="0.8"/>
<line x1="794.15" y1="680.6" x2="803.05" y2="680.6" stroke="#333" stroke-width="1.4" />
<path d="M821.35,644.1 C821.42,644.53 821.62,645.81 821.76,646.66 C821.9,647.52 822.04,648.37 822.17,649.23 C822.31,650.08 822.45,650.93 822.58,651.79 C822.72,652.64 822.89,653.5 823,654.35 C823.1,655.2 823.17,656.06 823.2,656.91 C823.23,657.77 823.2,658.62 823.2,659.48 C823.2,660.33 823.2,661.18 823.2,662.04 C823.2,662.89 823.2,663.75 823.2,664.6 C823.2,665.45 823.2,666.31 823.2,667.16 C823.2,668.02 823.2,668.87 823.2,669.73 C823.2,670.58 823.2,671.43 823.2,672.29 C823.2,673.14 823.2,674 823.2,674.85 C823.2,675.7 823.2,676.56 823.2,677.41 C823.2,678.27 823.2,679.12 823.2,679.98 C823.2,680.83 823.2,681.68 823.2,682.54 C823.2,683.39 823.2,684.25 823.2,685.1 C823.2,685.95 823.2,686.81 823.2,687.66 C823.2,688.52 823.2,689.37 823.2,690.23 C823.2,691.08 823.23,691.93 823.2,692.79 C823.17,693.64 823.15,694.5 823.03,695.35 C822.91,696.2 822.67,697.06 822.48,697.91 C822.3,698.77 822.12,699.62 821.94,700.48 C821.76,701.33 821.58,702.18 821.4,703.04 C821.23,703.89 820.98,705.17 820.9,705.6 L819.7,705.6 C819.62,705.17 819.37,703.89 819.2,703.04 C819.02,702.18 818.84,701.33 818.66,700.48 C818.48,699.62 818.3,698.77 818.12,697.91 C817.93,697.06 817.69,696.2 817.57,695.35 C817.45,694.5 817.43,693.64 817.4,692.79 C817.37,691.93 817.4,691.08 817.4,690.23 C817.4,689.37 817.4,688.52 817.4,687.66 C817.4,686.81 817.4,685.95 817.4,685.1 C817.4,684.25 817.4,683.39 817.4,682.54 C817.4,681.68 817.4,680.83 817.4,679.98 C817.4,679.12 817.4,678.27 817.4,677.41 C817.4,676.56 817.4,675.7 817.4,674.85 C817.4,674 817.4,673.14 817.4,672.29 C817.4,671.43 817.4,670.58 817.4,669.73 C817.4,668.87 817.4,668.02 817.4,667.16 C817.4,666.31 817.4,665.45 817.4,664.6 C817.4,663.75 817.4,662.89 817.4,662.04 C817.4,661.18 817.4,660.33 817.4,659.48 C817.4,658.62 817.37,657.77 817.4,656.91 C817.43,656.06 817.5,655.2 817.6,654.35 C817.71,653.5 817.88,652.64 818.02,651.79 C818.15,650.93 818.29,650.08 818.43,649.23 C818.56,648.37 818.7,647.52 818.84,646.66 C818.98,645.81 819.18,644.53 819.25,644.1 Z" fill="#e86dc6" fill-opacity="0.9"/>
<path d="M822.6 682.1h0M819.8 671.0h0M823.1 666.1h0M818.3 662.4h0M823.9 691.8h0M822.2 688.3h0M823.3 696.0h0M819.4 670.8h0M818.8 676.6h0M819.6 688.2h0M817.7 696.9h0M820.5 676.3h0M821.7 644.3h0M821.2 698.6h0M822.8 675.4h0M820.5 690.5h0M820.6 692.2h0M819.2 679.0h0M819.4 681.4h0M820.2 666.8h0M818.8 695.7h0M817.8 668.2h0M816.9 689.0h0M817.4 667.8h0M818.5 672.3h0M818.0 664.8h0M820.8 673.9h0M822.1 686.4h0M821.4 682.4h0M823.4 673.9h0M820.3 671.5h0M821.7 667.0h0M818.6 682.7h0M819.4 701.4h0M823.5 679.7h0M819.7 704.5h0M818.7 654.6h0M818.4 648.5h0M819.8 663.2h0M823.7 666.5h0M821.1 683.7h0M823.1 652.7h0M817.2 687.0h0M822.0 682.1h0M816.7 693.0h0M819.1 682.3h0M823.9 666.5h0M818.9 670.4h0M819.6 673.0h0M823.7 670.1h0M820.5 667.9h0M823.9 666.0h0M817.4 685.5h0M822.5 673.5h0M820.2 674.5h0M819.4 664.7h0M823.2 685.5h0M819.8 667.5h0M820.6 681.3h0M822.0 701.2h0" stroke="#e056bd" stroke-width="2.3" stroke-linecap="round" stroke-opacity="0.45"/>
<path d="M821.8,644.1 C822.22,645.92 823.13,649.48 824.3,655 C825.47,660.52 828.8,670.53 828.8,677.2 C828.8,683.87 825.58,690.27 824.3,695 C823.02,699.73 821.63,703.83 821.1,705.6 L819.5,705.6 C818.97,703.83 817.58,699.73 816.3,695 C815.02,690.27 811.8,683.87 811.8,677.2 C811.8,670.53 815.13,660.52 816.3,655 C817.47,649.48 818.38,645.92 818.8,644.1 Z" fill="none" stroke="#262626" stroke-width="1.15"/>
<line x1="820.3" y1="644.1" x2="820.3" y2="705.6" stroke="#333" stroke-width="0.8" />
<rect x="815.95" y="669.3" width="8.7" height="17" fill="none" stroke="#333" stroke-width="0.8"/>
<line x1="815.95" y1="678.7" x2="824.65" y2="678.7" stroke="#333" stroke-width="1.4" />
<path d="M841.7,633.3 C841.71,633.87 841.71,635.57 841.73,636.7 C841.75,637.84 841.78,638.97 841.8,640.11 C841.83,641.24 841.85,642.38 841.87,643.51 C841.9,644.65 841.91,645.78 841.95,646.92 C841.98,648.05 841.94,649.19 842.07,650.32 C842.21,651.46 842.53,652.59 842.76,653.72 C842.99,654.86 843.25,655.99 843.45,657.13 C843.66,658.26 843.91,659.4 844,660.53 C844.09,661.67 844,662.8 844,663.94 C844,665.07 844,666.21 844,667.34 C844,668.48 844,669.61 844,670.75 C844,671.88 844,673.02 844,674.15 C844,675.28 844,676.42 844,677.55 C844,678.69 844,679.82 844,680.96 C844,682.09 844,683.23 844,684.36 C844,685.5 844,686.63 844,687.77 C844,688.9 844,690.04 844,691.17 C844,692.31 844,693.44 844,694.58 C844,695.71 844.05,696.84 844,697.98 C843.95,699.11 843.83,700.25 843.69,701.38 C843.56,702.52 843.35,703.65 843.19,704.79 C843.02,705.92 842.85,707.06 842.68,708.19 C842.51,709.33 842.33,710.46 842.17,711.6 C842.01,712.73 841.78,714.43 841.7,715 L840.5,715 C840.42,714.43 840.19,712.73 840.03,711.6 C839.87,710.46 839.69,709.33 839.52,708.19 C839.35,707.06 839.18,705.92 839.01,704.79 C838.85,703.65 838.64,702.52 838.51,701.38 C838.37,700.25 838.25,699.11 838.2,697.98 C838.15,696.84 838.2,695.71 838.2,694.58 C838.2,693.44 838.2,692.31 838.2,691.17 C838.2,690.04 838.2,688.9 838.2,687.77 C838.2,686.63 838.2,685.5 838.2,684.36 C838.2,683.23 838.2,682.09 838.2,680.96 C838.2,679.82 838.2,678.69 838.2,677.55 C838.2,676.42 838.2,675.28 838.2,674.15 C838.2,673.02 838.2,671.88 838.2,670.75 C838.2,669.61 838.2,668.48 838.2,667.34 C838.2,666.21 838.2,665.07 838.2,663.94 C838.2,662.8 838.11,661.67 838.2,660.53 C838.29,659.4 838.54,658.26 838.75,657.13 C838.95,655.99 839.21,654.86 839.44,653.72 C839.67,652.59 839.99,651.46 840.13,650.32 C840.26,649.19 840.22,648.05 840.25,646.92 C840.29,645.78 840.3,644.65 840.33,643.51 C840.35,642.38 840.37,641.24 840.4,640.11 C840.42,638.97 840.45,637.84 840.47,636.7 C840.49,635.57 840.49,633.87 840.5,633.3 Z" fill="#5cc79a" fill-opacity="0.9"/>
<path d="M842.7 680.0h0M840.5 692.0h0M841.0 675.3h0M844.0 684.5h0M841.6 664.4h0M842.4 693.7h0M844.7 673.6h0M843.5 656.2h0M843.5 676.2h0M843.7 706.0h0M843.5 665.2h0M840.1 662.9h0M843.6 661.2h0M842.1 697.9h0M841.1 704.7h0M842.3 651.2h0M842.1 685.8h0M840.7 648.4h0M841.4 680.3h0M842.8 659.9h0M837.7 694.5h0M841.5 680.7h0M843.4 707.4h0M844.0 683.7h0M843.5 667.0h0M837.8 658.7h0M841.2 642.0h0M840.3 710.1h0M840.0 663.8h0M837.8 688.0h0M838.5 680.7h0M840.4 689.7h0M840.8 637.9h0M841.7 694.8h0M841.1 675.0h0M842.4 657.9h0M839.0 668.7h0M841.0 696.5h0M839.2 688.7h0M843.9 658.1h0M838.9 665.5h0M837.9 657.9h0M843.3 689.7h0M839.4 692.2h0M840.1 692.2h0M838.2 696.5h0M843.2 689.3h0M841.3 704.6h0M843.4 681.2h0M839.3 690.9h0" stroke="#3fc08c" stroke-width="2.3" stroke-linecap="round" stroke-opacity="0.45"/>
<path d="M841.9,633.3 C841.98,636.08 841.62,644.79 842.4,650 C843.18,655.21 845.24,659.7 846.61,664.55 C847.98,669.4 850.85,673.19 850.6,679.1 C850.35,685.01 846.55,694.02 845.1,700 C843.65,705.98 842.43,712.5 841.9,715 L840.3,715 C839.77,712.5 838.55,705.98 837.1,700 C835.65,694.02 831.85,685.01 831.6,679.1 C831.35,673.19 834.22,669.4 835.59,664.55 C836.96,659.7 839.02,655.21 839.8,650 C840.59,644.79 840.22,636.08 840.3,633.3 Z" fill="none" stroke="#262626" stroke-width="1.15"/>
<line x1="841.1" y1="633.3" x2="841.1" y2="715" stroke="#333" stroke-width="0.8" />
<rect x="836.4" y="666.8" width="9.4" height="19.8" fill="none" stroke="#333" stroke-width="0.8"/>
<line x1="836.4" y1="679.1" x2="845.8" y2="679.1" stroke="#333" stroke-width="1.4" />
<path d="M798.6,631.7 V629.9 H820.3 V631.7" fill="none" stroke="#555" stroke-width="0.75"/>
<text transform="translate(809.45,628) scale(1,1.1)" font-size="7.8" fill="#4d4d4d" text-anchor="middle" >0.15</text>
<path d="M798.6,621.3 V619.5 H841.1 V621.3" fill="none" stroke="#555" stroke-width="0.75"/>
<text transform="translate(819.85,618.5) scale(1,1.1)" font-size="7.8" fill="#4d4d4d" text-anchor="middle" >0.15</text>
<path d="M820.3,611.3 V609.5 H841.1 V611.3" fill="none" stroke="#555" stroke-width="0.75"/>
<text transform="translate(830.7,608.1) scale(1,1.1)" font-size="7.8" fill="#4d4d4d" text-anchor="middle" >0.88</text>
<text transform="translate(789.6,610) scale(1,1.12)" font-size="7.75" fill="#111" font-weight="bold" >ERK1</text>
<text x="798.6" y="734.5" font-size="7.7" fill="#4a4a4a" text-anchor="middle" >ARG1</text>
<text x="820.3" y="734.5" font-size="7.7" fill="#4a4a4a" text-anchor="middle" >ARG2</text>
<text x="841.1" y="734.5" font-size="7.7" fill="#4a4a4a" text-anchor="middle" >ARG3</text>
<rect x="865.4" y="600.8" width="67.7" height="124.6" fill="#ebebeb" />
<line x1="865.4" y1="610.3" x2="933.1" y2="610.3" stroke="#fff" stroke-width="0.9" />
<line x1="865.4" y1="618.5" x2="933.1" y2="618.5" stroke="#f7f7f7" stroke-width="0.5" />
<line x1="865.4" y1="626.7" x2="933.1" y2="626.7" stroke="#fff" stroke-width="0.9" />
<line x1="865.4" y1="634.9" x2="933.1" y2="634.9" stroke="#f7f7f7" stroke-width="0.5" />
<line x1="865.4" y1="643.1" x2="933.1" y2="643.1" stroke="#fff" stroke-width="0.9" />
<line x1="865.4" y1="651.3" x2="933.1" y2="651.3" stroke="#f7f7f7" stroke-width="0.5" />
<line x1="865.4" y1="659.5" x2="933.1" y2="659.5" stroke="#fff" stroke-width="0.9" />
<line x1="865.4" y1="667.7" x2="933.1" y2="667.7" stroke="#f7f7f7" stroke-width="0.5" />
<line x1="865.4" y1="675.9" x2="933.1" y2="675.9" stroke="#fff" stroke-width="0.9" />
<line x1="865.4" y1="684.1" x2="933.1" y2="684.1" stroke="#f7f7f7" stroke-width="0.5" />
<line x1="865.4" y1="692.3" x2="933.1" y2="692.3" stroke="#fff" stroke-width="0.9" />
<line x1="865.4" y1="700.5" x2="933.1" y2="700.5" stroke="#f7f7f7" stroke-width="0.5" />
<line x1="865.4" y1="708.7" x2="933.1" y2="708.7" stroke="#fff" stroke-width="0.9" />
<line x1="865.4" y1="716.9" x2="933.1" y2="716.9" stroke="#f7f7f7" stroke-width="0.5" />
<line x1="865.4" y1="725.1" x2="933.1" y2="725.1" stroke="#fff" stroke-width="0.9" />
<line x1="877.9" y1="600.8" x2="877.9" y2="725.4" stroke="#fff" stroke-width="0.9" />
<line x1="877.9" y1="725.8" x2="877.9" y2="727.6" stroke="#444" stroke-width="0.8" />
<line x1="898.7" y1="600.8" x2="898.7" y2="725.4" stroke="#fff" stroke-width="0.9" />
<line x1="898.7" y1="725.8" x2="898.7" y2="727.6" stroke="#444" stroke-width="0.8" />
<line x1="920" y1="600.8" x2="920" y2="725.4" stroke="#fff" stroke-width="0.9" />
<line x1="920" y1="725.8" x2="920" y2="727.6" stroke="#444" stroke-width="0.8" />
<path d="M878.5 691.8h0M880.5 689.1h0M879.6 694.2h0M875.5 670.7h0M874.5 697.9h0M878.2 674.5h0M874.4 689.5h0M875.0 692.9h0M877.2 670.8h0M875.5 675.9h0M881.2 683.3h0M879.7 672.0h0M880.8 675.0h0M880.4 688.6h0M874.5 685.9h0M881.0 677.7h0M881.3 682.6h0M875.1 700.5h0M881.1 685.2h0M880.8 680.8h0M880.3 696.0h0M879.3 698.8h0M875.3 703.8h0M875.1 671.3h0M877.4 688.2h0M876.1 709.9h0M880.2 706.6h0M875.5 699.4h0M881.0 698.2h0M877.9 681.2h0M879.0 712.2h0M879.0 670.2h0M876.8 673.6h0M880.4 686.3h0M878.1 703.2h0M880.8 696.6h0M879.0 670.2h0M879.2 677.3h0M881.1 690.3h0M877.0 700.7h0M875.5 701.1h0M877.7 689.5h0M878.9 673.1h0M878.3 677.4h0M877.7 697.0h0M880.6 679.5h0M878.0 670.6h0M875.1 688.3h0M874.7 681.8h0M876.7 703.7h0" stroke="#7b90d8" stroke-width="2.3" stroke-linecap="round" stroke-opacity="0.85"/>
<path d="M880.9,668.1 C881.15,668.58 881.48,668.38 882.4,671 C883.32,673.62 886.48,678.97 886.4,683.8 C886.32,688.63 883.18,694.8 881.9,700 C880.62,705.2 879.23,712.5 878.7,715 L877.1,715 C876.57,712.5 875.18,705.2 873.9,700 C872.62,694.8 869.48,688.63 869.4,683.8 C869.32,678.97 872.48,673.62 873.4,671 C874.32,668.38 874.65,668.58 874.9,668.1 Z" fill="none" stroke="#262626" stroke-width="1.15"/>
<line x1="877.9" y1="668.1" x2="877.9" y2="715" stroke="#333" stroke-width="0.8" />
<rect x="873.35" y="681.4" width="9.1" height="14.7" fill="none" stroke="#333" stroke-width="0.8"/>
<line x1="873.35" y1="687.6" x2="882.45" y2="687.6" stroke="#333" stroke-width="1.4" />
<path d="M899.3,634.1 C899.3,634.67 899.31,636.39 899.32,637.53 C899.33,638.68 899.36,639.82 899.38,640.97 C899.4,642.11 899.42,643.26 899.44,644.4 C899.46,645.54 899.48,646.69 899.5,647.83 C899.52,648.98 899.52,650.12 899.56,651.27 C899.6,652.41 899.6,653.56 899.73,654.7 C899.86,655.84 900.14,656.99 900.34,658.13 C900.54,659.28 900.74,660.42 900.94,661.57 C901.14,662.71 901.43,663.86 901.54,665 C901.65,666.14 901.59,667.29 901.6,668.43 C901.61,669.58 901.6,670.72 901.6,671.87 C901.6,673.01 901.6,674.16 901.6,675.3 C901.6,676.44 901.6,677.59 901.6,678.73 C901.6,679.88 901.6,681.02 901.6,682.17 C901.6,683.31 901.6,684.46 901.6,685.6 C901.6,686.74 901.6,687.89 901.6,689.03 C901.6,690.18 901.6,691.32 901.6,692.47 C901.6,693.61 901.6,694.76 901.6,695.9 C901.6,697.04 901.68,698.19 901.6,699.33 C901.52,700.48 901.28,701.62 901.12,702.77 C900.97,703.91 900.81,705.06 900.66,706.2 C900.5,707.34 900.35,708.49 900.19,709.63 C900.04,710.78 899.87,711.92 899.73,713.07 C899.58,714.21 899.37,715.93 899.3,716.5 L898.1,716.5 C898.03,715.93 897.82,714.21 897.67,713.07 C897.53,711.92 897.36,710.78 897.21,709.63 C897.05,708.49 896.9,707.34 896.74,706.2 C896.59,705.06 896.43,703.91 896.28,702.77 C896.12,701.62 895.88,700.48 895.8,699.33 C895.72,698.19 895.8,697.04 895.8,695.9 C895.8,694.76 895.8,693.61 895.8,692.47 C895.8,691.32 895.8,690.18 895.8,689.03 C895.8,687.89 895.8,686.74 895.8,685.6 C895.8,684.46 895.8,683.31 895.8,682.17 C895.8,681.02 895.8,679.88 895.8,678.73 C895.8,677.59 895.8,676.44 895.8,675.3 C895.8,674.16 895.8,673.01 895.8,671.87 C895.8,670.72 895.79,669.58 895.8,668.43 C895.81,667.29 895.75,666.14 895.86,665 C895.97,663.86 896.26,662.71 896.46,661.57 C896.66,660.42 896.86,659.28 897.06,658.13 C897.26,656.99 897.54,655.84 897.67,654.7 C897.8,653.56 897.8,652.41 897.84,651.27 C897.88,650.12 897.88,648.98 897.9,647.83 C897.92,646.69 897.94,645.54 897.96,644.4 C897.98,643.26 898,642.11 898.02,640.97 C898.04,639.82 898.07,638.68 898.08,637.53 C898.09,636.39 898.1,634.67 898.1,634.1 Z" fill="#e86dc6" fill-opacity="0.9"/>
<path d="M898.7 677.0h0M896.1 680.9h0M901.6 689.5h0M899.6 638.6h0M899.4 667.6h0M898.1 709.6h0M895.3 684.8h0M898.9 691.1h0M899.4 703.4h0M896.2 693.0h0M901.9 680.5h0M901.6 700.6h0M901.5 682.1h0M898.4 698.5h0M898.1 682.5h0M898.8 708.2h0M898.2 646.1h0M900.8 685.2h0M895.7 679.1h0M896.6 661.3h0M899.3 704.1h0M897.5 696.9h0M895.8 677.2h0M897.8 683.0h0M901.4 670.6h0M899.6 641.3h0M895.2 667.5h0M895.5 669.4h0M898.7 657.6h0M895.5 695.7h0M896.4 680.2h0M901.0 706.2h0M899.6 679.0h0M896.4 706.9h0M897.9 683.4h0M896.3 680.9h0M899.7 699.0h0M897.6 658.6h0M901.7 693.7h0M900.9 668.2h0M895.3 674.4h0M902.2 700.6h0M901.4 678.1h0M896.3 672.5h0M895.7 689.1h0M898.0 714.3h0M898.7 657.3h0M899.0 708.5h0M897.7 685.5h0M895.6 698.1h0M899.7 669.9h0M898.1 690.6h0M898.9 704.6h0M901.8 666.3h0M897.8 661.7h0M899.8 705.5h0M899.1 680.8h0M901.1 685.1h0M897.3 686.9h0M897.4 697.0h0" stroke="#e056bd" stroke-width="2.3" stroke-linecap="round" stroke-opacity="0.45"/>
<path d="M899.5,634.1 C899.58,637.42 899.31,648.27 900,654 C900.69,659.73 902.43,663.63 903.63,668.45 C904.83,673.27 907.36,677.64 907.2,682.9 C907.05,688.16 903.98,694.4 902.7,700 C901.42,705.6 900.03,713.75 899.5,716.5 L897.9,716.5 C897.37,713.75 895.98,705.6 894.7,700 C893.42,694.4 890.36,688.16 890.2,682.9 C890.05,677.64 892.57,673.27 893.77,668.45 C894.97,663.63 896.71,659.73 897.4,654 C898.09,648.27 897.82,637.42 897.9,634.1 Z" fill="none" stroke="#262626" stroke-width="1.15"/>
<line x1="898.7" y1="634.1" x2="898.7" y2="716.5" stroke="#333" stroke-width="0.8" />
<rect x="894.15" y="677.2" width="9.1" height="18" fill="none" stroke="#333" stroke-width="0.8"/>
<line x1="894.15" y1="686.3" x2="903.25" y2="686.3" stroke="#333" stroke-width="1.4" />
<path d="M920.6,644.1 C920.61,644.62 920.62,646.17 920.64,647.21 C920.66,648.25 920.69,649.29 920.72,650.33 C920.74,651.36 920.77,652.4 920.8,653.44 C920.82,654.48 920.78,655.51 920.87,656.55 C920.96,657.59 921.13,658.62 921.34,659.66 C921.56,660.7 921.89,661.74 922.15,662.77 C922.41,663.81 922.78,664.85 922.9,665.89 C923.02,666.93 922.9,667.96 922.9,669 C922.9,670.04 922.9,671.07 922.9,672.11 C922.9,673.15 922.9,674.19 922.9,675.23 C922.9,676.26 922.9,677.3 922.9,678.34 C922.9,679.38 922.9,680.41 922.9,681.45 C922.9,682.49 922.9,683.52 922.9,684.56 C922.9,685.6 922.9,686.64 922.9,687.67 C922.9,688.71 922.9,689.75 922.9,690.79 C922.9,691.83 922.9,692.86 922.9,693.9 C922.9,694.94 922.92,695.97 922.9,697.01 C922.88,698.05 922.87,699.09 922.79,700.12 C922.7,701.16 922.54,702.2 922.41,703.24 C922.29,704.27 922.17,705.31 922.04,706.35 C921.92,707.39 921.8,708.42 921.67,709.46 C921.55,710.5 921.43,711.54 921.3,712.57 C921.18,713.61 921.05,714.65 920.93,715.69 C920.81,716.73 920.66,718.28 920.6,718.8 L919.4,718.8 C919.34,718.28 919.19,716.73 919.07,715.69 C918.95,714.65 918.82,713.61 918.7,712.57 C918.57,711.54 918.45,710.5 918.33,709.46 C918.2,708.42 918.08,707.39 917.96,706.35 C917.83,705.31 917.71,704.27 917.59,703.24 C917.46,702.2 917.3,701.16 917.21,700.12 C917.13,699.09 917.12,698.05 917.1,697.01 C917.08,695.97 917.1,694.94 917.1,693.9 C917.1,692.86 917.1,691.83 917.1,690.79 C917.1,689.75 917.1,688.71 917.1,687.67 C917.1,686.64 917.1,685.6 917.1,684.56 C917.1,683.52 917.1,682.49 917.1,681.45 C917.1,680.41 917.1,679.38 917.1,678.34 C917.1,677.3 917.1,676.26 917.1,675.23 C917.1,674.19 917.1,673.15 917.1,672.11 C917.1,671.07 917.1,670.04 917.1,669 C917.1,667.96 916.98,666.93 917.1,665.89 C917.22,664.85 917.59,663.81 917.85,662.77 C918.11,661.74 918.44,660.7 918.66,659.66 C918.87,658.62 919.04,657.59 919.13,656.55 C919.22,655.51 919.18,654.48 919.2,653.44 C919.23,652.4 919.26,651.36 919.28,650.33 C919.31,649.29 919.34,648.25 919.36,647.21 C919.38,646.17 919.39,644.62 919.4,644.1 Z" fill="#5cc79a" fill-opacity="0.9"/>
<path d="M923.3 696.1h0M916.7 676.6h0M922.2 688.5h0M922.9 670.6h0M916.5 674.8h0M917.1 677.1h0M918.0 679.5h0M923.5 692.3h0M921.3 660.0h0M922.3 689.2h0M920.0 684.0h0M921.2 679.3h0M920.0 701.3h0M918.8 695.1h0M917.2 683.3h0M921.1 709.3h0M921.4 672.4h0M921.5 676.8h0M920.2 654.9h0M918.3 662.1h0M916.7 695.4h0M921.6 687.6h0M922.3 685.0h0M916.8 682.0h0M919.7 691.3h0M922.1 680.7h0M921.3 660.0h0M919.8 664.6h0M919.9 656.0h0M923.3 699.4h0M917.1 663.6h0M918.7 673.5h0M922.7 675.3h0M923.5 666.3h0M921.1 667.0h0M919.4 669.1h0M921.4 698.4h0M919.0 673.2h0M921.9 668.4h0M921.5 683.3h0M920.4 649.1h0M922.6 682.1h0M919.5 674.6h0M921.6 701.6h0M920.0 682.5h0M923.1 687.5h0M920.5 685.8h0M920.9 713.5h0M922.4 702.0h0M918.6 683.2h0" stroke="#3fc08c" stroke-width="2.3" stroke-linecap="round" stroke-opacity="0.45"/>
<path d="M920.8,644.1 C920.88,646.42 920.56,653.92 921.3,658 C922.04,662.08 923.94,665.03 925.22,668.55 C926.5,672.07 929.2,673.86 929,679.1 C928.8,684.34 925.37,693.38 924,700 C922.63,706.62 921.33,715.67 920.8,718.8 L919.2,718.8 C918.67,715.67 917.37,706.62 916,700 C914.63,693.38 911.2,684.34 911,679.1 C910.8,673.86 913.5,672.07 914.78,668.55 C916.06,665.03 917.96,662.08 918.7,658 C919.44,653.92 919.12,646.42 919.2,644.1 Z" fill="none" stroke="#262626" stroke-width="1.15"/>
<line x1="920" y1="644.1" x2="920" y2="718.8" stroke="#333" stroke-width="0.8" />
<rect x="915.3" y="674.4" width="9.4" height="17" fill="none" stroke="#333" stroke-width="0.8"/>
<line x1="915.3" y1="681.4" x2="924.7" y2="681.4" stroke="#333" stroke-width="1.4" />
<path d="M877.9,633.2 V631.4 H898.7 V633.2" fill="none" stroke="#555" stroke-width="0.75"/>
<text transform="translate(888.3,629.3) scale(1,1.1)" font-size="7.8" fill="#4d4d4d" text-anchor="middle" >0.14</text>
<path d="M877.9,621.3 V619.5 H920 V621.3" fill="none" stroke="#555" stroke-width="0.75"/>
<text transform="translate(898.95,618.5) scale(1,1.1)" font-size="7.8" fill="#4d4d4d" text-anchor="middle" >0.003</text>
<path d="M898.7,611.3 V609.5 H920 V611.3" fill="none" stroke="#555" stroke-width="0.75"/>
<text transform="translate(909.35,608.1) scale(1,1.1)" font-size="7.8" fill="#4d4d4d" text-anchor="middle" >0.0092</text>
<text transform="translate(868,610) scale(1,1.12)" font-size="7.75" fill="#111" font-weight="bold" >ERK2</text>
<text x="877.9" y="734.5" font-size="7.7" fill="#4a4a4a" text-anchor="middle" >ARG1</text>
<text x="898.7" y="734.5" font-size="7.7" fill="#4a4a4a" text-anchor="middle" >ARG2</text>
<text x="920" y="734.5" font-size="7.7" fill="#4a4a4a" text-anchor="middle" >ARG3</text>
<rect x="943.5" y="600.8" width="68.5" height="124.6" fill="#ebebeb" />
<line x1="943.5" y1="610.3" x2="1012" y2="610.3" stroke="#fff" stroke-width="0.9" />
<line x1="943.5" y1="618.5" x2="1012" y2="618.5" stroke="#f7f7f7" stroke-width="0.5" />
<line x1="943.5" y1="626.7" x2="1012" y2="626.7" stroke="#fff" stroke-width="0.9" />
<line x1="943.5" y1="634.9" x2="1012" y2="634.9" stroke="#f7f7f7" stroke-width="0.5" />
<line x1="943.5" y1="643.1" x2="1012" y2="643.1" stroke="#fff" stroke-width="0.9" />
<line x1="943.5" y1="651.3" x2="1012" y2="651.3" stroke="#f7f7f7" stroke-width="0.5" />
<line x1="943.5" y1="659.5" x2="1012" y2="659.5" stroke="#fff" stroke-width="0.9" />
<line x1="943.5" y1="667.7" x2="1012" y2="667.7" stroke="#f7f7f7" stroke-width="0.5" />
<line x1="943.5" y1="675.9" x2="1012" y2="675.9" stroke="#fff" stroke-width="0.9" />
<line x1="943.5" y1="684.1" x2="1012" y2="684.1" stroke="#f7f7f7" stroke-width="0.5" />
<line x1="943.5" y1="692.3" x2="1012" y2="692.3" stroke="#fff" stroke-width="0.9" />
<line x1="943.5" y1="700.5" x2="1012" y2="700.5" stroke="#f7f7f7" stroke-width="0.5" />
<line x1="943.5" y1="708.7" x2="1012" y2="708.7" stroke="#fff" stroke-width="0.9" />
<line x1="943.5" y1="716.9" x2="1012" y2="716.9" stroke="#f7f7f7" stroke-width="0.5" />
<line x1="943.5" y1="725.1" x2="1012" y2="725.1" stroke="#fff" stroke-width="0.9" />
<line x1="956.4" y1="600.8" x2="956.4" y2="725.4" stroke="#fff" stroke-width="0.9" />
<line x1="956.4" y1="725.8" x2="956.4" y2="727.6" stroke="#444" stroke-width="0.8" />
<line x1="977.6" y1="600.8" x2="977.6" y2="725.4" stroke="#fff" stroke-width="0.9" />
<line x1="977.6" y1="725.8" x2="977.6" y2="727.6" stroke="#444" stroke-width="0.8" />
<line x1="998.8" y1="600.8" x2="998.8" y2="725.4" stroke="#fff" stroke-width="0.9" />
<line x1="998.8" y1="725.8" x2="998.8" y2="727.6" stroke="#444" stroke-width="0.8" />
<path d="M954.1 698.0h0M957.4 679.1h0M958.0 692.1h0M953.8 690.7h0M954.5 700.2h0M959.8 702.4h0M958.1 702.5h0M957.8 700.4h0M954.6 689.8h0M954.5 695.5h0M957.2 705.0h0M954.7 692.3h0M952.9 695.1h0M955.4 710.2h0M955.8 697.5h0M953.7 685.3h0M955.5 701.8h0M957.2 704.2h0M958.4 692.7h0M958.3 683.5h0M954.3 693.4h0M955.5 681.8h0M954.7 698.4h0M955.9 682.7h0M953.9 682.3h0M953.0 698.2h0M956.0 708.9h0M959.1 680.0h0M958.8 687.5h0M956.1 712.4h0M955.0 709.0h0M956.8 677.1h0M957.4 684.6h0M959.1 683.1h0M956.9 692.8h0M957.9 687.9h0M954.6 698.2h0M954.4 690.1h0M955.0 694.5h0M953.1 700.0h0M953.9 681.0h0M957.3 697.7h0M959.0 706.5h0M956.3 693.3h0M956.7 677.0h0M953.1 706.6h0M958.9 704.6h0M956.6 698.5h0M959.6 706.6h0M957.1 678.5h0" stroke="#7b90d8" stroke-width="2.3" stroke-linecap="round" stroke-opacity="0.85"/>
<path d="M959.9,676.3 C960.23,676.92 961.07,677.32 961.9,680 C962.73,682.68 965.15,688.23 964.9,692.4 C964.65,696.57 961.68,701.15 960.4,705 C959.12,708.85 957.73,713.75 957.2,715.5 L955.6,715.5 C955.07,713.75 953.68,708.85 952.4,705 C951.12,701.15 948.15,696.57 947.9,692.4 C947.65,688.23 950.07,682.68 950.9,680 C951.73,677.32 952.57,676.92 952.9,676.3 Z" fill="none" stroke="#262626" stroke-width="1.15"/>
<line x1="956.4" y1="676.3" x2="956.4" y2="715.5" stroke="#333" stroke-width="0.8" />
<rect x="952.15" y="688.6" width="8.5" height="14.7" fill="none" stroke="#333" stroke-width="0.8"/>
<line x1="952.15" y1="694.3" x2="960.65" y2="694.3" stroke="#333" stroke-width="1.4" />
<path d="M978.2,633.7 C978.2,634.25 978.19,635.91 978.2,637.01 C978.21,638.12 978.22,639.22 978.23,640.33 C978.24,641.43 978.26,642.53 978.27,643.64 C978.28,644.74 978.29,645.85 978.3,646.95 C978.32,648.05 978.33,649.16 978.34,650.26 C978.35,651.37 978.36,652.47 978.38,653.58 C978.39,654.68 978.4,655.78 978.41,656.89 C978.42,657.99 978.44,659.1 978.45,660.2 C978.46,661.3 978.44,662.41 978.48,663.51 C978.53,664.62 978.54,665.72 978.71,666.83 C978.89,667.93 979.25,669.03 979.53,670.14 C979.8,671.24 980.18,672.35 980.34,673.45 C980.5,674.55 980.47,675.66 980.5,676.76 C980.53,677.87 980.5,678.97 980.5,680.08 C980.5,681.18 980.5,682.28 980.5,683.39 C980.5,684.49 980.5,685.6 980.5,686.7 C980.5,687.8 980.5,688.91 980.5,690.01 C980.5,691.12 980.5,692.22 980.5,693.33 C980.5,694.43 980.51,695.53 980.5,696.64 C980.49,697.74 980.52,698.85 980.41,699.95 C980.3,701.05 980.03,702.16 979.85,703.26 C979.66,704.37 979.47,705.47 979.28,706.58 C979.1,707.68 978.9,708.78 978.72,709.89 C978.54,710.99 978.29,712.65 978.2,713.2 L977,713.2 C976.91,712.65 976.66,710.99 976.48,709.89 C976.3,708.78 976.1,707.68 975.92,706.58 C975.73,705.47 975.54,704.37 975.35,703.26 C975.17,702.16 974.9,701.05 974.79,699.95 C974.68,698.85 974.71,697.74 974.7,696.64 C974.69,695.53 974.7,694.43 974.7,693.33 C974.7,692.22 974.7,691.12 974.7,690.01 C974.7,688.91 974.7,687.8 974.7,686.7 C974.7,685.6 974.7,684.49 974.7,683.39 C974.7,682.28 974.7,681.18 974.7,680.08 C974.7,678.97 974.67,677.87 974.7,676.76 C974.73,675.66 974.7,674.55 974.86,673.45 C975.02,672.35 975.4,671.24 975.67,670.14 C975.95,669.03 976.31,667.93 976.49,666.83 C976.66,665.72 976.67,664.62 976.72,663.51 C976.76,662.41 976.74,661.3 976.75,660.2 C976.76,659.1 976.78,657.99 976.79,656.89 C976.8,655.78 976.81,654.68 976.82,653.58 C976.84,652.47 976.85,651.37 976.86,650.26 C976.87,649.16 976.88,648.05 976.9,646.95 C976.91,645.85 976.92,644.74 976.93,643.64 C976.94,642.53 976.96,641.43 976.97,640.33 C976.98,639.22 976.99,638.12 977,637.01 C977.01,635.91 977,634.25 977,633.7 Z" fill="#e86dc6" fill-opacity="0.9"/>
<path d="M980.6 687.5h0M977.7 649.7h0M980.6 678.8h0M974.8 688.8h0M978.0 681.0h0M974.3 685.8h0M977.5 640.6h0M980.9 699.9h0M979.8 706.3h0M979.0 705.5h0M977.1 706.7h0M980.6 695.0h0M980.1 703.2h0M976.2 697.5h0M978.1 633.8h0M979.4 668.7h0M976.9 656.4h0M977.8 654.6h0M978.5 658.7h0M976.4 663.0h0M978.0 677.6h0M975.6 682.9h0M979.7 676.9h0M977.5 647.1h0M977.3 660.4h0M977.7 703.4h0M976.4 681.4h0M978.9 691.8h0M976.6 661.7h0M976.0 677.7h0M976.9 675.5h0M976.5 675.3h0M976.8 648.4h0M977.4 656.3h0M979.4 679.3h0M978.0 687.7h0M976.4 663.2h0M977.1 712.1h0M977.2 707.7h0M976.9 659.0h0M974.7 683.0h0M974.5 680.4h0M977.8 638.2h0M976.1 698.7h0M977.1 692.2h0M978.8 675.8h0M978.7 672.1h0M975.3 677.8h0M977.5 668.1h0M978.7 679.3h0M975.8 690.2h0M978.2 687.4h0M974.4 681.8h0M975.9 689.8h0M974.6 694.5h0M980.4 695.0h0M976.8 664.7h0M974.2 675.9h0M980.3 690.8h0M976.2 686.6h0" stroke="#e056bd" stroke-width="2.3" stroke-linecap="round" stroke-opacity="0.45"/>
<path d="M978.4,633.7 C978.48,639.08 978.21,658.89 978.9,666 C979.59,673.11 981.33,672.9 982.53,676.35 C983.73,679.8 986.25,682.76 986.1,686.7 C985.95,690.64 982.88,695.58 981.6,700 C980.32,704.42 978.93,711 978.4,713.2 L976.8,713.2 C976.27,711 974.88,704.42 973.6,700 C972.32,695.58 969.25,690.64 969.1,686.7 C968.95,682.76 971.47,679.8 972.67,676.35 C973.87,672.9 975.61,673.11 976.3,666 C976.99,658.89 976.72,639.08 976.8,633.7 Z" fill="none" stroke="#262626" stroke-width="1.15"/>
<line x1="977.6" y1="633.7" x2="977.6" y2="713.2" stroke="#333" stroke-width="0.8" />
<rect x="972.9" y="682" width="9.4" height="14.2" fill="none" stroke="#333" stroke-width="0.8"/>
<line x1="972.9" y1="689.5" x2="982.3" y2="689.5" stroke="#333" stroke-width="1.4" />
<path d="M999.4,647.3 C999.4,647.8 999.41,649.3 999.42,650.3 C999.43,651.29 999.46,652.29 999.48,653.29 C999.5,654.29 999.52,655.29 999.54,656.29 C999.56,657.29 999.58,658.28 999.6,659.28 C999.62,660.28 999.62,661.28 999.66,662.28 C999.69,663.28 999.63,664.28 999.78,665.27 C999.94,666.27 1000.33,667.27 1000.6,668.27 C1000.87,669.27 1001.23,670.27 1001.41,671.27 C1001.6,672.27 1001.65,673.26 1001.7,674.26 C1001.75,675.26 1001.7,676.26 1001.7,677.26 C1001.7,678.26 1001.7,679.26 1001.7,680.25 C1001.7,681.25 1001.7,682.25 1001.7,683.25 C1001.7,684.25 1001.7,685.25 1001.7,686.25 C1001.7,687.24 1001.7,688.24 1001.7,689.24 C1001.7,690.24 1001.7,691.24 1001.7,692.24 C1001.7,693.24 1001.7,694.23 1001.7,695.23 C1001.7,696.23 1001.7,697.23 1001.7,698.23 C1001.7,699.23 1001.7,700.23 1001.7,701.23 C1001.7,702.22 1001.77,703.22 1001.7,704.22 C1001.63,705.22 1001.4,706.22 1001.25,707.22 C1001.1,708.22 1000.94,709.21 1000.78,710.21 C1000.62,711.21 1000.46,712.21 1000.31,713.21 C1000.15,714.21 999.98,715.21 999.83,716.2 C999.68,717.2 999.47,718.7 999.4,719.2 L998.2,719.2 C998.13,718.7 997.92,717.2 997.77,716.2 C997.62,715.21 997.45,714.21 997.29,713.21 C997.14,712.21 996.98,711.21 996.82,710.21 C996.66,709.21 996.5,708.22 996.35,707.22 C996.2,706.22 995.97,705.22 995.9,704.22 C995.83,703.22 995.9,702.22 995.9,701.23 C995.9,700.23 995.9,699.23 995.9,698.23 C995.9,697.23 995.9,696.23 995.9,695.23 C995.9,694.23 995.9,693.24 995.9,692.24 C995.9,691.24 995.9,690.24 995.9,689.24 C995.9,688.24 995.9,687.24 995.9,686.25 C995.9,685.25 995.9,684.25 995.9,683.25 C995.9,682.25 995.9,681.25 995.9,680.25 C995.9,679.26 995.9,678.26 995.9,677.26 C995.9,676.26 995.85,675.26 995.9,674.26 C995.95,673.26 996,672.27 996.19,671.27 C996.37,670.27 996.73,669.27 997,668.27 C997.27,667.27 997.66,666.27 997.82,665.27 C997.97,664.28 997.91,663.28 997.94,662.28 C997.98,661.28 997.98,660.28 998,659.28 C998.02,658.28 998.04,657.29 998.06,656.29 C998.08,655.29 998.1,654.29 998.12,653.29 C998.14,652.29 998.17,651.29 998.18,650.3 C998.19,649.3 998.2,647.8 998.2,647.3 Z" fill="#5cc79a" fill-opacity="0.9"/>
<path d="M996.8 689.1h0M998.6 695.3h0M999.5 710.0h0M997.5 674.8h0M997.8 704.6h0M997.0 696.9h0M999.8 661.2h0M1000.1 683.5h0M996.1 679.0h0M999.8 664.7h0M998.7 703.3h0M997.0 689.7h0M998.4 700.6h0M997.7 688.4h0M1000.7 702.8h0M1000.5 679.8h0M997.2 671.7h0M999.6 690.8h0M999.3 680.7h0M1000.2 667.8h0M998.0 696.6h0M1002.0 698.0h0M997.2 701.1h0M995.6 678.1h0M997.2 682.9h0M997.0 694.8h0M1002.2 695.8h0M1001.7 684.3h0M999.9 692.2h0M999.7 658.3h0M996.7 680.6h0M1001.0 681.1h0M998.0 690.2h0M999.3 662.5h0M998.1 669.7h0M1002.2 675.0h0M998.1 699.1h0M998.7 663.5h0M998.6 693.3h0M998.0 703.6h0M999.0 653.0h0M1002.2 705.3h0M999.0 713.0h0M997.8 695.7h0M998.3 699.2h0M998.6 687.8h0M998.9 668.5h0M998.8 697.8h0M1002.3 695.5h0M999.0 662.7h0" stroke="#3fc08c" stroke-width="2.3" stroke-linecap="round" stroke-opacity="0.45"/>
<path d="M999.6,647.3 C999.68,650.25 999.31,660.24 1000.1,665 C1000.88,669.76 1002.94,672.23 1004.31,675.85 C1005.68,679.47 1008.55,681.84 1008.3,686.7 C1008.05,691.56 1004.25,699.58 1002.8,705 C1001.35,710.42 1000.13,716.83 999.6,719.2 L998,719.2 C997.47,716.83 996.25,710.42 994.8,705 C993.35,699.58 989.55,691.56 989.3,686.7 C989.05,681.84 991.92,679.47 993.29,675.85 C994.66,672.23 996.72,669.76 997.5,665 C998.28,660.24 997.92,650.25 998,647.3 Z" fill="none" stroke="#262626" stroke-width="1.15"/>
<line x1="998.8" y1="647.3" x2="998.8" y2="719.2" stroke="#333" stroke-width="0.8" />
<rect x="994.05" y="680.1" width="9.5" height="15.1" fill="none" stroke="#333" stroke-width="0.8"/>
<line x1="994.05" y1="688.6" x2="1003.55" y2="688.6" stroke="#333" stroke-width="1.4" />
<path d="M956.4,631.4 V629.6 H977.6 V631.4" fill="none" stroke="#555" stroke-width="0.75"/>
<text transform="translate(967,628) scale(1,1.1)" font-size="7.8" fill="#4d4d4d" text-anchor="middle" >0.00049</text>
<path d="M956.4,620.8 V619 H998.8 V620.8" fill="none" stroke="#555" stroke-width="0.75"/>
<text transform="translate(977.6,618) scale(1,1.1)" font-size="7.8" fill="#4d4d4d" text-anchor="middle" >9.9e−05</text>
<path d="M977.6,610.9 V609.1 H998.8 V610.9" fill="none" stroke="#555" stroke-width="0.75"/>
<text transform="translate(988.2,607.8) scale(1,1.1)" font-size="7.8" fill="#4d4d4d" text-anchor="middle" >0.21</text>
<text transform="translate(946.1,610) scale(1,1.12)" font-size="7.75" fill="#111" font-weight="bold" >MET</text>
<text x="956.4" y="734.5" font-size="7.7" fill="#4a4a4a" text-anchor="middle" >ARG1</text>
<text x="977.6" y="734.5" font-size="7.7" fill="#4a4a4a" text-anchor="middle" >ARG2</text>
<text x="998.8" y="734.5" font-size="7.7" fill="#4a4a4a" text-anchor="middle" >ARG3</text>
<defs><linearGradient id="gD0" x1="0" y1="0" x2="0" y2="1"><stop offset="0" stop-color="#ff2626"/><stop offset="0.16" stop-color="#f4424f"/><stop offset="0.45" stop-color="#cdb3bd"/><stop offset="0.56" stop-color="#bccabf"/><stop offset="0.8" stop-color="#7de08e"/><stop offset="0.93" stop-color="#2ef048"/><stop offset="1" stop-color="#1ef03a"/></linearGradient></defs>
<rect x="27.6" y="425.2" width="7.3" height="123.4" fill="url(#gD0)" />
<text transform="translate(34.15,441.7) rotate(-90)" font-size="8.2" fill="#222">high</text>
<text transform="translate(34.15,547.4) rotate(-90)" font-size="8.2" fill="#222">low</text>
<defs><linearGradient id="gD1" x1="0" y1="0" x2="0" y2="1"><stop offset="0" stop-color="#ff2626"/><stop offset="0.16" stop-color="#f4424f"/><stop offset="0.45" stop-color="#cdb3bd"/><stop offset="0.56" stop-color="#bccabf"/><stop offset="0.8" stop-color="#7de08e"/><stop offset="0.93" stop-color="#2ef048"/><stop offset="1" stop-color="#1ef03a"/></linearGradient></defs>
<rect x="295.3" y="425.2" width="7" height="123.4" fill="url(#gD1)" />
<text transform="translate(301.7,441.7) rotate(-90)" font-size="8.2" fill="#222">high</text>
<text transform="translate(301.7,547.4) rotate(-90)" font-size="8.2" fill="#222">low</text>
<defs><linearGradient id="gD2" x1="0" y1="0" x2="0" y2="1"><stop offset="0" stop-color="#ff2626"/><stop offset="0.16" stop-color="#f4424f"/><stop offset="0.45" stop-color="#cdb3bd"/><stop offset="0.56" stop-color="#bccabf"/><stop offset="0.8" stop-color="#7de08e"/><stop offset="0.93" stop-color="#2ef048"/><stop offset="1" stop-color="#1ef03a"/></linearGradient></defs>
<rect x="403.3" y="425.2" width="7" height="123.4" fill="url(#gD2)" />
<text transform="translate(409.7,441.7) rotate(-90)" font-size="8.2" fill="#222">high</text>
<text transform="translate(409.7,547.4) rotate(-90)" font-size="8.2" fill="#222">low</text>
<defs><linearGradient id="gD3" x1="0" y1="0" x2="0" y2="1"><stop offset="0" stop-color="#ff2626"/><stop offset="0.16" stop-color="#f4424f"/><stop offset="0.45" stop-color="#cdb3bd"/><stop offset="0.56" stop-color="#bccabf"/><stop offset="0.8" stop-color="#7de08e"/><stop offset="0.93" stop-color="#2ef048"/><stop offset="1" stop-color="#1ef03a"/></linearGradient></defs>
<rect x="511.2" y="425.2" width="7.1" height="123.4" fill="url(#gD3)" />
<text transform="translate(517.65,441.7) rotate(-90)" font-size="8.2" fill="#222">high</text>
<text transform="translate(517.65,547.4) rotate(-90)" font-size="8.2" fill="#222">low</text>
<defs><linearGradient id="gD4" x1="0" y1="0" x2="0" y2="1"><stop offset="0" stop-color="#ff2626"/><stop offset="0.16" stop-color="#f4424f"/><stop offset="0.45" stop-color="#cdb3bd"/><stop offset="0.56" stop-color="#bccabf"/><stop offset="0.8" stop-color="#7de08e"/><stop offset="0.93" stop-color="#2ef048"/><stop offset="1" stop-color="#1ef03a"/></linearGradient></defs>
<rect x="777.4" y="425.2" width="7.2" height="123.4" fill="url(#gD4)" />
<text transform="translate(783.9,441.7) rotate(-90)" font-size="8.2" fill="#222">high</text>
<text transform="translate(783.9,547.4) rotate(-90)" font-size="8.2" fill="#222">low</text>
<defs><linearGradient id="gE0" x1="0" y1="0" x2="0" y2="1"><stop offset="0" stop-color="#ff2626"/><stop offset="0.16" stop-color="#f4424f"/><stop offset="0.45" stop-color="#cdb3bd"/><stop offset="0.56" stop-color="#bccabf"/><stop offset="0.8" stop-color="#7de08e"/><stop offset="0.93" stop-color="#2ef048"/><stop offset="1" stop-color="#1ef03a"/></linearGradient></defs>
<rect x="27.6" y="600.8" width="7.3" height="123.8" fill="url(#gE0)" />
<text transform="translate(34.15,617.3) rotate(-90)" font-size="8.2" fill="#222">high</text>
<text transform="translate(34.15,723.4) rotate(-90)" font-size="8.2" fill="#222">low</text>
<defs><linearGradient id="gE1" x1="0" y1="0" x2="0" y2="1"><stop offset="0" stop-color="#ff2626"/><stop offset="0.16" stop-color="#f4424f"/><stop offset="0.45" stop-color="#cdb3bd"/><stop offset="0.56" stop-color="#bccabf"/><stop offset="0.8" stop-color="#7de08e"/><stop offset="0.93" stop-color="#2ef048"/><stop offset="1" stop-color="#1ef03a"/></linearGradient></defs>
<rect x="295.3" y="600.8" width="7" height="123.8" fill="url(#gE1)" />
<text transform="translate(301.7,617.3) rotate(-90)" font-size="8.2" fill="#222">high</text>
<text transform="translate(301.7,723.4) rotate(-90)" font-size="8.2" fill="#222">low</text>
<defs><linearGradient id="gE2" x1="0" y1="0" x2="0" y2="1"><stop offset="0" stop-color="#ff2626"/><stop offset="0.16" stop-color="#f4424f"/><stop offset="0.45" stop-color="#cdb3bd"/><stop offset="0.56" stop-color="#bccabf"/><stop offset="0.8" stop-color="#7de08e"/><stop offset="0.93" stop-color="#2ef048"/><stop offset="1" stop-color="#1ef03a"/></linearGradient></defs>
<rect x="403.3" y="600.8" width="7" height="123.8" fill="url(#gE2)" />
<text transform="translate(409.7,617.3) rotate(-90)" font-size="8.2" fill="#222">high</text>
<text transform="translate(409.7,723.4) rotate(-90)" font-size="8.2" fill="#222">low</text>
<defs><linearGradient id="gE3" x1="0" y1="0" x2="0" y2="1"><stop offset="0" stop-color="#ff2626"/><stop offset="0.16" stop-color="#f4424f"/><stop offset="0.45" stop-color="#cdb3bd"/><stop offset="0.56" stop-color="#bccabf"/><stop offset="0.8" stop-color="#7de08e"/><stop offset="0.93" stop-color="#2ef048"/><stop offset="1" stop-color="#1ef03a"/></linearGradient></defs>
<rect x="511.2" y="600.8" width="7.1" height="123.8" fill="url(#gE3)" />
<text transform="translate(517.65,617.3) rotate(-90)" font-size="8.2" fill="#222">high</text>
<text transform="translate(517.65,723.4) rotate(-90)" font-size="8.2" fill="#222">low</text>
<defs><linearGradient id="gE4" x1="0" y1="0" x2="0" y2="1"><stop offset="0" stop-color="#ff2626"/><stop offset="0.16" stop-color="#f4424f"/><stop offset="0.45" stop-color="#cdb3bd"/><stop offset="0.56" stop-color="#bccabf"/><stop offset="0.8" stop-color="#7de08e"/><stop offset="0.93" stop-color="#2ef048"/><stop offset="1" stop-color="#1ef03a"/></linearGradient></defs>
<rect x="777.4" y="600.8" width="7.2" height="123.8" fill="url(#gE4)" />
<text transform="translate(783.9,617.3) rotate(-90)" font-size="8.2" fill="#222">high</text>
<text transform="translate(783.9,723.4) rotate(-90)" font-size="8.2" fill="#222">low</text>
<line x1="37" y1="561.1" x2="263" y2="561.1" stroke="#3a3a3a" stroke-width="1.3" />
<text x="37.4" y="568.6" font-size="7.95" fill="#111" font-weight="bold" textLength="130" lengthAdjust="spacingAndGlyphs" >JAKs expression in ARG subtypes</text>
<line x1="520.6" y1="561.1" x2="746" y2="561.1" stroke="#3a3a3a" stroke-width="1.3" />
<text x="521" y="568.6" font-size="7.95" fill="#111" font-weight="bold" textLength="140.1" lengthAdjust="spacingAndGlyphs" >VEGFRs expression in ARG subtypes</text>
<line x1="787" y1="561.1" x2="1012" y2="561.1" stroke="#3a3a3a" stroke-width="1.3" />
<text x="787.4" y="568.6" font-size="7.95" fill="#111" font-weight="bold" textLength="136.2" lengthAdjust="spacingAndGlyphs" >MAPKs expression in ARG subtypes</text>
<line x1="37" y1="573.3" x2="1012.4" y2="573.3" stroke="#5b5bef" stroke-width="1.1" />
<text x="37.4" y="581.6" font-size="7.95" fill="#2828d2" font-weight="bold" textLength="171.8" lengthAdjust="spacingAndGlyphs" >Targets Strength in Colorectal Cancer [TCGA]</text>
<line x1="37" y1="736.9" x2="263" y2="736.9" stroke="#3a3a3a" stroke-width="1.3" />
<text x="37.4" y="744" font-size="7.95" fill="#111" font-weight="bold" textLength="175.3" lengthAdjust="spacingAndGlyphs" >JAKs expression in ARG subtypes [GSE39582]</text>
<line x1="520.6" y1="736.9" x2="746" y2="736.9" stroke="#3a3a3a" stroke-width="1.3" />
<text x="521" y="744" font-size="7.95" fill="#111" font-weight="bold" textLength="186.7" lengthAdjust="spacingAndGlyphs" >VEGFRs expression in ARG subtypes [GSE39582]</text>
<line x1="787" y1="736.9" x2="1012" y2="736.9" stroke="#3a3a3a" stroke-width="1.3" />
<text x="787.4" y="744" font-size="7.95" fill="#111" font-weight="bold" textLength="182.9" lengthAdjust="spacingAndGlyphs" >MAPKs expression in ARG subtypes [GSE39582]</text>
<line x1="37" y1="748.3" x2="1012.4" y2="748.3" stroke="#5b5bef" stroke-width="1.1" />
<text x="37.4" y="756" font-size="7.95" fill="#2828d2" font-weight="bold" textLength="187.7" lengthAdjust="spacingAndGlyphs" >Targets Strength in Colorectal Cancer [GSE39582]</text>
<text x="3.4" y="432.6" font-size="24" fill="#000" font-weight="bold" textLength="16.2" lengthAdjust="spacingAndGlyphs" >D</text>
<text x="3.3" y="610.8" font-size="24" fill="#000" font-weight="bold" >E</text>
</svg></body></html>
